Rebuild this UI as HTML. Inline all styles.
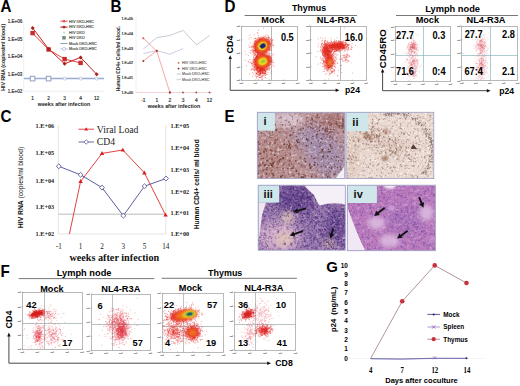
<!DOCTYPE html>
<html><head><meta charset="utf-8"><style>
html,body{margin:0;padding:0;background:#fff;}
svg{display:block;}
</style></head><body>
<svg width="520" height="386" viewBox="0 0 520 386">
<defs>
<filter id="gb" x="0" y="0" width="520" height="386" filterUnits="userSpaceOnUse"><feConvolveMatrix order="3" kernelMatrix="1 2 1 2 5 2 1 2 1" divisor="17" edgeMode="duplicate"/></filter>
<filter id="b5" x="-50%" y="-50%" width="200%" height="200%"><feGaussianBlur stdDeviation="0.5"/></filter>
<filter id="b6" x="-50%" y="-50%" width="200%" height="200%"><feGaussianBlur stdDeviation="0.6"/></filter>
<filter id="b8" x="-50%" y="-50%" width="200%" height="200%"><feGaussianBlur stdDeviation="0.8"/></filter>
<filter id="b10" x="-50%" y="-50%" width="200%" height="200%"><feGaussianBlur stdDeviation="1"/></filter>
<filter id="b15" x="-50%" y="-50%" width="200%" height="200%"><feGaussianBlur stdDeviation="1.5"/></filter>
<filter id="b20" x="-50%" y="-50%" width="200%" height="200%"><feGaussianBlur stdDeviation="2"/></filter>
<filter id="b25" x="-50%" y="-50%" width="200%" height="200%"><feGaussianBlur stdDeviation="2.5"/></filter>
<filter id="b30" x="-50%" y="-50%" width="200%" height="200%"><feGaussianBlur stdDeviation="3"/></filter>
<filter id="b40" x="-50%" y="-50%" width="200%" height="200%"><feGaussianBlur stdDeviation="4"/></filter>
<filter id="b50" x="-50%" y="-50%" width="200%" height="200%"><feGaussianBlur stdDeviation="5"/></filter>
<filter id="b60" x="-50%" y="-50%" width="200%" height="200%"><feGaussianBlur stdDeviation="6"/></filter>
<filter id="nzI" x="0" y="0" width="100%" height="100%" color-interpolation-filters="sRGB"><feTurbulence type="fractalNoise" baseFrequency="0.35" numOctaves="2" seed="3" result="n"/><feColorMatrix in="n" type="matrix" values="0 0 0 0 0.431 0 0 0 0 0.275 0 0 0 0 0.294 2.2 0 0 0 -1.220" result="d"/><feColorMatrix in="n" type="matrix" values="0 0 0 0 0.910 0 0 0 0 0.863 0 0 0 0 0.902 0 -2.4 0 0 1.150" result="l"/><feMerge result="m"><feMergeNode in="d"/><feMergeNode in="l"/></feMerge><feGaussianBlur in="m" stdDeviation="0.35"/></filter>
<filter id="nzII" x="0" y="0" width="100%" height="100%" color-interpolation-filters="sRGB"><feTurbulence type="fractalNoise" baseFrequency="0.4" numOctaves="2" seed="5" result="n"/><feColorMatrix in="n" type="matrix" values="0 0 0 0 0.588 0 0 0 0 0.471 0 0 0 0 0.431 2.0 0 0 0 -1.140" result="d"/><feColorMatrix in="n" type="matrix" values="0 0 0 0 0.988 0 0 0 0 0.973 0 0 0 0 0.961 0 -2.4 0 0 1.200" result="l"/><feMerge result="m"><feMergeNode in="d"/><feMergeNode in="l"/></feMerge><feGaussianBlur in="m" stdDeviation="0.35"/></filter>
<filter id="nzIII" x="0" y="0" width="100%" height="100%" color-interpolation-filters="sRGB"><feTurbulence type="fractalNoise" baseFrequency="0.3" numOctaves="2" seed="9" result="n"/><feColorMatrix in="n" type="matrix" values="0 0 0 0 0.314 0 0 0 0 0.176 0 0 0 0 0.451 2.0 0 0 0 -1.100" result="d"/><feColorMatrix in="n" type="matrix" values="0 0 0 0 0.910 0 0 0 0 0.804 0 0 0 0 0.894 0 -2.0 0 0 0.880" result="l"/><feMerge result="m"><feMergeNode in="d"/><feMergeNode in="l"/></feMerge><feGaussianBlur in="m" stdDeviation="0.35"/></filter>
<filter id="nzIV" x="0" y="0" width="100%" height="100%" color-interpolation-filters="sRGB"><feTurbulence type="fractalNoise" baseFrequency="0.3" numOctaves="2" seed="11" result="n"/><feColorMatrix in="n" type="matrix" values="0 0 0 0 0.431 0 0 0 0 0.314 0 0 0 0 0.667 2.0 0 0 0 -1.100" result="d"/><feColorMatrix in="n" type="matrix" values="0 0 0 0 0.894 0 0 0 0 0.725 0 0 0 0 0.894 0 -2.0 0 0 0.900" result="l"/><feMerge result="m"><feMergeNode in="d"/><feMergeNode in="l"/></feMerge><feGaussianBlur in="m" stdDeviation="0.35"/></filter>
</defs>
<rect width="520" height="386" fill="#fff"/>
<text x="0" y="0" font-family="Liberation Sans, sans-serif" font-size="16" font-weight="bold" text-anchor="start" fill="#000" transform="translate(0.5 12.2) scale(0.95 1)">A</text>
<line x1="23.7" y1="21" x2="23.7" y2="91.4" stroke="#e4e4e4" stroke-width="0.6"/>
<line x1="23.7" y1="91.4" x2="104" y2="91.4" stroke="#e4e4e4" stroke-width="0.6"/>
<text x="22.2" y="23.400000000000002" font-family="Liberation Sans, sans-serif" font-size="4.5" font-weight="normal" text-anchor="end" fill="#333" stroke="#333" stroke-width="0.18">1.E+06</text>
<text x="22.2" y="40.9" font-family="Liberation Sans, sans-serif" font-size="4.5" font-weight="normal" text-anchor="end" fill="#333" stroke="#333" stroke-width="0.18">1.E+05</text>
<text x="22.2" y="58.1" font-family="Liberation Sans, sans-serif" font-size="4.5" font-weight="normal" text-anchor="end" fill="#333" stroke="#333" stroke-width="0.18">1.E+04</text>
<text x="22.2" y="75.6" font-family="Liberation Sans, sans-serif" font-size="4.5" font-weight="normal" text-anchor="end" fill="#333" stroke="#333" stroke-width="0.18">1.E+03</text>
<text x="22.2" y="93.0" font-family="Liberation Sans, sans-serif" font-size="4.5" font-weight="normal" text-anchor="end" fill="#333" stroke="#333" stroke-width="0.18">1.E+02</text>
<text x="0" y="0" font-family="Liberation Sans, sans-serif" font-size="5.3" font-weight="bold" text-anchor="middle" fill="#222" transform="translate(5.2 57.3) rotate(-90)">HIV RNA (copies/ml blood)</text>
<text x="32.6" y="99.7" font-family="Liberation Sans, sans-serif" font-size="4.8" font-weight="normal" text-anchor="middle" fill="#333" stroke="#333" stroke-width="0.18">1</text>
<text x="48.6" y="99.7" font-family="Liberation Sans, sans-serif" font-size="4.8" font-weight="normal" text-anchor="middle" fill="#333" stroke="#333" stroke-width="0.18">2</text>
<text x="64.6" y="99.7" font-family="Liberation Sans, sans-serif" font-size="4.8" font-weight="normal" text-anchor="middle" fill="#333" stroke="#333" stroke-width="0.18">3</text>
<text x="80.6" y="99.7" font-family="Liberation Sans, sans-serif" font-size="4.8" font-weight="normal" text-anchor="middle" fill="#333" stroke="#333" stroke-width="0.18">4</text>
<text x="96.6" y="99.7" font-family="Liberation Sans, sans-serif" font-size="4.8" font-weight="normal" text-anchor="middle" fill="#333" stroke="#333" stroke-width="0.18">12</text>
<text x="64" y="105.6" font-family="Liberation Sans, sans-serif" font-size="5.3" font-weight="bold" text-anchor="middle" fill="#222">weeks after infection</text>
<polyline points="24.0,78.6 104.0,78.6" fill="none" stroke="#98acd4" stroke-width="1.5"/>
<rect x="30.3" y="76.3" width="4.6" height="4.6" fill="#fff" stroke="#8898b8" stroke-width="0.9"/>
<rect x="46.300000000000004" y="76.3" width="4.6" height="4.6" fill="#fff" stroke="#8898b8" stroke-width="0.9"/>
<circle cx="64.6" cy="78.6" r="1.5" fill="#fff" stroke="#b0bcd8" stroke-width="0.7"/>
<circle cx="80.6" cy="78.6" r="1.5" fill="#fff" stroke="#b0bcd8" stroke-width="0.7"/>
<circle cx="96.6" cy="78.6" r="1.5" fill="#fff" stroke="#b0bcd8" stroke-width="0.7"/>
<polyline points="32.6,33.1 48.6,49.5 64.6,59.1 80.6,62.9" fill="none" stroke="#e04848" stroke-width="1.0"/>
<polyline points="32.6,27.9 48.6,49.0 64.6,63.8 80.6,57.4 96.6,74.2" fill="none" stroke="#c02222" stroke-width="1.0"/>
<rect x="30.400000000000002" y="30.900000000000002" width="4.4" height="4.4" fill="#cc2a2a" stroke="none" stroke-width="1"/>
<rect x="46.4" y="47.3" width="4.4" height="4.4" fill="#cc2a2a" stroke="none" stroke-width="1"/>
<rect x="62.39999999999999" y="56.9" width="4.4" height="4.4" fill="#cc2a2a" stroke="none" stroke-width="1"/>
<rect x="78.39999999999999" y="60.699999999999996" width="4.4" height="4.4" fill="#cc2a2a" stroke="none" stroke-width="1"/>
<path d="M32.6 25.9 L34.6 27.9 L32.6 29.9 L30.6 27.9 Z" fill="#a81c1c"/>
<path d="M48.6 47.0 L50.6 49.0 L48.6 51.0 L46.6 49.0 Z" fill="#a81c1c"/>
<path d="M64.6 61.8 L66.6 63.8 L64.6 65.8 L62.599999999999994 63.8 Z" fill="#a81c1c"/>
<path d="M80.6 55.4 L82.6 57.4 L80.6 59.4 L78.6 57.4 Z" fill="#a81c1c"/>
<path d="M96.6 72.2 L98.6 74.2 L96.6 76.2 L94.6 74.2 Z" fill="#a81c1c"/>
<line x1="60.4" y1="21.2" x2="67.6" y2="21.2" stroke="#e05050" stroke-width="1.0"/>
<path d="M64 19.599999999999998 L65.6 21.2 L64 22.8 L62.4 21.2 Z" fill="#e05050"/>
<text x="69.1" y="22.55" font-family="Liberation Sans, sans-serif" font-size="3.8" font-weight="normal" text-anchor="start" fill="#3a403a" stroke="#3a403a" stroke-width="0.12">HIV DKO-HSC</text>
<line x1="60.4" y1="27.1" x2="67.6" y2="27.1" stroke="#b01818" stroke-width="1.0"/>
<path d="M64 25.5 L65.6 27.1 L64 28.700000000000003 L62.4 27.1 Z" fill="#b01818"/>
<text x="69.1" y="28.450000000000003" font-family="Liberation Sans, sans-serif" font-size="3.8" font-weight="normal" text-anchor="start" fill="#3a403a" stroke="#3a403a" stroke-width="0.12">HIV DKO-HSC</text>
<circle cx="64" cy="32.4" r="1.0" fill="#c8d8c0" stroke="none" stroke-width="1"/>
<text x="69.1" y="33.75" font-family="Liberation Sans, sans-serif" font-size="3.8" font-weight="normal" text-anchor="start" fill="#3a403a" stroke="#3a403a" stroke-width="0.12">HIV DKO</text>
<rect x="62.3" y="36.099999999999994" width="3.4" height="3.4" fill="#6a8a74" stroke="none" stroke-width="1"/>
<text x="69.1" y="39.15" font-family="Liberation Sans, sans-serif" font-size="3.8" font-weight="normal" text-anchor="start" fill="#3a403a" stroke="#3a403a" stroke-width="0.12">HIV DKO</text>
<line x1="60.4" y1="43.5" x2="67.6" y2="43.5" stroke="#8fa3c8" stroke-width="1.0"/>
<text x="69.1" y="44.85" font-family="Liberation Sans, sans-serif" font-size="3.8" font-weight="normal" text-anchor="start" fill="#3a403a" stroke="#3a403a" stroke-width="0.12">Mock DKO-HSC</text>
<line x1="60.4" y1="48.9" x2="67.6" y2="48.9" stroke="#b0b8e0" stroke-width="1.0"/>
<circle cx="64" cy="48.9" r="1.5" fill="#fff" stroke="#b0b8e0" stroke-width="0.7"/>
<text x="69.1" y="50.25" font-family="Liberation Sans, sans-serif" font-size="3.8" font-weight="normal" text-anchor="start" fill="#3a403a" stroke="#3a403a" stroke-width="0.12">Mock DKO-HSC</text>
<text x="0" y="0" font-family="Liberation Sans, sans-serif" font-size="16" font-weight="bold" text-anchor="start" fill="#000" transform="translate(110.4 12.2) scale(0.95 1)">B</text>
<line x1="136" y1="17" x2="136" y2="92.6" stroke="#e8e8e8" stroke-width="0.6"/>
<text x="133.0" y="20.0" font-family="Liberation Sans, sans-serif" font-size="3.6" font-weight="normal" text-anchor="end" fill="#333" stroke="#333" stroke-width="0.18">1.E+05</text>
<text x="133.0" y="34.699999999999996" font-family="Liberation Sans, sans-serif" font-size="3.6" font-weight="normal" text-anchor="end" fill="#333" stroke="#333" stroke-width="0.18">1.E+04</text>
<text x="133.0" y="49.5" font-family="Liberation Sans, sans-serif" font-size="3.6" font-weight="normal" text-anchor="end" fill="#333" stroke="#333" stroke-width="0.18">1.E+03</text>
<text x="133.0" y="64.3" font-family="Liberation Sans, sans-serif" font-size="3.6" font-weight="normal" text-anchor="end" fill="#333" stroke="#333" stroke-width="0.18">1.E+02</text>
<text x="133.0" y="79.1" font-family="Liberation Sans, sans-serif" font-size="3.6" font-weight="normal" text-anchor="end" fill="#333" stroke="#333" stroke-width="0.18">1.E+01</text>
<text x="133.0" y="93.89999999999999" font-family="Liberation Sans, sans-serif" font-size="3.6" font-weight="normal" text-anchor="end" fill="#333" stroke="#333" stroke-width="0.18">1.E+00</text>
<text x="0" y="0" font-family="Liberation Sans, sans-serif" font-size="4.8" font-weight="bold" text-anchor="middle" fill="#333" transform="translate(119.6 58.6) rotate(-90)" stroke="#333" stroke-width="0.05">Human CD4+ Cells/ml blood.</text>
<text x="143.3" y="101.9" font-family="Liberation Sans, sans-serif" font-size="4.8" font-weight="normal" text-anchor="middle" fill="#333" stroke="#333" stroke-width="0.18">-1</text>
<text x="156.8" y="101.9" font-family="Liberation Sans, sans-serif" font-size="4.8" font-weight="normal" text-anchor="middle" fill="#333" stroke="#333" stroke-width="0.18">1</text>
<text x="169.9" y="101.9" font-family="Liberation Sans, sans-serif" font-size="4.8" font-weight="normal" text-anchor="middle" fill="#333" stroke="#333" stroke-width="0.18">2</text>
<text x="183.0" y="101.9" font-family="Liberation Sans, sans-serif" font-size="4.8" font-weight="normal" text-anchor="middle" fill="#333" stroke="#333" stroke-width="0.18">3</text>
<text x="196.3" y="101.9" font-family="Liberation Sans, sans-serif" font-size="4.8" font-weight="normal" text-anchor="middle" fill="#333" stroke="#333" stroke-width="0.18">4</text>
<text x="209.5" y="101.9" font-family="Liberation Sans, sans-serif" font-size="4.8" font-weight="normal" text-anchor="middle" fill="#333" stroke="#333" stroke-width="0.18">12</text>
<text x="174" y="107.8" font-family="Liberation Sans, sans-serif" font-size="5.3" font-weight="bold" text-anchor="middle" fill="#222">weeks after infection</text>
<polyline points="143.3,49.0 156.8,37.6 169.8,35.5 183.1,30.4 196.6,44.9 209.6,35.5" fill="none" stroke="#cacad6" stroke-width="1.0"/>
<polyline points="143.3,53.6 156.8,50.7 169.8,54.2 183.1,48.6" fill="none" stroke="#d2cce6" stroke-width="1.0"/>
<polyline points="136.0,92.5 212.0,92.5" fill="none" stroke="#f0c8cc" stroke-width="0.8"/>
<polyline points="143.3,38.2 156.8,51.1 169.9,92.5" fill="none" stroke="#f28a8a" stroke-width="0.75"/>
<polyline points="143.3,61.0 156.8,50.7" fill="none" stroke="#e88080" stroke-width="0.75"/>
<path d="M143.3 37.0 L144.5 38.2 L143.3 39.400000000000006 L142.10000000000002 38.2 Z" fill="#e05050"/>
<path d="M156.8 49.9 L158.0 51.1 L156.8 52.300000000000004 L155.60000000000002 51.1 Z" fill="#e05050"/>
<path d="M169.9 91.3 L171.1 92.5 L169.9 93.7 L168.70000000000002 92.5 Z" fill="#e05050"/>
<path d="M143.3 59.8 L144.5 61.0 L143.3 62.2 L142.10000000000002 61.0 Z" fill="#a03030"/>
<path d="M156.8 49.5 L158.0 50.7 L156.8 51.900000000000006 L155.60000000000002 50.7 Z" fill="#a03030"/>
<path d="M169.9 91.3 L171.1 92.5 L169.9 93.7 L168.70000000000002 92.5 Z" fill="#a03030"/>
<rect x="169.1" y="91.7" width="1.6" height="1.6" fill="#a04050" stroke="none" stroke-width="1"/>
<rect x="182.2" y="91.7" width="1.6" height="1.6" fill="#a04050" stroke="none" stroke-width="1"/>
<rect x="195.5" y="91.7" width="1.6" height="1.6" fill="#a04050" stroke="none" stroke-width="1"/>
<rect x="208.7" y="91.7" width="1.6" height="1.6" fill="#a04050" stroke="none" stroke-width="1"/>
<path d="M178.6 61.8 L179.7 62.9 L178.6 64.0 L177.5 62.9 Z" fill="#e06060"/>
<text x="182.1" y="64.25" font-family="Liberation Sans, sans-serif" font-size="3.75" font-weight="normal" text-anchor="start" fill="#505050" stroke="#505050" stroke-width="0.08">HIV DKO-HSC</text>
<path d="M178.6 67.5 L179.7 68.6 L178.6 69.69999999999999 L177.5 68.6 Z" fill="#902030"/>
<text x="182.1" y="69.94999999999999" font-family="Liberation Sans, sans-serif" font-size="3.75" font-weight="normal" text-anchor="start" fill="#505050" stroke="#505050" stroke-width="0.08">HIV DKO-HSC</text>
<line x1="176.6" y1="74.0" x2="181" y2="74.0" stroke="#d0d0dc" stroke-width="1.2"/>
<text x="182.1" y="75.35" font-family="Liberation Sans, sans-serif" font-size="3.75" font-weight="normal" text-anchor="start" fill="#505050" stroke="#505050" stroke-width="0.08">Mock DKO-HSC</text>
<line x1="176.6" y1="79.5" x2="181" y2="79.5" stroke="#d8d4ec" stroke-width="1.2"/>
<text x="182.1" y="80.85" font-family="Liberation Sans, sans-serif" font-size="3.75" font-weight="normal" text-anchor="start" fill="#505050" stroke="#505050" stroke-width="0.08">Mock DKO-HSC</text>
<text x="0" y="0" font-family="Liberation Sans, sans-serif" font-size="16" font-weight="bold" text-anchor="start" fill="#000" transform="translate(0.6 121.9) scale(0.95 1)">C</text>
<line x1="58.4" y1="125" x2="58.4" y2="234" stroke="#d8d8d8" stroke-width="0.7"/>
<line x1="165.8" y1="125" x2="165.8" y2="234" stroke="#d8d8d8" stroke-width="0.7"/>
<line x1="58.4" y1="234" x2="166" y2="234" stroke="#d8d8d8" stroke-width="0.7"/>
<line x1="58.4" y1="214.2" x2="166" y2="214.2" stroke="#a8a8a8" stroke-width="0.8"/>
<text x="54.1" y="128.4" font-family="Liberation Serif, serif" font-size="6.2" font-weight="bold" text-anchor="end" fill="#222">1.E+06</text>
<text x="54.1" y="155.4" font-family="Liberation Serif, serif" font-size="6.2" font-weight="bold" text-anchor="end" fill="#222">1.E+05</text>
<text x="54.1" y="182.5" font-family="Liberation Serif, serif" font-size="6.2" font-weight="bold" text-anchor="end" fill="#222">1.E+04</text>
<text x="54.1" y="209.0" font-family="Liberation Serif, serif" font-size="6.2" font-weight="bold" text-anchor="end" fill="#222">1.E+03</text>
<text x="54.1" y="236.0" font-family="Liberation Serif, serif" font-size="6.2" font-weight="bold" text-anchor="end" fill="#222">1.E+02</text>
<text x="170.6" y="128.4" font-family="Liberation Serif, serif" font-size="6.2" font-weight="bold" text-anchor="start" fill="#222">1.E+05</text>
<text x="170.6" y="150.3" font-family="Liberation Serif, serif" font-size="6.2" font-weight="bold" text-anchor="start" fill="#222">1.E+04</text>
<text x="170.6" y="172.0" font-family="Liberation Serif, serif" font-size="6.2" font-weight="bold" text-anchor="start" fill="#222">1.E+03</text>
<text x="170.6" y="193.5" font-family="Liberation Serif, serif" font-size="6.2" font-weight="bold" text-anchor="start" fill="#222">1.E+02</text>
<text x="170.6" y="215.0" font-family="Liberation Serif, serif" font-size="6.2" font-weight="bold" text-anchor="start" fill="#222">1.E+01</text>
<text x="170.6" y="236.0" font-family="Liberation Serif, serif" font-size="6.2" font-weight="bold" text-anchor="start" fill="#222">1.E+00</text>
<text x="0" y="0" font-family="Liberation Sans, sans-serif" font-size="6.8" text-anchor="middle" fill="#111" transform="translate(23.2 187.5) rotate(-90)"><tspan font-weight="bold">HIV RNA </tspan>(copies/ml blood)</text>
<text x="0" y="0" font-family="Liberation Sans, sans-serif" font-size="6.7" font-weight="bold" text-anchor="middle" fill="#111" transform="translate(198.6 184.3) rotate(-90)">Human CD4+ cells/ ml blood</text>
<text x="58.8" y="248.6" font-family="Liberation Serif, serif" font-size="7.2" font-weight="normal" text-anchor="middle" fill="#222">-1</text>
<text x="80.6" y="248.6" font-family="Liberation Serif, serif" font-size="7.2" font-weight="normal" text-anchor="middle" fill="#222">1</text>
<text x="102.0" y="248.6" font-family="Liberation Serif, serif" font-size="7.2" font-weight="normal" text-anchor="middle" fill="#222">2</text>
<text x="123.3" y="248.6" font-family="Liberation Serif, serif" font-size="7.2" font-weight="normal" text-anchor="middle" fill="#222">3</text>
<text x="144.6" y="248.6" font-family="Liberation Serif, serif" font-size="7.2" font-weight="normal" text-anchor="middle" fill="#222">5</text>
<text x="165.8" y="248.6" font-family="Liberation Serif, serif" font-size="7.2" font-weight="normal" text-anchor="middle" fill="#222">14</text>
<text x="114.3" y="261.2" font-family="Liberation Serif, serif" font-size="10.2" font-weight="bold" text-anchor="middle" fill="#111">weeks after infection</text>
<polyline points="69.4,234.0 80.6,181.4 102.0,153.4 122.8,150.0 144.4,172.8 165.6,215.0" fill="none" stroke="#e03838" stroke-width="0.95"/>
<polyline points="58.8,166.3 80.6,174.8 102.0,187.6 123.3,215.7 144.5,186.2 166.0,178.5" fill="none" stroke="#55559a" stroke-width="0.95"/>
<path d="M80.6 179.1 L82.8 183.0 L78.39999999999999 183.0 Z" fill="#d82020"/>
<path d="M102.0 151.1 L104.2 155.0 L99.8 155.0 Z" fill="#d82020"/>
<path d="M122.8 147.7 L125.0 151.6 L120.6 151.6 Z" fill="#d82020"/>
<path d="M144.4 170.5 L146.6 174.4 L142.20000000000002 174.4 Z" fill="#d82020"/>
<path d="M165.6 212.7 L167.79999999999998 216.6 L163.4 216.6 Z" fill="#d82020"/>
<path d="M58.8 163.9 L61.3 166.3 L58.8 168.70000000000002 L56.3 166.3 Z" fill="#fff" stroke="#4a4a90" stroke-width="0.8"/>
<path d="M80.6 172.4 L83.1 174.8 L80.6 177.20000000000002 L78.1 174.8 Z" fill="#fff" stroke="#4a4a90" stroke-width="0.8"/>
<path d="M102.0 185.2 L104.5 187.6 L102.0 190.0 L99.5 187.6 Z" fill="#fff" stroke="#4a4a90" stroke-width="0.8"/>
<path d="M123.3 213.29999999999998 L125.8 215.7 L123.3 218.1 L120.8 215.7 Z" fill="#fff" stroke="#4a4a90" stroke-width="0.8"/>
<path d="M144.5 183.79999999999998 L147.0 186.2 L144.5 188.6 L142.0 186.2 Z" fill="#fff" stroke="#4a4a90" stroke-width="0.8"/>
<path d="M166.0 176.1 L168.5 178.5 L166.0 180.9 L163.5 178.5 Z" fill="#fff" stroke="#4a4a90" stroke-width="0.8"/>
<line x1="78.4" y1="129.2" x2="94" y2="129.2" stroke="#e03838" stroke-width="0.9"/>
<path d="M86.2 127.2 L88.1 130.6 L84.3 130.6 Z" fill="#d82020"/>
<text x="96.8" y="132.6" font-family="Liberation Serif, serif" font-size="9.7" font-weight="normal" text-anchor="start" fill="#222">Viral Load</text>
<line x1="78.4" y1="142.0" x2="94" y2="142.0" stroke="#5a5a9a" stroke-width="0.9"/>
<path d="M86.2 139.8 L88.5 142 L86.2 144.2 L83.9 142 Z" fill="#fff" stroke="#4a4a90" stroke-width="0.7"/>
<text x="96.8" y="145.4" font-family="Liberation Serif, serif" font-size="9.7" font-weight="normal" text-anchor="start" fill="#222">CD4</text>
<text x="0" y="0" font-family="Liberation Sans, sans-serif" font-size="16" font-weight="bold" text-anchor="start" fill="#000" transform="translate(224.6 12.4) scale(0.95 1)">D</text>
<text x="0" y="0" font-family="Liberation Sans, sans-serif" font-size="9.4" font-weight="bold" text-anchor="middle" fill="#000" transform="translate(309 11.1) scale(0.95 1)">Thymus</text>
<line x1="244.6" y1="15.5" x2="357" y2="15.5" stroke="#555" stroke-width="0.8"/>
<text x="0" y="0" font-family="Liberation Sans, sans-serif" font-size="9.5" font-weight="bold" text-anchor="middle" fill="#000" transform="translate(273.0 23.2) scale(0.96 1)">Mock</text>
<text x="0" y="0" font-family="Liberation Sans, sans-serif" font-size="9.6" font-weight="bold" text-anchor="middle" fill="#000" transform="translate(336.4 23.2) scale(0.965 1)">NL4-R3A</text>
<text x="0" y="0" font-family="Liberation Sans, sans-serif" font-size="9.6" font-weight="bold" text-anchor="middle" fill="#000" transform="translate(452.6 12.3) scale(0.965 1)">Lymph node</text>
<line x1="396" y1="15.5" x2="518" y2="15.5" stroke="#555" stroke-width="0.8"/>
<text x="0" y="0" font-family="Liberation Sans, sans-serif" font-size="9.5" font-weight="bold" text-anchor="middle" fill="#000" transform="translate(427.3 23.2) scale(0.96 1)">Mock</text>
<text x="0" y="0" font-family="Liberation Sans, sans-serif" font-size="9.6" font-weight="bold" text-anchor="middle" fill="#000" transform="translate(486 23.2) scale(0.965 1)">NL4-R3A</text>
<rect x="241.5" y="26.5" width="56.0" height="54.0" fill="#fff" stroke="#a8a8a8" stroke-width="0.8"/>
<text x="240.10000000000002" y="27.1" font-family="Liberation Sans, sans-serif" font-size="2.4" font-weight="normal" text-anchor="end" fill="#777" stroke="#777" stroke-width="0.18">10¹</text>
<line x1="241.3" y1="26.3" x2="242.5" y2="26.3" stroke="#888" stroke-width="0.4"/>
<text x="240.10000000000002" y="40.65" font-family="Liberation Sans, sans-serif" font-size="2.4" font-weight="normal" text-anchor="end" fill="#777" stroke="#777" stroke-width="0.18">10¹</text>
<line x1="241.3" y1="39.85" x2="242.5" y2="39.85" stroke="#888" stroke-width="0.4"/>
<text x="240.10000000000002" y="54.2" font-family="Liberation Sans, sans-serif" font-size="2.4" font-weight="normal" text-anchor="end" fill="#777" stroke="#777" stroke-width="0.18">10¹</text>
<line x1="241.3" y1="53.400000000000006" x2="242.5" y2="53.400000000000006" stroke="#888" stroke-width="0.4"/>
<text x="240.10000000000002" y="67.75" font-family="Liberation Sans, sans-serif" font-size="2.4" font-weight="normal" text-anchor="end" fill="#777" stroke="#777" stroke-width="0.18">10¹</text>
<line x1="241.3" y1="66.95" x2="242.5" y2="66.95" stroke="#888" stroke-width="0.4"/>
<text x="240.10000000000002" y="81.3" font-family="Liberation Sans, sans-serif" font-size="2.4" font-weight="normal" text-anchor="end" fill="#777" stroke="#777" stroke-width="0.18">10¹</text>
<line x1="241.3" y1="80.5" x2="242.5" y2="80.5" stroke="#888" stroke-width="0.4"/>
<text x="241.3" y="83.9" font-family="Liberation Sans, sans-serif" font-size="2.4" font-weight="normal" text-anchor="middle" fill="#777" stroke="#777" stroke-width="0.18">10¹</text>
<line x1="241.3" y1="80.5" x2="241.3" y2="79.3" stroke="#888" stroke-width="0.4"/>
<text x="255.35000000000002" y="83.9" font-family="Liberation Sans, sans-serif" font-size="2.4" font-weight="normal" text-anchor="middle" fill="#777" stroke="#777" stroke-width="0.18">10¹</text>
<line x1="255.35000000000002" y1="80.5" x2="255.35000000000002" y2="79.3" stroke="#888" stroke-width="0.4"/>
<text x="269.4" y="83.9" font-family="Liberation Sans, sans-serif" font-size="2.4" font-weight="normal" text-anchor="middle" fill="#777" stroke="#777" stroke-width="0.18">10¹</text>
<line x1="269.4" y1="80.5" x2="269.4" y2="79.3" stroke="#888" stroke-width="0.4"/>
<text x="283.45" y="83.9" font-family="Liberation Sans, sans-serif" font-size="2.4" font-weight="normal" text-anchor="middle" fill="#777" stroke="#777" stroke-width="0.18">10¹</text>
<line x1="283.45" y1="80.5" x2="283.45" y2="79.3" stroke="#888" stroke-width="0.4"/>
<text x="297.5" y="83.9" font-family="Liberation Sans, sans-serif" font-size="2.4" font-weight="normal" text-anchor="middle" fill="#777" stroke="#777" stroke-width="0.18">10¹</text>
<line x1="297.5" y1="80.5" x2="297.5" y2="79.3" stroke="#888" stroke-width="0.4"/>
<clipPath id="cD1"><rect x="241.3" y="26.3" width="56.19999999999999" height="54.2"/></clipPath>
<line x1="271.5" y1="26.5" x2="271.5" y2="80.5" stroke="#999" stroke-width="0.7"/>
<path d="M244.9 51h0m.1 9.3h0m1.1-6.1h0m.4 11.7h0m1.6-4.7h0m.3-5.6h0m.1 6.3h0m.5-16.5h0m.1-6.5h0m.2 8.7h0m.4 26.2h0m.1-38.6h0m.1 17.1h0m0 7.2h0m.2 3h0m.1-15.6h0m.2 3.5h0m.4-7.5h0m.1 10.4h0m0 8.7h0m.2-24.5h0m0 32.3h0m.2-22.5h0m0 16.2h0m0 6.5h0m.3-5.9h0m.1-13.8h0m0 13.1h0m.1-17.3h0m0 22.2h0m.3-2.2h0m.1-19.3h0m0 2.6h0m.1 2.7h0m.2-1.2h0m0 12h0m.1-15.9h0m.1 16.9h0m0 5.7h0m0 3.1h0m.1-6.6h0m.1 2.7h0m0 7.7h0m.1-16.4h0m.1-7.8h0m0 2.1h0m0 11.4h0m.1-19.5h0m0 13.8h0m.1-12.9h0m0 3.2h0m0 1h0m.1-5h0m.1 10.7h0m0 5.6h0m.1 6.6h0m0 4.8h0m.1-21.4h0m0 .5h0m0 8h0m.1-10.3h0m0 .2h0m0 6.7h0m.1-19.1h0m0 20.6h0m0 5h0m0 5.6h0m.1-14.3h0m0 9.5h0m0 2.6h0m.1-22.8h0m0 3.3h0m0 13.2h0m0 6.3h0m.1-17.6h0m0 12.2h0m0 5h0m.1-32.5h0m0 24.2h0m0 .8h0m0 10.6h0m.1-28.6h0m0 20h0m0 4h0m.1-22.4h0m0 1.5h0m0 19.9h0m.1-23h0m0 20.7h0m.1-18.7h0m0 7.4h0m0 2.5h0m0 10.5h0m0 2.3h0m0 .5h0m0 4.9h0m.1-17h0m0 .4h0m0 4.8h0m0 1.4h0m0 7.6h0m.1-22h0m0 12.3h0m0 2h0m0 9.1h0m.1-27.3h0m0 .9h0m0 6.3h0m0 2.5h0m0 11h0m.1-19h0m0 2.8h0m0 2.3h0m0 3.8h0m0 15h0m0 .7h0m.1-24.3h0m0 1.1h0m0 20.2h0m.1-28.2h0m0 6h0m0 .6h0m0 1.8h0m0 .2h0m0 3.3h0m0 0h0m0 .8h0m0 1.1h0m0 2.3h0m0 5.2h0m0 8.4h0m.1-22.8h0m0 .5h0m0 8.6h0m0 3.7h0m0 2.2h0m0 15.7h0m.1-37.6h0m0 2.8h0m0 5.4h0m0 .1h0m0 .2h0m0 2.1h0m0 9h0m0 3.1h0m0 .3h0m0 .1h0m0 4.5h0m.1-18.9h0m0 .6h0m0 1.4h0m0 1.1h0m0 8.6h0m0 6.4h0m.1-24.3h0m0 2.2h0m0 1.2h0m0 .5h0m0 4.6h0m0 .3h0m0 1.9h0m0 7.9h0m0 5h0m0 5.7h0m.1-19.6h0m0 4.6h0m0 7.3h0m0 2h0m0 7.9h0m.1-30.6h0m0 2.6h0m0 2.6h0m0 4.3h0m0 8.1h0m0 .8h0m0 4h0m.1-23.5h0m0 8.2h0m0 3.5h0m0 10.5h0m0 1.3h0m0 .5h0m0 3.2h0m0 1h0m0 5.3h0m.1-35.5h0m0 5.7h0m0 6.3h0m0 7.2h0m0 6.9h0m0 1.6h0m.1-20.3h0m0 1.1h0m0 .5h0m0 4.9h0m0 3.9h0m0 7h0m0 2.5h0m0 2h0m0 1.2h0m0 4.9h0m.1-16.8h0m0 .5h0m0 2.2h0m0 4.4h0m0 4.3h0m.1-25.3h0m0 13.1h0m0 3.8h0m0 4.8h0m0 .3h0m0 2.3h0m0 .1h0m0 1.3h0m0 4.6h0m0 3.4h0m0 1.1h0m.1-32h0m0 .9h0m0 11.9h0m0 4.3h0m0 .9h0m0 6.5h0m.1-22.5h0m0 8.5h0m0 1.1h0m0 2h0m0 1.9h0m0 1h0m0 10.8h0m.1-27.1h0m0 9.9h0m0 1.3h0m0 4.6h0m0 5.4h0m0 2h0m0 2.6h0m0 1.3h0m.1-31.3h0m0 2.1h0m0 .6h0m0 3.3h0m0 1.9h0m0 .5h0m0 1.3h0m0 4.4h0m0 1.3h0m0 11.6h0m0 4.7h0m.1-31.7h0m0 3.3h0m0 .5h0m0 1.7h0m0 4.9h0m0 .2h0m0 4.2h0m0 6.1h0m0 1.5h0m0 3.5h0m.1-23.2h0m0 5h0m0 1h0m0 4.6h0m0 .2h0m0 2.8h0m0 4.9h0m0 .6h0m0 .8h0m0 1.6h0m0 4.4h0m0 6h0m.1-37.1h0m0 3h0m0 .6h0m0 2.1h0m0 3.1h0m0 4.5h0m0 4.2h0m0 3.9h0m.1-14.1h0m0 1.3h0m0 8.2h0m0 1.8h0m0 .9h0m0 4.2h0m0 1.9h0m0 1.1h0m0 .1h0m0 1.1h0m0 3.1h0m0 5.6h0m.1-32.5h0m0 6.4h0m0 .7h0m0 4.6h0m0 3.9h0m0 2.3h0m0 .6h0m0 4.9h0m0 1.3h0m0 1.4h0m0 4.7h0m.1-41.9h0m0 14h0m0 .9h0m0 1.2h0m0 7h0m0 5.5h0m0 .7h0m0 1.8h0m0 .5h0m0 2.1h0m0 1.2h0m0 .7h0m0 .4h0m0 .9h0m0 .2h0m0 .3h0m.1-28.7h0m0 4.3h0m0 5.8h0m0 .1h0m0 1.8h0m0 3.7h0m0 3.4h0m0 1.3h0m0 4.3h0m.1-23.5h0m0 1.6h0m0 .5h0m0 2.4h0m0 5.6h0m0 .5h0m0 4.2h0m0 1.3h0m0 .8h0m0 1.2h0m0 3h0m0 .1h0m0 .4h0m0 .5h0m0 .4h0m0 1.3h0m0 .7h0m0 .2h0m0 1.2h0m0 2.6h0m0 .8h0m0 .4h0m.1-30.5h0m0 1.2h0m0 .2h0m0 2.5h0m0 3.6h0m0 8.3h0m0 0h0m0 7.6h0m0 .9h0m0 2.8h0m.1-26.7h0m0 4.8h0m0 1.4h0m0 .1h0m0 3.6h0m0 1.7h0m0 .7h0m0 .2h0m0 5.8h0m0 .1h0m0 2.4h0m0 8.7h0m.1-28.4h0m0 1.5h0m0 1.6h0m0 4.9h0m0 .5h0m0 3h0m0 3.5h0m0 1.3h0m0 .5h0m0 .7h0m0 .7h0m0 .5h0m0 .4h0m0 .1h0m0 .7h0m0 4.4h0m0 .8h0m0 .2h0m0 .3h0m.1-22.9h0m0 .4h0m0 1.1h0m0 7.2h0m0 2h0m0 3.8h0m0 5.5h0m0 7.5h0m.1-40.1h0m0 4.3h0m0 10.5h0m0 .1h0m0 .5h0m0 5.6h0m0 5h0m0 .1h0m0 .2h0m0 1.9h0m0 1.8h0m0 1.3h0m0 .1h0m0 .2h0m0 .8h0m0 .4h0m0 1.5h0m0 5.4h0m0 3.2h0m.1-40.7h0m0 7.4h0m0 2.9h0m0 0h0m0 1h0m0 3.4h0m0 3.2h0m0 4.8h0m0 .1h0m0 3.9h0m0 .2h0m0 .4h0m0 1h0m0 4h0m0 2.8h0m.1-27.9h0m0 1.4h0m0 .8h0m0 10.3h0m0 3.4h0m0 .8h0m0 1.4h0m0 1.4h0m0 .4h0m0 3h0m0 .6h0m0 1.6h0m0 1h0m0 10.7h0m.1-38h0m0 .2h0m0 2.2h0m0 .5h0m0 1.8h0m0 .2h0m0 1h0m0 .2h0m0 1.3h0m0 2.4h0m0 .2h0m0 10.9h0m0 1.8h0m0 3.6h0m0 .6h0m0 2.7h0m0 1.4h0m0 .2h0m0 2.4h0m.1-45.1h0m0 29.7h0m0 .2h0m0 1.8h0m0 1.5h0m0 .9h0m0 .7h0m0 .7h0m0 5.6h0m0 .1h0m0 .8h0m0 2.2h0m.1-34h0m0 1.6h0m0 4.8h0m0 1.4h0m0 .1h0m0 1.5h0m0 2h0m0 1.7h0m0 6.5h0m0 3.3h0m0 .6h0m0 .5h0m0 2.2h0m0 3.2h0m.1-24.7h0m0 7.4h0m0 5.8h0m0 1.8h0m0 2.8h0m0 .4h0m0 4.1h0m0 .1h0m0 1.1h0m.1-27.7h0m0 4.9h0m0 7.5h0m0 6h0m0 1h0m0 1.4h0m0 3.5h0m0 5.5h0m0 5h0m.1-33.5h0m0 .1h0m0 3.1h0m0 2.2h0m0 .1h0m0 1.3h0m0 .6h0m0 .3h0m0 5.5h0m0 1.7h0m0 2h0m0 .4h0m0 1h0m0 .6h0m0 2.1h0m0 .5h0m0 1.2h0m0 3.5h0m0 3.8h0m.1-27.2h0m0 1.1h0m0 .9h0m0 12.8h0m0 2.3h0m0 1.7h0m0 2.3h0m0 2.6h0m.1-30.7h0m0 6.7h0m0 4.6h0m0 10.9h0m0 .8h0m0 .6h0m0 3.8h0m0 .1h0m0 5.3h0m.1-31.2h0m0 5.7h0m0 1.5h0m0 2.1h0m0 5.9h0m0 5.5h0m0 .7h0m0 .1h0m0 .4h0m0 1.1h0m0 .3h0m0 1.5h0m0 .2h0m0 1.2h0m0 .3h0m0 .2h0m.1-23.5h0m0 1.1h0m0 .1h0m0 1.4h0m0 .4h0m0 .1h0m0 1.8h0m0 .7h0m0 .5h0m0 3.8h0m0 .7h0m0 4.6h0m0 .1h0m0 2.6h0m0 .3h0m0 .9h0m0 .2h0m0 .5h0m0 .1h0m0 .3h0m0 3.2h0m0 1.7h0m0 .8h0m0 1.9h0m0 3.7h0m0 .7h0m0 2.5h0m0 .2h0m.1-39h0m0 1.7h0m0 3.5h0m0 2.3h0m0 4.4h0m0 1.6h0m0 2.2h0m0 4.1h0m0 2.6h0m0 3.6h0m0 .2h0m0 .4h0m0 .6h0m0 5.5h0m.1-31.7h0m0 .8h0m0 2.3h0m0 3h0m0 .5h0m0 2h0m0 .8h0m0 .4h0m0 .3h0m0 1.6h0m0 4.7h0m0 3.3h0m0 .3h0m0 .3h0m0 7.6h0m0 1.4h0m.1-25.4h0m0 .9h0m0 .7h0m0 .2h0m0 2h0m0 1.2h0m0 1.3h0m0 .5h0m0 1.2h0m0 1.9h0m0 1.5h0m0 4.4h0m0 1.6h0m0 1.3h0m0 .3h0m0 1.3h0m0 1.3h0m0 1.2h0m0 .9h0m0 .7h0m0 1.2h0m0 1.4h0m0 .3h0m0 .9h0m0 4h0m0 2.1h0m.1-37.5h0m0 1.5h0m0 1.8h0m0 2.3h0m0 .7h0m0 1.3h0m0 .1h0m0 .8h0m0 3.5h0m0 .9h0m0 4h0m0 .8h0m0 .5h0m0 1h0m0 .3h0m0 .5h0m0 .3h0m0 1.2h0m0 3.1h0m0 1.3h0m0 2.3h0m0 .2h0m0 3.2h0m0 .1h0m0 1.3h0m.1-31.2h0m0 .5h0m0 .7h0m0 4.5h0m0 4.1h0m0 10.7h0m0 .6h0m0 6.8h0m0 5.5h0m.1-33.2h0m0 1.6h0m0 .4h0m0 .7h0m0 .6h0m0 .3h0m0 .8h0m0 .6h0m0 1.4h0m0 5.4h0m0 2.5h0m0 2.4h0m0 .1h0m0 3.9h0m0 .2h0m0 1.3h0m0 3.7h0m0 .8h0m0 .1h0m0 2.1h0m0 2.1h0m.1-33.6h0m0 6.4h0m0 .2h0m0 4.3h0m0 8.1h0m0 1.1h0m0 1.6h0m0 .2h0m0 1.4h0m0 .9h0m0 2.2h0m0 .1h0m0 .6h0m0 3.5h0m0 .6h0m0 1.2h0m.1-27.4h0m0 .7h0m0 .8h0m0 .3h0m0 .2h0m0 .7h0m0 1.7h0m0 10.8h0m0 1.8h0m0 4.5h0m0 1.5h0m0 1h0m0 .9h0m0 .3h0m0 4.2h0m0 .3h0m.1-36.2h0m0 1h0m0 .5h0m0 5.7h0m0 1.1h0m0 12.6h0m0 2.6h0m0 .5h0m0 2.6h0m0 1.1h0m0 3.8h0m0 .5h0m0 2.9h0m.1-32.5h0m0 3.3h0m0 .7h0m0 .5h0m0 1.7h0m0 2.8h0m0 6.1h0m0 1.4h0m0 1.9h0m0 .5h0m0 .6h0m0 1.7h0m0 .8h0m0 .6h0m0 1h0m0 .4h0m0 .7h0m0 4.3h0m0 3.7h0m0 .8h0m0 .5h0m.1-34.8h0m0 3.8h0m0 .2h0m0 2.5h0m0 .2h0m0 2.6h0m0 3.1h0m0 7h0m0 0h0m0 4.5h0m0 .9h0m0 1.6h0m0 5.4h0m.1-29h0m0 .1h0m0 .6h0m0 1.6h0m0 4.1h0m0 1.5h0m0 1h0m0 3.5h0m0 1.9h0m0 .1h0m0 .2h0m0 .9h0m0 2h0m0 .9h0m0 .8h0m0 1.1h0m0 0h0m0 1.8h0m0 .1h0m0 .7h0m0 1.6h0m0 .2h0m0 .5h0m0 .4h0m0 .1h0m0 .4h0m0 .1h0m0 2.6h0m0 .7h0m0 .6h0m0 .6h0m0 .3h0m.1-28h0m0 .7h0m0 1.2h0m0 2.6h0m0 3h0m0 1.2h0m0 2h0m0 2h0m0 4.2h0m0 .5h0m0 .6h0m0 .9h0m0 .4h0m0 .8h0m0 .3h0m0 1.4h0m0 .7h0m0 .1h0m.1-28.9h0m0 6.1h0m0 .4h0m0 .6h0m0 9.4h0m0 .6h0m0 .2h0m0 2.1h0m0 1.3h0m0 .8h0m0 .1h0m0 .3h0m0 3.3h0m0 2.9h0m0 1.2h0m0 .7h0m0 .9h0m0 0h0m0 2h0m0 1.2h0m0 2.7h0m0 1.6h0m.1-36.1h0m0 .8h0m0 .9h0m0 .6h0m0 .4h0m0 1.2h0m0 2.4h0m0 .9h0m0 .9h0m0 .1h0m0 4.9h0m0 4.5h0m0 0h0m0 .6h0m0 .9h0m0 1.3h0m0 1.1h0m0 1.4h0m0 5.1h0m0 .2h0m0 3.4h0m.1-30.3h0m0 .2h0m0 .8h0m0 .4h0m0 2.7h0m0 .2h0m0 2.3h0m0 .4h0m0 7h0m0 2.5h0m0 .6h0m0 3.2h0m0 .5h0m0 .3h0m0 .2h0m0 1.4h0m0 1.4h0m0 1h0m0 1.2h0m0 2.6h0m0 5.8h0m.1-32.4h0m0 1h0m0 1.2h0m0 8.7h0m0 .6h0m0 1.1h0m0 .3h0m0 1.9h0m0 4.7h0m0 1.4h0m0 .2h0m0 .3h0m0 1.2h0m0 2.6h0m0 .6h0m0 1.7h0m0 .3h0m.1-33.3h0m0 3h0m0 .8h0m0 2.8h0m0 .4h0m0 1.1h0m0 1.5h0m0 .8h0m0 1.2h0m0 5.6h0m0 .4h0m0 2.9h0m0 1.2h0m0 .7h0m0 .1h0m0 .1h0m0 0h0m0 .7h0m0 1.3h0m0 .3h0m0 .9h0m0 .1h0m0 .1h0m0 1.3h0m0 .3h0m0 1h0m0 2.2h0m0 .5h0m.1-30.5h0m0 1h0m0 .4h0m0 1.6h0m0 1.1h0m0 1.2h0m0 1h0m0 2h0m0 4.8h0m0 3.5h0m0 .3h0m0 .8h0m0 .2h0m0 2.6h0m0 1.8h0m0 2.2h0m0 2.1h0m0 3.7h0m0 2.9h0m.1-31.4h0m0 .6h0m0 2.8h0m0 .1h0m0 .7h0m0 .5h0m0 1.1h0m0 2.6h0m0 .6h0m0 2.9h0m0 2.7h0m0 2.2h0m0 1.9h0m0 .6h0m0 .4h0m0 1h0m0 .1h0m0 .4h0m0 .7h0m0 .1h0m0 .8h0m0 1.6h0m0 .5h0m0 1.1h0m0 .6h0m0 .9h0m.1-30.7h0m0 4.4h0m0 1h0m0 .1h0m0 .5h0m0 .2h0m0 1.4h0m0 .2h0m0 1.7h0m0 9h0m0 .7h0m0 3.8h0m0 .9h0m0 .2h0m0 .2h0m0 1.1h0m0 1.3h0m0 .3h0m0 .4h0m0 4.3h0m0 6.4h0m.1-35.9h0m0 1.4h0m0 .9h0m0 .7h0m0 .3h0m0 1.9h0m0 1.2h0m0 .8h0m0 .4h0m0 .4h0m0 3.5h0m0 5.4h0m0 .4h0m0 1.6h0m0 1.5h0m0 5.7h0m0 2.6h0m.1-27.5h0m0 .6h0m0 2.5h0m0 3.4h0m0 .7h0m0 7h0m0 1.9h0m0 .8h0m0 1.1h0m0 .8h0m0 0h0m0 1.8h0m0 .3h0m0 1.7h0m0 1.2h0m0 1.9h0m0 .7h0m0 .2h0m.1-31.1h0m0 2.7h0m0 2.4h0m0 .4h0m0 1.3h0m0 .1h0m0 1.2h0m0 .2h0m0 .6h0m0 1.3h0m0 6.1h0m0 4h0m0 2h0m0 .4h0m0 1.3h0m0 .2h0m0 .7h0m0 1.9h0m0 2.3h0m0 4.5h0m0 0h0m.1-31.9h0m0 2.8h0m0 1.8h0m0 .9h0m0 .5h0m0 2.3h0m0 6.8h0m0 .2h0m0 6.2h0m0 .2h0m0 3.4h0m0 .1h0m0 1.3h0m0 4.4h0m.1-29.6h0m0 1h0m0 1.9h0m0 1.7h0m0 .8h0m0 1.7h0m0 7.3h0m0 3.6h0m0 4.6h0m0 1.7h0m0 0h0m0 1.2h0m0 1.1h0m0 5.2h0m0 1.5h0m0 2.2h0m.1-36.4h0m0 3.2h0m0 2h0m0 .6h0m0 .5h0m0 .8h0m0 1.1h0m0 .7h0m0 .5h0m0 3h0m0 8.8h0m0 .4h0m0 .5h0m0 1.7h0m0 2.2h0m0 2.5h0m0 .4h0m0 3.1h0m0 7.1h0m0 .3h0m.1-38.9h0m0 2h0m0 .2h0m0 .5h0m0 .3h0m0 .7h0m0 .1h0m0 1.3h0m0 .2h0m0 .2h0m0 .4h0m0 0h0m0 .7h0m0 .3h0m0 .5h0m0 .5h0m0 .2h0m0 .3h0m0 .3h0m0 .3h0m0 .7h0m0 .4h0m0 6.2h0m0 1.1h0m0 4h0m0 1.2h0m0 1.7h0m0 .8h0m0 .2h0m0 3.3h0m0 .2h0m0 1h0m0 .2h0m.1-31.6h0m0 2.3h0m0 .1h0m0 3h0m0 2h0m0 1.3h0m0 .6h0m0 .1h0m0 .6h0m0 0h0m0 0h0m0 1.9h0m0 10.1h0m0 2.7h0m0 1h0m0 .3h0m0 4.4h0m0 0h0m0 6.4h0m0 .1h0m.1-34.1h0m0 1.1h0m0 .9h0m0 .9h0m0 2.4h0m0 .9h0m0 .8h0m0 2.3h0m0 6.4h0m0 2.8h0m0 .7h0m0 2.9h0m0 .5h0m0 .8h0m0 .6h0m0 .8h0m0 .6h0m0 1.8h0m0 2.8h0m0 1.6h0m.1-30.8h0m0 1.6h0m0 1.2h0m0 1h0m0 1.2h0m0 .1h0m0 9.2h0m0 1.4h0m0 1.2h0m0 .6h0m0 .5h0m0 1h0m0 5.4h0m0 .4h0m0 1.3h0m0 4.4h0m0 .3h0m.1-30.4h0m0 .7h0m0 2.2h0m0 .3h0m0 2.5h0m0 1.7h0m0 .5h0m0 4.5h0m0 1h0m0 2.3h0m0 2.5h0m0 .5h0m0 6.5h0m0 1.2h0m0 1.4h0m0 .8h0m.1-32.1h0m0 3h0m0 .6h0m0 1.2h0m0 .6h0m0 1.7h0m0 .1h0m0 1.2h0m0 2.8h0m0 7.6h0m0 1.1h0m0 .9h0m0 .6h0m0 0h0m0 .7h0m0 3.9h0m0 4.3h0m0 .7h0m0 2.5h0m0 0h0m.1-30.9h0m0 0h0m0 .9h0m0 .9h0m0 .2h0m0 2.1h0m0 .3h0m0 4.5h0m0 2.1h0m0 .9h0m0 .1h0m0 .7h0m0 2.6h0m0 .6h0m0 1.8h0m0 1.2h0m0 .6h0m0 .7h0m0 .8h0m0 3.4h0m0 2.9h0m0 3.9h0m0 5h0m.1-37.3h0m0 1.1h0m0 .1h0m0 .3h0m0 .3h0m0 1.2h0m0 2.7h0m0 3.6h0m0 3.6h0m0 4.9h0m0 .2h0m0 .2h0m0 .7h0m0 1.1h0m0 .1h0m0 1.7h0m0 .2h0m0 2.8h0m0 1.3h0m0 .2h0m0 1.2h0m0 .5h0m0 .2h0m0 1.6h0m0 5.7h0m.1-31.2h0m0 0h0m0 .8h0m0 .1h0m0 5.5h0m0 3h0m0 2.9h0m0 2.2h0m0 1.8h0m0 1.4h0m0 1.3h0m0 .3h0m0 2.7h0m0 1.2h0m0 .9h0m0 1.6h0m0 2h0m.1-35.5h0m0 3h0m0 .6h0m0 1.4h0m0 1.2h0m0 3.5h0m0 0h0m0 1.2h0m0 .2h0m0 4.6h0m0 6.3h0m0 1.1h0m0 .2h0m0 .7h0m0 .1h0m0 .6h0m0 .5h0m0 3.8h0m0 .3h0m.1-25.8h0m0 .9h0m0 1.5h0m0 1h0m0 1.2h0m0 1.9h0m0 2.8h0m0 2.5h0m0 13.6h0m0 2.4h0m.1-27.9h0m0 2.5h0m0 1.7h0m0 .7h0m0 .5h0m0 .5h0m0 2h0m0 .3h0m0 6.1h0m0 .7h0m0 2h0m0 .2h0m0 2.4h0m0 1.5h0m0 0h0m0 .2h0m0 1.6h0m0 1.4h0m0 2.2h0m0 .8h0m0 4.4h0m.1-31.3h0m0 1.5h0m0 .1h0m0 .2h0m0 2.1h0m0 .1h0m0 .3h0m0 .2h0m0 .2h0m0 1.2h0m0 .4h0m0 1.8h0m0 .6h0m0 4.7h0m0 2.5h0m0 .3h0m0 0h0m0 4.5h0m0 1h0m0 2.4h0m0 .4h0m0 6.7h0m.1-31.3h0m0 3.9h0m0 1.1h0m0 .9h0m0 1.1h0m0 .5h0m0 .8h0m0 .9h0m0 1.1h0m0 6.1h0m0 1.6h0m0 .8h0m0 .5h0m0 3.9h0m0 .8h0m0 .4h0m0 0h0m0 .2h0m.1-37.5h0m0 16.5h0m0 .3h0m0 .3h0m0 .3h0m0 2.6h0m0 2.6h0m0 3h0m0 3.1h0m0 1.2h0m0 2.4h0m0 .2h0m0 .4h0m0 .6h0m0 .1h0m0 .2h0m0 .3h0m0 .1h0m0 1.5h0m0 1.3h0m0 1.5h0m0 3.1h0m0 5.1h0m.1-32.6h0m0 2.1h0m0 1.3h0m0 .9h0m0 11.5h0m0 .6h0m0 .5h0m0 1.8h0m0 2.5h0m0 .4h0m0 4.1h0m0 .3h0m0 2.9h0m0 2.4h0m.1-35.9h0m0 3.1h0m0 1.6h0m0 2.8h0m0 .6h0m0 .2h0m0 .7h0m0 .2h0m0 .7h0m0 1.5h0m0 9h0m0 .3h0m0 .5h0m0 1.7h0m0 1.6h0m0 .8h0m0 .1h0m0 .5h0m0 1.3h0m0 .1h0m0 3.1h0m0 2.4h0m0 .4h0m.1-33.8h0m0 3.7h0m0 1.9h0m0 .6h0m0 .5h0m0 1.1h0m0 2.4h0m0 4.1h0m0 .8h0m0 2.4h0m0 4h0m0 .5h0m0 .2h0m0 1h0m0 .1h0m0 .4h0m0 3.5h0m0 .6h0m0 .7h0m0 .9h0m0 2.8h0m0 2.6h0m.1-27.3h0m0 .2h0m0 1.2h0m0 .9h0m0 1h0m0 8.3h0m0 .3h0m0 1.4h0m0 2.5h0m0 1.2h0m0 1.5h0m0 2.9h0m0 2.8h0m0 1.6h0m0 3.2h0m0 1.8h0m.1-33h0m0 4.4h0m0 2.1h0m0 6.2h0m0 .2h0m0 .5h0m0 2.3h0m0 0h0m0 2.4h0m0 3.4h0m0 1.8h0m0 1.4h0m0 1.9h0m0 1.4h0m0 2.7h0m.1-30.2h0m0 0h0m0 3.4h0m0 1.4h0m0 .2h0m0 4.2h0m0 9.2h0m0 .1h0m0 1.3h0m0 3.5h0m0 .1h0m0 2.6h0m.1-29.5h0m0 1.9h0m0 6.6h0m0 3.7h0m0 4.4h0m0 1.7h0m0 4.2h0m0 1.4h0m0 6.8h0m0 .1h0m0 1.8h0m.1-29.4h0m0 1.4h0m0 1.7h0m0 1h0m0 .7h0m0 .9h0m0 3.3h0m0 4.5h0m0 2.1h0m0 2.2h0m0 2.1h0m0 1.3h0m0 3.6h0m0 1.5h0m0 2.2h0m.1-29.1h0m0 3h0m0 .6h0m0 1.7h0m0 12.4h0m0 3.1h0m0 1.9h0m0 1.7h0m0 .1h0m0 2.3h0m0 4.5h0m.1-33.3h0m0 3.1h0m0 3h0m0 1.9h0m0 1.2h0m0 10.7h0m0 .2h0m0 1.8h0m0 .8h0m0 7.2h0m0 0h0m0 .5h0m0 2.9h0m.1-33.7h0m0 .9h0m0 2.5h0m0 1.6h0m0 3h0m0 1.3h0m0 6.1h0m0 5.8h0m0 .4h0m0 9.6h0m0 3.8h0m.1-29.6h0m0 0h0m0 .6h0m0 5.5h0m0 0h0m0 3.6h0m0 1.3h0m0 .8h0m0 .4h0m0 1.8h0m0 .8h0m0 .6h0m0 .8h0m0 .9h0m0 .9h0m0 .1h0m0 0h0m0 .2h0m.1-19.8h0m0 .8h0m0 .1h0m0 1.1h0m0 1.2h0m0 3.8h0m0 2.2h0m0 24.5h0m.1-38.3h0m0 2h0m0 .1h0m0 .8h0m0 6.5h0m0 .9h0m0 .2h0m0 3.8h0m0 5.1h0m0 .7h0m0 1.5h0m0 1.2h0m0 1.1h0m0 .9h0m0 1.5h0m0 .4h0m0 0h0m0 .5h0m.1-24.2h0m0 1h0m0 .5h0m0 .3h0m0 .5h0m0 1.5h0m0 .3h0m0 1.3h0m0 .6h0m0 1.1h0m0 1.8h0m0 5.7h0m0 2.2h0m0 2h0m0 .4h0m0 1.4h0m0 1.2h0m0 5h0m0 4.5h0m.1-31.5h0m0 3.2h0m0 1.4h0m0 .7h0m0 .2h0m0 3.9h0m0 .8h0m0 1.9h0m0 3.7h0m0 1.8h0m0 .9h0m0 .4h0m0 0h0m0 11.4h0m0 .4h0m.1-27.4h0m0 3.2h0m0 8.6h0m0 1.5h0m0 .6h0m0 .8h0m0 3h0m0 .3h0m0 7.3h0m0 .1h0m.1-34.1h0m0 5h0m0 .4h0m0 1.5h0m0 .7h0m0 .4h0m0 1.3h0m0 11.1h0m0 3h0m0 1.5h0m0 .8h0m0 7.9h0m0 .5h0m0 1.1h0m0 2h0m.1-32h0m0 2.1h0m0 2.3h0m0 .1h0m0 15.5h0m0 .1h0m0 1.9h0m0 3.7h0m0 1h0m0 7.3h0m.1-31.4h0m0 .5h0m0 1.6h0m0 .1h0m0 .7h0m0 10.7h0m0 .5h0m0 .8h0m0 4.4h0m0 1h0m0 1.8h0m0 4.1h0m0 1.7h0m0 1h0m0 .3h0m0 1.7h0m.1-33.4h0m0 .3h0m0 .1h0m0 1.9h0m0 1.1h0m0 3.1h0m0 1.8h0m0 8.4h0m0 .9h0m0 .5h0m0 2.1h0m0 3.2h0m0 8.4h0m.1-30h0m0 2.1h0m0 1.9h0m0 9.1h0m0 5.2h0m0 1.2h0m0 .5h0m0 .3h0m0 14.3h0m.1-34.1h0m0 5h0m0 3h0m0 2.5h0m0 3.5h0m0 1.6h0m0 1.7h0m0 .1h0m0 2h0m0 .9h0m0 4.2h0m.1-33.5h0m0 9h0m0 .9h0m0 1.5h0m0 1h0m0 1.5h0m0 2.6h0m0 4.9h0m0 .2h0m0 .6h0m0 3.6h0m0 1.8h0m0 2.4h0m0 6.7h0m.1-28.6h0m0 3.7h0m0 1.8h0m0 8.8h0m0 1h0m0 .1h0m0 2.2h0m.1-18.6h0m0 .1h0m0 .8h0m0 .2h0m0 1.6h0m0 4.3h0m0 9.2h0m0 3.9h0m0 .9h0m0 2.5h0m0 6.1h0m.1-28.2h0m0 1.2h0m0 .5h0m0 .4h0m0 .1h0m0 2.4h0m0 7.8h0m0 2.2h0m0 .4h0m0 2.1h0m0 .3h0m0 3.6h0m0 .7h0m0 4h0m.1-27h0m0 .2h0m0 .2h0m0 2.2h0m0 1h0m0 2.1h0m0 11h0m0 0h0m0 .2h0m0 2.5h0m0 2.2h0m0 1h0m.1-21.2h0m0 .2h0m0 .5h0m0 .3h0m0 13.7h0m0 .6h0m0 1.9h0m0 3.7h0m0 1.3h0m0 .9h0m.1-26.6h0m0 1.4h0m0 .9h0m0 1.5h0m0 1.2h0m0 1.5h0m0 3.3h0m0 3.1h0m0 9.7h0m0 1.8h0m0 3.1h0m0 7.1h0m.1-31.2h0m0 6.4h0m0 10.3h0m0 .2h0m0 2h0m0 .1h0m0 7.1h0m0 0h0m.1-29.6h0m0 2h0m0 1.2h0m0 5.2h0m0 8.6h0m0 .9h0m0 4.8h0m0 0h0m0 1.4h0m.1-26.1h0m0 6.9h0m0 .6h0m0 .5h0m0 6.4h0m0 6.7h0m0 .9h0m0 1.2h0m0 1.2h0m0 2.6h0m0 4.9h0m.1-28.6h0m0 2.1h0m0 9.1h0m0 3.7h0m0 3.5h0m0 3.6h0m0 0h0m0 7.3h0m.1-29.4h0m0 5.8h0m0 .1h0m0 1.5h0m0 8.4h0m0 .9h0m0 1.5h0m0 4.7h0m0 .6h0m0 .9h0m0 1.1h0m.1-26.3h0m0 2.4h0m0 .5h0m0 0h0m0 .2h0m0 2.5h0m0 .5h0m0 .3h0m0 .6h0m0 1.3h0m0 7.6h0m0 2.9h0m0 .8h0m0 .2h0m0 .8h0m0 5.8h0m0 1.3h0m.1-21.9h0m0 .5h0m0 9.1h0m0 1.3h0m.1-12.8h0m0 2.8h0m0 2.4h0m0 7.3h0m0 1.8h0m0 1.8h0m0 .2h0m0 1.7h0m.1-20.4h0m0 1.7h0m0 2.3h0m0 .7h0m0 11.7h0m0 1.5h0m0 9h0m.1-23.6h0m0 14h0m0 5.3h0m.1-21.4h0m0 1.8h0m0 .9h0m0 1.2h0m0 15.2h0m0 12.3h0m.1-34.8h0m0 3.8h0m0 1.3h0m0 1.9h0m0 .2h0m0 11.2h0m0 12h0m.1-11.2h0m0 .8h0m0 4.9h0m.1-29.1h0m0 4.1h0m0 .3h0m0 4.3h0m0 1.8h0m0 10.3h0m0 4.2h0m.1-12.1h0m0 2.1h0m0 6.2h0m0 4.1h0m.1-18.4h0m0 2.9h0m0 11.5h0m0 1.4h0m0 2.3h0m0 .6h0m0 .4h0m0 6h0m0 1.7h0m.1-32.4h0m0 13h0m0 4.1h0m0 7.6h0m0 .8h0m0 6.3h0m0 4.1h0m.1-34.5h0m0 3.8h0m0 4.4h0m0 11.2h0m0 2h0m.1-16.1h0m0 .6h0m0 15h0m0 3.1h0m0 1.3h0m.1-21.2h0m0 2.1h0m0 1h0m0 11.4h0m0 2.6h0m0 6.1h0m.1-28.1h0m0 17.6h0m0 1.4h0m0 2.9h0m0 .9h0m.1-21.3h0m0 2.2h0m0 .6h0m0 .7h0m0 1.7h0m0 13.1h0m0 3.1h0m.1-22.9h0m0 25h0m0 2.6h0m.1-22.8h0m0 17.2h0m.1-12.4h0m0 14.6h0m0 5.4h0m0 2.8h0m.1-26.5h0m0 14.9h0m0 2h0m0 3.2h0m.1-15.8h0m0 1.5h0m0 8h0m0 2.9h0m0 1.4h0m0 7.3h0m.1-30.8h0m0 4.4h0m0 2.6h0m0 17.7h0m.1-8.5h0m0 1.8h0m.1-2.3h0m0 4.2h0m0 3.5h0m0 .7h0m0 3.7h0m0 2.5h0m0 1.8h0m.1-28.7h0m0 17.8h0m0 6h0m.1-21.9h0m0 6.5h0m0 .9h0m0 6.3h0m.1-13.1h0m0 5.2h0m0 7h0m0 1.9h0m0 4.6h0m.1-21.7h0m0 17.4h0m0 3.2h0m.1-11.7h0m0 9.3h0m0 5.8h0m.1-21.3h0m0 1.9h0m.1-1.2h0m0 18.5h0m.1-23.5h0m0 17.1h0m.1-16.8h0m0 3.8h0m0 15.6h0m0 1.7h0m0 3.7h0m.1-3.4h0m.2-3.9h0m0 4.8h0m0 6.3h0m.1-7.5h0m0 1.6h0m.1-1.4h0m.1-2.6h0m0 15.1h0m.1-10.9h0m.2-12.1h0m.1-9.2h0m0 2.4h0m0 15.2h0m0 1.5h0m.1-21.2h0m0 32.3h0m.1-12.6h0m.1-17.7h0m0 16.4h0m0 3h0m0 1.2h0m.7-18.7h0m.2-2.7h0m0 .8h0m.1 19.9h0m.1-21.1h0m.1 5h0m0 17.9h0m0 2.6h0m.2-19.6h0m0 8.6h0m0 1h0m.5-9.8h0m0 17.2h0m.5 3.7h0" stroke="#e02018" stroke-opacity="0.55" stroke-width="0.8" stroke-linecap="square" fill="none"/>
<g clip-path="url(#cD1)">
<ellipse cx="262.3" cy="45.8" rx="9.0" ry="8.0" fill="#e42a1c" fill-opacity="0.9" filter="url(#b10)" transform="rotate(-30 262.3 45.8)"/>
<ellipse cx="262.5" cy="61.5" rx="8.8" ry="7.8" fill="#e42a1c" fill-opacity="0.9" filter="url(#b10)" transform="rotate(-20 262.5 61.5)"/>
<ellipse cx="262.3" cy="45.8" rx="6.4" ry="5.6" fill="#f07a1e" fill-opacity="1" filter="url(#b8)" transform="rotate(-30 262.3 45.8)"/>
<ellipse cx="262.5" cy="61.5" rx="6.3" ry="5.4" fill="#f07a1e" fill-opacity="1" filter="url(#b8)" transform="rotate(-20 262.5 61.5)"/>
<ellipse cx="262.5" cy="46.0" rx="4.6" ry="3.9" fill="#f2d422" fill-opacity="1" filter="url(#b6)" transform="rotate(-30 262.5 46.0)"/>
<ellipse cx="262.7" cy="61.5" rx="4.3" ry="3.4" fill="#f2d422" fill-opacity="1" filter="url(#b6)" transform="rotate(-20 262.7 61.5)"/>
<ellipse cx="262.8" cy="45.9" rx="3.0" ry="2.3" fill="#1c2070" fill-opacity="1" filter="url(#b5)" transform="rotate(-30 262.8 45.9)"/>
<ellipse cx="263.0" cy="61.3" rx="2.5" ry="1.8" fill="#98cc38" fill-opacity="1" filter="url(#b5)" transform="rotate(-20 263.0 61.3)"/>
</g>
<text x="0" y="0" font-family="Liberation Sans, sans-serif" font-size="10.8" font-weight="bold" text-anchor="middle" fill="#000" transform="translate(287.3 40.8) scale(0.855 1)">0.5</text>
<rect x="310.5" y="26.5" width="56.0" height="54.0" fill="#fff" stroke="#a8a8a8" stroke-width="0.8"/>
<text x="309.7" y="27.0" font-family="Liberation Sans, sans-serif" font-size="2.4" font-weight="normal" text-anchor="end" fill="#777" stroke="#777" stroke-width="0.18">10¹</text>
<line x1="310.9" y1="26.2" x2="312.09999999999997" y2="26.2" stroke="#888" stroke-width="0.4"/>
<text x="309.7" y="40.599999999999994" font-family="Liberation Sans, sans-serif" font-size="2.4" font-weight="normal" text-anchor="end" fill="#777" stroke="#777" stroke-width="0.18">10¹</text>
<line x1="310.9" y1="39.8" x2="312.09999999999997" y2="39.8" stroke="#888" stroke-width="0.4"/>
<text x="309.7" y="54.19999999999999" font-family="Liberation Sans, sans-serif" font-size="2.4" font-weight="normal" text-anchor="end" fill="#777" stroke="#777" stroke-width="0.18">10¹</text>
<line x1="310.9" y1="53.39999999999999" x2="312.09999999999997" y2="53.39999999999999" stroke="#888" stroke-width="0.4"/>
<text x="309.7" y="67.8" font-family="Liberation Sans, sans-serif" font-size="2.4" font-weight="normal" text-anchor="end" fill="#777" stroke="#777" stroke-width="0.18">10¹</text>
<line x1="310.9" y1="67.0" x2="312.09999999999997" y2="67.0" stroke="#888" stroke-width="0.4"/>
<text x="309.7" y="81.39999999999999" font-family="Liberation Sans, sans-serif" font-size="2.4" font-weight="normal" text-anchor="end" fill="#777" stroke="#777" stroke-width="0.18">10¹</text>
<line x1="310.9" y1="80.6" x2="312.09999999999997" y2="80.6" stroke="#888" stroke-width="0.4"/>
<text x="310.9" y="84.0" font-family="Liberation Sans, sans-serif" font-size="2.4" font-weight="normal" text-anchor="middle" fill="#777" stroke="#777" stroke-width="0.18">10¹</text>
<line x1="310.9" y1="80.6" x2="310.9" y2="79.39999999999999" stroke="#888" stroke-width="0.4"/>
<text x="324.67499999999995" y="84.0" font-family="Liberation Sans, sans-serif" font-size="2.4" font-weight="normal" text-anchor="middle" fill="#777" stroke="#777" stroke-width="0.18">10¹</text>
<line x1="324.67499999999995" y1="80.6" x2="324.67499999999995" y2="79.39999999999999" stroke="#888" stroke-width="0.4"/>
<text x="338.45" y="84.0" font-family="Liberation Sans, sans-serif" font-size="2.4" font-weight="normal" text-anchor="middle" fill="#777" stroke="#777" stroke-width="0.18">10¹</text>
<line x1="338.45" y1="80.6" x2="338.45" y2="79.39999999999999" stroke="#888" stroke-width="0.4"/>
<text x="352.225" y="84.0" font-family="Liberation Sans, sans-serif" font-size="2.4" font-weight="normal" text-anchor="middle" fill="#777" stroke="#777" stroke-width="0.18">10¹</text>
<line x1="352.225" y1="80.6" x2="352.225" y2="79.39999999999999" stroke="#888" stroke-width="0.4"/>
<text x="366.0" y="84.0" font-family="Liberation Sans, sans-serif" font-size="2.4" font-weight="normal" text-anchor="middle" fill="#777" stroke="#777" stroke-width="0.18">10¹</text>
<line x1="366.0" y1="80.6" x2="366.0" y2="79.39999999999999" stroke="#888" stroke-width="0.4"/>
<line x1="340.5" y1="26.5" x2="340.5" y2="80.5" stroke="#999" stroke-width="0.7"/>
<clipPath id="cD2"><rect x="310.9" y="26.2" width="55.10000000000002" height="54.39999999999999"/></clipPath>
<path d="M316.2 56.7h0m1.9-5.2h0m0 12.6h0m.1-17.4h0m.1-7.9h0m.1 5.2h0m1.9 7h0m.1 11.7h0m.1-15.7h0m0 3h0m.1 7.1h0m.1-19.3h0m0 20.2h0m.2-8.1h0m.1-3.1h0m.3-1.3h0m0 3.5h0m.1-5h0m.1 .3h0m0 7.3h0m.2-3.7h0m0 11.8h0m.1-18.8h0m0 3.1h0m0 8.4h0m0 7.6h0m.3 3.6h0m.1-12.6h0m.1-4h0m0 11.7h0m.1-17.8h0m0 2.4h0m0 1.9h0m0 1.5h0m0 3.5h0m.1 .3h0m0 3.9h0m.1-11.2h0m0 6h0m0 2.5h0m0 1.6h0m0 2h0m0 11.2h0m.1-14.7h0m0 12h0m.1-25.3h0m0 10.4h0m0 .8h0m0 2.8h0m0 1.7h0m0 1.1h0m0 5.3h0m.1-15h0m0 4h0m0 2.6h0m0 .9h0m0 5.1h0m.1-5.3h0m0 .8h0m.2-3.1h0m0 2h0m0 6.7h0m0 1.7h0m.1-13.1h0m0 .2h0m0 1.7h0m0 3.1h0m.1-1.8h0m.1-6.6h0m0 3h0m0 .5h0m0 2.1h0m0 1.1h0m0 3.8h0m0 .3h0m0 7h0m.1-14.7h0m0 17.2h0m.1-2.5h0m.1-17.3h0m0 2.6h0m0 1.1h0m0 8.4h0m0 4.3h0m0 5.3h0m.1-19.4h0m0 6.9h0m0 .8h0m0 4h0m0 12.6h0m.1-25.1h0m0 3.1h0m0 1.9h0m0 4.3h0m0 .5h0m0 .4h0m0 4.2h0m0 .3h0m0 2.4h0m0 7.8h0m.1-27.6h0m0 4.2h0m0 .3h0m0 2.9h0m0 .4h0m0 2h0m0 3.4h0m0 3.8h0m0 1.2h0m.1-16.2h0m0 10.2h0m0 7h0m0 3.1h0m.1-24.2h0m0 4.8h0m0 2.1h0m0 2.8h0m0 0h0m0 4h0m0 5.7h0m0 7h0m.1-25.5h0m0 3.9h0m0 4.7h0m0 6.6h0m.1-15.9h0m0 7.3h0m0 1.9h0m0 .6h0m0 1.7h0m0 2.1h0m0 6.4h0m0 2.7h0m.1-23.4h0m0 3.8h0m0 3.4h0m0 .7h0m0 3.8h0m0 .4h0m0 13.6h0m.1-23h0m0 .3h0m0 1.7h0m0 3.2h0m0 .8h0m0 .2h0m0 2.3h0m0 1.6h0m0 1.7h0m0 9.3h0m.1-24.7h0m0 2.7h0m0 2.5h0m0 1.2h0m0 .7h0m0 4.4h0m0 .9h0m0 .8h0m0 1.5h0m.1-3.3h0m0 5.3h0m0 12.4h0m.1-26.3h0m0 4h0m.1-7.2h0m0 5.3h0m0 5h0m0 .6h0m0 9.5h0m0 2.3h0m.1-24.7h0m0 10h0m0 .9h0m0 1.8h0m0 .8h0m0 0h0m0 1.8h0m0 1.7h0m0 0h0m0 2h0m0 1.4h0m0 6.9h0m0 1.6h0m.1-23.5h0m0 5.4h0m0 1.8h0m0 17.7h0m.1-23.8h0m0 .4h0m0 7.3h0m0 1.4h0m0 .7h0m0 1.6h0m0 6.7h0m0 2.5h0m0 9.2h0m.1-33.8h0m0 11.7h0m0 1.5h0m0 .8h0m0 3.7h0m0 7.5h0m.1-22.2h0m0 3.2h0m0 .3h0m0 .4h0m0 .3h0m0 .4h0m0 3h0m0 .9h0m0 4.1h0m0 3.5h0m0 1.5h0m.1-16.5h0m0 1.1h0m0 3.6h0m0 1.1h0m0 .5h0m0 6h0m0 1.2h0m0 1.8h0m0 8.6h0m.1-24.1h0m0 3h0m0 .4h0m0 5.8h0m0 7.9h0m0 .7h0m.1-20.7h0m0 4.6h0m0 2.1h0m0 .7h0m0 .3h0m0 .5h0m0 4.5h0m0 .4h0m0 1.7h0m0 .2h0m0 2.2h0m.1-11.6h0m0 1.3h0m0 1.9h0m0 1.5h0m0 .3h0m0 4.5h0m0 3.6h0m0 2.2h0m.1-19.1h0m0 2.2h0m0 1.6h0m0 2.9h0m0 10.7h0m.1-15.3h0m0 2.3h0m0 2h0m0 4.7h0m0 0h0m0 1.4h0m0 .4h0m0 2.6h0m0 .1h0m0 3.4h0m0 .9h0m.1-19.2h0m0 1h0m0 1.3h0m0 3.5h0m0 2.3h0m0 .2h0m0 10.7h0m0 3h0m0 .6h0m0 1.8h0m.1-24.2h0m0 1.9h0m0 6.4h0m0 2.1h0m0 4.3h0m.1-12.4h0m0 1.7h0m0 1.1h0m0 .9h0m0 .6h0m0 1h0m0 .3h0m0 1.3h0m0 8.2h0m.1-15.7h0m0 2.1h0m0 12.8h0m.1-13.3h0m0 2.8h0m0 3.2h0m0 1.8h0m0 1.6h0m0 4.7h0m0 1.7h0m0 10h0m.1-28.6h0m0 3h0m0 4.3h0m0 3.3h0m0 5.3h0m0 9.2h0m.1-25.9h0m0 6.7h0m0 4.2h0m0 .3h0m0 2.5h0m0 .9h0m0 3.2h0m0 .5h0m0 4.3h0m0 4.4h0m.1-23.9h0m0 1.9h0m0 1.5h0m0 3.2h0m0 3.7h0m0 .5h0m0 .6h0m0 5.1h0m0 4.3h0m0 3.1h0m.1-28.6h0m0 1.5h0m0 1.1h0m0 5.9h0m0 .3h0m0 .4h0m0 .2h0m0 1.3h0m0 .4h0m0 3.4h0m0 .6h0m0 5.9h0m0 4.1h0m0 2.1h0m.1-28.5h0m0 1.5h0m0 9.2h0m0 2.2h0m0 1.9h0m0 3.3h0m0 1.2h0m0 1h0m0 2.5h0m0 2h0m0 1.7h0m.1-22.8h0m0 3.4h0m0 .9h0m0 .2h0m0 10.3h0m0 1.3h0m0 1.4h0m0 .3h0m0 2h0m.1-21.4h0m0 1.7h0m0 3.1h0m0 .7h0m0 1.7h0m0 .6h0m0 .1h0m0 2.4h0m0 1h0m0 .5h0m0 .6h0m0 6.2h0m.1-17.5h0m0 2h0m0 .4h0m0 .6h0m0 .1h0m0 .5h0m0 1.9h0m0 .9h0m0 3.8h0m0 5.9h0m0 1.8h0m0 1.7h0m.1-18.5h0m0 1.6h0m0 .1h0m0 1h0m0 2h0m0 .3h0m0 3.8h0m0 .8h0m0 .3h0m0 1.4h0m0 3.9h0m0 .8h0m0 1.4h0m0 2.1h0m.1-23.4h0m0 8.2h0m0 3.4h0m0 2.7h0m0 1.7h0m0 .7h0m0 12.1h0m.1-23.1h0m0 1.7h0m0 1.2h0m0 1.8h0m0 .8h0m0 4.5h0m0 1h0m0 3.3h0m0 2.1h0m0 .6h0m0 5h0m.1-24.3h0m0 .9h0m0 3.8h0m0 2.2h0m0 3.1h0m0 2.3h0m0 .8h0m0 .5h0m0 2.2h0m0 .2h0m0 2.4h0m0 .9h0m0 .4h0m0 .1h0m0 .9h0m0 .1h0m.1-16.2h0m0 2.9h0m0 .9h0m0 1.9h0m0 2h0m0 .4h0m0 2.7h0m0 1.1h0m0 6.3h0m.1-21.8h0m0 3h0m0 2.6h0m0 3.8h0m0 1.9h0m0 .3h0m0 1.7h0m0 0h0m0 .8h0m0 1.1h0m0 2.9h0m0 .5h0m.1-17.6h0m0 1.9h0m0 2.2h0m0 2.1h0m0 .7h0m0 2.5h0m0 4.4h0m0 9.7h0m.1-26h0m0 8h0m0 1.4h0m0 2.4h0m0 10.9h0m0 .6h0m0 1.1h0m.1-26.1h0m0 2.8h0m0 2.7h0m0 5.8h0m0 .3h0m0 .4h0m0 1.5h0m0 1.9h0m0 .6h0m0 3.7h0m0 0h0m0 6.4h0m.1-21.9h0m0 1.8h0m0 1.8h0m0 .5h0m0 .7h0m0 3.6h0m0 1.3h0m0 .6h0m0 .5h0m0 .1h0m0 11.3h0m.1-25.7h0m0 9.5h0m0 2.3h0m0 .6h0m.1-10.1h0m0 .2h0m0 3.2h0m0 1.7h0m0 .1h0m0 1.3h0m0 .9h0m0 5.1h0m0 0h0m0 .3h0m0 2.8h0m0 1.5h0m0 2.4h0m0 2.4h0m.1-24.1h0m0 2.5h0m0 2.9h0m0 3.7h0m0 1.8h0m0 4h0m0 .1h0m0 1.9h0m0 .3h0m0 3.3h0m0 .9h0m0 .5h0m0 .5h0m0 13.1h0m.1-36.2h0m0 2.7h0m0 3.2h0m0 3.3h0m0 5.8h0m0 .8h0m0 3.2h0m0 5.4h0m0 .8h0m0 3.8h0m.1-29.1h0m0 1.6h0m0 3.1h0m0 3.3h0m0 .1h0m0 .5h0m0 4.9h0m0 1.5h0m0 1.4h0m0 2.2h0m0 .3h0m0 .4h0m0 1.6h0m0 .8h0m0 .9h0m0 2.3h0m.1-23.2h0m0 1.2h0m0 1.3h0m0 .8h0m0 13.7h0m0 .8h0m0 .3h0m0 1.9h0m0 2.9h0m0 .5h0m.1-21.3h0m0 .6h0m0 3.3h0m0 .4h0m0 4.3h0m0 1h0m0 1.6h0m0 2.1h0m0 .1h0m0 6.8h0m0 .7h0m.1-21.6h0m0 3.5h0m0 3.9h0m0 1.8h0m0 .4h0m0 3.8h0m0 3.3h0m0 2.7h0m.1-20.5h0m0 .1h0m0 2.1h0m0 4.4h0m0 1.7h0m0 10.5h0m0 .1h0m0 .8h0m0 3h0m0 7.5h0m.1-30.1h0m0 .6h0m0 .5h0m0 6.8h0m0 2.1h0m0 5.7h0m0 .8h0m0 .3h0m0 .7h0m0 2.7h0m0 2.3h0m.1-15.5h0m0 6.2h0m0 3.3h0m.1-13.9h0m0 1.6h0m0 2.1h0m0 2.6h0m0 .6h0m0 .3h0m0 2.9h0m0 1.1h0m0 1.3h0m0 .7h0m0 1.1h0m0 .7h0m0 .1h0m0 3.2h0m0 1h0m.1-21.5h0m0 1.9h0m0 2h0m0 1.8h0m0 .6h0m0 1.4h0m0 6.3h0m0 1.8h0m0 1.3h0m0 1h0m0 5.9h0m0 4.1h0m.1-30.7h0m0 3.6h0m0 2.1h0m0 .9h0m0 1.4h0m0 2.5h0m0 4.3h0m0 .4h0m0 1.9h0m0 .3h0m0 3.1h0m0 2.6h0m0 1.9h0m0 5.9h0m.1-27.5h0m0 1.8h0m0 3h0m0 3.8h0m0 10.6h0m0 .4h0m0 1.8h0m.1-22h0m0 2.5h0m0 2.6h0m0 .2h0m0 7.9h0m0 1.5h0m0 .8h0m0 2.1h0m0 11.8h0m.1-31.4h0m0 2.3h0m0 1.8h0m0 4.8h0m0 1.4h0m0 1.3h0m0 .1h0m0 1.8h0m0 1.8h0m0 1h0m0 1.2h0m0 .5h0m0 4.7h0m.1-20h0m0 1.7h0m0 .2h0m0 3h0m0 .3h0m0 1.5h0m0 4.7h0m0 .2h0m0 2h0m0 .7h0m0 2h0m0 3.1h0m0 3.9h0m.1-25.6h0m0 7.6h0m0 7.6h0m0 1.1h0m0 .3h0m0 2.6h0m0 3.5h0m0 .9h0m.1-22.8h0m0 1.6h0m0 .8h0m0 .7h0m0 3.8h0m0 .6h0m0 .4h0m0 5.7h0m0 2.2h0m0 2.2h0m0 3.7h0m.1-22.9h0m0 .8h0m0 .6h0m0 .9h0m0 3.6h0m0 8.7h0m0 .1h0m0 3.9h0m0 1.4h0m0 6.9h0m.1-22.8h0m0 1.6h0m0 6.7h0m0 1.3h0m0 3.4h0m0 .4h0m.1-15.7h0m0 12.6h0m0 8.3h0m.1-18.2h0m0 .4h0m0 1.9h0m0 3.3h0m0 .7h0m0 .7h0m0 3.7h0m0 6.3h0m0 .9h0m0 1.9h0m.1-21.5h0m0 1h0m0 8.7h0m0 .2h0m0 .8h0m0 5h0m0 .1h0m0 1.7h0m.1-22.6h0m0 6h0m0 1h0m0 5.1h0m0 1.2h0m0 1.2h0m0 3.9h0m0 1.8h0m0 11.6h0m.1-34.1h0m0 2.6h0m0 .6h0m0 .3h0m0 1.6h0m0 .7h0m0 1h0m0 2.5h0m0 3.5h0m0 9.5h0m0 .8h0m0 3.9h0m0 5.7h0m0 .1h0m.1-25.1h0m0 1.1h0m0 4.8h0m0 6h0m0 .3h0m0 6h0m0 3.1h0m.1-18.4h0m0 1.9h0m0 1.3h0m0 2.6h0m0 .6h0m0 1.8h0m0 1.3h0m0 11.3h0m0 3h0m.1-28.1h0m0 6.6h0m0 17h0m.1-26h0m0 7.2h0m0 1.5h0m0 7.1h0m0 2.8h0m.1-16.5h0m0 .4h0m0 2.2h0m0 3.7h0m0 7.2h0m0 .1h0m0 3.1h0m0 3.2h0m0 1.7h0m.1-19.8h0m0 2.6h0m0 .5h0m0 1.1h0m0 4.5h0m0 7.5h0m0 .6h0m0 2.9h0m0 5.6h0m.1-27.2h0m0 2.3h0m0 .7h0m0 1.5h0m0 9.2h0m0 .6h0m0 4h0m0 .2h0m0 2.5h0m0 0h0m.1-21h0m0 2h0m0 .7h0m0 10.1h0m0 1.5h0m0 4.3h0m0 4h0m.1-21.1h0m0 0h0m0 .1h0m0 .4h0m0 .3h0m0 1.4h0m0 13.5h0m0 6h0m0 4.6h0m.1-29h0m0 4.1h0m0 9h0m0 4.2h0m0 1.7h0m0 2.7h0m0 3.3h0m.1-26.1h0m0 1.4h0m0 .8h0m0 2.6h0m0 .7h0m0 .3h0m0 .9h0m0 1.7h0m0 .1h0m0 9.8h0m0 4.4h0m0 1.5h0m.1-21.5h0m0 .9h0m0 1.3h0m0 .4h0m0 .3h0m0 6.4h0m0 11.1h0m0 3.1h0m0 3.9h0m.1-29.6h0m0 2h0m0 3.2h0m0 1.6h0m0 .2h0m0 9.8h0m0 .4h0m0 3h0m0 .6h0m.1-18.7h0m0 .6h0m0 0h0m0 1.3h0m0 .8h0m0 8.6h0m0 3.3h0m0 11.9h0m.1-26h0m0 8.8h0m0 9.4h0m0 1.8h0m0 5.3h0m.1-24.9h0m0 .6h0m0 7.6h0m0 1.1h0m0 8.2h0m0 .4h0m0 7.8h0m.1-28.9h0m0 2h0m0 6.1h0m.1-5.2h0m0 3.4h0m0 4.4h0m0 2.5h0m0 15.2h0m.1-26.9h0m0 2.1h0m0 .7h0m0 15.7h0m.1-18.6h0m0 .7h0m0 3.1h0m0 .5h0m0 12.9h0m0 1.2h0m.1-17.4h0m0 1.8h0m0 2.6h0m0 8.5h0m0 3.5h0m.1-16.7h0m0 4.6h0m0 3.1h0m0 7.2h0m.1-17.3h0m0 1.9h0m0 1.7h0m0 1.2h0m0 8.3h0m0 3.3h0m0 4.5h0m.1-19h0m0 .9h0m0 .4h0m0 .7h0m0 1h0m0 2.7h0m0 1.7h0m0 1.4h0m.1-8.5h0m0 .1h0m0 .2h0m0 1.8h0m0 0h0m0 .4h0m0 13.9h0m0 1.7h0m0 1.5h0m.2-22.7h0m0 2.5h0m0 2.1h0m0 2.5h0m0 13.6h0m0 7.5h0m0 1.2h0m.1-24.8h0m0 3.7h0m0 5.1h0m0 9.7h0m.1-17.3h0m0 6.3h0m0 9.9h0m0 2.7h0m0 3h0m.1-27.8h0m0 1.9h0m0 .1h0m0 4.3h0m0 14.1h0m0 1.3h0m0 3.1h0m.1-21.1h0m0 .7h0m.1-.5h0m0 .1h0m0 1.5h0m0 .8h0m0 9.2h0m.1-15h0m0 1h0m0 8h0m0 9.3h0m0 11.5h0m.1-31.7h0m0 3.1h0m0 .6h0m0 .2h0m0 1.3h0m0 1.2h0m0 .9h0m0 1.1h0m0 1h0m0 11h0m0 9.5h0m0 3.6h0m.1-30.6h0m0 4.1h0m0 .2h0m0 .1h0m0 23.1h0m.1-26.8h0m0 1h0m0 .8h0m0 .2h0m0 1.2h0m0 4.4h0m0 .7h0m0 15h0m.1-23.3h0m0 .6h0m0 1.3h0m0 3.8h0m0 .1h0m0 1.6h0m0 1.7h0m.1-7h0m0 .3h0m0 1h0m0 4.3h0m0 9.3h0m0 5.6h0m.1-24.3h0m0 1.6h0m0 2.2h0m0 .1h0m0 1.2h0m0 1h0m0 .3h0m0 .8h0m0 14.2h0m.1-18.4h0m0 1.3h0m0 8.3h0m0 2.3h0m0 .5h0m0 1.7h0m.1-16.6h0m0 3h0m0 6h0m.1-6.5h0m0 1.1h0m0 4.3h0m.1-3.8h0m0 .1h0m0 14.9h0m.1-16.1h0m0 1.5h0m0 .1h0m0 17.2h0m0 3.2h0m.1-18.2h0m0 .2h0m.1-7.3h0m0 1.8h0m0 .5h0m0 .9h0m0 3.1h0m.1-3h0m0 2.7h0m0 .6h0m0 12.9h0m.1-17.1h0m0 .7h0m0 .4h0m0 .3h0m0 .3h0m0 .4h0m0 3h0m0 1.9h0m0 7.8h0m.1-16.9h0m0 3.4h0m0 .7h0m0 .5h0m0 1.4h0m0 5.3h0m.1-12.8h0m0 6.6h0m0 2.3h0m0 7.5h0m.1-16.7h0m0 4.2h0m0 1.6h0m0 4.2h0m.1-4.7h0m0 2.5h0m.1-6.3h0m0 3h0m0 1h0m0 4h0m0 1h0m.1-7.5h0m.1 .5h0m0 2h0m0 4.3h0m0 4.8h0m.1-10h0m0 3.6h0m0 10.2h0m.1-16.2h0m0 1.7h0m0 5.7h0m.1-7.1h0m0 0h0m0 3.6h0m0 .7h0m0 2.7h0m.1-12.2h0m0 7.6h0m0 2.2h0m0 .6h0m0 2.8h0m0 12.2h0m.1-19.1h0m0 .4h0m0 .5h0m0 1.1h0m0 2h0m0 2h0m0 0h0m.1-3.2h0m0 .7h0m0 1.7h0m.1-6h0m0 .9h0m0 1.4h0m0 .6h0m0 .8h0m0 28.9h0m.1-31.7h0m0 .4h0m.1-.7h0m0 1.5h0m0 .3h0m0 0h0m0 .3h0m0 2.1h0m0 1.8h0m.1-6.6h0m0 .4h0m0 .1h0m0 .1h0m0 .8h0m0 1.7h0m0 .3h0m0 16.1h0m.1-20.3h0m0 5.4h0m.1-3.6h0m0 2.8h0m0 .2h0m0 7.4h0m.1-9.3h0m0 1.4h0m0 0h0m0 .7h0m0 27.8h0m.1-34.2h0m0 5.8h0m0 2.5h0m.1-4.7h0m0 2.5h0m0 2.1h0m.1-3.2h0m0 1.5h0m.1-6.7h0m0 3.1h0m0 1.4h0m0 .4h0m0 1.3h0m0 .3h0m0 1.2h0m0 1.5h0m.1 20h0m.1-27.4h0m0 1.9h0m0 3h0m0 .4h0m0 3.1h0m.1-8.2h0m0 2.2h0m0 .6h0m0 .1h0m0 .5h0m0 2.3h0m.1-7.3h0m0 9.3h0m.1-9.3h0m0 2.1h0m0 .2h0m0 .5h0m0 3.8h0m0 3.5h0m.1-5.9h0m0 1.2h0m0 1.7h0m0 .7h0m.1-.8h0m0 .1h0m0 1.8h0m.1-4.6h0m0 0h0m0 .5h0m0 .1h0m0 .9h0m0 2h0m0 1h0m.1-7.9h0m0 1h0m0 .3h0m0 1.3h0m.1-2.8h0m0 1h0m0 .6h0m0 2.8h0m0 .1h0m0 1.2h0m0 1.6h0m.1-7.5h0m0 3.4h0m0 6.7h0m.1-10.7h0m0 5.9h0m0 1.2h0m0 10.8h0m.1-14.7h0m0 .8h0m0 1.1h0m0 .1h0m0 .9h0m.1-2.1h0m0 3.5h0m.1-3.2h0m0 1.6h0m.1-2.9h0m0 .8h0m0 2.2h0m.1-4.1h0m0 1.1h0m0 2.5h0m.1-3.2h0m0 1.2h0m0 .5h0m0 .1h0m0 .8h0m0 2.6h0m.2-7.2h0m0 2.4h0m0 3.5h0m.1-1.1h0m0 2.7h0m.1-6h0m0 .1h0m0 1.4h0m0 1.1h0m0 1.3h0m0 .6h0m0 .1h0m0 0h0m.1-5h0m0 .5h0m0 2.8h0m0 0h0m0 1.3h0m.1-3.2h0m0 .7h0m0 1h0m0 .4h0m0 2.2h0m.1 8.5h0m.1-12.3h0m0 .8h0m0 .5h0m0 2h0m0 2.6h0m0 18.2h0m.1-24.9h0m0 21.6h0m.1-16.6h0m.1-5h0m0 1.9h0m.1-2.3h0m0 1.3h0m0 1.6h0m0 .4h0m0 .5h0m0 0h0m0 12.3h0m0 6.1h0m.1-18h0m.1-5.6h0m0 1.3h0m0 2.8h0m0 1.9h0m.1-4.4h0m0 1.7h0m0 27.3h0m.1-30.3h0m0 .1h0m0 0h0m0 2.4h0m0 0h0m0 2.6h0m0 .5h0m0 2.5h0m.1-8.8h0m0 3.7h0m0 1h0m0 1.9h0m.1-4.7h0m0 .3h0m0 1.9h0m0 .7h0m0 .9h0m.1-1.4h0m.1-.6h0m0 3.3h0m0 1.2h0m0 5.6h0m0 3.7h0m.2-12.8h0m.1-4.7h0m0 2.8h0m0 .6h0m0 1.8h0m0 2.4h0m.2-4h0m0 2.6h0m0 0h0m0 .9h0m.1-5.5h0m0 1.2h0m0 2.7h0m0 0h0m0 .5h0m0 1h0m.1-6.2h0m0 .5h0m0 1.1h0m0 1.1h0m0 3.7h0m.1-3.3h0m0 1.2h0m.1-3.5h0m0 1h0m0 1.9h0m.2-1.6h0m0 .9h0m0 1.7h0m0 1.5h0m.1-2.2h0m0 .1h0m0 1.3h0m.1-2.8h0m.1-3.6h0m0 5h0m0 1.3h0m.1-2h0m0 3.2h0m.2-3.3h0m0 2.5h0m0 .5h0m0 6.7h0m.1-14.8h0m0 4.9h0m0 1.7h0m.1-4.2h0m0 1.9h0m0 .4h0m0 2.5h0m0 .1h0m0 7.8h0m.2-27.8h0m.1 19.6h0m.1-2h0m0 1.3h0m0 2.2h0m.1 1.4h0m.1-2.6h0m0 .8h0m.1-3.5h0m0 1.1h0m.1-3.6h0m0 2.9h0m0 6h0m.1 2.8h0m.1-11.4h0m0 4.5h0m0 0h0m0 .9h0m.1-1.5h0m.1 1.3h0m0 1.7h0m.1-5.9h0m0 .3h0m0 1.4h0m0 11.6h0m.1-11.6h0m.2-3.2h0m0 2.1h0m.1 .1h0m0 5.5h0m.2-7.9h0m.1 1.4h0m0 1.7h0m0 1.6h0m.3 .5h0m0 1.6h0m.1-1.8h0m.1-2.7h0m.1-1.2h0m.1-2.5h0m0 7.7h0m.1-4h0m.1 1.4h0m0 1h0m.2-.2h0m0 .2h0m0 4.1h0m.3-6.3h0m0 .2h0m.3 .1h0m0 .4h0m.2 .3h0m0 3.3h0m0 .4h0m.1-4.3h0m0 4.9h0m.2-2.8h0m.1-2h0m0 4.3h0m.1-1.8h0m.1 .1h0m.2-2.8h0m0 .3h0m.2 2.9h0m.4 8.3h0m.5-11.8h0m.4-3.3h0m.1 7.9h0m1-.1h0m.2-3h0m.1 3.4h0m.1-2.2h0m.2 .3h0m.1-4.1h0m.6 29.6h0m2.9-27.7h0" stroke="#e02018" stroke-opacity="0.5" stroke-width="0.8" stroke-linecap="square" fill="none"/>
<path d="M342 58h0m.1 .9h0m.3 2.1h0m.3-1.3h0m.1 1.7h0m.3-3.8h0m.2-2.2h0m.1-3.2h0m.2 8.7h0m.1-4.1h0m0 .6h0m.2 .1h0m0 3.8h0m.3-5.9h0m.1 5.8h0m.1-3.5h0m.3 2.2h0m.1-2.3h0m.1-1h0m0 .8h0m.3 .7h0m.1-2.5h0m.1 3.1h0m0 1.6h0m.1-1h0m.2 1.3h0m.1-3.1h0m0 2.4h0m0 .9h0m.1-.8h0m0 .2h0m.2-3.7h0m0 1.6h0m.1 4.4h0m.1-7.3h0m0 2.5h0m0 2.1h0m0 .4h0m.3-5.9h0m0 1.8h0m0 .4h0m0 .1h0m.1-2.4h0m0 3.3h0m0 1.3h0m.2-3.8h0m0 1.8h0m.2 5.8h0m.1-9.6h0m0 6.2h0m.1-3.4h0m.1-1h0m.1 .3h0m0 5.3h0m.2 .6h0m.1-6.4h0m.1 .4h0m0 2.3h0m.2-.3h0m0 4.5h0m.1-5.8h0m.1-.8h0m.1 5.2h0m.1 1.2h0m.2-1h0m.6-5h0m0 6.2h0m.1-4.7h0m.4-.9h0m1.3 7.3h0" stroke="#e04848" stroke-opacity="0.35" stroke-width="0.8" stroke-linecap="square" fill="none"/>
<g clip-path="url(#cD2)">
<ellipse cx="337.5" cy="46.0" rx="7.5" ry="2.8" fill="#e42a1c" fill-opacity="0.85" filter="url(#b10)" transform="rotate(-4 337.5 46.0)"/>
<ellipse cx="326" cy="50.5" rx="2.8" ry="4.5" fill="#e42a1c" fill-opacity="0.7" filter="url(#b10)"/>
<ellipse cx="329.3" cy="61.5" rx="3.6" ry="7.0" fill="#e42a1c" fill-opacity="0.85" filter="url(#b10)" transform="rotate(10 329.3 61.5)"/>
<ellipse cx="329.9" cy="62.4" rx="2.2" ry="3.4" fill="#f08428" fill-opacity="0.95" filter="url(#b10)" transform="rotate(10 329.9 62.4)"/>
</g>
<text x="0" y="0" font-family="Liberation Sans, sans-serif" font-size="10.8" font-weight="bold" text-anchor="middle" fill="#000" transform="translate(353.8 40.8) scale(0.855 1)">16.0</text>
<rect x="395.5" y="26.5" width="55.0" height="55.0" fill="#fff" stroke="#a8a8a8" stroke-width="0.8"/>
<text x="394.2" y="27.5" font-family="Liberation Sans, sans-serif" font-size="2.4" font-weight="normal" text-anchor="end" fill="#777" stroke="#777" stroke-width="0.18">10¹</text>
<line x1="395.4" y1="26.7" x2="396.59999999999997" y2="26.7" stroke="#888" stroke-width="0.4"/>
<text x="394.2" y="41.14999999999999" font-family="Liberation Sans, sans-serif" font-size="2.4" font-weight="normal" text-anchor="end" fill="#777" stroke="#777" stroke-width="0.18">10¹</text>
<line x1="395.4" y1="40.349999999999994" x2="396.59999999999997" y2="40.349999999999994" stroke="#888" stroke-width="0.4"/>
<text x="394.2" y="54.8" font-family="Liberation Sans, sans-serif" font-size="2.4" font-weight="normal" text-anchor="end" fill="#777" stroke="#777" stroke-width="0.18">10¹</text>
<line x1="395.4" y1="54.0" x2="396.59999999999997" y2="54.0" stroke="#888" stroke-width="0.4"/>
<text x="394.2" y="68.44999999999999" font-family="Liberation Sans, sans-serif" font-size="2.4" font-weight="normal" text-anchor="end" fill="#777" stroke="#777" stroke-width="0.18">10¹</text>
<line x1="395.4" y1="67.64999999999999" x2="396.59999999999997" y2="67.64999999999999" stroke="#888" stroke-width="0.4"/>
<text x="394.2" y="82.1" font-family="Liberation Sans, sans-serif" font-size="2.4" font-weight="normal" text-anchor="end" fill="#777" stroke="#777" stroke-width="0.18">10¹</text>
<line x1="395.4" y1="81.3" x2="396.59999999999997" y2="81.3" stroke="#888" stroke-width="0.4"/>
<text x="395.4" y="84.7" font-family="Liberation Sans, sans-serif" font-size="2.4" font-weight="normal" text-anchor="middle" fill="#777" stroke="#777" stroke-width="0.18">10¹</text>
<line x1="395.4" y1="81.3" x2="395.4" y2="80.1" stroke="#888" stroke-width="0.4"/>
<text x="409.15" y="84.7" font-family="Liberation Sans, sans-serif" font-size="2.4" font-weight="normal" text-anchor="middle" fill="#777" stroke="#777" stroke-width="0.18">10¹</text>
<line x1="409.15" y1="81.3" x2="409.15" y2="80.1" stroke="#888" stroke-width="0.4"/>
<text x="422.9" y="84.7" font-family="Liberation Sans, sans-serif" font-size="2.4" font-weight="normal" text-anchor="middle" fill="#777" stroke="#777" stroke-width="0.18">10¹</text>
<line x1="422.9" y1="81.3" x2="422.9" y2="80.1" stroke="#888" stroke-width="0.4"/>
<text x="436.65" y="84.7" font-family="Liberation Sans, sans-serif" font-size="2.4" font-weight="normal" text-anchor="middle" fill="#777" stroke="#777" stroke-width="0.18">10¹</text>
<line x1="436.65" y1="81.3" x2="436.65" y2="80.1" stroke="#888" stroke-width="0.4"/>
<text x="450.4" y="84.7" font-family="Liberation Sans, sans-serif" font-size="2.4" font-weight="normal" text-anchor="middle" fill="#777" stroke="#777" stroke-width="0.18">10¹</text>
<line x1="450.4" y1="81.3" x2="450.4" y2="80.1" stroke="#888" stroke-width="0.4"/>
<line x1="423.5" y1="26.5" x2="423.5" y2="81.5" stroke="#8bb8c0" stroke-width="0.7"/>
<line x1="395.5" y1="55.5" x2="450.5" y2="55.5" stroke="#8bb8c0" stroke-width="0.7"/>
<path d="M402.8 63.9h0m.6 14.4h0m.7-9.6h0m.8-6.4h0m.3-9.5h0m.7 .6h0m.3 20.1h0m.1-5.2h0m.1-6.8h0m0 11.5h0m.2-24.5h0m0 11h0m.1-12.4h0m0 15h0m.1-16.9h0m0 27.6h0m.2-19.5h0m0 6.3h0m0 .3h0m0 9.4h0m.1-10h0m0 13.7h0m.2-14.7h0m.1-6.9h0m0 8.7h0m0 5.4h0m.1-11h0m0 13.6h0m.1-21.1h0m0 .6h0m.2-.5h0m0 .8h0m0 11.7h0m.1 15.1h0m.2-7.9h0m.1-21.5h0m0 4.1h0m0 13.9h0m.1-10.1h0m0 .6h0m0 16.9h0m0 4.9h0m.1-26.1h0m0 16.9h0m.1-12.7h0m0 13.8h0m0 2.6h0m.1-26.5h0m0 8.5h0m0 .3h0m.1-8.9h0m0 4.8h0m0 2.3h0m0 11.4h0m.1-18.3h0m0 .9h0m0 1h0m0 25.1h0m0 5.5h0m.1-13h0m.1-24.6h0m0 7.1h0m0 1h0m0 2.4h0m0 7.3h0m0 .7h0m.1-12.8h0m0 6h0m0 18.8h0m.1-21.9h0m0 6.4h0m0 6.2h0m0 2.3h0m.1-11.4h0m0 21h0m.1-34.7h0m0 10h0m0 2.5h0m0 .5h0m0 4.3h0m0 15.7h0m.1-12.4h0m0 19.3h0m.1-14.1h0m0 9.1h0m.1-23h0m0 1.5h0m0 .5h0m0 .6h0m0 3.2h0m0 6h0m0 6h0m.1-24.2h0m0 6.4h0m0 7.9h0m0 7.1h0m.1-18.1h0m0 17.2h0m0 1.7h0m0 3.9h0m0 .6h0m.1-22.3h0m0 4.7h0m0 1.3h0m0 7h0m0 4.1h0m.1-14.8h0m0 16.5h0m0 5.6h0m0 1h0m.1-33.1h0m0 10h0m0 13.2h0m0 2.2h0m0 3.8h0m.1-21h0m0 .7h0m0 .5h0m0 2.3h0m0 22.1h0m.1-28.5h0m0 .5h0m0 .8h0m0 2h0m0 18.4h0m0 1.9h0m.1-25.4h0m0 2.1h0m0 3h0m0 1.6h0m0 5.9h0m0 5.2h0m0 2h0m0 2.6h0m.1-20.3h0m0 2.8h0m0 .6h0m0 1.3h0m0 4.9h0m0 .4h0m0 10h0m0 4.1h0m0 4.1h0m.1-26.7h0m0 .1h0m0 .6h0m0 16.3h0m0 6.7h0m0 5.2h0m0 1.2h0m0 3.2h0m.1-34h0m0 1.6h0m0 0h0m0 12.6h0m0 15.9h0m.1-27.8h0m0 .1h0m0 .8h0m0 .7h0m0 4.2h0m0 4.5h0m0 7.2h0m.1-18.1h0m0 2h0m0 2.4h0m0 1.3h0m0 5.1h0m0 3.7h0m.1-19.1h0m0 9.8h0m0 1.9h0m0 5.1h0m0 7.6h0m0 1h0m0 3h0m0 .4h0m.1-24.4h0m0 4.5h0m0 1h0m0 9.5h0m0 .7h0m.1-20.7h0m0 2.3h0m0 2.2h0m0 .6h0m0 3h0m0 1.5h0m0 10.1h0m0 1.3h0m0 1.3h0m0 3.5h0m0 2.1h0m0 .3h0m0 2.9h0m.1-27h0m0 11h0m0 13.9h0m.1-27h0m0 .2h0m0 5h0m0 9.2h0m0 5.5h0m0 1h0m0 7.5h0m.1-25.2h0m0 3.7h0m0 .2h0m0 1.3h0m0 1.8h0m0 9.7h0m0 1.2h0m0 .6h0m0 6.7h0m0 3.1h0m.1-33.3h0m0 2h0m0 4.5h0m0 .3h0m0 1.1h0m0 13.8h0m.1-18.7h0m0 2h0m0 2.2h0m0 1.9h0m0 21.4h0m.1-37.9h0m0 7.7h0m0 1.1h0m0 .7h0m0 .8h0m0 1.4h0m0 .6h0m0 .3h0m0 2.5h0m0 12.6h0m0 1.5h0m0 .9h0m0 4.4h0m.1-26.5h0m0 10.5h0m0 3.5h0m0 1.2h0m0 4.7h0m0 6.6h0m.1-30.6h0m0 5h0m0 2.1h0m0 2.6h0m0 15.8h0m0 2.2h0m.1-26.9h0m0 6h0m0 1.1h0m0 1.7h0m0 2h0m0 4.5h0m0 3.5h0m0 7.5h0m.1-34.1h0m0 13.2h0m0 2.3h0m0 .2h0m0 4.3h0m0 13h0m0 5.7h0m0 .5h0m0 2.5h0m.1-27.6h0m0 .7h0m0 1.5h0m0 7.7h0m0 16.8h0m.1-27.3h0m0 .3h0m0 .9h0m0 .2h0m0 .2h0m0 3.7h0m0 1h0m0 3.8h0m0 5.6h0m0 .4h0m0 .3h0m.1-20.2h0m0 6h0m0 .6h0m0 .4h0m0 2.9h0m0 .1h0m0 6.3h0m0 2.1h0m0 .7h0m0 1.2h0m0 1.1h0m0 2h0m0 1h0m0 9.5h0m.1-30.8h0m0 .2h0m0 .2h0m0 1.5h0m0 .4h0m0 .7h0m0 16.9h0m0 2.1h0m0 4.9h0m.1-27.3h0m0 .2h0m0 .1h0m0 .2h0m0 2.5h0m0 .6h0m0 18.4h0m0 1.1h0m0 5.4h0m.1-26.9h0m0 1.8h0m0 .3h0m0 8h0m0 .9h0m0 3.5h0m0 1.8h0m0 11.8h0m.1-27.3h0m0 1h0m0 1.2h0m0 6.8h0m0 .5h0m0 .3h0m0 .8h0m0 3.5h0m0 .2h0m0 12.6h0m.1-37.9h0m0 7.6h0m0 .2h0m0 .1h0m0 1h0m0 .9h0m0 .6h0m0 1.2h0m0 10.6h0m0 5.7h0m0 4.8h0m.1-21h0m0 4h0m0 12.3h0m0 4.3h0m0 2.7h0m0 .4h0m0 3.7h0m0 .1h0m0 .1h0m0 1.1h0m.1-32h0m0 15.2h0m0 4.2h0m0 9.7h0m.1-34.7h0m0 2.4h0m0 5.6h0m0 .7h0m0 1.9h0m0 11.2h0m0 .1h0m0 .9h0m0 3.6h0m.1-24.4h0m0 1.8h0m0 .8h0m0 5.7h0m0 .3h0m0 1h0m0 10.8h0m0 .9h0m0 5.6h0m0 4.8h0m0 1.8h0m.1-26.4h0m0 .5h0m0 3.6h0m0 1.9h0m0 11.5h0m0 4.5h0m0 1.1h0m.1-22.7h0m0 10.7h0m0 2.3h0m0 18h0m.1-41.5h0m0 5.4h0m0 .8h0m0 1.5h0m0 0h0m0 2.7h0m0 .2h0m0 12.1h0m0 .6h0m0 15h0m0 0h0m.1-35.4h0m0 1.3h0m0 3.4h0m0 2.1h0m0 5.2h0m0 9.9h0m0 1.6h0m0 9.6h0m.1-30.7h0m0 2.4h0m0 2h0m0 .7h0m0 1.4h0m0 2.2h0m0 5.1h0m0 5.6h0m0 .5h0m0 .2h0m0 .4h0m0 5.8h0m0 1.3h0m0 1.5h0m0 1.8h0m0 2.3h0m.1-31.6h0m0 .2h0m0 1.1h0m0 1h0m0 13.8h0m0 1.3h0m0 1.3h0m0 2.9h0m0 7.2h0m0 1.3h0m0 2.8h0m0 1h0m.1-37.7h0m0 2.7h0m0 2.3h0m0 7.2h0m0 .5h0m0 6.1h0m0 1.7h0m0 .9h0m0 14.5h0m.1-33.9h0m0 4.1h0m0 .2h0m0 .9h0m0 1h0m0 3h0m0 24.3h0m.1-31.5h0m0 1.4h0m0 1.2h0m0 2.1h0m0 2h0m0 1.2h0m0 3h0m0 4.2h0m0 1.5h0m0 2.5h0m0 8.8h0m0 2.4h0m.1-30h0m0 2.1h0m0 .7h0m0 1.1h0m0 10.1h0m0 2.6h0m0 11.5h0m.1-28.7h0m0 4.6h0m0 .2h0m0 3.4h0m0 12h0m0 1h0m0 .9h0m0 .3h0m0 4.5h0m.1-25h0m0 8.1h0m0 6.8h0m0 3.4h0m0 5h0m.1-25.6h0m0 1.7h0m0 3.9h0m0 4h0m.1-10.1h0m0 1.1h0m0 .7h0m0 1.5h0m0 .4h0m0 .2h0m0 .5h0m0 25.4h0m0 1.8h0m.1-26.7h0m0 1.3h0m0 11.4h0m0 7.4h0m0 3.1h0m0 1.2h0m.1-25.9h0m0 1.4h0m0 6.8h0m0 4.9h0m0 8.4h0m0 .6h0m0 .1h0m0 3.2h0m0 .8h0m.1-27.8h0m0 .2h0m0 7.1h0m0 12.8h0m0 .9h0m0 2.9h0m0 9.6h0m.1-37.6h0m0 24.8h0m0 2h0m0 2.9h0m0 1.1h0m.1-29.4h0m0 .5h0m0 1.4h0m0 .5h0m0 3.8h0m0 7.4h0m0 1.8h0m0 3.6h0m0 2.1h0m0 3.5h0m0 4.4h0m0 1.9h0m.1-31h0m0 10.1h0m0 9.8h0m0 10h0m.1-24.5h0m0 2.9h0m0 7h0m0 .8h0m0 16.8h0m0 0h0m.1-15.2h0m.1-16.1h0m0 3h0m0 .4h0m0 1.6h0m0 2.5h0m0 10h0m.1-6.9h0m0 5.6h0m0 4.2h0m0 6.6h0m.1-37.3h0m0 15h0m0 20.9h0m0 1.8h0m0 5.2h0m.1-22.5h0m0 14.2h0m0 2h0m.1-25.7h0m0 18.7h0m0 2.2h0m0 1.2h0m0 7.9h0m.1-27.1h0m0 1.4h0m0 .7h0m0 3.4h0m0 6.7h0m.1-14.5h0m0 3.7h0m0 2.1h0m0 10.4h0m0 5.3h0m0 1.4h0m0 3.7h0m0 4.9h0m.1-33.8h0m0 6.6h0m0 19.7h0m.1-14.9h0m0 6h0m0 .3h0m.1-15.3h0m0 15.3h0m0 1.8h0m.1-13.1h0m.1-13.5h0m0 12h0m0 2.7h0m0 15h0m0 1.5h0m0 .1h0m.1-21.6h0m0 .8h0m0 1.4h0m0 14.4h0m.1-13.2h0m0 6.2h0m0 19.5h0m.1-15.4h0m.1-11.5h0m.1-2.5h0m0 16.5h0m.1-9.6h0m0 1.6h0m.1 6.8h0m0 3.3h0m0 3.5h0m0 1.1h0m.1-12h0m0 6.4h0m.1 0h0m0 1.5h0m0 .7h0m.1-.2h0m.1-8.8h0m0 4.8h0m0 2.5h0m0 8.6h0m.1-21.8h0m0 10.6h0m.1-10.5h0m.1 9.9h0m0 10.8h0m.2-26.5h0m.1-9.7h0m0 16.3h0m.3 26.3h0m.3-30.3h0m.3 20.7h0m.1 5.4h0m.2-6.5h0m1.1-16.7h0m0 16.5h0m.3-1.4h0" stroke="#e05060" stroke-opacity="0.28" stroke-width="0.8" stroke-linecap="square" fill="none"/>
<text x="0" y="0" font-family="Liberation Sans, sans-serif" font-size="10.8" font-weight="bold" text-anchor="middle" fill="#000" transform="translate(405 38.6) scale(0.855 1)">27.7</text>
<text x="0" y="0" font-family="Liberation Sans, sans-serif" font-size="10.8" font-weight="bold" text-anchor="middle" fill="#000" transform="translate(438.9 38.6) scale(0.855 1)">0.3</text>
<text x="0" y="0" font-family="Liberation Sans, sans-serif" font-size="10.8" font-weight="bold" text-anchor="middle" fill="#000" transform="translate(405 74.5) scale(0.855 1)">71.6</text>
<text x="0" y="0" font-family="Liberation Sans, sans-serif" font-size="10.8" font-weight="bold" text-anchor="middle" fill="#000" transform="translate(438.9 74.5) scale(0.855 1)">0:4</text>
<rect x="461.5" y="26.5" width="56.0" height="54.0" fill="#fff" stroke="#a8a8a8" stroke-width="0.8"/>
<text x="460.6" y="27.0" font-family="Liberation Sans, sans-serif" font-size="2.4" font-weight="normal" text-anchor="end" fill="#777" stroke="#777" stroke-width="0.18">10¹</text>
<line x1="461.8" y1="26.2" x2="463.0" y2="26.2" stroke="#888" stroke-width="0.4"/>
<text x="460.6" y="40.64999999999999" font-family="Liberation Sans, sans-serif" font-size="2.4" font-weight="normal" text-anchor="end" fill="#777" stroke="#777" stroke-width="0.18">10¹</text>
<line x1="461.8" y1="39.849999999999994" x2="463.0" y2="39.849999999999994" stroke="#888" stroke-width="0.4"/>
<text x="460.6" y="54.3" font-family="Liberation Sans, sans-serif" font-size="2.4" font-weight="normal" text-anchor="end" fill="#777" stroke="#777" stroke-width="0.18">10¹</text>
<line x1="461.8" y1="53.5" x2="463.0" y2="53.5" stroke="#888" stroke-width="0.4"/>
<text x="460.6" y="67.94999999999999" font-family="Liberation Sans, sans-serif" font-size="2.4" font-weight="normal" text-anchor="end" fill="#777" stroke="#777" stroke-width="0.18">10¹</text>
<line x1="461.8" y1="67.14999999999999" x2="463.0" y2="67.14999999999999" stroke="#888" stroke-width="0.4"/>
<text x="460.6" y="81.6" font-family="Liberation Sans, sans-serif" font-size="2.4" font-weight="normal" text-anchor="end" fill="#777" stroke="#777" stroke-width="0.18">10¹</text>
<line x1="461.8" y1="80.8" x2="463.0" y2="80.8" stroke="#888" stroke-width="0.4"/>
<text x="461.8" y="84.2" font-family="Liberation Sans, sans-serif" font-size="2.4" font-weight="normal" text-anchor="middle" fill="#777" stroke="#777" stroke-width="0.18">10¹</text>
<line x1="461.8" y1="80.8" x2="461.8" y2="79.6" stroke="#888" stroke-width="0.4"/>
<text x="475.75" y="84.2" font-family="Liberation Sans, sans-serif" font-size="2.4" font-weight="normal" text-anchor="middle" fill="#777" stroke="#777" stroke-width="0.18">10¹</text>
<line x1="475.75" y1="80.8" x2="475.75" y2="79.6" stroke="#888" stroke-width="0.4"/>
<text x="489.70000000000005" y="84.2" font-family="Liberation Sans, sans-serif" font-size="2.4" font-weight="normal" text-anchor="middle" fill="#777" stroke="#777" stroke-width="0.18">10¹</text>
<line x1="489.70000000000005" y1="80.8" x2="489.70000000000005" y2="79.6" stroke="#888" stroke-width="0.4"/>
<text x="503.65000000000003" y="84.2" font-family="Liberation Sans, sans-serif" font-size="2.4" font-weight="normal" text-anchor="middle" fill="#777" stroke="#777" stroke-width="0.18">10¹</text>
<line x1="503.65000000000003" y1="80.8" x2="503.65000000000003" y2="79.6" stroke="#888" stroke-width="0.4"/>
<text x="517.6" y="84.2" font-family="Liberation Sans, sans-serif" font-size="2.4" font-weight="normal" text-anchor="middle" fill="#777" stroke="#777" stroke-width="0.18">10¹</text>
<line x1="517.6" y1="80.8" x2="517.6" y2="79.6" stroke="#888" stroke-width="0.4"/>
<line x1="490.5" y1="26.5" x2="490.5" y2="80.5" stroke="#8bb8c0" stroke-width="0.7"/>
<line x1="461.5" y1="55.5" x2="517.5" y2="55.5" stroke="#8bb8c0" stroke-width="0.7"/>
<path d="M472.5 39.7h0m.6 26.2h0m.3-10.9h0m.6-8.1h0m.1 1.6h0m.1-3.4h0m.8-11.6h0m0 3h0m.1 12.5h0m0 14.3h0m.1-6.3h0m.1-17.4h0m0 7.1h0m.2 .1h0m.3-2.6h0m.2 1h0m0 6h0m0 10.3h0m.1 2.2h0m.1-.8h0m0 12.2h0m0 2.6h0m.1-32h0m0 4.7h0m0 5.3h0m.2 11.1h0m.1-24.1h0m0 5.1h0m0 2.9h0m.1-9.6h0m0 6.3h0m0 16h0m0 0h0m0 1.9h0m0 2.8h0m.1-25.1h0m0 25.1h0m.1-22.3h0m.1-7h0m0 5.1h0m0 5.4h0m0 6.9h0m0 10.8h0m.1-18.3h0m0 11.1h0m.1 6.5h0m0 12.2h0m.1-36.6h0m.1 4.8h0m0 24.2h0m.1-31.8h0m0 6.1h0m0 23.2h0m.1-24h0m0 24.7h0m0 2.6h0m.1-31.7h0m0 5.5h0m.1 .1h0m0 17.7h0m0 1.7h0m.1-22.4h0m0 5.9h0m0 5h0m0 .5h0m0 16.3h0m.1-24.2h0m0 21.7h0m0 1.4h0m.1-25.4h0m0 .7h0m0 .2h0m0 3.9h0m0 1.5h0m0 13.3h0m0 4h0m.1-23.1h0m0 14.5h0m.1-18.5h0m0 4.1h0m0 11.3h0m0 15.5h0m.1-26.8h0m0 2.6h0m0 9.5h0m0 4.5h0m0 5.4h0m0 6.1h0m0 .2h0m0 3.7h0m0 .9h0m.1-32.4h0m.1-1h0m0 3.3h0m0 .9h0m0 19.4h0m0 .1h0m0 1.8h0m0 9.8h0m0 0h0m.1-34.4h0m0 21.9h0m0 5.7h0m.1-12.4h0m.1-13.3h0m0 3.5h0m0 5h0m0 4.8h0m0 13.3h0m0 1h0m.1-34.5h0m0 13.5h0m0 1.1h0m0 18.5h0m.1-28.9h0m0 9.3h0m0 11.9h0m0 5.2h0m0 5.2h0m.1-31.1h0m0 3.4h0m0 5.8h0m0 13.2h0m0 4.7h0m0 5.2h0m.1-35.2h0m0 7.3h0m0 5.9h0m0 3.7h0m0 5.8h0m0 .6h0m0 8.9h0m.1-27.1h0m0 14.4h0m0 10.1h0m0 .2h0m0 4.6h0m.1-31.8h0m0 1.3h0m0 1.4h0m0 1.8h0m0 15.9h0m0 .6h0m.1-24.6h0m0 2.4h0m0 6.5h0m0 11.9h0m0 3.3h0m0 4.5h0m0 2.8h0m0 5.2h0m.1-35.2h0m0 .1h0m0 18.3h0m0 2.4h0m0 4.2h0m0 1.3h0m0 .4h0m0 .1h0m0 .4h0m0 1.8h0m.1-33.3h0m0 0h0m0 7.8h0m0 4.3h0m0 12.5h0m0 1.2h0m0 7.4h0m.1-30.2h0m0 2h0m0 2.8h0m0 6.8h0m0 8.6h0m0 .5h0m0 9h0m.1-18.8h0m0 4.5h0m0 1.7h0m0 2.1h0m0 3.3h0m0 0h0m0 8.5h0m.1-29.8h0m0 1h0m0 2.1h0m0 1.4h0m0 13.4h0m0 9h0m0 10h0m.1-38h0m0 3.5h0m0 0h0m0 1h0m0 2.8h0m0 .4h0m0 14.5h0m0 2.9h0m.1-26.5h0m0 3.8h0m0 1.1h0m0 1.5h0m0 2.5h0m0 27.8h0m.1-35.7h0m0 1h0m0 .4h0m0 .1h0m0 2.6h0m0 .2h0m0 5.6h0m0 3.2h0m0 .5h0m0 8.1h0m0 4.6h0m0 3.6h0m0 3h0m.1-32.3h0m0 4.6h0m0 1h0m0 1.4h0m0 1.1h0m0 3.5h0m0 11.2h0m0 9.1h0m0 1.4h0m.1-28.1h0m0 3.5h0m0 .3h0m0 .8h0m0 16.1h0m0 .8h0m0 6.5h0m.1-33.8h0m0 .7h0m0 4.2h0m0 2.4h0m0 4.1h0m0 1.2h0m0 15.1h0m0 11h0m.1-30.4h0m0 3.8h0m0 6.3h0m0 4.7h0m0 .5h0m0 5h0m0 .7h0m0 .1h0m0 7h0m.1-31.3h0m0 .1h0m0 18.2h0m0 .6h0m0 .4h0m0 2.3h0m.1-23.1h0m0 5.2h0m0 4.2h0m0 .1h0m0 .2h0m0 4.6h0m0 0h0m0 4.9h0m0 2.2h0m0 .1h0m0 4.4h0m0 9.2h0m0 .6h0m.1-43.3h0m0 2.9h0m0 1.7h0m0 4.4h0m0 .6h0m0 .6h0m0 4.3h0m0 1.4h0m0 15.5h0m.1-35.2h0m0 12.4h0m0 1.3h0m0 1.1h0m0 2.5h0m0 2.6h0m0 6.8h0m0 1.6h0m0 2.3h0m0 1h0m0 9.5h0m.1-32.2h0m0 21h0m0 3h0m.1-18.7h0m0 5.2h0m0 6.5h0m0 4.3h0m0 .9h0m.1-23.7h0m0 .2h0m0 3.3h0m0 2.5h0m0 15.5h0m0 7.9h0m0 2h0m.1-30.8h0m0 4.1h0m0 5.4h0m0 7.8h0m0 1.3h0m0 2.7h0m0 .5h0m0 .3h0m0 1.1h0m0 .3h0m0 4.8h0m0 1.3h0m0 .6h0m0 .2h0m0 1.8h0m0 5.1h0m.1-38h0m0 1h0m0 .1h0m0 2.5h0m0 2.5h0m0 1.6h0m0 18h0m0 1.7h0m0 3.9h0m0 5.1h0m.1-31.4h0m0 3h0m0 2.9h0m0 3h0m0 2.9h0m0 .3h0m0 4.2h0m0 2.7h0m0 6.9h0m0 .9h0m0 .7h0m0 .4h0m0 5.6h0m.1-35.1h0m0 .4h0m0 3.9h0m0 2.7h0m0 6.5h0m0 2.8h0m0 2.1h0m0 5.2h0m0 4.8h0m.1-33.3h0m0 3.5h0m0 .1h0m0 3.1h0m0 2.2h0m0 .5h0m0 .6h0m0 10.6h0m0 3.1h0m0 .7h0m0 1.3h0m0 4.1h0m0 .1h0m0 4.5h0m0 1.9h0m.1-33.3h0m0 5.3h0m0 8.6h0m0 3h0m0 .1h0m0 1.9h0m0 .1h0m0 6.1h0m0 4.3h0m0 3.9h0m0 .2h0m.1-32.8h0m0 .7h0m0 2.8h0m0 .4h0m0 5.2h0m0 8.3h0m0 5.1h0m0 6.1h0m0 2.5h0m.1-35.6h0m0 1.5h0m0 6h0m0 1.1h0m0 1.9h0m0 2.4h0m0 .2h0m0 .7h0m0 1.3h0m0 17.4h0m0 3.2h0m0 3.6h0m.1-29.4h0m0 .8h0m0 6.4h0m0 6.4h0m0 4.8h0m0 1.3h0m0 7h0m0 3.4h0m.1-36.1h0m0 4.7h0m0 7.5h0m0 10.8h0m0 .1h0m0 0h0m0 10h0m.1-27.3h0m0 16.4h0m0 .3h0m0 2h0m0 1.6h0m0 2.1h0m0 2.6h0m.1-27.9h0m0 0h0m0 4.2h0m0 18.3h0m0 6.7h0m.1-32.9h0m0 3.9h0m0 13.8h0m0 1.7h0m0 2h0m0 2.1h0m0 4.2h0m0 .6h0m0 9h0m.1-39h0m0 6.7h0m0 .2h0m0 2.1h0m0 1.5h0m0 1.8h0m0 4.5h0m0 .2h0m0 19.2h0m.1-40.9h0m0 5.3h0m0 5.3h0m0 6.8h0m0 18.5h0m.1-24.4h0m0 0h0m0 .5h0m0 1.5h0m0 17.9h0m0 7.4h0m.1-32h0m0 19.1h0m0 2.7h0m0 2.7h0m0 2.9h0m0 6.2h0m.1-32.6h0m0 7.6h0m0 4.2h0m0 8.5h0m0 2.8h0m0 1.2h0m0 1.4h0m0 6.5h0m.1-31.8h0m0 5h0m0 1.8h0m0 11.1h0m0 6h0m0 .5h0m0 12.2h0m.1-33.5h0m0 11.6h0m0 1.2h0m0 6h0m0 3.1h0m.1-22.5h0m0 2.3h0m0 .9h0m0 2.1h0m0 6.8h0m0 3h0m0 4.7h0m0 4.3h0m.1-29.7h0m0 5.6h0m0 15.3h0m.1-8.4h0m0 8h0m0 1.1h0m0 6.7h0m0 5.5h0m0 .6h0m.1-38.5h0m0 12.4h0m0 2.1h0m0 8.9h0m0 2h0m0 10.2h0m0 1.3h0m.1-32.9h0m0 6.6h0m0 2.7h0m0 .4h0m0 16.5h0m.1-29.7h0m0 7.8h0m0 5.6h0m0 12h0m0 11.6h0m.1-43.7h0m0 14.4h0m0 9.2h0m0 25.5h0m.1-37.2h0m0 2.2h0m0 5.4h0m0 2.5h0m0 .2h0m0 4.9h0m.1-13.8h0m0 3.9h0m0 8.1h0m0 9.2h0m0 .3h0m0 3.1h0m0 3.7h0m0 3.6h0m.1-32.4h0m0 2h0m0 2.8h0m0 9.8h0m0 13h0m0 1.8h0m.1-33.8h0m.1 1.3h0m0 3.1h0m0 5.7h0m0 18.6h0m0 1.5h0m0 7.7h0m0 3.1h0m.1-33.2h0m0 3.5h0m.1-13.6h0m0 10h0m0 1.9h0m0 15.6h0m0 5.1h0m0 2.2h0m.1-26.1h0m0 20h0m.1-10h0m0 1.3h0m0 1.6h0m0 5.4h0m.1-16.2h0m0 14.3h0m0 .6h0m0 12.1h0m.1-30.6h0m0 2.4h0m0 6.1h0m0 1.9h0m0 13.4h0m.1-23.7h0m0 4.1h0m0 19.1h0m0 6.1h0m.1-31.7h0m0 25.3h0m.1-19.8h0m0 14.5h0m0 2.4h0m.2-15.8h0m0 11.3h0m0 8h0m0 6.8h0m.1-17.4h0m.1 13.5h0m0 .1h0m.1-23h0m.2 4h0m.1 1.3h0m0 2.9h0m0 3h0m.1 2.7h0m0 2.1h0m.1-17.9h0m0 22.2h0m.1 5.5h0m.1-30.7h0m0 5.7h0m0 15.7h0m.1 15.4h0m.1-40.2h0m0 15.3h0m.1 19.9h0m.1-23.8h0m.2 1.4h0m.1 13.1h0m0 4.5h0m.1 0h0m.3-20.3h0m.1-8.5h0m.3 18.4h0m0 17.2h0m0 2h0m.1-48.8h0m.1 5.2h0m0 15.4h0m.3-3.7h0m1.2-7.9h0m.4 21.9h0m.1-11.7h0m.8 17.3h0" stroke="#e05060" stroke-opacity="0.28" stroke-width="0.8" stroke-linecap="square" fill="none"/>
<text x="0" y="0" font-family="Liberation Sans, sans-serif" font-size="10.8" font-weight="bold" text-anchor="middle" fill="#000" transform="translate(473.7 38.3) scale(0.855 1)">27.7</text>
<text x="0" y="0" font-family="Liberation Sans, sans-serif" font-size="10.8" font-weight="bold" text-anchor="middle" fill="#000" transform="translate(508.5 38.3) scale(0.855 1)">2.8</text>
<text x="0" y="0" font-family="Liberation Sans, sans-serif" font-size="10.8" font-weight="bold" text-anchor="middle" fill="#000" transform="translate(473.7 74.6) scale(0.855 1)">67:4</text>
<text x="0" y="0" font-family="Liberation Sans, sans-serif" font-size="10.8" font-weight="bold" text-anchor="middle" fill="#000" transform="translate(508.5 74.6) scale(0.855 1)">2.1</text>
<path d="M230.2 58.3 V90.3 H335.9" fill="none" stroke="#333" stroke-width="0.9"/>
<path d="M228.5 58.9 L230.2 55.3 L231.89999999999998 58.9 Z" fill="#111"/>
<path d="M335.59999999999997 88.5 L339.4 90.3 L335.59999999999997 92.1 Z" fill="#111"/>
<text x="0" y="0" font-family="Liberation Sans, sans-serif" font-size="9" font-weight="bold" text-anchor="middle" fill="#000" transform="translate(233.3 44.5) rotate(-90)">CD4</text>
<text x="0" y="0" font-family="Liberation Sans, sans-serif" font-size="9.6" font-weight="bold" text-anchor="middle" fill="#000" transform="translate(352.5 93.4) scale(0.9 1)">p24</text>
<path d="M382.6 71.8 V90.7 H487.1" fill="none" stroke="#333" stroke-width="0.9"/>
<path d="M380.90000000000003 72.39999999999999 L382.6 68.8 L384.3 72.39999999999999 Z" fill="#111"/>
<path d="M486.8 88.9 L490.6 90.7 L486.8 92.5 Z" fill="#111"/>
<text x="0" y="0" font-family="Liberation Sans, sans-serif" font-size="9.6" font-weight="bold" text-anchor="middle" fill="#000" transform="translate(385.6 48.8) rotate(-90)">CD45RO</text>
<text x="0" y="0" font-family="Liberation Sans, sans-serif" font-size="9.6" font-weight="bold" text-anchor="middle" fill="#000" transform="translate(506.6 93.6) scale(0.9 1)">p24</text>
<text x="0" y="0" font-family="Liberation Sans, sans-serif" font-size="16" font-weight="bold" text-anchor="start" fill="#000" transform="translate(224.5 121.9) scale(0.95 1)">E</text>
<clipPath id="cEi"><rect x="257.3" y="112.3" width="87.5" height="66.1"/></clipPath>
<g clip-path="url(#cEi)">
<rect x="257.3" y="112.3" width="87.5" height="66.1" fill="#b89092" stroke="none" stroke-width="1"/>
<ellipse cx="324" cy="152" rx="18" ry="30" fill="#9c8cb4" fill-opacity="0.75" filter="url(#b60)" transform="rotate(-35 324 152)"/>
<ellipse cx="302" cy="136" rx="12" ry="8" fill="#a898ba" fill-opacity="0.45" filter="url(#b40)"/>
<ellipse cx="288" cy="119" rx="16" ry="7" fill="#dccad6" fill-opacity="0.85" filter="url(#b30)"/>
<ellipse cx="334" cy="120" rx="12" ry="8" fill="#9a5e56" fill-opacity="0.5" filter="url(#b40)"/>
<ellipse cx="272" cy="156" rx="15" ry="20" fill="#b07a6c" fill-opacity="0.3" filter="url(#b60)"/>
<rect x="257.3" y="112.3" width="87.5" height="66.1" fill="#000" filter="url(#nzI)"/>
<path d="M331.5 159.6a0.6 0.6 0 1 0 1.2 0a0.6 0.6 0 1 0 -1.2 0M284.9 146.9a0.4 0.4 0 1 0 0.8 0a0.4 0.4 0 1 0 -0.8 0M283.2 144.0a0.7 0.7 0 1 0 1.5 0a0.7 0.7 0 1 0 -1.5 0M325.4 165.7a0.5 0.5 0 1 0 1.1 0a0.5 0.5 0 1 0 -1.1 0M289.9 154.9a0.6 0.6 0 1 0 1.1 0a0.6 0.6 0 1 0 -1.1 0M343.0 158.2a0.8 0.8 0 1 0 1.6 0a0.8 0.8 0 1 0 -1.6 0M306.0 138.9a0.8 0.8 0 1 0 1.5 0a0.8 0.8 0 1 0 -1.5 0M338.7 175.7a0.8 0.8 0 1 0 1.6 0a0.8 0.8 0 1 0 -1.6 0M267.2 160.1a0.5 0.5 0 1 0 1.0 0a0.5 0.5 0 1 0 -1.0 0M260.5 158.6a0.6 0.6 0 1 0 1.1 0a0.6 0.6 0 1 0 -1.1 0M257.5 165.8a0.7 0.7 0 1 0 1.4 0a0.7 0.7 0 1 0 -1.4 0M333.4 174.2a0.7 0.7 0 1 0 1.3 0a0.7 0.7 0 1 0 -1.3 0M298.2 133.7a0.8 0.8 0 1 0 1.6 0a0.8 0.8 0 1 0 -1.6 0M320.9 138.5a0.6 0.6 0 1 0 1.2 0a0.6 0.6 0 1 0 -1.2 0M302.4 177.5a0.9 0.9 0 1 0 1.7 0a0.9 0.9 0 1 0 -1.7 0M341.6 161.1a0.5 0.5 0 1 0 1.0 0a0.5 0.5 0 1 0 -1.0 0M327.5 172.9a0.7 0.7 0 1 0 1.5 0a0.7 0.7 0 1 0 -1.5 0M298.4 142.2a0.8 0.8 0 1 0 1.6 0a0.8 0.8 0 1 0 -1.6 0M272.0 178.3a0.9 0.9 0 1 0 1.8 0a0.9 0.9 0 1 0 -1.8 0M290.2 147.7a0.6 0.6 0 1 0 1.2 0a0.6 0.6 0 1 0 -1.2 0M290.5 168.3a0.8 0.8 0 1 0 1.7 0a0.8 0.8 0 1 0 -1.7 0M288.0 174.1a0.7 0.7 0 1 0 1.4 0a0.7 0.7 0 1 0 -1.4 0M319.2 152.4a0.7 0.7 0 1 0 1.4 0a0.7 0.7 0 1 0 -1.4 0M330.1 146.9a0.5 0.5 0 1 0 1.1 0a0.5 0.5 0 1 0 -1.1 0M329.2 151.4a0.8 0.8 0 1 0 1.7 0a0.8 0.8 0 1 0 -1.7 0M273.9 131.1a0.4 0.4 0 1 0 0.9 0a0.4 0.4 0 1 0 -0.9 0M270.9 127.9a0.9 0.9 0 1 0 1.8 0a0.9 0.9 0 1 0 -1.8 0M315.3 176.0a0.7 0.7 0 1 0 1.4 0a0.7 0.7 0 1 0 -1.4 0M320.8 159.9a0.7 0.7 0 1 0 1.4 0a0.7 0.7 0 1 0 -1.4 0M325.5 128.6a0.5 0.5 0 1 0 1.0 0a0.5 0.5 0 1 0 -1.0 0M335.8 156.4a0.7 0.7 0 1 0 1.5 0a0.7 0.7 0 1 0 -1.5 0M286.1 137.7a0.5 0.5 0 1 0 1.0 0a0.5 0.5 0 1 0 -1.0 0M262.2 170.2a0.8 0.8 0 1 0 1.6 0a0.8 0.8 0 1 0 -1.6 0M288.8 143.7a0.8 0.8 0 1 0 1.5 0a0.8 0.8 0 1 0 -1.5 0M285.0 125.0a0.5 0.5 0 1 0 1.0 0a0.5 0.5 0 1 0 -1.0 0M265.9 160.6a0.8 0.8 0 1 0 1.6 0a0.8 0.8 0 1 0 -1.6 0M301.3 164.5a0.7 0.7 0 1 0 1.4 0a0.7 0.7 0 1 0 -1.4 0M311.3 176.9a0.5 0.5 0 1 0 1.1 0a0.5 0.5 0 1 0 -1.1 0M332.8 129.6a0.7 0.7 0 1 0 1.5 0a0.7 0.7 0 1 0 -1.5 0M306.9 140.0a0.7 0.7 0 1 0 1.5 0a0.7 0.7 0 1 0 -1.5 0M334.4 166.7a0.6 0.6 0 1 0 1.3 0a0.6 0.6 0 1 0 -1.3 0M327.9 149.4a0.7 0.7 0 1 0 1.5 0a0.7 0.7 0 1 0 -1.5 0M302.6 133.8a0.8 0.8 0 1 0 1.6 0a0.8 0.8 0 1 0 -1.6 0M310.7 142.9a0.8 0.8 0 1 0 1.7 0a0.8 0.8 0 1 0 -1.7 0M297.6 139.7a0.8 0.8 0 1 0 1.6 0a0.8 0.8 0 1 0 -1.6 0M290.7 162.7a0.5 0.5 0 1 0 0.9 0a0.5 0.5 0 1 0 -0.9 0M320.5 166.5a0.8 0.8 0 1 0 1.7 0a0.8 0.8 0 1 0 -1.7 0M309.0 164.5a0.9 0.9 0 1 0 1.7 0a0.9 0.9 0 1 0 -1.7 0M288.9 160.7a0.6 0.6 0 1 0 1.3 0a0.6 0.6 0 1 0 -1.3 0M313.6 165.1a0.9 0.9 0 1 0 1.7 0a0.9 0.9 0 1 0 -1.7 0M303.6 174.8a0.5 0.5 0 1 0 1.0 0a0.5 0.5 0 1 0 -1.0 0M266.4 138.5a0.4 0.4 0 1 0 0.8 0a0.4 0.4 0 1 0 -0.8 0M321.9 139.3a0.6 0.6 0 1 0 1.2 0a0.6 0.6 0 1 0 -1.2 0M300.2 178.0a0.5 0.5 0 1 0 0.9 0a0.5 0.5 0 1 0 -0.9 0M338.2 172.4a0.5 0.5 0 1 0 0.9 0a0.5 0.5 0 1 0 -0.9 0M335.5 160.6a0.6 0.6 0 1 0 1.2 0a0.6 0.6 0 1 0 -1.2 0M266.1 167.6a0.9 0.9 0 1 0 1.8 0a0.9 0.9 0 1 0 -1.8 0M279.8 159.4a0.7 0.7 0 1 0 1.3 0a0.7 0.7 0 1 0 -1.3 0M317.4 141.0a0.9 0.9 0 1 0 1.8 0a0.9 0.9 0 1 0 -1.8 0M274.0 155.1a0.7 0.7 0 1 0 1.3 0a0.7 0.7 0 1 0 -1.3 0M328.9 137.4a0.6 0.6 0 1 0 1.3 0a0.6 0.6 0 1 0 -1.3 0M315.9 129.4a0.4 0.4 0 1 0 0.8 0a0.4 0.4 0 1 0 -0.8 0M340.2 142.6a0.4 0.4 0 1 0 0.9 0a0.4 0.4 0 1 0 -0.9 0M287.1 168.5a0.8 0.8 0 1 0 1.7 0a0.8 0.8 0 1 0 -1.7 0M316.8 131.6a0.7 0.7 0 1 0 1.5 0a0.7 0.7 0 1 0 -1.5 0M309.3 126.5a0.7 0.7 0 1 0 1.4 0a0.7 0.7 0 1 0 -1.4 0M316.1 137.0a0.8 0.8 0 1 0 1.7 0a0.8 0.8 0 1 0 -1.7 0M339.7 167.1a0.7 0.7 0 1 0 1.5 0a0.7 0.7 0 1 0 -1.5 0M287.5 172.5a0.5 0.5 0 1 0 1.1 0a0.5 0.5 0 1 0 -1.1 0M276.5 139.1a0.8 0.8 0 1 0 1.7 0a0.8 0.8 0 1 0 -1.7 0M327.0 176.8a0.8 0.8 0 1 0 1.5 0a0.8 0.8 0 1 0 -1.5 0M269.9 150.3a0.4 0.4 0 1 0 0.9 0a0.4 0.4 0 1 0 -0.9 0M304.7 161.8a0.8 0.8 0 1 0 1.6 0a0.8 0.8 0 1 0 -1.6 0M337.9 160.7a0.6 0.6 0 1 0 1.2 0a0.6 0.6 0 1 0 -1.2 0M330.7 148.5a0.8 0.8 0 1 0 1.6 0a0.8 0.8 0 1 0 -1.6 0M317.0 170.3a0.8 0.8 0 1 0 1.6 0a0.8 0.8 0 1 0 -1.6 0M257.4 173.4a0.9 0.9 0 1 0 1.7 0a0.9 0.9 0 1 0 -1.7 0M342.8 149.9a0.5 0.5 0 1 0 0.9 0a0.5 0.5 0 1 0 -0.9 0M296.1 140.5a0.8 0.8 0 1 0 1.5 0a0.8 0.8 0 1 0 -1.5 0M282.1 175.5a0.6 0.6 0 1 0 1.1 0a0.6 0.6 0 1 0 -1.1 0M262.1 162.5a0.8 0.8 0 1 0 1.7 0a0.8 0.8 0 1 0 -1.7 0M269.2 144.0a0.5 0.5 0 1 0 0.9 0a0.5 0.5 0 1 0 -0.9 0M260.2 133.0a0.8 0.8 0 1 0 1.7 0a0.8 0.8 0 1 0 -1.7 0M305.4 145.7a0.9 0.9 0 1 0 1.8 0a0.9 0.9 0 1 0 -1.8 0M289.8 148.4a0.7 0.7 0 1 0 1.3 0a0.7 0.7 0 1 0 -1.3 0M282.2 168.8a0.7 0.7 0 1 0 1.3 0a0.7 0.7 0 1 0 -1.3 0M328.3 162.6a0.7 0.7 0 1 0 1.4 0a0.7 0.7 0 1 0 -1.4 0M263.2 152.1a0.8 0.8 0 1 0 1.7 0a0.8 0.8 0 1 0 -1.7 0M293.7 173.9a0.4 0.4 0 1 0 0.9 0a0.4 0.4 0 1 0 -0.9 0M326.9 156.2a0.8 0.8 0 1 0 1.7 0a0.8 0.8 0 1 0 -1.7 0M329.5 171.5a0.6 0.6 0 1 0 1.1 0a0.6 0.6 0 1 0 -1.1 0M318.8 127.5a0.6 0.6 0 1 0 1.2 0a0.6 0.6 0 1 0 -1.2 0M302.3 128.4a0.8 0.8 0 1 0 1.7 0a0.8 0.8 0 1 0 -1.7 0M270.5 171.3a0.5 0.5 0 1 0 0.9 0a0.5 0.5 0 1 0 -0.9 0M291.3 164.4a0.5 0.5 0 1 0 0.9 0a0.5 0.5 0 1 0 -0.9 0M320.4 138.3a0.7 0.7 0 1 0 1.5 0a0.7 0.7 0 1 0 -1.5 0M324.9 130.6a0.8 0.8 0 1 0 1.5 0a0.8 0.8 0 1 0 -1.5 0M310.2 127.9a0.5 0.5 0 1 0 1.0 0a0.5 0.5 0 1 0 -1.0 0M335.3 141.6a0.7 0.7 0 1 0 1.5 0a0.7 0.7 0 1 0 -1.5 0M306.1 172.7a0.6 0.6 0 1 0 1.2 0a0.6 0.6 0 1 0 -1.2 0M331.2 134.6a0.4 0.4 0 1 0 0.8 0a0.4 0.4 0 1 0 -0.8 0M336.1 137.7a0.5 0.5 0 1 0 1.1 0a0.5 0.5 0 1 0 -1.1 0M271.3 169.7a0.5 0.5 0 1 0 1.0 0a0.5 0.5 0 1 0 -1.0 0M269.2 134.2a0.6 0.6 0 1 0 1.3 0a0.6 0.6 0 1 0 -1.3 0M343.3 137.2a0.6 0.6 0 1 0 1.3 0a0.6 0.6 0 1 0 -1.3 0M282.5 165.1a0.6 0.6 0 1 0 1.2 0a0.6 0.6 0 1 0 -1.2 0M295.6 171.1a0.9 0.9 0 1 0 1.7 0a0.9 0.9 0 1 0 -1.7 0M293.7 175.8a0.6 0.6 0 1 0 1.2 0a0.6 0.6 0 1 0 -1.2 0M331.2 126.5a0.5 0.5 0 1 0 1.0 0a0.5 0.5 0 1 0 -1.0 0M257.2 142.1a0.9 0.9 0 1 0 1.7 0a0.9 0.9 0 1 0 -1.7 0M299.5 157.6a0.7 0.7 0 1 0 1.4 0a0.7 0.7 0 1 0 -1.4 0M296.8 142.3a0.9 0.9 0 1 0 1.8 0a0.9 0.9 0 1 0 -1.8 0M265.0 164.8a0.6 0.6 0 1 0 1.3 0a0.6 0.6 0 1 0 -1.3 0M295.6 136.4a0.7 0.7 0 1 0 1.4 0a0.7 0.7 0 1 0 -1.4 0M333.4 157.3a0.6 0.6 0 1 0 1.1 0a0.6 0.6 0 1 0 -1.1 0M260.6 132.9a0.9 0.9 0 1 0 1.8 0a0.9 0.9 0 1 0 -1.8 0M278.5 132.3a0.5 0.5 0 1 0 1.1 0a0.5 0.5 0 1 0 -1.1 0M309.6 167.9a0.9 0.9 0 1 0 1.7 0a0.9 0.9 0 1 0 -1.7 0M304.2 158.5a0.6 0.6 0 1 0 1.1 0a0.6 0.6 0 1 0 -1.1 0M323.1 155.2a0.8 0.8 0 1 0 1.6 0a0.8 0.8 0 1 0 -1.6 0M286.4 144.7a0.7 0.7 0 1 0 1.4 0a0.7 0.7 0 1 0 -1.4 0M267.0 161.0a0.8 0.8 0 1 0 1.6 0a0.8 0.8 0 1 0 -1.6 0M289.1 176.4a0.5 0.5 0 1 0 1.0 0a0.5 0.5 0 1 0 -1.0 0M329.2 144.6a0.9 0.9 0 1 0 1.8 0a0.9 0.9 0 1 0 -1.8 0M294.7 126.6a0.6 0.6 0 1 0 1.3 0a0.6 0.6 0 1 0 -1.3 0M291.5 138.2a0.4 0.4 0 1 0 0.9 0a0.4 0.4 0 1 0 -0.9 0M325.1 166.9a0.7 0.7 0 1 0 1.5 0a0.7 0.7 0 1 0 -1.5 0M308.1 140.4a0.4 0.4 0 1 0 0.9 0a0.4 0.4 0 1 0 -0.9 0M268.3 165.5a0.7 0.7 0 1 0 1.4 0a0.7 0.7 0 1 0 -1.4 0M289.7 135.2a0.8 0.8 0 1 0 1.5 0a0.8 0.8 0 1 0 -1.5 0M336.5 156.8a0.5 0.5 0 1 0 1.0 0a0.5 0.5 0 1 0 -1.0 0M259.1 144.1a0.5 0.5 0 1 0 0.9 0a0.5 0.5 0 1 0 -0.9 0M323.6 153.3a0.5 0.5 0 1 0 0.9 0a0.5 0.5 0 1 0 -0.9 0M283.4 144.6a0.7 0.7 0 1 0 1.5 0a0.7 0.7 0 1 0 -1.5 0M322.1 156.6a0.8 0.8 0 1 0 1.5 0a0.8 0.8 0 1 0 -1.5 0M270.6 164.7a0.9 0.9 0 1 0 1.7 0a0.9 0.9 0 1 0 -1.7 0M314.2 162.5a0.6 0.6 0 1 0 1.1 0a0.6 0.6 0 1 0 -1.1 0M332.2 147.7a0.4 0.4 0 1 0 0.9 0a0.4 0.4 0 1 0 -0.9 0M262.1 126.0a0.7 0.7 0 1 0 1.4 0a0.7 0.7 0 1 0 -1.4 0M340.4 169.5a0.8 0.8 0 1 0 1.6 0a0.8 0.8 0 1 0 -1.6 0M265.6 129.9a0.8 0.8 0 1 0 1.5 0a0.8 0.8 0 1 0 -1.5 0M257.5 144.9a0.6 0.6 0 1 0 1.3 0a0.6 0.6 0 1 0 -1.3 0M328.9 167.4a0.5 0.5 0 1 0 1.1 0a0.5 0.5 0 1 0 -1.1 0M301.4 177.9a0.8 0.8 0 1 0 1.5 0a0.8 0.8 0 1 0 -1.5 0M259.3 164.0a0.8 0.8 0 1 0 1.7 0a0.8 0.8 0 1 0 -1.7 0M314.2 130.3a0.5 0.5 0 1 0 1.0 0a0.5 0.5 0 1 0 -1.0 0M301.0 177.1a0.8 0.8 0 1 0 1.5 0a0.8 0.8 0 1 0 -1.5 0M343.8 126.6a0.8 0.8 0 1 0 1.6 0a0.8 0.8 0 1 0 -1.6 0M342.0 126.0a0.9 0.9 0 1 0 1.8 0a0.9 0.9 0 1 0 -1.8 0M333.7 164.5a0.6 0.6 0 1 0 1.2 0a0.6 0.6 0 1 0 -1.2 0M302.4 174.5a0.6 0.6 0 1 0 1.2 0a0.6 0.6 0 1 0 -1.2 0M328.6 159.2a0.4 0.4 0 1 0 0.8 0a0.4 0.4 0 1 0 -0.8 0M321.3 172.2a0.5 0.5 0 1 0 1.0 0a0.5 0.5 0 1 0 -1.0 0M280.2 159.6a0.8 0.8 0 1 0 1.5 0a0.8 0.8 0 1 0 -1.5 0M322.3 128.7a0.5 0.5 0 1 0 1.1 0a0.5 0.5 0 1 0 -1.1 0M282.2 158.1a0.9 0.9 0 1 0 1.7 0a0.9 0.9 0 1 0 -1.7 0M293.4 166.1a0.6 0.6 0 1 0 1.1 0a0.6 0.6 0 1 0 -1.1 0M263.2 151.2a0.8 0.8 0 1 0 1.6 0a0.8 0.8 0 1 0 -1.6 0M268.5 163.1a0.6 0.6 0 1 0 1.2 0a0.6 0.6 0 1 0 -1.2 0M300.3 149.7a0.8 0.8 0 1 0 1.6 0a0.8 0.8 0 1 0 -1.6 0M330.1 129.7a0.6 0.6 0 1 0 1.2 0a0.6 0.6 0 1 0 -1.2 0M326.4 171.4a0.5 0.5 0 1 0 1.0 0a0.5 0.5 0 1 0 -1.0 0M270.3 135.4a0.5 0.5 0 1 0 1.0 0a0.5 0.5 0 1 0 -1.0 0M304.2 135.3a0.5 0.5 0 1 0 1.1 0a0.5 0.5 0 1 0 -1.1 0M283.5 131.1a0.5 0.5 0 1 0 0.9 0a0.5 0.5 0 1 0 -0.9 0M274.2 143.0a0.8 0.8 0 1 0 1.7 0a0.8 0.8 0 1 0 -1.7 0M288.3 146.1a0.9 0.9 0 1 0 1.7 0a0.9 0.9 0 1 0 -1.7 0M316.0 134.9a0.8 0.8 0 1 0 1.6 0a0.8 0.8 0 1 0 -1.6 0M338.0 133.0a0.4 0.4 0 1 0 0.8 0a0.4 0.4 0 1 0 -0.8 0M264.7 148.8a0.8 0.8 0 1 0 1.7 0a0.8 0.8 0 1 0 -1.7 0M282.0 124.7a0.8 0.8 0 1 0 1.6 0a0.8 0.8 0 1 0 -1.6 0M322.0 151.1a0.8 0.8 0 1 0 1.6 0a0.8 0.8 0 1 0 -1.6 0M300.1 129.9a0.7 0.7 0 1 0 1.4 0a0.7 0.7 0 1 0 -1.4 0M290.6 131.3a0.5 0.5 0 1 0 1.0 0a0.5 0.5 0 1 0 -1.0 0M327.0 130.6a0.5 0.5 0 1 0 1.1 0a0.5 0.5 0 1 0 -1.1 0M258.0 170.6a0.6 0.6 0 1 0 1.2 0a0.6 0.6 0 1 0 -1.2 0M339.8 168.9a0.5 0.5 0 1 0 1.0 0a0.5 0.5 0 1 0 -1.0 0M280.5 178.2a0.4 0.4 0 1 0 0.8 0a0.4 0.4 0 1 0 -0.8 0M330.6 168.3a0.9 0.9 0 1 0 1.8 0a0.9 0.9 0 1 0 -1.8 0M329.9 151.8a0.6 0.6 0 1 0 1.2 0a0.6 0.6 0 1 0 -1.2 0M330.0 145.6a0.7 0.7 0 1 0 1.4 0a0.7 0.7 0 1 0 -1.4 0M311.0 156.2a0.5 0.5 0 1 0 0.9 0a0.5 0.5 0 1 0 -0.9 0M313.3 158.6a0.8 0.8 0 1 0 1.7 0a0.8 0.8 0 1 0 -1.7 0M260.5 178.4a0.8 0.8 0 1 0 1.6 0a0.8 0.8 0 1 0 -1.6 0M294.2 142.4a0.4 0.4 0 1 0 0.8 0a0.4 0.4 0 1 0 -0.8 0M311.5 173.7a0.5 0.5 0 1 0 1.0 0a0.5 0.5 0 1 0 -1.0 0M280.3 176.3a0.8 0.8 0 1 0 1.5 0a0.8 0.8 0 1 0 -1.5 0M316.5 176.5a0.4 0.4 0 1 0 0.9 0a0.4 0.4 0 1 0 -0.9 0M305.2 158.4a0.4 0.4 0 1 0 0.8 0a0.4 0.4 0 1 0 -0.8 0M315.3 157.8a0.5 0.5 0 1 0 0.9 0a0.5 0.5 0 1 0 -0.9 0M285.9 146.8a0.5 0.5 0 1 0 0.9 0a0.5 0.5 0 1 0 -0.9 0M311.2 166.7a0.8 0.8 0 1 0 1.6 0a0.8 0.8 0 1 0 -1.6 0M260.5 128.4a0.8 0.8 0 1 0 1.6 0a0.8 0.8 0 1 0 -1.6 0M326.5 137.1a0.7 0.7 0 1 0 1.4 0a0.7 0.7 0 1 0 -1.4 0M328.2 151.7a0.6 0.6 0 1 0 1.1 0a0.6 0.6 0 1 0 -1.1 0M316.8 164.5a0.8 0.8 0 1 0 1.6 0a0.8 0.8 0 1 0 -1.6 0M317.1 133.8a0.7 0.7 0 1 0 1.4 0a0.7 0.7 0 1 0 -1.4 0M305.9 169.1a0.4 0.4 0 1 0 0.9 0a0.4 0.4 0 1 0 -0.9 0M285.1 155.6a0.5 0.5 0 1 0 1.0 0a0.5 0.5 0 1 0 -1.0 0M326.4 131.5a0.7 0.7 0 1 0 1.5 0a0.7 0.7 0 1 0 -1.5 0M267.9 126.1a0.7 0.7 0 1 0 1.4 0a0.7 0.7 0 1 0 -1.4 0M307.6 145.9a0.6 0.6 0 1 0 1.2 0a0.6 0.6 0 1 0 -1.2 0M265.8 169.2a0.7 0.7 0 1 0 1.3 0a0.7 0.7 0 1 0 -1.3 0M322.1 177.7a0.5 0.5 0 1 0 1.0 0a0.5 0.5 0 1 0 -1.0 0M300.5 165.8a0.7 0.7 0 1 0 1.4 0a0.7 0.7 0 1 0 -1.4 0M312.3 136.4a0.5 0.5 0 1 0 0.9 0a0.5 0.5 0 1 0 -0.9 0M271.1 173.3a0.9 0.9 0 1 0 1.8 0a0.9 0.9 0 1 0 -1.8 0M292.8 132.6a0.8 0.8 0 1 0 1.6 0a0.8 0.8 0 1 0 -1.6 0M314.5 145.8a0.6 0.6 0 1 0 1.3 0a0.6 0.6 0 1 0 -1.3 0M294.9 160.8a0.9 0.9 0 1 0 1.8 0a0.9 0.9 0 1 0 -1.8 0M319.9 142.6a0.7 0.7 0 1 0 1.5 0a0.7 0.7 0 1 0 -1.5 0M263.8 142.1a0.7 0.7 0 1 0 1.4 0a0.7 0.7 0 1 0 -1.4 0M287.8 147.8a0.7 0.7 0 1 0 1.4 0a0.7 0.7 0 1 0 -1.4 0M265.7 173.7a0.8 0.8 0 1 0 1.5 0a0.8 0.8 0 1 0 -1.5 0M321.1 149.8a0.9 0.9 0 1 0 1.8 0a0.9 0.9 0 1 0 -1.8 0M290.9 128.8a0.8 0.8 0 1 0 1.6 0a0.8 0.8 0 1 0 -1.6 0M322.3 143.6a0.5 0.5 0 1 0 1.0 0a0.5 0.5 0 1 0 -1.0 0M323.1 156.2a0.4 0.4 0 1 0 0.9 0a0.4 0.4 0 1 0 -0.9 0M259.5 153.7a0.9 0.9 0 1 0 1.7 0a0.9 0.9 0 1 0 -1.7 0M310.9 176.6a0.8 0.8 0 1 0 1.5 0a0.8 0.8 0 1 0 -1.5 0M327.1 152.0a0.7 0.7 0 1 0 1.4 0a0.7 0.7 0 1 0 -1.4 0M336.9 167.5a0.6 0.6 0 1 0 1.3 0a0.6 0.6 0 1 0 -1.3 0M263.9 165.3a0.9 0.9 0 1 0 1.7 0a0.9 0.9 0 1 0 -1.7 0M264.7 149.6a0.4 0.4 0 1 0 0.8 0a0.4 0.4 0 1 0 -0.8 0M295.6 147.0a0.5 0.5 0 1 0 1.0 0a0.5 0.5 0 1 0 -1.0 0M322.5 149.3a0.6 0.6 0 1 0 1.1 0a0.6 0.6 0 1 0 -1.1 0M265.9 130.6a0.9 0.9 0 1 0 1.8 0a0.9 0.9 0 1 0 -1.8 0M344.0 128.8a0.7 0.7 0 1 0 1.5 0a0.7 0.7 0 1 0 -1.5 0M319.0 130.3a0.7 0.7 0 1 0 1.4 0a0.7 0.7 0 1 0 -1.4 0M257.7 131.2a0.6 0.6 0 1 0 1.1 0a0.6 0.6 0 1 0 -1.1 0M322.0 128.5a0.5 0.5 0 1 0 1.0 0a0.5 0.5 0 1 0 -1.0 0M294.4 145.8a0.4 0.4 0 1 0 0.8 0a0.4 0.4 0 1 0 -0.8 0M272.0 132.2a0.5 0.5 0 1 0 0.9 0a0.5 0.5 0 1 0 -0.9 0M314.8 177.8a0.5 0.5 0 1 0 1.0 0a0.5 0.5 0 1 0 -1.0 0M319.3 146.4a0.7 0.7 0 1 0 1.3 0a0.7 0.7 0 1 0 -1.3 0M311.1 124.3a0.6 0.6 0 1 0 1.2 0a0.6 0.6 0 1 0 -1.2 0M278.4 160.3a0.9 0.9 0 1 0 1.8 0a0.9 0.9 0 1 0 -1.8 0M272.2 163.3a0.9 0.9 0 1 0 1.7 0a0.9 0.9 0 1 0 -1.7 0M261.6 176.1a0.7 0.7 0 1 0 1.4 0a0.7 0.7 0 1 0 -1.4 0M271.3 137.5a0.5 0.5 0 1 0 1.0 0a0.5 0.5 0 1 0 -1.0 0M288.1 141.5a0.6 0.6 0 1 0 1.1 0a0.6 0.6 0 1 0 -1.1 0M286.3 165.2a0.4 0.4 0 1 0 0.8 0a0.4 0.4 0 1 0 -0.8 0M262.4 158.4a0.7 0.7 0 1 0 1.5 0a0.7 0.7 0 1 0 -1.5 0M330.7 158.4a0.6 0.6 0 1 0 1.2 0a0.6 0.6 0 1 0 -1.2 0M272.6 175.4a0.9 0.9 0 1 0 1.7 0a0.9 0.9 0 1 0 -1.7 0M274.8 124.5a0.6 0.6 0 1 0 1.1 0a0.6 0.6 0 1 0 -1.1 0M295.1 145.3a0.8 0.8 0 1 0 1.7 0a0.8 0.8 0 1 0 -1.7 0M311.3 175.9a0.6 0.6 0 1 0 1.2 0a0.6 0.6 0 1 0 -1.2 0M263.4 125.0a0.7 0.7 0 1 0 1.5 0a0.7 0.7 0 1 0 -1.5 0M269.7 142.6a0.6 0.6 0 1 0 1.2 0a0.6 0.6 0 1 0 -1.2 0M258.5 166.0a0.8 0.8 0 1 0 1.6 0a0.8 0.8 0 1 0 -1.6 0M291.5 128.1a0.5 0.5 0 1 0 1.0 0a0.5 0.5 0 1 0 -1.0 0M325.3 174.6a0.5 0.5 0 1 0 1.0 0a0.5 0.5 0 1 0 -1.0 0M331.6 153.4a0.4 0.4 0 1 0 0.9 0a0.4 0.4 0 1 0 -0.9 0M336.8 124.2a0.6 0.6 0 1 0 1.2 0a0.6 0.6 0 1 0 -1.2 0M275.7 130.2a0.8 0.8 0 1 0 1.5 0a0.8 0.8 0 1 0 -1.5 0" fill="#5a2a20" fill-opacity="0.7"/>
<path d="M338.4 126.2a0.6 0.6 0 1 0 1.1 0a0.6 0.6 0 1 0 -1.1 0M338.7 120.2a0.4 0.4 0 1 0 0.8 0a0.4 0.4 0 1 0 -0.8 0M314.6 121.4a0.5 0.5 0 1 0 1.1 0a0.5 0.5 0 1 0 -1.1 0M315.9 134.8a0.7 0.7 0 1 0 1.5 0a0.7 0.7 0 1 0 -1.5 0M322.4 134.1a0.7 0.7 0 1 0 1.3 0a0.7 0.7 0 1 0 -1.3 0M320.3 133.1a0.6 0.6 0 1 0 1.1 0a0.6 0.6 0 1 0 -1.1 0M323.3 122.9a0.6 0.6 0 1 0 1.1 0a0.6 0.6 0 1 0 -1.1 0M324.6 126.6a0.5 0.5 0 1 0 1.0 0a0.5 0.5 0 1 0 -1.0 0M316.7 114.0a0.4 0.4 0 1 0 0.9 0a0.4 0.4 0 1 0 -0.9 0M284.7 120.2a0.5 0.5 0 1 0 1.0 0a0.5 0.5 0 1 0 -1.0 0M340.7 128.3a0.7 0.7 0 1 0 1.4 0a0.7 0.7 0 1 0 -1.4 0M329.3 136.4a0.9 0.9 0 1 0 1.7 0a0.9 0.9 0 1 0 -1.7 0M316.5 114.4a0.7 0.7 0 1 0 1.5 0a0.7 0.7 0 1 0 -1.5 0M326.8 126.9a0.6 0.6 0 1 0 1.1 0a0.6 0.6 0 1 0 -1.1 0M341.9 127.8a0.7 0.7 0 1 0 1.4 0a0.7 0.7 0 1 0 -1.4 0M338.3 119.2a0.5 0.5 0 1 0 0.9 0a0.5 0.5 0 1 0 -0.9 0M318.5 127.2a0.4 0.4 0 1 0 0.9 0a0.4 0.4 0 1 0 -0.9 0M326.5 134.6a0.4 0.4 0 1 0 0.9 0a0.4 0.4 0 1 0 -0.9 0M315.2 126.7a0.7 0.7 0 1 0 1.4 0a0.7 0.7 0 1 0 -1.4 0M328.9 125.6a0.7 0.7 0 1 0 1.4 0a0.7 0.7 0 1 0 -1.4 0M334.9 123.2a0.5 0.5 0 1 0 1.0 0a0.5 0.5 0 1 0 -1.0 0M342.1 119.5a0.9 0.9 0 1 0 1.7 0a0.9 0.9 0 1 0 -1.7 0M304.4 125.0a0.5 0.5 0 1 0 0.9 0a0.5 0.5 0 1 0 -0.9 0M342.0 121.1a0.7 0.7 0 1 0 1.3 0a0.7 0.7 0 1 0 -1.3 0M315.8 122.5a0.7 0.7 0 1 0 1.4 0a0.7 0.7 0 1 0 -1.4 0M327.6 123.9a0.4 0.4 0 1 0 0.8 0a0.4 0.4 0 1 0 -0.8 0M312.7 136.6a0.5 0.5 0 1 0 1.1 0a0.5 0.5 0 1 0 -1.1 0M331.4 137.5a0.7 0.7 0 1 0 1.3 0a0.7 0.7 0 1 0 -1.3 0M307.9 139.0a0.7 0.7 0 1 0 1.5 0a0.7 0.7 0 1 0 -1.5 0M335.7 122.9a0.7 0.7 0 1 0 1.5 0a0.7 0.7 0 1 0 -1.5 0M310.3 123.6a0.7 0.7 0 1 0 1.5 0a0.7 0.7 0 1 0 -1.5 0M297.2 130.2a0.4 0.4 0 1 0 0.9 0a0.4 0.4 0 1 0 -0.9 0M322.1 123.1a0.4 0.4 0 1 0 0.9 0a0.4 0.4 0 1 0 -0.9 0M315.2 117.5a0.8 0.8 0 1 0 1.7 0a0.8 0.8 0 1 0 -1.7 0M324.2 134.1a0.5 0.5 0 1 0 0.9 0a0.5 0.5 0 1 0 -0.9 0M316.6 116.8a0.6 0.6 0 1 0 1.2 0a0.6 0.6 0 1 0 -1.2 0M338.1 125.8a0.8 0.8 0 1 0 1.6 0a0.8 0.8 0 1 0 -1.6 0M324.8 142.5a0.4 0.4 0 1 0 0.8 0a0.4 0.4 0 1 0 -0.8 0M307.3 127.0a0.8 0.8 0 1 0 1.7 0a0.8 0.8 0 1 0 -1.7 0M299.3 122.9a0.7 0.7 0 1 0 1.5 0a0.7 0.7 0 1 0 -1.5 0M333.5 134.6a0.6 0.6 0 1 0 1.2 0a0.6 0.6 0 1 0 -1.2 0M306.8 132.2a0.5 0.5 0 1 0 1.0 0a0.5 0.5 0 1 0 -1.0 0M336.2 124.3a0.7 0.7 0 1 0 1.3 0a0.7 0.7 0 1 0 -1.3 0M312.1 128.8a0.8 0.8 0 1 0 1.6 0a0.8 0.8 0 1 0 -1.6 0M298.2 138.2a0.5 0.5 0 1 0 1.0 0a0.5 0.5 0 1 0 -1.0 0M339.3 122.0a0.5 0.5 0 1 0 1.0 0a0.5 0.5 0 1 0 -1.0 0M333.8 129.8a0.6 0.6 0 1 0 1.3 0a0.6 0.6 0 1 0 -1.3 0M320.5 112.4a0.8 0.8 0 1 0 1.6 0a0.8 0.8 0 1 0 -1.6 0M322.5 128.7a0.6 0.6 0 1 0 1.2 0a0.6 0.6 0 1 0 -1.2 0M318.6 117.6a0.6 0.6 0 1 0 1.2 0a0.6 0.6 0 1 0 -1.2 0M341.9 123.7a0.9 0.9 0 1 0 1.8 0a0.9 0.9 0 1 0 -1.8 0M328.3 133.2a0.7 0.7 0 1 0 1.3 0a0.7 0.7 0 1 0 -1.3 0M306.0 117.7a0.8 0.8 0 1 0 1.6 0a0.8 0.8 0 1 0 -1.6 0M309.8 123.2a0.7 0.7 0 1 0 1.5 0a0.7 0.7 0 1 0 -1.5 0M316.6 115.2a0.7 0.7 0 1 0 1.3 0a0.7 0.7 0 1 0 -1.3 0M319.1 125.2a0.6 0.6 0 1 0 1.2 0a0.6 0.6 0 1 0 -1.2 0M324.6 129.8a0.7 0.7 0 1 0 1.5 0a0.7 0.7 0 1 0 -1.5 0M299.8 113.0a0.8 0.8 0 1 0 1.6 0a0.8 0.8 0 1 0 -1.6 0M336.5 121.7a0.5 0.5 0 1 0 0.9 0a0.5 0.5 0 1 0 -0.9 0M342.6 127.8a0.5 0.5 0 1 0 1.1 0a0.5 0.5 0 1 0 -1.1 0M304.7 129.7a0.5 0.5 0 1 0 1.0 0a0.5 0.5 0 1 0 -1.0 0M310.2 127.5a0.8 0.8 0 1 0 1.6 0a0.8 0.8 0 1 0 -1.6 0M342.7 142.7a0.6 0.6 0 1 0 1.1 0a0.6 0.6 0 1 0 -1.1 0M324.0 131.1a0.6 0.6 0 1 0 1.2 0a0.6 0.6 0 1 0 -1.2 0M329.2 131.8a0.7 0.7 0 1 0 1.3 0a0.7 0.7 0 1 0 -1.3 0M288.0 122.1a0.9 0.9 0 1 0 1.8 0a0.9 0.9 0 1 0 -1.8 0M329.4 129.2a0.4 0.4 0 1 0 0.8 0a0.4 0.4 0 1 0 -0.8 0M314.2 132.1a0.5 0.5 0 1 0 1.0 0a0.5 0.5 0 1 0 -1.0 0M340.6 125.9a0.8 0.8 0 1 0 1.7 0a0.8 0.8 0 1 0 -1.7 0M321.7 122.4a0.6 0.6 0 1 0 1.3 0a0.6 0.6 0 1 0 -1.3 0M327.0 135.0a0.6 0.6 0 1 0 1.2 0a0.6 0.6 0 1 0 -1.2 0M311.3 118.8a0.9 0.9 0 1 0 1.7 0a0.9 0.9 0 1 0 -1.7 0M339.3 127.2a0.5 0.5 0 1 0 0.9 0a0.5 0.5 0 1 0 -0.9 0M329.5 129.3a0.4 0.4 0 1 0 0.8 0a0.4 0.4 0 1 0 -0.8 0M330.1 124.3a0.9 0.9 0 1 0 1.7 0a0.9 0.9 0 1 0 -1.7 0M309.8 120.3a0.8 0.8 0 1 0 1.6 0a0.8 0.8 0 1 0 -1.6 0M326.7 128.6a0.7 0.7 0 1 0 1.3 0a0.7 0.7 0 1 0 -1.3 0M319.7 121.9a0.5 0.5 0 1 0 1.1 0a0.5 0.5 0 1 0 -1.1 0M328.0 122.7a0.8 0.8 0 1 0 1.6 0a0.8 0.8 0 1 0 -1.6 0M312.8 112.9a0.5 0.5 0 1 0 1.0 0a0.5 0.5 0 1 0 -1.0 0M317.3 118.6a0.6 0.6 0 1 0 1.2 0a0.6 0.6 0 1 0 -1.2 0M337.3 115.9a0.5 0.5 0 1 0 1.0 0a0.5 0.5 0 1 0 -1.0 0M319.1 130.7a0.6 0.6 0 1 0 1.2 0a0.6 0.6 0 1 0 -1.2 0M323.6 129.4a0.4 0.4 0 1 0 0.8 0a0.4 0.4 0 1 0 -0.8 0M319.0 117.5a0.6 0.6 0 1 0 1.3 0a0.6 0.6 0 1 0 -1.3 0M332.1 139.2a0.6 0.6 0 1 0 1.3 0a0.6 0.6 0 1 0 -1.3 0M319.6 125.9a0.9 0.9 0 1 0 1.8 0a0.9 0.9 0 1 0 -1.8 0M330.8 123.1a0.6 0.6 0 1 0 1.2 0a0.6 0.6 0 1 0 -1.2 0M342.9 132.0a0.7 0.7 0 1 0 1.3 0a0.7 0.7 0 1 0 -1.3 0M339.4 125.7a0.5 0.5 0 1 0 1.0 0a0.5 0.5 0 1 0 -1.0 0M320.1 122.4a0.5 0.5 0 1 0 1.1 0a0.5 0.5 0 1 0 -1.1 0M330.2 132.0a0.5 0.5 0 1 0 1.0 0a0.5 0.5 0 1 0 -1.0 0M324.5 121.3a0.9 0.9 0 1 0 1.8 0a0.9 0.9 0 1 0 -1.8 0M325.6 127.2a0.5 0.5 0 1 0 0.9 0a0.5 0.5 0 1 0 -0.9 0M329.5 140.0a0.7 0.7 0 1 0 1.4 0a0.7 0.7 0 1 0 -1.4 0M312.5 128.3a0.8 0.8 0 1 0 1.6 0a0.8 0.8 0 1 0 -1.6 0" fill="#6a3024" fill-opacity="0.6"/>
<path d="M267.5 175.8a0.7 0.7 0 1 0 1.5 0a0.7 0.7 0 1 0 -1.5 0M266.0 154.6a0.8 0.8 0 1 0 1.6 0a0.8 0.8 0 1 0 -1.6 0M271.4 157.8a0.6 0.6 0 1 0 1.2 0a0.6 0.6 0 1 0 -1.2 0M276.5 157.8a0.8 0.8 0 1 0 1.6 0a0.8 0.8 0 1 0 -1.6 0M278.9 162.0a0.9 0.9 0 1 0 1.9 0a0.9 0.9 0 1 0 -1.9 0M280.2 176.8a0.9 0.9 0 1 0 1.8 0a0.9 0.9 0 1 0 -1.8 0M269.4 168.3a0.6 0.6 0 1 0 1.1 0a0.6 0.6 0 1 0 -1.1 0M276.6 156.8a0.7 0.7 0 1 0 1.3 0a0.7 0.7 0 1 0 -1.3 0M265.4 150.9a0.9 0.9 0 1 0 1.7 0a0.9 0.9 0 1 0 -1.7 0M287.2 161.2a0.8 0.8 0 1 0 1.6 0a0.8 0.8 0 1 0 -1.6 0M283.1 163.3a0.7 0.7 0 1 0 1.4 0a0.7 0.7 0 1 0 -1.4 0M283.5 144.5a0.9 0.9 0 1 0 1.8 0a0.9 0.9 0 1 0 -1.8 0M276.4 162.0a0.9 0.9 0 1 0 1.9 0a0.9 0.9 0 1 0 -1.9 0M268.9 163.3a0.8 0.8 0 1 0 1.6 0a0.8 0.8 0 1 0 -1.6 0M257.2 171.1a0.6 0.6 0 1 0 1.2 0a0.6 0.6 0 1 0 -1.2 0M289.7 144.8a1.0 1.0 0 1 0 2.0 0a1.0 1.0 0 1 0 -2.0 0M279.5 147.9a0.7 0.7 0 1 0 1.5 0a0.7 0.7 0 1 0 -1.5 0M262.8 170.5a0.7 0.7 0 1 0 1.3 0a0.7 0.7 0 1 0 -1.3 0M296.6 147.3a0.6 0.6 0 1 0 1.1 0a0.6 0.6 0 1 0 -1.1 0M274.7 151.0a1.0 1.0 0 1 0 1.9 0a1.0 1.0 0 1 0 -1.9 0M271.0 163.9a0.8 0.8 0 1 0 1.7 0a0.8 0.8 0 1 0 -1.7 0M274.2 152.1a0.5 0.5 0 1 0 1.1 0a0.5 0.5 0 1 0 -1.1 0M299.8 158.4a0.6 0.6 0 1 0 1.2 0a0.6 0.6 0 1 0 -1.2 0M272.1 173.5a1.0 1.0 0 1 0 1.9 0a1.0 1.0 0 1 0 -1.9 0M274.9 157.8a0.5 0.5 0 1 0 1.1 0a0.5 0.5 0 1 0 -1.1 0M285.7 147.9a0.8 0.8 0 1 0 1.7 0a0.8 0.8 0 1 0 -1.7 0M283.4 172.5a0.8 0.8 0 1 0 1.6 0a0.8 0.8 0 1 0 -1.6 0M282.4 158.1a0.8 0.8 0 1 0 1.5 0a0.8 0.8 0 1 0 -1.5 0M274.3 139.8a0.8 0.8 0 1 0 1.7 0a0.8 0.8 0 1 0 -1.7 0M273.0 163.7a0.7 0.7 0 1 0 1.3 0a0.7 0.7 0 1 0 -1.3 0M284.7 161.9a0.8 0.8 0 1 0 1.6 0a0.8 0.8 0 1 0 -1.6 0M269.7 150.3a0.9 0.9 0 1 0 1.9 0a0.9 0.9 0 1 0 -1.9 0M273.9 161.8a0.8 0.8 0 1 0 1.6 0a0.8 0.8 0 1 0 -1.6 0M288.9 160.3a0.8 0.8 0 1 0 1.5 0a0.8 0.8 0 1 0 -1.5 0M268.5 159.0a0.8 0.8 0 1 0 1.6 0a0.8 0.8 0 1 0 -1.6 0M268.9 157.4a0.6 0.6 0 1 0 1.2 0a0.6 0.6 0 1 0 -1.2 0M260.4 165.8a0.7 0.7 0 1 0 1.3 0a0.7 0.7 0 1 0 -1.3 0M273.4 162.0a0.9 0.9 0 1 0 1.7 0a0.9 0.9 0 1 0 -1.7 0M288.2 147.8a0.8 0.8 0 1 0 1.6 0a0.8 0.8 0 1 0 -1.6 0M288.2 164.8a0.6 0.6 0 1 0 1.1 0a0.6 0.6 0 1 0 -1.1 0M265.8 177.9a0.9 0.9 0 1 0 1.9 0a0.9 0.9 0 1 0 -1.9 0M257.6 146.8a0.7 0.7 0 1 0 1.4 0a0.7 0.7 0 1 0 -1.4 0M272.1 165.0a0.6 0.6 0 1 0 1.2 0a0.6 0.6 0 1 0 -1.2 0M272.4 134.9a0.6 0.6 0 1 0 1.1 0a0.6 0.6 0 1 0 -1.1 0M270.7 159.2a1.0 1.0 0 1 0 1.9 0a1.0 1.0 0 1 0 -1.9 0M304.5 176.5a0.9 0.9 0 1 0 1.7 0a0.9 0.9 0 1 0 -1.7 0M276.0 147.3a0.7 0.7 0 1 0 1.3 0a0.7 0.7 0 1 0 -1.3 0M278.7 146.4a0.6 0.6 0 1 0 1.2 0a0.6 0.6 0 1 0 -1.2 0M276.7 164.5a0.9 0.9 0 1 0 1.9 0a0.9 0.9 0 1 0 -1.9 0M269.9 163.2a0.6 0.6 0 1 0 1.1 0a0.6 0.6 0 1 0 -1.1 0M270.5 153.4a0.8 0.8 0 1 0 1.5 0a0.8 0.8 0 1 0 -1.5 0M292.6 167.1a0.8 0.8 0 1 0 1.7 0a0.8 0.8 0 1 0 -1.7 0M270.6 151.1a1.0 1.0 0 1 0 1.9 0a1.0 1.0 0 1 0 -1.9 0M276.5 166.9a0.8 0.8 0 1 0 1.7 0a0.8 0.8 0 1 0 -1.7 0M284.7 177.7a0.6 0.6 0 1 0 1.1 0a0.6 0.6 0 1 0 -1.1 0M279.9 146.9a0.8 0.8 0 1 0 1.5 0a0.8 0.8 0 1 0 -1.5 0M298.3 173.9a1.0 1.0 0 1 0 1.9 0a1.0 1.0 0 1 0 -1.9 0M284.4 176.0a0.6 0.6 0 1 0 1.3 0a0.6 0.6 0 1 0 -1.3 0M257.0 155.8a0.5 0.5 0 1 0 1.1 0a0.5 0.5 0 1 0 -1.1 0M268.6 174.3a0.5 0.5 0 1 0 1.1 0a0.5 0.5 0 1 0 -1.1 0M260.3 156.4a0.9 0.9 0 1 0 1.8 0a0.9 0.9 0 1 0 -1.8 0M292.2 167.8a1.0 1.0 0 1 0 1.9 0a1.0 1.0 0 1 0 -1.9 0M258.7 165.5a0.7 0.7 0 1 0 1.5 0a0.7 0.7 0 1 0 -1.5 0M271.8 166.2a0.7 0.7 0 1 0 1.3 0a0.7 0.7 0 1 0 -1.3 0M271.2 150.3a0.7 0.7 0 1 0 1.4 0a0.7 0.7 0 1 0 -1.4 0M277.1 144.6a0.6 0.6 0 1 0 1.2 0a0.6 0.6 0 1 0 -1.2 0M280.7 156.4a0.7 0.7 0 1 0 1.4 0a0.7 0.7 0 1 0 -1.4 0M285.3 154.9a0.7 0.7 0 1 0 1.5 0a0.7 0.7 0 1 0 -1.5 0M266.4 164.9a0.8 0.8 0 1 0 1.5 0a0.8 0.8 0 1 0 -1.5 0M289.2 135.6a0.6 0.6 0 1 0 1.1 0a0.6 0.6 0 1 0 -1.1 0M275.6 167.6a1.0 1.0 0 1 0 2.0 0a1.0 1.0 0 1 0 -2.0 0M257.5 149.7a0.8 0.8 0 1 0 1.6 0a0.8 0.8 0 1 0 -1.6 0M282.0 150.4a0.8 0.8 0 1 0 1.6 0a0.8 0.8 0 1 0 -1.6 0" fill="#7a3a2a" fill-opacity="0.5"/>
<path d="M345 166 L345 179 L335 179 Z" fill="#f2f0f4"/>
</g>
<rect x="257.3" y="112.3" width="17.6" height="18.4" fill="#cfe7ea" stroke="none" stroke-width="1"/>
<text x="265.0" y="125.4" font-family="Liberation Sans, sans-serif" font-size="11" font-weight="bold" text-anchor="middle" fill="#111">i</text>
<rect x="257.3" y="112.3" width="87.5" height="66.1" fill="none" stroke="#9a9ac4" stroke-width="0.8"/>
<clipPath id="cEii"><rect x="345.9" y="112.3" width="87.9" height="66.3"/></clipPath>
<g clip-path="url(#cEii)">
<rect x="345.9" y="112.3" width="87.9" height="66.3" fill="#ead9d1" stroke="none" stroke-width="1"/>
<ellipse cx="352" cy="155" rx="8" ry="25" fill="#d8bcae" fill-opacity="0.5" filter="url(#b40)"/>
<ellipse cx="382" cy="142" rx="30" ry="10" fill="#c8a49a" fill-opacity="0.3" filter="url(#b50)" transform="rotate(12 382 142)"/>
<rect x="345.9" y="112.3" width="87.9" height="66.3" fill="#000" filter="url(#nzII)"/>
<path d="M430.6 159.2a0.6 0.6 0 1 0 1.2 0a0.6 0.6 0 1 0 -1.2 0M387.0 113.1a0.5 0.5 0 1 0 0.9 0a0.5 0.5 0 1 0 -0.9 0M428.3 136.7a0.5 0.5 0 1 0 1.1 0a0.5 0.5 0 1 0 -1.1 0M416.8 119.6a0.4 0.4 0 1 0 0.8 0a0.4 0.4 0 1 0 -0.8 0M429.7 141.6a0.6 0.6 0 1 0 1.2 0a0.6 0.6 0 1 0 -1.2 0M424.8 168.1a0.5 0.5 0 1 0 1.0 0a0.5 0.5 0 1 0 -1.0 0M389.2 114.3a0.5 0.5 0 1 0 1.0 0a0.5 0.5 0 1 0 -1.0 0M399.2 113.0a0.3 0.3 0 1 0 0.7 0a0.3 0.3 0 1 0 -0.7 0M415.0 119.0a0.4 0.4 0 1 0 0.8 0a0.4 0.4 0 1 0 -0.8 0M428.1 131.2a0.3 0.3 0 1 0 0.7 0a0.3 0.3 0 1 0 -0.7 0M428.3 158.7a0.4 0.4 0 1 0 0.8 0a0.4 0.4 0 1 0 -0.8 0M431.3 150.3a0.5 0.5 0 1 0 0.9 0a0.5 0.5 0 1 0 -0.9 0M428.0 132.9a0.4 0.4 0 1 0 0.8 0a0.4 0.4 0 1 0 -0.8 0M400.8 114.8a0.3 0.3 0 1 0 0.6 0a0.3 0.3 0 1 0 -0.6 0M425.6 129.2a0.4 0.4 0 1 0 0.9 0a0.4 0.4 0 1 0 -0.9 0M421.0 125.0a0.5 0.5 0 1 0 1.1 0a0.5 0.5 0 1 0 -1.1 0M393.3 114.5a0.4 0.4 0 1 0 0.8 0a0.4 0.4 0 1 0 -0.8 0M428.6 167.7a0.5 0.5 0 1 0 1.1 0a0.5 0.5 0 1 0 -1.1 0M428.3 160.0a0.4 0.4 0 1 0 0.8 0a0.4 0.4 0 1 0 -0.8 0M431.1 138.5a0.5 0.5 0 1 0 0.9 0a0.5 0.5 0 1 0 -0.9 0M405.8 115.3a0.4 0.4 0 1 0 0.8 0a0.4 0.4 0 1 0 -0.8 0M427.6 136.1a0.3 0.3 0 1 0 0.7 0a0.3 0.3 0 1 0 -0.7 0M412.0 118.7a0.5 0.5 0 1 0 1.1 0a0.5 0.5 0 1 0 -1.1 0M429.8 142.3a0.5 0.5 0 1 0 0.9 0a0.5 0.5 0 1 0 -0.9 0M386.2 115.1a0.5 0.5 0 1 0 1.1 0a0.5 0.5 0 1 0 -1.1 0M429.8 137.8a0.5 0.5 0 1 0 1.1 0a0.5 0.5 0 1 0 -1.1 0M425.7 135.1a0.5 0.5 0 1 0 1.1 0a0.5 0.5 0 1 0 -1.1 0M428.4 168.7a0.4 0.4 0 1 0 0.8 0a0.4 0.4 0 1 0 -0.8 0M429.5 134.6a0.4 0.4 0 1 0 0.8 0a0.4 0.4 0 1 0 -0.8 0M433.1 155.2a0.4 0.4 0 1 0 0.7 0a0.4 0.4 0 1 0 -0.7 0M403.3 115.4a0.4 0.4 0 1 0 0.9 0a0.4 0.4 0 1 0 -0.9 0M424.9 134.8a0.5 0.5 0 1 0 1.0 0a0.5 0.5 0 1 0 -1.0 0M412.2 118.5a0.6 0.6 0 1 0 1.1 0a0.6 0.6 0 1 0 -1.1 0M423.4 172.6a0.6 0.6 0 1 0 1.2 0a0.6 0.6 0 1 0 -1.2 0M425.6 170.8a0.5 0.5 0 1 0 1.0 0a0.5 0.5 0 1 0 -1.0 0M405.6 115.4a0.5 0.5 0 1 0 0.9 0a0.5 0.5 0 1 0 -0.9 0M430.1 139.8a0.4 0.4 0 1 0 0.8 0a0.4 0.4 0 1 0 -0.8 0M389.2 113.2a0.5 0.5 0 1 0 0.9 0a0.5 0.5 0 1 0 -0.9 0M425.7 134.0a0.4 0.4 0 1 0 0.8 0a0.4 0.4 0 1 0 -0.8 0M425.5 174.2a0.6 0.6 0 1 0 1.1 0a0.6 0.6 0 1 0 -1.1 0M395.8 114.5a0.4 0.4 0 1 0 0.7 0a0.4 0.4 0 1 0 -0.7 0M431.9 149.9a0.4 0.4 0 1 0 0.8 0a0.4 0.4 0 1 0 -0.8 0M427.2 129.6a0.4 0.4 0 1 0 0.7 0a0.4 0.4 0 1 0 -0.7 0M422.6 172.7a0.4 0.4 0 1 0 0.7 0a0.4 0.4 0 1 0 -0.7 0M419.2 122.5a0.5 0.5 0 1 0 1.1 0a0.5 0.5 0 1 0 -1.1 0M432.5 159.7a0.4 0.4 0 1 0 0.7 0a0.4 0.4 0 1 0 -0.7 0M429.0 137.5a0.4 0.4 0 1 0 0.8 0a0.4 0.4 0 1 0 -0.8 0M432.4 156.9a0.3 0.3 0 1 0 0.6 0a0.3 0.3 0 1 0 -0.6 0M430.0 161.6a0.6 0.6 0 1 0 1.1 0a0.6 0.6 0 1 0 -1.1 0M430.9 142.0a0.6 0.6 0 1 0 1.1 0a0.6 0.6 0 1 0 -1.1 0M415.4 118.3a0.4 0.4 0 1 0 0.8 0a0.4 0.4 0 1 0 -0.8 0M428.9 137.4a0.6 0.6 0 1 0 1.2 0a0.6 0.6 0 1 0 -1.2 0M430.9 155.6a0.4 0.4 0 1 0 0.7 0a0.4 0.4 0 1 0 -0.7 0M431.9 158.8a0.4 0.4 0 1 0 0.8 0a0.4 0.4 0 1 0 -0.8 0M430.7 140.5a0.5 0.5 0 1 0 0.9 0a0.5 0.5 0 1 0 -0.9 0M423.1 125.3a0.4 0.4 0 1 0 0.7 0a0.4 0.4 0 1 0 -0.7 0M390.5 114.8a0.6 0.6 0 1 0 1.1 0a0.6 0.6 0 1 0 -1.1 0M393.4 113.0a0.6 0.6 0 1 0 1.2 0a0.6 0.6 0 1 0 -1.2 0M432.3 141.5a0.3 0.3 0 1 0 0.7 0a0.3 0.3 0 1 0 -0.7 0M419.1 120.8a0.4 0.4 0 1 0 0.9 0a0.4 0.4 0 1 0 -0.9 0M431.7 144.8a0.4 0.4 0 1 0 0.9 0a0.4 0.4 0 1 0 -0.9 0M425.5 131.1a0.6 0.6 0 1 0 1.2 0a0.6 0.6 0 1 0 -1.2 0M418.0 122.5a0.6 0.6 0 1 0 1.2 0a0.6 0.6 0 1 0 -1.2 0M402.2 113.2a0.3 0.3 0 1 0 0.6 0a0.3 0.3 0 1 0 -0.6 0M431.5 161.6a0.6 0.6 0 1 0 1.2 0a0.6 0.6 0 1 0 -1.2 0M408.2 115.5a0.5 0.5 0 1 0 1.0 0a0.5 0.5 0 1 0 -1.0 0M432.0 140.1a0.4 0.4 0 1 0 0.9 0a0.4 0.4 0 1 0 -0.9 0M392.2 113.4a0.4 0.4 0 1 0 0.9 0a0.4 0.4 0 1 0 -0.9 0M426.2 171.9a0.6 0.6 0 1 0 1.1 0a0.6 0.6 0 1 0 -1.1 0M397.1 114.4a0.3 0.3 0 1 0 0.7 0a0.3 0.3 0 1 0 -0.7 0M425.5 129.3a0.4 0.4 0 1 0 0.8 0a0.4 0.4 0 1 0 -0.8 0M429.5 157.5a0.3 0.3 0 1 0 0.7 0a0.3 0.3 0 1 0 -0.7 0M404.9 113.6a0.4 0.4 0 1 0 0.8 0a0.4 0.4 0 1 0 -0.8 0M431.3 141.7a0.5 0.5 0 1 0 1.1 0a0.5 0.5 0 1 0 -1.1 0M418.4 123.4a0.5 0.5 0 1 0 1.1 0a0.5 0.5 0 1 0 -1.1 0M424.4 170.4a0.3 0.3 0 1 0 0.7 0a0.3 0.3 0 1 0 -0.7 0M395.3 113.6a0.4 0.4 0 1 0 0.7 0a0.4 0.4 0 1 0 -0.7 0M400.4 115.4a0.5 0.5 0 1 0 1.0 0a0.5 0.5 0 1 0 -1.0 0M426.4 133.4a0.4 0.4 0 1 0 0.7 0a0.4 0.4 0 1 0 -0.7 0M430.3 145.4a0.3 0.3 0 1 0 0.6 0a0.3 0.3 0 1 0 -0.6 0M429.4 135.1a0.6 0.6 0 1 0 1.1 0a0.6 0.6 0 1 0 -1.1 0M424.2 128.7a0.3 0.3 0 1 0 0.6 0a0.3 0.3 0 1 0 -0.6 0M388.6 113.8a0.6 0.6 0 1 0 1.1 0a0.6 0.6 0 1 0 -1.1 0M431.4 144.4a0.5 0.5 0 1 0 1.0 0a0.5 0.5 0 1 0 -1.0 0M412.8 118.6a0.4 0.4 0 1 0 0.8 0a0.4 0.4 0 1 0 -0.8 0M424.9 170.7a0.4 0.4 0 1 0 0.8 0a0.4 0.4 0 1 0 -0.8 0M419.4 121.1a0.4 0.4 0 1 0 0.8 0a0.4 0.4 0 1 0 -0.8 0M387.2 113.4a0.6 0.6 0 1 0 1.1 0a0.6 0.6 0 1 0 -1.1 0M383.7 114.7a0.5 0.5 0 1 0 0.9 0a0.5 0.5 0 1 0 -0.9 0M412.9 118.7a0.3 0.3 0 1 0 0.7 0a0.3 0.3 0 1 0 -0.7 0M407.9 113.4a0.5 0.5 0 1 0 0.9 0a0.5 0.5 0 1 0 -0.9 0M425.1 169.6a0.4 0.4 0 1 0 0.8 0a0.4 0.4 0 1 0 -0.8 0M431.3 154.8a0.6 0.6 0 1 0 1.1 0a0.6 0.6 0 1 0 -1.1 0M415.6 121.1a0.3 0.3 0 1 0 0.7 0a0.3 0.3 0 1 0 -0.7 0M406.9 115.9a0.4 0.4 0 1 0 0.9 0a0.4 0.4 0 1 0 -0.9 0M389.0 113.3a0.3 0.3 0 1 0 0.6 0a0.3 0.3 0 1 0 -0.6 0M394.3 113.5a0.4 0.4 0 1 0 0.8 0a0.4 0.4 0 1 0 -0.8 0M432.2 151.1a0.5 0.5 0 1 0 1.0 0a0.5 0.5 0 1 0 -1.0 0M387.8 113.5a0.5 0.5 0 1 0 1.0 0a0.5 0.5 0 1 0 -1.0 0M429.3 155.0a0.6 0.6 0 1 0 1.2 0a0.6 0.6 0 1 0 -1.2 0M416.5 123.9a0.3 0.3 0 1 0 0.7 0a0.3 0.3 0 1 0 -0.7 0M432.6 145.3a0.4 0.4 0 1 0 0.9 0a0.4 0.4 0 1 0 -0.9 0M429.3 139.4a0.3 0.3 0 1 0 0.7 0a0.3 0.3 0 1 0 -0.7 0M431.5 152.4a0.5 0.5 0 1 0 1.0 0a0.5 0.5 0 1 0 -1.0 0M428.1 163.4a0.3 0.3 0 1 0 0.7 0a0.3 0.3 0 1 0 -0.7 0M424.2 171.4a0.6 0.6 0 1 0 1.2 0a0.6 0.6 0 1 0 -1.2 0M430.9 157.2a0.4 0.4 0 1 0 0.9 0a0.4 0.4 0 1 0 -0.9 0M428.5 138.5a0.5 0.5 0 1 0 0.9 0a0.5 0.5 0 1 0 -0.9 0M432.3 146.6a0.4 0.4 0 1 0 0.8 0a0.4 0.4 0 1 0 -0.8 0M386.6 112.4a0.4 0.4 0 1 0 0.8 0a0.4 0.4 0 1 0 -0.8 0M403.8 114.9a0.6 0.6 0 1 0 1.1 0a0.6 0.6 0 1 0 -1.1 0M429.8 167.3a0.5 0.5 0 1 0 1.1 0a0.5 0.5 0 1 0 -1.1 0M428.7 162.2a0.4 0.4 0 1 0 0.8 0a0.4 0.4 0 1 0 -0.8 0M403.2 113.7a0.5 0.5 0 1 0 1.1 0a0.5 0.5 0 1 0 -1.1 0M425.6 134.0a0.4 0.4 0 1 0 0.8 0a0.4 0.4 0 1 0 -0.8 0M413.2 120.9a0.3 0.3 0 1 0 0.6 0a0.3 0.3 0 1 0 -0.6 0M433.2 155.1a0.4 0.4 0 1 0 0.7 0a0.4 0.4 0 1 0 -0.7 0M432.7 144.5a0.4 0.4 0 1 0 0.9 0a0.4 0.4 0 1 0 -0.9 0M389.3 115.6a0.4 0.4 0 1 0 0.9 0a0.4 0.4 0 1 0 -0.9 0M431.5 144.0a0.4 0.4 0 1 0 0.7 0a0.4 0.4 0 1 0 -0.7 0M383.5 114.1a0.5 0.5 0 1 0 1.0 0a0.5 0.5 0 1 0 -1.0 0M391.7 113.0a0.4 0.4 0 1 0 0.7 0a0.4 0.4 0 1 0 -0.7 0M419.9 122.6a0.5 0.5 0 1 0 1.0 0a0.5 0.5 0 1 0 -1.0 0M386.1 115.2a0.5 0.5 0 1 0 0.9 0a0.5 0.5 0 1 0 -0.9 0M425.9 130.8a0.5 0.5 0 1 0 1.0 0a0.5 0.5 0 1 0 -1.0 0M429.7 145.6a0.6 0.6 0 1 0 1.1 0a0.6 0.6 0 1 0 -1.1 0M406.8 115.6a0.5 0.5 0 1 0 1.0 0a0.5 0.5 0 1 0 -1.0 0M431.9 146.7a0.5 0.5 0 1 0 1.0 0a0.5 0.5 0 1 0 -1.0 0M389.3 114.4a0.5 0.5 0 1 0 1.0 0a0.5 0.5 0 1 0 -1.0 0M390.9 113.5a0.5 0.5 0 1 0 0.9 0a0.5 0.5 0 1 0 -0.9 0M424.4 129.3a0.6 0.6 0 1 0 1.2 0a0.6 0.6 0 1 0 -1.2 0M385.1 114.2a0.5 0.5 0 1 0 1.1 0a0.5 0.5 0 1 0 -1.1 0M432.8 152.7a0.3 0.3 0 1 0 0.7 0a0.3 0.3 0 1 0 -0.7 0M428.8 165.1a0.3 0.3 0 1 0 0.7 0a0.3 0.3 0 1 0 -0.7 0M383.1 114.3a0.4 0.4 0 1 0 0.9 0a0.4 0.4 0 1 0 -0.9 0M429.0 156.2a0.6 0.6 0 1 0 1.2 0a0.6 0.6 0 1 0 -1.2 0M428.0 135.1a0.3 0.3 0 1 0 0.7 0a0.3 0.3 0 1 0 -0.7 0M425.3 172.6a0.4 0.4 0 1 0 0.7 0a0.4 0.4 0 1 0 -0.7 0M429.7 156.5a0.6 0.6 0 1 0 1.2 0a0.6 0.6 0 1 0 -1.2 0M427.3 165.8a0.5 0.5 0 1 0 1.0 0a0.5 0.5 0 1 0 -1.0 0M428.5 161.3a0.5 0.5 0 1 0 0.9 0a0.5 0.5 0 1 0 -0.9 0M431.5 162.1a0.3 0.3 0 1 0 0.7 0a0.3 0.3 0 1 0 -0.7 0M431.0 152.5a0.3 0.3 0 1 0 0.6 0a0.3 0.3 0 1 0 -0.6 0M427.0 165.9a0.4 0.4 0 1 0 0.8 0a0.4 0.4 0 1 0 -0.8 0M390.7 112.4a0.4 0.4 0 1 0 0.7 0a0.4 0.4 0 1 0 -0.7 0M432.2 157.3a0.6 0.6 0 1 0 1.1 0a0.6 0.6 0 1 0 -1.1 0M431.8 144.8a0.5 0.5 0 1 0 0.9 0a0.5 0.5 0 1 0 -0.9 0M416.6 118.7a0.5 0.5 0 1 0 0.9 0a0.5 0.5 0 1 0 -0.9 0M421.5 124.2a0.5 0.5 0 1 0 1.0 0a0.5 0.5 0 1 0 -1.0 0M393.2 113.2a0.4 0.4 0 1 0 0.9 0a0.4 0.4 0 1 0 -0.9 0M411.4 117.7a0.4 0.4 0 1 0 0.7 0a0.4 0.4 0 1 0 -0.7 0M430.8 148.5a0.5 0.5 0 1 0 1.0 0a0.5 0.5 0 1 0 -1.0 0M426.8 133.7a0.5 0.5 0 1 0 1.0 0a0.5 0.5 0 1 0 -1.0 0M427.1 168.3a0.6 0.6 0 1 0 1.1 0a0.6 0.6 0 1 0 -1.1 0M406.6 115.2a0.4 0.4 0 1 0 0.9 0a0.4 0.4 0 1 0 -0.9 0M404.4 114.2a0.3 0.3 0 1 0 0.7 0a0.3 0.3 0 1 0 -0.7 0M432.2 150.6a0.6 0.6 0 1 0 1.2 0a0.6 0.6 0 1 0 -1.2 0M425.4 170.5a0.3 0.3 0 1 0 0.6 0a0.3 0.3 0 1 0 -0.6 0M415.3 121.4a0.3 0.3 0 1 0 0.7 0a0.3 0.3 0 1 0 -0.7 0M417.5 122.3a0.5 0.5 0 1 0 1.0 0a0.5 0.5 0 1 0 -1.0 0M387.8 115.1a0.6 0.6 0 1 0 1.1 0a0.6 0.6 0 1 0 -1.1 0M404.0 116.8a0.6 0.6 0 1 0 1.2 0a0.6 0.6 0 1 0 -1.2 0M427.7 166.6a0.5 0.5 0 1 0 1.0 0a0.5 0.5 0 1 0 -1.0 0M423.1 171.2a0.4 0.4 0 1 0 0.8 0a0.4 0.4 0 1 0 -0.8 0M423.4 129.4a0.3 0.3 0 1 0 0.6 0a0.3 0.3 0 1 0 -0.6 0M428.3 161.2a0.5 0.5 0 1 0 1.0 0a0.5 0.5 0 1 0 -1.0 0M403.3 112.9a0.5 0.5 0 1 0 1.0 0a0.5 0.5 0 1 0 -1.0 0M430.4 142.2a0.3 0.3 0 1 0 0.7 0a0.3 0.3 0 1 0 -0.7 0M428.5 167.5a0.5 0.5 0 1 0 1.0 0a0.5 0.5 0 1 0 -1.0 0M414.6 119.1a0.6 0.6 0 1 0 1.2 0a0.6 0.6 0 1 0 -1.2 0M430.0 141.3a0.4 0.4 0 1 0 0.7 0a0.4 0.4 0 1 0 -0.7 0M432.2 151.3a0.5 0.5 0 1 0 1.0 0a0.5 0.5 0 1 0 -1.0 0M407.1 115.0a0.4 0.4 0 1 0 0.9 0a0.4 0.4 0 1 0 -0.9 0M427.9 137.5a0.5 0.5 0 1 0 1.0 0a0.5 0.5 0 1 0 -1.0 0M407.0 115.7a0.3 0.3 0 1 0 0.7 0a0.3 0.3 0 1 0 -0.7 0M397.6 114.7a0.6 0.6 0 1 0 1.1 0a0.6 0.6 0 1 0 -1.1 0M397.9 113.5a0.4 0.4 0 1 0 0.8 0a0.4 0.4 0 1 0 -0.8 0M431.3 155.0a0.5 0.5 0 1 0 1.0 0a0.5 0.5 0 1 0 -1.0 0M424.3 124.8a0.4 0.4 0 1 0 0.7 0a0.4 0.4 0 1 0 -0.7 0M429.5 132.9a0.4 0.4 0 1 0 0.7 0a0.4 0.4 0 1 0 -0.7 0M431.1 140.7a0.6 0.6 0 1 0 1.2 0a0.6 0.6 0 1 0 -1.2 0M413.5 116.7a0.4 0.4 0 1 0 0.8 0a0.4 0.4 0 1 0 -0.8 0M431.0 142.9a0.6 0.6 0 1 0 1.2 0a0.6 0.6 0 1 0 -1.2 0M424.8 123.1a0.6 0.6 0 1 0 1.1 0a0.6 0.6 0 1 0 -1.1 0M429.2 129.3a0.5 0.5 0 1 0 0.9 0a0.5 0.5 0 1 0 -0.9 0M425.4 128.7a0.5 0.5 0 1 0 0.9 0a0.5 0.5 0 1 0 -0.9 0M432.0 145.9a0.3 0.3 0 1 0 0.6 0a0.3 0.3 0 1 0 -0.6 0M426.2 171.5a0.5 0.5 0 1 0 1.1 0a0.5 0.5 0 1 0 -1.1 0M386.9 113.5a0.5 0.5 0 1 0 1.0 0a0.5 0.5 0 1 0 -1.0 0M430.3 139.0a0.5 0.5 0 1 0 1.0 0a0.5 0.5 0 1 0 -1.0 0M430.1 147.5a0.5 0.5 0 1 0 1.1 0a0.5 0.5 0 1 0 -1.1 0M424.9 126.8a0.4 0.4 0 1 0 0.9 0a0.4 0.4 0 1 0 -0.9 0M421.1 123.9a0.4 0.4 0 1 0 0.8 0a0.4 0.4 0 1 0 -0.8 0M432.5 148.1a0.5 0.5 0 1 0 1.0 0a0.5 0.5 0 1 0 -1.0 0M426.9 132.6a0.4 0.4 0 1 0 0.9 0a0.4 0.4 0 1 0 -0.9 0M418.3 124.7a0.5 0.5 0 1 0 1.0 0a0.5 0.5 0 1 0 -1.0 0M431.6 142.7a0.3 0.3 0 1 0 0.7 0a0.3 0.3 0 1 0 -0.7 0M431.2 137.8a0.4 0.4 0 1 0 0.7 0a0.4 0.4 0 1 0 -0.7 0M391.1 114.8a0.4 0.4 0 1 0 0.7 0a0.4 0.4 0 1 0 -0.7 0M414.7 120.6a0.5 0.5 0 1 0 1.1 0a0.5 0.5 0 1 0 -1.1 0M427.8 165.1a0.6 0.6 0 1 0 1.2 0a0.6 0.6 0 1 0 -1.2 0M397.5 113.4a0.6 0.6 0 1 0 1.2 0a0.6 0.6 0 1 0 -1.2 0M424.3 132.0a0.5 0.5 0 1 0 0.9 0a0.5 0.5 0 1 0 -0.9 0M432.6 140.5a0.5 0.5 0 1 0 1.1 0a0.5 0.5 0 1 0 -1.1 0M401.5 114.5a0.3 0.3 0 1 0 0.7 0a0.3 0.3 0 1 0 -0.7 0M411.5 119.8a0.4 0.4 0 1 0 0.8 0a0.4 0.4 0 1 0 -0.8 0M429.7 137.5a0.6 0.6 0 1 0 1.2 0a0.6 0.6 0 1 0 -1.2 0M432.5 153.6a0.4 0.4 0 1 0 0.8 0a0.4 0.4 0 1 0 -0.8 0M432.8 145.1a0.3 0.3 0 1 0 0.7 0a0.3 0.3 0 1 0 -0.7 0M429.7 156.7a0.4 0.4 0 1 0 0.9 0a0.4 0.4 0 1 0 -0.9 0M405.4 114.3a0.5 0.5 0 1 0 1.1 0a0.5 0.5 0 1 0 -1.1 0M425.3 133.4a0.6 0.6 0 1 0 1.2 0a0.6 0.6 0 1 0 -1.2 0M432.1 162.9a0.3 0.3 0 1 0 0.6 0a0.3 0.3 0 1 0 -0.6 0M421.7 123.9a0.5 0.5 0 1 0 1.0 0a0.5 0.5 0 1 0 -1.0 0M425.8 136.1a0.6 0.6 0 1 0 1.1 0a0.6 0.6 0 1 0 -1.1 0M417.7 124.4a0.5 0.5 0 1 0 1.1 0a0.5 0.5 0 1 0 -1.1 0M432.0 150.9a0.6 0.6 0 1 0 1.2 0a0.6 0.6 0 1 0 -1.2 0M430.4 140.2a0.5 0.5 0 1 0 1.0 0a0.5 0.5 0 1 0 -1.0 0M431.0 152.0a0.6 0.6 0 1 0 1.1 0a0.6 0.6 0 1 0 -1.1 0M425.3 172.0a0.4 0.4 0 1 0 0.8 0a0.4 0.4 0 1 0 -0.8 0M428.9 135.0a0.5 0.5 0 1 0 1.0 0a0.5 0.5 0 1 0 -1.0 0M405.8 117.2a0.5 0.5 0 1 0 0.9 0a0.5 0.5 0 1 0 -0.9 0M425.6 130.3a0.4 0.4 0 1 0 0.9 0a0.4 0.4 0 1 0 -0.9 0M424.5 168.8a0.4 0.4 0 1 0 0.9 0a0.4 0.4 0 1 0 -0.9 0M422.9 172.1a0.5 0.5 0 1 0 1.0 0a0.5 0.5 0 1 0 -1.0 0M394.3 112.6a0.3 0.3 0 1 0 0.7 0a0.3 0.3 0 1 0 -0.7 0M430.8 144.5a0.6 0.6 0 1 0 1.1 0a0.6 0.6 0 1 0 -1.1 0M385.0 115.7a0.5 0.5 0 1 0 1.0 0a0.5 0.5 0 1 0 -1.0 0M392.8 113.1a0.4 0.4 0 1 0 0.7 0a0.4 0.4 0 1 0 -0.7 0M416.0 121.1a0.4 0.4 0 1 0 0.8 0a0.4 0.4 0 1 0 -0.8 0M391.5 112.4a0.6 0.6 0 1 0 1.1 0a0.6 0.6 0 1 0 -1.1 0M430.5 142.4a0.4 0.4 0 1 0 0.9 0a0.4 0.4 0 1 0 -0.9 0M425.3 128.7a0.6 0.6 0 1 0 1.1 0a0.6 0.6 0 1 0 -1.1 0M417.4 121.3a0.4 0.4 0 1 0 0.8 0a0.4 0.4 0 1 0 -0.8 0M430.5 161.7a0.6 0.6 0 1 0 1.2 0a0.6 0.6 0 1 0 -1.2 0M415.3 119.5a0.4 0.4 0 1 0 0.8 0a0.4 0.4 0 1 0 -0.8 0M405.8 114.8a0.6 0.6 0 1 0 1.2 0a0.6 0.6 0 1 0 -1.2 0M409.0 116.7a0.4 0.4 0 1 0 0.8 0a0.4 0.4 0 1 0 -0.8 0M384.6 114.2a0.4 0.4 0 1 0 0.9 0a0.4 0.4 0 1 0 -0.9 0M429.3 149.2a0.4 0.4 0 1 0 0.7 0a0.4 0.4 0 1 0 -0.7 0M419.1 123.6a0.5 0.5 0 1 0 1.1 0a0.5 0.5 0 1 0 -1.1 0M430.9 158.3a0.3 0.3 0 1 0 0.6 0a0.3 0.3 0 1 0 -0.6 0M412.9 118.7a0.5 0.5 0 1 0 1.1 0a0.5 0.5 0 1 0 -1.1 0M402.8 114.6a0.4 0.4 0 1 0 0.9 0a0.4 0.4 0 1 0 -0.9 0M385.4 113.6a0.6 0.6 0 1 0 1.1 0a0.6 0.6 0 1 0 -1.1 0M399.3 114.0a0.5 0.5 0 1 0 1.0 0a0.5 0.5 0 1 0 -1.0 0M421.5 125.7a0.6 0.6 0 1 0 1.2 0a0.6 0.6 0 1 0 -1.2 0M412.3 119.6a0.5 0.5 0 1 0 0.9 0a0.5 0.5 0 1 0 -0.9 0M420.9 125.7a0.4 0.4 0 1 0 0.7 0a0.4 0.4 0 1 0 -0.7 0M387.8 115.2a0.6 0.6 0 1 0 1.2 0a0.6 0.6 0 1 0 -1.2 0" fill="#5a4044" fill-opacity="0.6"/>
<path d="M424.1 156.9a0.6 0.6 0 1 0 1.1 0a0.6 0.6 0 1 0 -1.1 0M419.5 148.6a0.5 0.5 0 1 0 0.9 0a0.5 0.5 0 1 0 -0.9 0M398.4 134.4a0.3 0.3 0 1 0 0.7 0a0.3 0.3 0 1 0 -0.7 0M368.8 164.5a0.4 0.4 0 1 0 0.8 0a0.4 0.4 0 1 0 -0.8 0M347.1 173.0a0.5 0.5 0 1 0 0.9 0a0.5 0.5 0 1 0 -0.9 0M416.8 118.1a0.6 0.6 0 1 0 1.3 0a0.6 0.6 0 1 0 -1.3 0M403.7 113.8a0.4 0.4 0 1 0 0.7 0a0.4 0.4 0 1 0 -0.7 0M384.2 118.7a0.6 0.6 0 1 0 1.2 0a0.6 0.6 0 1 0 -1.2 0M390.8 170.5a0.4 0.4 0 1 0 0.8 0a0.4 0.4 0 1 0 -0.8 0M414.9 153.4a0.5 0.5 0 1 0 1.0 0a0.5 0.5 0 1 0 -1.0 0M365.7 138.6a0.6 0.6 0 1 0 1.2 0a0.6 0.6 0 1 0 -1.2 0M347.4 177.3a0.5 0.5 0 1 0 0.9 0a0.5 0.5 0 1 0 -0.9 0M353.9 175.3a0.4 0.4 0 1 0 0.8 0a0.4 0.4 0 1 0 -0.8 0M432.6 140.4a0.4 0.4 0 1 0 0.8 0a0.4 0.4 0 1 0 -0.8 0M363.8 136.8a0.6 0.6 0 1 0 1.1 0a0.6 0.6 0 1 0 -1.1 0M431.5 147.7a0.5 0.5 0 1 0 1.1 0a0.5 0.5 0 1 0 -1.1 0M348.0 151.7a0.5 0.5 0 1 0 1.0 0a0.5 0.5 0 1 0 -1.0 0M404.8 168.4a0.4 0.4 0 1 0 0.7 0a0.4 0.4 0 1 0 -0.7 0M391.8 170.9a0.6 0.6 0 1 0 1.1 0a0.6 0.6 0 1 0 -1.1 0M388.9 131.1a0.6 0.6 0 1 0 1.2 0a0.6 0.6 0 1 0 -1.2 0M345.6 169.2a0.5 0.5 0 1 0 0.9 0a0.5 0.5 0 1 0 -0.9 0M395.6 117.2a0.4 0.4 0 1 0 0.8 0a0.4 0.4 0 1 0 -0.8 0M399.7 126.0a0.5 0.5 0 1 0 1.0 0a0.5 0.5 0 1 0 -1.0 0M418.8 140.1a0.6 0.6 0 1 0 1.2 0a0.6 0.6 0 1 0 -1.2 0M418.6 117.1a0.5 0.5 0 1 0 0.9 0a0.5 0.5 0 1 0 -0.9 0M416.9 135.2a0.5 0.5 0 1 0 1.0 0a0.5 0.5 0 1 0 -1.0 0M350.6 113.8a0.6 0.6 0 1 0 1.1 0a0.6 0.6 0 1 0 -1.1 0M422.6 166.0a0.6 0.6 0 1 0 1.2 0a0.6 0.6 0 1 0 -1.2 0M391.7 157.3a0.3 0.3 0 1 0 0.7 0a0.3 0.3 0 1 0 -0.7 0M421.9 129.4a0.5 0.5 0 1 0 1.1 0a0.5 0.5 0 1 0 -1.1 0M425.6 147.1a0.3 0.3 0 1 0 0.6 0a0.3 0.3 0 1 0 -0.6 0M352.7 138.1a0.4 0.4 0 1 0 0.8 0a0.4 0.4 0 1 0 -0.8 0M381.5 166.9a0.5 0.5 0 1 0 1.1 0a0.5 0.5 0 1 0 -1.1 0M390.1 131.7a0.4 0.4 0 1 0 0.7 0a0.4 0.4 0 1 0 -0.7 0M398.5 127.8a0.5 0.5 0 1 0 1.1 0a0.5 0.5 0 1 0 -1.1 0M428.0 164.0a0.6 0.6 0 1 0 1.1 0a0.6 0.6 0 1 0 -1.1 0M348.5 162.7a0.5 0.5 0 1 0 1.1 0a0.5 0.5 0 1 0 -1.1 0M398.4 159.1a0.6 0.6 0 1 0 1.2 0a0.6 0.6 0 1 0 -1.2 0M388.8 116.3a0.5 0.5 0 1 0 1.0 0a0.5 0.5 0 1 0 -1.0 0M357.3 114.8a0.5 0.5 0 1 0 1.0 0a0.5 0.5 0 1 0 -1.0 0M405.6 174.3a0.6 0.6 0 1 0 1.3 0a0.6 0.6 0 1 0 -1.3 0M409.7 177.2a0.4 0.4 0 1 0 0.8 0a0.4 0.4 0 1 0 -0.8 0M355.7 125.7a0.4 0.4 0 1 0 0.7 0a0.4 0.4 0 1 0 -0.7 0M354.7 144.9a0.5 0.5 0 1 0 0.9 0a0.5 0.5 0 1 0 -0.9 0M388.4 143.0a0.5 0.5 0 1 0 1.0 0a0.5 0.5 0 1 0 -1.0 0M429.8 131.0a0.4 0.4 0 1 0 0.9 0a0.4 0.4 0 1 0 -0.9 0M418.5 117.3a0.6 0.6 0 1 0 1.3 0a0.6 0.6 0 1 0 -1.3 0M404.1 129.0a0.4 0.4 0 1 0 0.8 0a0.4 0.4 0 1 0 -0.8 0M380.5 176.4a0.4 0.4 0 1 0 0.7 0a0.4 0.4 0 1 0 -0.7 0M429.2 141.7a0.5 0.5 0 1 0 1.0 0a0.5 0.5 0 1 0 -1.0 0M387.4 125.8a0.4 0.4 0 1 0 0.8 0a0.4 0.4 0 1 0 -0.8 0M357.7 117.1a0.5 0.5 0 1 0 1.0 0a0.5 0.5 0 1 0 -1.0 0M398.2 155.3a0.4 0.4 0 1 0 0.8 0a0.4 0.4 0 1 0 -0.8 0M353.8 168.3a0.4 0.4 0 1 0 0.9 0a0.4 0.4 0 1 0 -0.9 0M421.6 128.9a0.5 0.5 0 1 0 1.1 0a0.5 0.5 0 1 0 -1.1 0M389.7 162.5a0.5 0.5 0 1 0 1.1 0a0.5 0.5 0 1 0 -1.1 0M410.6 113.4a0.3 0.3 0 1 0 0.6 0a0.3 0.3 0 1 0 -0.6 0M420.4 120.7a0.5 0.5 0 1 0 1.0 0a0.5 0.5 0 1 0 -1.0 0M414.9 154.8a0.5 0.5 0 1 0 1.0 0a0.5 0.5 0 1 0 -1.0 0M415.2 118.3a0.4 0.4 0 1 0 0.9 0a0.4 0.4 0 1 0 -0.9 0M414.7 143.2a0.4 0.4 0 1 0 0.9 0a0.4 0.4 0 1 0 -0.9 0M379.4 144.5a0.5 0.5 0 1 0 1.0 0a0.5 0.5 0 1 0 -1.0 0M348.0 113.9a0.6 0.6 0 1 0 1.1 0a0.6 0.6 0 1 0 -1.1 0M367.8 167.1a0.6 0.6 0 1 0 1.1 0a0.6 0.6 0 1 0 -1.1 0M402.6 161.5a0.6 0.6 0 1 0 1.2 0a0.6 0.6 0 1 0 -1.2 0M373.4 165.0a0.5 0.5 0 1 0 1.0 0a0.5 0.5 0 1 0 -1.0 0M432.4 155.7a0.4 0.4 0 1 0 0.8 0a0.4 0.4 0 1 0 -0.8 0M373.2 130.9a0.6 0.6 0 1 0 1.1 0a0.6 0.6 0 1 0 -1.1 0M408.0 158.6a0.4 0.4 0 1 0 0.7 0a0.4 0.4 0 1 0 -0.7 0M356.5 150.3a0.3 0.3 0 1 0 0.6 0a0.3 0.3 0 1 0 -0.6 0M385.7 153.8a0.3 0.3 0 1 0 0.7 0a0.3 0.3 0 1 0 -0.7 0M416.3 162.4a0.3 0.3 0 1 0 0.6 0a0.3 0.3 0 1 0 -0.6 0M425.7 131.4a0.4 0.4 0 1 0 0.9 0a0.4 0.4 0 1 0 -0.9 0M351.9 173.2a0.4 0.4 0 1 0 0.9 0a0.4 0.4 0 1 0 -0.9 0M416.2 143.0a0.6 0.6 0 1 0 1.3 0a0.6 0.6 0 1 0 -1.3 0M430.3 133.2a0.6 0.6 0 1 0 1.2 0a0.6 0.6 0 1 0 -1.2 0M347.5 147.4a0.6 0.6 0 1 0 1.2 0a0.6 0.6 0 1 0 -1.2 0M417.1 177.2a0.6 0.6 0 1 0 1.1 0a0.6 0.6 0 1 0 -1.1 0M349.4 159.2a0.4 0.4 0 1 0 0.7 0a0.4 0.4 0 1 0 -0.7 0M405.3 118.4a0.4 0.4 0 1 0 0.7 0a0.4 0.4 0 1 0 -0.7 0M432.4 130.5a0.6 0.6 0 1 0 1.2 0a0.6 0.6 0 1 0 -1.2 0M353.0 157.1a0.6 0.6 0 1 0 1.1 0a0.6 0.6 0 1 0 -1.1 0M411.4 176.2a0.3 0.3 0 1 0 0.6 0a0.3 0.3 0 1 0 -0.6 0M355.3 148.1a0.4 0.4 0 1 0 0.9 0a0.4 0.4 0 1 0 -0.9 0M397.0 148.2a0.4 0.4 0 1 0 0.8 0a0.4 0.4 0 1 0 -0.8 0M394.6 122.3a0.5 0.5 0 1 0 1.0 0a0.5 0.5 0 1 0 -1.0 0M412.3 166.0a0.5 0.5 0 1 0 0.9 0a0.5 0.5 0 1 0 -0.9 0M362.6 128.2a0.5 0.5 0 1 0 0.9 0a0.5 0.5 0 1 0 -0.9 0M371.8 147.9a0.5 0.5 0 1 0 1.0 0a0.5 0.5 0 1 0 -1.0 0M355.6 157.7a0.6 0.6 0 1 0 1.1 0a0.6 0.6 0 1 0 -1.1 0M381.3 151.9a0.6 0.6 0 1 0 1.2 0a0.6 0.6 0 1 0 -1.2 0M352.7 163.3a0.5 0.5 0 1 0 0.9 0a0.5 0.5 0 1 0 -0.9 0M348.1 155.2a0.4 0.4 0 1 0 0.9 0a0.4 0.4 0 1 0 -0.9 0M409.9 132.8a0.6 0.6 0 1 0 1.2 0a0.6 0.6 0 1 0 -1.2 0M407.7 151.2a0.3 0.3 0 1 0 0.6 0a0.3 0.3 0 1 0 -0.6 0M348.0 158.6a0.6 0.6 0 1 0 1.1 0a0.6 0.6 0 1 0 -1.1 0M403.2 116.6a0.3 0.3 0 1 0 0.6 0a0.3 0.3 0 1 0 -0.6 0M405.0 176.7a0.4 0.4 0 1 0 0.8 0a0.4 0.4 0 1 0 -0.8 0M375.6 153.5a0.6 0.6 0 1 0 1.2 0a0.6 0.6 0 1 0 -1.2 0M371.5 177.4a0.4 0.4 0 1 0 0.8 0a0.4 0.4 0 1 0 -0.8 0M365.9 169.8a0.3 0.3 0 1 0 0.6 0a0.3 0.3 0 1 0 -0.6 0M398.7 114.1a0.3 0.3 0 1 0 0.7 0a0.3 0.3 0 1 0 -0.7 0M357.1 117.5a0.6 0.6 0 1 0 1.3 0a0.6 0.6 0 1 0 -1.3 0M393.8 169.3a0.4 0.4 0 1 0 0.9 0a0.4 0.4 0 1 0 -0.9 0M381.3 128.5a0.4 0.4 0 1 0 0.9 0a0.4 0.4 0 1 0 -0.9 0M390.5 173.1a0.6 0.6 0 1 0 1.2 0a0.6 0.6 0 1 0 -1.2 0M412.2 177.6a0.6 0.6 0 1 0 1.2 0a0.6 0.6 0 1 0 -1.2 0M365.4 163.5a0.4 0.4 0 1 0 0.8 0a0.4 0.4 0 1 0 -0.8 0M373.2 153.8a0.3 0.3 0 1 0 0.7 0a0.3 0.3 0 1 0 -0.7 0M387.8 141.4a0.6 0.6 0 1 0 1.2 0a0.6 0.6 0 1 0 -1.2 0M374.2 172.9a0.4 0.4 0 1 0 0.9 0a0.4 0.4 0 1 0 -0.9 0M405.6 154.1a0.5 0.5 0 1 0 0.9 0a0.5 0.5 0 1 0 -0.9 0M358.2 118.3a0.4 0.4 0 1 0 0.7 0a0.4 0.4 0 1 0 -0.7 0M426.2 160.7a0.4 0.4 0 1 0 0.9 0a0.4 0.4 0 1 0 -0.9 0M428.4 134.2a0.6 0.6 0 1 0 1.2 0a0.6 0.6 0 1 0 -1.2 0M356.5 121.1a0.6 0.6 0 1 0 1.2 0a0.6 0.6 0 1 0 -1.2 0M388.5 136.6a0.4 0.4 0 1 0 0.7 0a0.4 0.4 0 1 0 -0.7 0M375.9 169.5a0.5 0.5 0 1 0 1.0 0a0.5 0.5 0 1 0 -1.0 0M376.0 161.7a0.3 0.3 0 1 0 0.7 0a0.3 0.3 0 1 0 -0.7 0M363.1 137.5a0.5 0.5 0 1 0 1.0 0a0.5 0.5 0 1 0 -1.0 0M392.8 167.2a0.6 0.6 0 1 0 1.1 0a0.6 0.6 0 1 0 -1.1 0M416.2 149.5a0.4 0.4 0 1 0 0.8 0a0.4 0.4 0 1 0 -0.8 0M366.3 134.7a0.5 0.5 0 1 0 1.0 0a0.5 0.5 0 1 0 -1.0 0M414.6 118.8a0.4 0.4 0 1 0 0.7 0a0.4 0.4 0 1 0 -0.7 0M411.5 157.7a0.4 0.4 0 1 0 0.8 0a0.4 0.4 0 1 0 -0.8 0M401.0 128.6a0.5 0.5 0 1 0 1.0 0a0.5 0.5 0 1 0 -1.0 0M423.7 145.9a0.4 0.4 0 1 0 0.8 0a0.4 0.4 0 1 0 -0.8 0M398.6 128.0a0.4 0.4 0 1 0 0.8 0a0.4 0.4 0 1 0 -0.8 0M416.0 154.3a0.4 0.4 0 1 0 0.8 0a0.4 0.4 0 1 0 -0.8 0M429.5 115.9a0.6 0.6 0 1 0 1.1 0a0.6 0.6 0 1 0 -1.1 0M420.7 130.7a0.4 0.4 0 1 0 0.9 0a0.4 0.4 0 1 0 -0.9 0M396.2 153.9a0.5 0.5 0 1 0 1.0 0a0.5 0.5 0 1 0 -1.0 0M371.3 168.5a0.4 0.4 0 1 0 0.8 0a0.4 0.4 0 1 0 -0.8 0M398.6 160.9a0.5 0.5 0 1 0 1.0 0a0.5 0.5 0 1 0 -1.0 0M409.2 131.3a0.3 0.3 0 1 0 0.6 0a0.3 0.3 0 1 0 -0.6 0M409.0 138.6a0.3 0.3 0 1 0 0.6 0a0.3 0.3 0 1 0 -0.6 0M380.6 145.6a0.4 0.4 0 1 0 0.8 0a0.4 0.4 0 1 0 -0.8 0M411.4 175.4a0.6 0.6 0 1 0 1.2 0a0.6 0.6 0 1 0 -1.2 0M374.9 123.9a0.4 0.4 0 1 0 0.7 0a0.4 0.4 0 1 0 -0.7 0M356.8 164.9a0.4 0.4 0 1 0 0.9 0a0.4 0.4 0 1 0 -0.9 0M429.7 119.6a0.6 0.6 0 1 0 1.3 0a0.6 0.6 0 1 0 -1.3 0M426.4 168.2a0.4 0.4 0 1 0 0.8 0a0.4 0.4 0 1 0 -0.8 0M383.0 119.4a0.4 0.4 0 1 0 0.7 0a0.4 0.4 0 1 0 -0.7 0M394.0 137.6a0.4 0.4 0 1 0 0.8 0a0.4 0.4 0 1 0 -0.8 0M346.9 136.8a0.5 0.5 0 1 0 1.0 0a0.5 0.5 0 1 0 -1.0 0M429.2 156.7a0.6 0.6 0 1 0 1.2 0a0.6 0.6 0 1 0 -1.2 0M376.8 133.2a0.3 0.3 0 1 0 0.6 0a0.3 0.3 0 1 0 -0.6 0M399.3 166.0a0.5 0.5 0 1 0 1.0 0a0.5 0.5 0 1 0 -1.0 0M357.6 178.0a0.3 0.3 0 1 0 0.6 0a0.3 0.3 0 1 0 -0.6 0M357.5 160.1a0.6 0.6 0 1 0 1.3 0a0.6 0.6 0 1 0 -1.3 0M397.2 113.4a0.5 0.5 0 1 0 0.9 0a0.5 0.5 0 1 0 -0.9 0M404.7 118.4a0.5 0.5 0 1 0 1.1 0a0.5 0.5 0 1 0 -1.1 0M431.8 165.9a0.4 0.4 0 1 0 0.8 0a0.4 0.4 0 1 0 -0.8 0M407.1 139.4a0.5 0.5 0 1 0 0.9 0a0.5 0.5 0 1 0 -0.9 0M399.2 146.3a0.6 0.6 0 1 0 1.2 0a0.6 0.6 0 1 0 -1.2 0M398.9 168.6a0.3 0.3 0 1 0 0.7 0a0.3 0.3 0 1 0 -0.7 0M369.8 159.8a0.4 0.4 0 1 0 0.8 0a0.4 0.4 0 1 0 -0.8 0M378.1 147.3a0.4 0.4 0 1 0 0.8 0a0.4 0.4 0 1 0 -0.8 0M400.5 132.1a0.6 0.6 0 1 0 1.2 0a0.6 0.6 0 1 0 -1.2 0M357.4 117.4a0.6 0.6 0 1 0 1.2 0a0.6 0.6 0 1 0 -1.2 0M372.0 119.6a0.6 0.6 0 1 0 1.1 0a0.6 0.6 0 1 0 -1.1 0M360.4 115.6a0.4 0.4 0 1 0 0.8 0a0.4 0.4 0 1 0 -0.8 0M348.8 138.8a0.4 0.4 0 1 0 0.8 0a0.4 0.4 0 1 0 -0.8 0M385.2 175.5a0.6 0.6 0 1 0 1.1 0a0.6 0.6 0 1 0 -1.1 0M378.4 119.4a0.5 0.5 0 1 0 0.9 0a0.5 0.5 0 1 0 -0.9 0M394.8 146.5a0.4 0.4 0 1 0 0.8 0a0.4 0.4 0 1 0 -0.8 0M380.4 153.3a0.6 0.6 0 1 0 1.3 0a0.6 0.6 0 1 0 -1.3 0M352.0 175.1a0.4 0.4 0 1 0 0.8 0a0.4 0.4 0 1 0 -0.8 0M348.9 155.9a0.6 0.6 0 1 0 1.1 0a0.6 0.6 0 1 0 -1.1 0M347.5 150.9a0.4 0.4 0 1 0 0.7 0a0.4 0.4 0 1 0 -0.7 0M347.4 159.4a0.6 0.6 0 1 0 1.2 0a0.6 0.6 0 1 0 -1.2 0M415.1 141.2a0.4 0.4 0 1 0 0.8 0a0.4 0.4 0 1 0 -0.8 0M377.8 164.3a0.6 0.6 0 1 0 1.2 0a0.6 0.6 0 1 0 -1.2 0M428.7 168.1a0.5 0.5 0 1 0 1.1 0a0.5 0.5 0 1 0 -1.1 0M373.3 126.4a0.6 0.6 0 1 0 1.2 0a0.6 0.6 0 1 0 -1.2 0M381.4 147.4a0.5 0.5 0 1 0 1.0 0a0.5 0.5 0 1 0 -1.0 0M407.2 133.0a0.3 0.3 0 1 0 0.7 0a0.3 0.3 0 1 0 -0.7 0M429.0 120.4a0.4 0.4 0 1 0 0.9 0a0.4 0.4 0 1 0 -0.9 0M425.7 140.2a0.6 0.6 0 1 0 1.3 0a0.6 0.6 0 1 0 -1.3 0M378.7 152.5a0.3 0.3 0 1 0 0.7 0a0.3 0.3 0 1 0 -0.7 0M405.4 146.7a0.5 0.5 0 1 0 1.0 0a0.5 0.5 0 1 0 -1.0 0M350.9 137.7a0.5 0.5 0 1 0 1.0 0a0.5 0.5 0 1 0 -1.0 0M395.9 149.2a0.5 0.5 0 1 0 0.9 0a0.5 0.5 0 1 0 -0.9 0M402.4 145.8a0.4 0.4 0 1 0 0.8 0a0.4 0.4 0 1 0 -0.8 0M370.0 113.8a0.4 0.4 0 1 0 0.8 0a0.4 0.4 0 1 0 -0.8 0M403.4 158.2a0.4 0.4 0 1 0 0.7 0a0.4 0.4 0 1 0 -0.7 0M372.5 164.9a0.4 0.4 0 1 0 0.8 0a0.4 0.4 0 1 0 -0.8 0M413.1 142.9a0.3 0.3 0 1 0 0.6 0a0.3 0.3 0 1 0 -0.6 0M351.8 155.6a0.6 0.6 0 1 0 1.1 0a0.6 0.6 0 1 0 -1.1 0M391.3 128.2a0.6 0.6 0 1 0 1.2 0a0.6 0.6 0 1 0 -1.2 0M429.2 160.9a0.4 0.4 0 1 0 0.8 0a0.4 0.4 0 1 0 -0.8 0M401.0 142.5a0.3 0.3 0 1 0 0.6 0a0.3 0.3 0 1 0 -0.6 0M428.3 154.9a0.4 0.4 0 1 0 0.9 0a0.4 0.4 0 1 0 -0.9 0M429.0 157.1a0.3 0.3 0 1 0 0.7 0a0.3 0.3 0 1 0 -0.7 0M412.7 140.9a0.4 0.4 0 1 0 0.9 0a0.4 0.4 0 1 0 -0.9 0M416.4 124.5a0.4 0.4 0 1 0 0.8 0a0.4 0.4 0 1 0 -0.8 0M410.1 174.8a0.5 0.5 0 1 0 1.0 0a0.5 0.5 0 1 0 -1.0 0M390.4 167.5a0.6 0.6 0 1 0 1.1 0a0.6 0.6 0 1 0 -1.1 0M414.9 137.7a0.6 0.6 0 1 0 1.2 0a0.6 0.6 0 1 0 -1.2 0M414.8 137.4a0.6 0.6 0 1 0 1.1 0a0.6 0.6 0 1 0 -1.1 0M421.3 168.8a0.6 0.6 0 1 0 1.2 0a0.6 0.6 0 1 0 -1.2 0M346.0 162.4a0.6 0.6 0 1 0 1.3 0a0.6 0.6 0 1 0 -1.3 0M348.8 130.6a0.4 0.4 0 1 0 0.9 0a0.4 0.4 0 1 0 -0.9 0M386.5 167.0a0.4 0.4 0 1 0 0.7 0a0.4 0.4 0 1 0 -0.7 0M408.8 134.7a0.4 0.4 0 1 0 0.7 0a0.4 0.4 0 1 0 -0.7 0M382.4 168.4a0.5 0.5 0 1 0 0.9 0a0.5 0.5 0 1 0 -0.9 0M379.1 119.4a0.5 0.5 0 1 0 1.1 0a0.5 0.5 0 1 0 -1.1 0M347.2 175.5a0.6 0.6 0 1 0 1.2 0a0.6 0.6 0 1 0 -1.2 0M399.0 136.5a0.4 0.4 0 1 0 0.7 0a0.4 0.4 0 1 0 -0.7 0M429.6 173.7a0.5 0.5 0 1 0 1.0 0a0.5 0.5 0 1 0 -1.0 0M399.9 128.5a0.3 0.3 0 1 0 0.7 0a0.3 0.3 0 1 0 -0.7 0M367.1 137.0a0.5 0.5 0 1 0 1.0 0a0.5 0.5 0 1 0 -1.0 0M401.3 129.0a0.6 0.6 0 1 0 1.2 0a0.6 0.6 0 1 0 -1.2 0M378.1 151.3a0.4 0.4 0 1 0 0.8 0a0.4 0.4 0 1 0 -0.8 0M377.7 129.0a0.5 0.5 0 1 0 1.1 0a0.5 0.5 0 1 0 -1.1 0M350.4 157.2a0.5 0.5 0 1 0 1.0 0a0.5 0.5 0 1 0 -1.0 0M408.3 157.5a0.5 0.5 0 1 0 1.1 0a0.5 0.5 0 1 0 -1.1 0M345.7 163.4a0.4 0.4 0 1 0 0.7 0a0.4 0.4 0 1 0 -0.7 0M419.5 142.4a0.5 0.5 0 1 0 1.0 0a0.5 0.5 0 1 0 -1.0 0M346.2 140.7a0.3 0.3 0 1 0 0.6 0a0.3 0.3 0 1 0 -0.6 0M414.1 128.8a0.4 0.4 0 1 0 0.9 0a0.4 0.4 0 1 0 -0.9 0M376.4 144.6a0.3 0.3 0 1 0 0.6 0a0.3 0.3 0 1 0 -0.6 0M376.1 147.4a0.6 0.6 0 1 0 1.3 0a0.6 0.6 0 1 0 -1.3 0M388.7 130.6a0.4 0.4 0 1 0 0.8 0a0.4 0.4 0 1 0 -0.8 0M361.8 149.4a0.4 0.4 0 1 0 0.8 0a0.4 0.4 0 1 0 -0.8 0M363.6 123.5a0.6 0.6 0 1 0 1.2 0a0.6 0.6 0 1 0 -1.2 0M408.4 140.0a0.5 0.5 0 1 0 0.9 0a0.5 0.5 0 1 0 -0.9 0M425.5 133.8a0.5 0.5 0 1 0 1.0 0a0.5 0.5 0 1 0 -1.0 0M357.8 147.8a0.6 0.6 0 1 0 1.2 0a0.6 0.6 0 1 0 -1.2 0M369.7 163.9a0.5 0.5 0 1 0 1.0 0a0.5 0.5 0 1 0 -1.0 0M431.9 114.1a0.4 0.4 0 1 0 0.9 0a0.4 0.4 0 1 0 -0.9 0M405.9 141.5a0.6 0.6 0 1 0 1.1 0a0.6 0.6 0 1 0 -1.1 0M426.3 118.7a0.4 0.4 0 1 0 0.8 0a0.4 0.4 0 1 0 -0.8 0M379.6 135.7a0.4 0.4 0 1 0 0.7 0a0.4 0.4 0 1 0 -0.7 0M413.1 161.3a0.6 0.6 0 1 0 1.1 0a0.6 0.6 0 1 0 -1.1 0M408.0 154.6a0.5 0.5 0 1 0 0.9 0a0.5 0.5 0 1 0 -0.9 0M410.9 160.0a0.6 0.6 0 1 0 1.3 0a0.6 0.6 0 1 0 -1.3 0M387.4 166.5a0.5 0.5 0 1 0 1.0 0a0.5 0.5 0 1 0 -1.0 0M371.2 134.8a0.6 0.6 0 1 0 1.2 0a0.6 0.6 0 1 0 -1.2 0M377.8 137.0a0.3 0.3 0 1 0 0.6 0a0.3 0.3 0 1 0 -0.6 0M358.3 124.6a0.3 0.3 0 1 0 0.6 0a0.3 0.3 0 1 0 -0.6 0M352.5 134.0a0.4 0.4 0 1 0 0.8 0a0.4 0.4 0 1 0 -0.8 0M378.9 153.4a0.6 0.6 0 1 0 1.2 0a0.6 0.6 0 1 0 -1.2 0M420.9 156.9a0.5 0.5 0 1 0 0.9 0a0.5 0.5 0 1 0 -0.9 0M374.6 159.6a0.5 0.5 0 1 0 1.0 0a0.5 0.5 0 1 0 -1.0 0M394.9 148.0a0.4 0.4 0 1 0 0.9 0a0.4 0.4 0 1 0 -0.9 0M418.1 115.4a0.4 0.4 0 1 0 0.8 0a0.4 0.4 0 1 0 -0.8 0M354.8 155.2a0.4 0.4 0 1 0 0.8 0a0.4 0.4 0 1 0 -0.8 0M378.2 168.8a0.4 0.4 0 1 0 0.8 0a0.4 0.4 0 1 0 -0.8 0M378.2 170.5a0.3 0.3 0 1 0 0.6 0a0.3 0.3 0 1 0 -0.6 0M408.1 113.5a0.5 0.5 0 1 0 1.1 0a0.5 0.5 0 1 0 -1.1 0M425.2 137.3a0.4 0.4 0 1 0 0.8 0a0.4 0.4 0 1 0 -0.8 0M346.0 144.9a0.6 0.6 0 1 0 1.2 0a0.6 0.6 0 1 0 -1.2 0M393.4 153.8a0.5 0.5 0 1 0 1.0 0a0.5 0.5 0 1 0 -1.0 0M345.9 165.3a0.4 0.4 0 1 0 0.7 0a0.4 0.4 0 1 0 -0.7 0M372.1 113.8a0.4 0.4 0 1 0 0.8 0a0.4 0.4 0 1 0 -0.8 0M380.8 172.3a0.4 0.4 0 1 0 0.7 0a0.4 0.4 0 1 0 -0.7 0M370.2 141.2a0.6 0.6 0 1 0 1.1 0a0.6 0.6 0 1 0 -1.1 0M381.9 176.7a0.4 0.4 0 1 0 0.8 0a0.4 0.4 0 1 0 -0.8 0M377.3 164.9a0.5 0.5 0 1 0 1.0 0a0.5 0.5 0 1 0 -1.0 0M389.5 138.6a0.5 0.5 0 1 0 0.9 0a0.5 0.5 0 1 0 -0.9 0M367.6 175.7a0.4 0.4 0 1 0 0.9 0a0.4 0.4 0 1 0 -0.9 0M379.7 143.1a0.6 0.6 0 1 0 1.2 0a0.6 0.6 0 1 0 -1.2 0M364.8 119.3a0.5 0.5 0 1 0 1.0 0a0.5 0.5 0 1 0 -1.0 0M382.6 125.4a0.4 0.4 0 1 0 0.8 0a0.4 0.4 0 1 0 -0.8 0M408.0 147.9a0.4 0.4 0 1 0 0.7 0a0.4 0.4 0 1 0 -0.7 0M348.3 162.8a0.4 0.4 0 1 0 0.8 0a0.4 0.4 0 1 0 -0.8 0M358.7 174.8a0.4 0.4 0 1 0 0.7 0a0.4 0.4 0 1 0 -0.7 0M415.2 129.2a0.5 0.5 0 1 0 1.1 0a0.5 0.5 0 1 0 -1.1 0M370.7 177.5a0.6 0.6 0 1 0 1.1 0a0.6 0.6 0 1 0 -1.1 0M351.8 155.5a0.5 0.5 0 1 0 1.0 0a0.5 0.5 0 1 0 -1.0 0M414.9 161.2a0.5 0.5 0 1 0 1.1 0a0.5 0.5 0 1 0 -1.1 0M395.2 137.9a0.6 0.6 0 1 0 1.1 0a0.6 0.6 0 1 0 -1.1 0M368.6 147.6a0.5 0.5 0 1 0 1.0 0a0.5 0.5 0 1 0 -1.0 0M379.1 135.6a0.4 0.4 0 1 0 0.7 0a0.4 0.4 0 1 0 -0.7 0M421.5 145.8a0.5 0.5 0 1 0 1.0 0a0.5 0.5 0 1 0 -1.0 0M407.9 168.4a0.3 0.3 0 1 0 0.6 0a0.3 0.3 0 1 0 -0.6 0M370.0 163.4a0.5 0.5 0 1 0 0.9 0a0.5 0.5 0 1 0 -0.9 0M366.5 167.3a0.4 0.4 0 1 0 0.7 0a0.4 0.4 0 1 0 -0.7 0M395.2 139.7a0.5 0.5 0 1 0 1.1 0a0.5 0.5 0 1 0 -1.1 0M356.1 131.9a0.5 0.5 0 1 0 1.1 0a0.5 0.5 0 1 0 -1.1 0M365.7 151.7a0.4 0.4 0 1 0 0.8 0a0.4 0.4 0 1 0 -0.8 0M416.4 175.8a0.5 0.5 0 1 0 1.0 0a0.5 0.5 0 1 0 -1.0 0M409.3 159.3a0.5 0.5 0 1 0 1.1 0a0.5 0.5 0 1 0 -1.1 0M347.8 127.6a0.5 0.5 0 1 0 1.0 0a0.5 0.5 0 1 0 -1.0 0M385.0 165.1a0.4 0.4 0 1 0 0.8 0a0.4 0.4 0 1 0 -0.8 0M380.7 171.4a0.3 0.3 0 1 0 0.7 0a0.3 0.3 0 1 0 -0.7 0M410.4 161.4a0.6 0.6 0 1 0 1.2 0a0.6 0.6 0 1 0 -1.2 0M383.1 160.6a0.3 0.3 0 1 0 0.7 0a0.3 0.3 0 1 0 -0.7 0M365.6 157.4a0.4 0.4 0 1 0 0.7 0a0.4 0.4 0 1 0 -0.7 0M419.5 149.9a0.6 0.6 0 1 0 1.1 0a0.6 0.6 0 1 0 -1.1 0M362.7 138.4a0.3 0.3 0 1 0 0.6 0a0.3 0.3 0 1 0 -0.6 0M402.6 160.1a0.4 0.4 0 1 0 0.7 0a0.4 0.4 0 1 0 -0.7 0M370.4 140.2a0.4 0.4 0 1 0 0.9 0a0.4 0.4 0 1 0 -0.9 0M400.1 123.9a0.4 0.4 0 1 0 0.7 0a0.4 0.4 0 1 0 -0.7 0M360.9 172.0a0.3 0.3 0 1 0 0.6 0a0.3 0.3 0 1 0 -0.6 0M422.5 173.4a0.6 0.6 0 1 0 1.1 0a0.6 0.6 0 1 0 -1.1 0M378.2 120.4a0.4 0.4 0 1 0 0.7 0a0.4 0.4 0 1 0 -0.7 0M405.3 165.9a0.6 0.6 0 1 0 1.2 0a0.6 0.6 0 1 0 -1.2 0M411.7 153.6a0.3 0.3 0 1 0 0.6 0a0.3 0.3 0 1 0 -0.6 0M386.8 134.2a0.4 0.4 0 1 0 0.8 0a0.4 0.4 0 1 0 -0.8 0M392.9 134.1a0.5 0.5 0 1 0 1.0 0a0.5 0.5 0 1 0 -1.0 0M356.1 121.8a0.3 0.3 0 1 0 0.7 0a0.3 0.3 0 1 0 -0.7 0M393.1 141.9a0.5 0.5 0 1 0 0.9 0a0.5 0.5 0 1 0 -0.9 0M392.3 126.2a0.5 0.5 0 1 0 0.9 0a0.5 0.5 0 1 0 -0.9 0M424.3 157.1a0.5 0.5 0 1 0 1.0 0a0.5 0.5 0 1 0 -1.0 0M376.3 175.3a0.6 0.6 0 1 0 1.2 0a0.6 0.6 0 1 0 -1.2 0M359.0 131.9a0.4 0.4 0 1 0 0.9 0a0.4 0.4 0 1 0 -0.9 0M381.1 129.3a0.6 0.6 0 1 0 1.2 0a0.6 0.6 0 1 0 -1.2 0M414.7 146.9a0.4 0.4 0 1 0 0.8 0a0.4 0.4 0 1 0 -0.8 0M346.5 119.7a0.5 0.5 0 1 0 1.1 0a0.5 0.5 0 1 0 -1.1 0M348.7 121.5a0.4 0.4 0 1 0 0.9 0a0.4 0.4 0 1 0 -0.9 0M394.3 167.5a0.6 0.6 0 1 0 1.1 0a0.6 0.6 0 1 0 -1.1 0M408.7 145.7a0.5 0.5 0 1 0 1.0 0a0.5 0.5 0 1 0 -1.0 0M386.4 164.7a0.6 0.6 0 1 0 1.2 0a0.6 0.6 0 1 0 -1.2 0M362.8 167.8a0.4 0.4 0 1 0 0.7 0a0.4 0.4 0 1 0 -0.7 0M404.3 132.2a0.4 0.4 0 1 0 0.8 0a0.4 0.4 0 1 0 -0.8 0M366.7 123.7a0.5 0.5 0 1 0 1.0 0a0.5 0.5 0 1 0 -1.0 0M385.2 116.1a0.5 0.5 0 1 0 1.0 0a0.5 0.5 0 1 0 -1.0 0M364.0 161.2a0.4 0.4 0 1 0 0.9 0a0.4 0.4 0 1 0 -0.9 0M425.3 148.1a0.6 0.6 0 1 0 1.2 0a0.6 0.6 0 1 0 -1.2 0M380.2 169.1a0.4 0.4 0 1 0 0.9 0a0.4 0.4 0 1 0 -0.9 0M406.5 155.9a0.6 0.6 0 1 0 1.3 0a0.6 0.6 0 1 0 -1.3 0M361.4 123.4a0.6 0.6 0 1 0 1.3 0a0.6 0.6 0 1 0 -1.3 0M399.3 144.5a0.3 0.3 0 1 0 0.6 0a0.3 0.3 0 1 0 -0.6 0M371.5 139.2a0.5 0.5 0 1 0 1.0 0a0.5 0.5 0 1 0 -1.0 0M355.9 120.0a0.6 0.6 0 1 0 1.2 0a0.6 0.6 0 1 0 -1.2 0M373.5 121.5a0.3 0.3 0 1 0 0.6 0a0.3 0.3 0 1 0 -0.6 0M351.1 159.3a0.6 0.6 0 1 0 1.1 0a0.6 0.6 0 1 0 -1.1 0M398.5 156.3a0.5 0.5 0 1 0 1.0 0a0.5 0.5 0 1 0 -1.0 0M394.4 140.2a0.5 0.5 0 1 0 1.0 0a0.5 0.5 0 1 0 -1.0 0M420.7 120.4a0.4 0.4 0 1 0 0.8 0a0.4 0.4 0 1 0 -0.8 0M347.8 129.2a0.6 0.6 0 1 0 1.1 0a0.6 0.6 0 1 0 -1.1 0M381.6 141.4a0.4 0.4 0 1 0 0.8 0a0.4 0.4 0 1 0 -0.8 0M432.3 161.5a0.4 0.4 0 1 0 0.7 0a0.4 0.4 0 1 0 -0.7 0M376.1 139.8a0.4 0.4 0 1 0 0.8 0a0.4 0.4 0 1 0 -0.8 0M350.5 162.6a0.6 0.6 0 1 0 1.3 0a0.6 0.6 0 1 0 -1.3 0M415.9 136.4a0.4 0.4 0 1 0 0.9 0a0.4 0.4 0 1 0 -0.9 0M353.8 152.4a0.4 0.4 0 1 0 0.7 0a0.4 0.4 0 1 0 -0.7 0M408.4 162.1a0.4 0.4 0 1 0 0.9 0a0.4 0.4 0 1 0 -0.9 0M391.7 140.1a0.6 0.6 0 1 0 1.1 0a0.6 0.6 0 1 0 -1.1 0M422.6 143.4a0.5 0.5 0 1 0 1.0 0a0.5 0.5 0 1 0 -1.0 0M390.6 115.6a0.6 0.6 0 1 0 1.1 0a0.6 0.6 0 1 0 -1.1 0M405.2 119.5a0.6 0.6 0 1 0 1.2 0a0.6 0.6 0 1 0 -1.2 0M368.2 157.6a0.4 0.4 0 1 0 0.8 0a0.4 0.4 0 1 0 -0.8 0M432.1 118.5a0.4 0.4 0 1 0 0.8 0a0.4 0.4 0 1 0 -0.8 0M363.8 124.6a0.6 0.6 0 1 0 1.2 0a0.6 0.6 0 1 0 -1.2 0M419.2 144.5a0.4 0.4 0 1 0 0.9 0a0.4 0.4 0 1 0 -0.9 0M405.5 174.2a0.5 0.5 0 1 0 1.0 0a0.5 0.5 0 1 0 -1.0 0M378.3 163.9a0.6 0.6 0 1 0 1.2 0a0.6 0.6 0 1 0 -1.2 0M353.0 136.2a0.5 0.5 0 1 0 1.0 0a0.5 0.5 0 1 0 -1.0 0M415.2 123.9a0.6 0.6 0 1 0 1.2 0a0.6 0.6 0 1 0 -1.2 0M365.7 139.3a0.3 0.3 0 1 0 0.6 0a0.3 0.3 0 1 0 -0.6 0M422.3 116.2a0.5 0.5 0 1 0 1.0 0a0.5 0.5 0 1 0 -1.0 0M423.7 131.1a0.5 0.5 0 1 0 1.0 0a0.5 0.5 0 1 0 -1.0 0M364.1 159.4a0.4 0.4 0 1 0 0.9 0a0.4 0.4 0 1 0 -0.9 0M371.2 153.5a0.4 0.4 0 1 0 0.8 0a0.4 0.4 0 1 0 -0.8 0M408.1 174.3a0.4 0.4 0 1 0 0.9 0a0.4 0.4 0 1 0 -0.9 0M412.7 133.0a0.6 0.6 0 1 0 1.2 0a0.6 0.6 0 1 0 -1.2 0M349.8 140.0a0.5 0.5 0 1 0 0.9 0a0.5 0.5 0 1 0 -0.9 0M418.3 161.2a0.4 0.4 0 1 0 0.8 0a0.4 0.4 0 1 0 -0.8 0M417.3 128.9a0.5 0.5 0 1 0 1.1 0a0.5 0.5 0 1 0 -1.1 0M400.2 128.1a0.6 0.6 0 1 0 1.2 0a0.6 0.6 0 1 0 -1.2 0M424.0 177.6a0.4 0.4 0 1 0 0.9 0a0.4 0.4 0 1 0 -0.9 0M431.5 135.3a0.3 0.3 0 1 0 0.7 0a0.3 0.3 0 1 0 -0.7 0M363.5 170.7a0.6 0.6 0 1 0 1.1 0a0.6 0.6 0 1 0 -1.1 0M428.5 139.0a0.5 0.5 0 1 0 1.1 0a0.5 0.5 0 1 0 -1.1 0M421.3 172.3a0.5 0.5 0 1 0 1.1 0a0.5 0.5 0 1 0 -1.1 0M397.4 167.5a0.3 0.3 0 1 0 0.6 0a0.3 0.3 0 1 0 -0.6 0M355.4 131.6a0.3 0.3 0 1 0 0.7 0a0.3 0.3 0 1 0 -0.7 0M430.0 115.4a0.6 0.6 0 1 0 1.3 0a0.6 0.6 0 1 0 -1.3 0M410.9 156.5a0.5 0.5 0 1 0 1.0 0a0.5 0.5 0 1 0 -1.0 0M378.2 134.8a0.4 0.4 0 1 0 0.8 0a0.4 0.4 0 1 0 -0.8 0M374.1 134.1a0.3 0.3 0 1 0 0.6 0a0.3 0.3 0 1 0 -0.6 0M429.2 159.9a0.5 0.5 0 1 0 0.9 0a0.5 0.5 0 1 0 -0.9 0M365.9 139.6a0.4 0.4 0 1 0 0.8 0a0.4 0.4 0 1 0 -0.8 0M417.8 130.5a0.4 0.4 0 1 0 0.7 0a0.4 0.4 0 1 0 -0.7 0M384.5 169.7a0.5 0.5 0 1 0 1.0 0a0.5 0.5 0 1 0 -1.0 0M406.9 165.3a0.4 0.4 0 1 0 0.7 0a0.4 0.4 0 1 0 -0.7 0M417.7 166.1a0.6 0.6 0 1 0 1.3 0a0.6 0.6 0 1 0 -1.3 0M354.4 133.9a0.4 0.4 0 1 0 0.8 0a0.4 0.4 0 1 0 -0.8 0M368.3 177.5a0.6 0.6 0 1 0 1.2 0a0.6 0.6 0 1 0 -1.2 0M355.6 146.2a0.4 0.4 0 1 0 0.8 0a0.4 0.4 0 1 0 -0.8 0M381.0 133.1a0.4 0.4 0 1 0 0.8 0a0.4 0.4 0 1 0 -0.8 0M357.9 121.3a0.6 0.6 0 1 0 1.1 0a0.6 0.6 0 1 0 -1.1 0M426.1 166.3a0.5 0.5 0 1 0 1.0 0a0.5 0.5 0 1 0 -1.0 0M415.0 159.2a0.3 0.3 0 1 0 0.7 0a0.3 0.3 0 1 0 -0.7 0M396.6 174.8a0.6 0.6 0 1 0 1.2 0a0.6 0.6 0 1 0 -1.2 0M362.3 118.3a0.5 0.5 0 1 0 1.0 0a0.5 0.5 0 1 0 -1.0 0M364.0 115.7a0.5 0.5 0 1 0 1.0 0a0.5 0.5 0 1 0 -1.0 0M397.7 171.6a0.4 0.4 0 1 0 0.9 0a0.4 0.4 0 1 0 -0.9 0M425.3 128.9a0.6 0.6 0 1 0 1.2 0a0.6 0.6 0 1 0 -1.2 0M427.6 134.2a0.5 0.5 0 1 0 1.0 0a0.5 0.5 0 1 0 -1.0 0M427.4 120.5a0.3 0.3 0 1 0 0.7 0a0.3 0.3 0 1 0 -0.7 0M373.8 145.6a0.6 0.6 0 1 0 1.2 0a0.6 0.6 0 1 0 -1.2 0M406.9 125.9a0.5 0.5 0 1 0 1.0 0a0.5 0.5 0 1 0 -1.0 0M391.3 116.0a0.4 0.4 0 1 0 0.8 0a0.4 0.4 0 1 0 -0.8 0M394.6 175.9a0.3 0.3 0 1 0 0.6 0a0.3 0.3 0 1 0 -0.6 0M405.3 121.3a0.3 0.3 0 1 0 0.6 0a0.3 0.3 0 1 0 -0.6 0M371.6 136.6a0.3 0.3 0 1 0 0.7 0a0.3 0.3 0 1 0 -0.7 0M369.2 125.4a0.4 0.4 0 1 0 0.8 0a0.4 0.4 0 1 0 -0.8 0M381.8 167.2a0.5 0.5 0 1 0 1.0 0a0.5 0.5 0 1 0 -1.0 0M366.1 164.3a0.4 0.4 0 1 0 0.8 0a0.4 0.4 0 1 0 -0.8 0M421.1 173.6a0.6 0.6 0 1 0 1.2 0a0.6 0.6 0 1 0 -1.2 0M377.7 143.8a0.5 0.5 0 1 0 1.0 0a0.5 0.5 0 1 0 -1.0 0M348.9 164.7a0.4 0.4 0 1 0 0.9 0a0.4 0.4 0 1 0 -0.9 0M401.3 166.4a0.5 0.5 0 1 0 0.9 0a0.5 0.5 0 1 0 -0.9 0M432.4 168.2a0.4 0.4 0 1 0 0.8 0a0.4 0.4 0 1 0 -0.8 0M393.8 122.5a0.5 0.5 0 1 0 1.0 0a0.5 0.5 0 1 0 -1.0 0M370.5 144.9a0.4 0.4 0 1 0 0.8 0a0.4 0.4 0 1 0 -0.8 0M425.0 155.9a0.4 0.4 0 1 0 0.8 0a0.4 0.4 0 1 0 -0.8 0M400.9 132.5a0.5 0.5 0 1 0 1.0 0a0.5 0.5 0 1 0 -1.0 0M400.0 164.6a0.5 0.5 0 1 0 1.0 0a0.5 0.5 0 1 0 -1.0 0M386.1 154.6a0.4 0.4 0 1 0 0.8 0a0.4 0.4 0 1 0 -0.8 0M413.3 165.8a0.6 0.6 0 1 0 1.1 0a0.6 0.6 0 1 0 -1.1 0" fill="#6a4a46" fill-opacity="0.55"/>
<path d="M359.4 131.6a0.8 0.8 0 1 0 1.6 0a0.8 0.8 0 1 0 -1.6 0M374.4 141.4a0.7 0.7 0 1 0 1.5 0a0.7 0.7 0 1 0 -1.5 0M357.9 126.8a0.6 0.6 0 1 0 1.3 0a0.6 0.6 0 1 0 -1.3 0M384.5 140.7a0.4 0.4 0 1 0 0.7 0a0.4 0.4 0 1 0 -0.7 0M383.8 130.1a0.5 0.5 0 1 0 0.9 0a0.5 0.5 0 1 0 -0.9 0M368.7 137.1a0.6 0.6 0 1 0 1.2 0a0.6 0.6 0 1 0 -1.2 0M375.9 135.1a0.8 0.8 0 1 0 1.5 0a0.8 0.8 0 1 0 -1.5 0M370.2 141.7a0.8 0.8 0 1 0 1.7 0a0.8 0.8 0 1 0 -1.7 0M365.7 132.6a0.9 0.9 0 1 0 1.8 0a0.9 0.9 0 1 0 -1.8 0M366.0 132.8a0.6 0.6 0 1 0 1.1 0a0.6 0.6 0 1 0 -1.1 0M372.2 134.6a0.9 0.9 0 1 0 1.8 0a0.9 0.9 0 1 0 -1.8 0M365.9 144.0a0.6 0.6 0 1 0 1.1 0a0.6 0.6 0 1 0 -1.1 0M374.6 133.8a0.4 0.4 0 1 0 0.9 0a0.4 0.4 0 1 0 -0.9 0M385.3 132.6a0.9 0.9 0 1 0 1.7 0a0.9 0.9 0 1 0 -1.7 0M371.2 135.3a0.4 0.4 0 1 0 0.8 0a0.4 0.4 0 1 0 -0.8 0M364.3 133.6a0.6 0.6 0 1 0 1.2 0a0.6 0.6 0 1 0 -1.2 0M371.8 127.5a0.8 0.8 0 1 0 1.6 0a0.8 0.8 0 1 0 -1.6 0M366.4 137.2a0.7 0.7 0 1 0 1.4 0a0.7 0.7 0 1 0 -1.4 0M373.9 137.5a0.8 0.8 0 1 0 1.6 0a0.8 0.8 0 1 0 -1.6 0M397.9 139.6a0.6 0.6 0 1 0 1.3 0a0.6 0.6 0 1 0 -1.3 0M369.3 135.1a0.6 0.6 0 1 0 1.2 0a0.6 0.6 0 1 0 -1.2 0M371.0 138.3a0.5 0.5 0 1 0 1.1 0a0.5 0.5 0 1 0 -1.1 0M367.5 144.4a0.7 0.7 0 1 0 1.4 0a0.7 0.7 0 1 0 -1.4 0M358.2 139.4a0.7 0.7 0 1 0 1.3 0a0.7 0.7 0 1 0 -1.3 0M376.7 129.2a0.6 0.6 0 1 0 1.3 0a0.6 0.6 0 1 0 -1.3 0M378.1 139.0a0.7 0.7 0 1 0 1.4 0a0.7 0.7 0 1 0 -1.4 0M363.6 149.0a0.6 0.6 0 1 0 1.3 0a0.6 0.6 0 1 0 -1.3 0M379.0 133.9a0.7 0.7 0 1 0 1.5 0a0.7 0.7 0 1 0 -1.5 0M365.5 131.5a0.6 0.6 0 1 0 1.2 0a0.6 0.6 0 1 0 -1.2 0M373.8 136.1a0.8 0.8 0 1 0 1.6 0a0.8 0.8 0 1 0 -1.6 0M355.0 129.8a0.5 0.5 0 1 0 0.9 0a0.5 0.5 0 1 0 -0.9 0M362.9 133.5a0.5 0.5 0 1 0 1.1 0a0.5 0.5 0 1 0 -1.1 0M366.9 132.0a0.5 0.5 0 1 0 1.0 0a0.5 0.5 0 1 0 -1.0 0M378.0 141.2a0.8 0.8 0 1 0 1.7 0a0.8 0.8 0 1 0 -1.7 0M371.7 123.2a0.7 0.7 0 1 0 1.3 0a0.7 0.7 0 1 0 -1.3 0M368.9 139.0a0.9 0.9 0 1 0 1.7 0a0.9 0.9 0 1 0 -1.7 0M370.0 137.3a0.7 0.7 0 1 0 1.3 0a0.7 0.7 0 1 0 -1.3 0M371.9 127.3a0.9 0.9 0 1 0 1.7 0a0.9 0.9 0 1 0 -1.7 0M364.8 138.1a0.8 0.8 0 1 0 1.5 0a0.8 0.8 0 1 0 -1.5 0M367.2 134.8a0.8 0.8 0 1 0 1.7 0a0.8 0.8 0 1 0 -1.7 0M386.6 128.9a0.5 0.5 0 1 0 1.0 0a0.5 0.5 0 1 0 -1.0 0M370.5 129.5a0.9 0.9 0 1 0 1.8 0a0.9 0.9 0 1 0 -1.8 0M371.8 138.5a0.5 0.5 0 1 0 1.0 0a0.5 0.5 0 1 0 -1.0 0M378.2 136.6a0.8 0.8 0 1 0 1.5 0a0.8 0.8 0 1 0 -1.5 0M355.1 137.2a0.7 0.7 0 1 0 1.4 0a0.7 0.7 0 1 0 -1.4 0M381.2 141.4a0.5 0.5 0 1 0 1.1 0a0.5 0.5 0 1 0 -1.1 0M395.5 139.0a0.4 0.4 0 1 0 0.8 0a0.4 0.4 0 1 0 -0.8 0M359.6 132.8a0.4 0.4 0 1 0 0.7 0a0.4 0.4 0 1 0 -0.7 0M372.2 141.7a0.4 0.4 0 1 0 0.7 0a0.4 0.4 0 1 0 -0.7 0M357.9 141.0a0.7 0.7 0 1 0 1.3 0a0.7 0.7 0 1 0 -1.3 0M378.3 130.8a0.7 0.7 0 1 0 1.3 0a0.7 0.7 0 1 0 -1.3 0M378.1 131.4a0.4 0.4 0 1 0 0.8 0a0.4 0.4 0 1 0 -0.8 0M371.1 134.0a0.4 0.4 0 1 0 0.7 0a0.4 0.4 0 1 0 -0.7 0M373.9 129.0a0.4 0.4 0 1 0 0.7 0a0.4 0.4 0 1 0 -0.7 0M376.9 123.4a0.7 0.7 0 1 0 1.3 0a0.7 0.7 0 1 0 -1.3 0M366.1 132.5a0.8 0.8 0 1 0 1.5 0a0.8 0.8 0 1 0 -1.5 0M388.6 138.8a0.8 0.8 0 1 0 1.7 0a0.8 0.8 0 1 0 -1.7 0M365.4 130.7a0.6 0.6 0 1 0 1.2 0a0.6 0.6 0 1 0 -1.2 0M371.2 132.2a0.8 0.8 0 1 0 1.5 0a0.8 0.8 0 1 0 -1.5 0M396.5 120.0a0.5 0.5 0 1 0 1.0 0a0.5 0.5 0 1 0 -1.0 0M371.9 121.8a0.4 0.4 0 1 0 0.8 0a0.4 0.4 0 1 0 -0.8 0M382.7 131.2a0.7 0.7 0 1 0 1.3 0a0.7 0.7 0 1 0 -1.3 0M389.3 132.7a0.5 0.5 0 1 0 1.1 0a0.5 0.5 0 1 0 -1.1 0M383.3 136.9a0.6 0.6 0 1 0 1.1 0a0.6 0.6 0 1 0 -1.1 0M384.6 135.9a0.4 0.4 0 1 0 0.8 0a0.4 0.4 0 1 0 -0.8 0M353.1 141.2a0.7 0.7 0 1 0 1.5 0a0.7 0.7 0 1 0 -1.5 0M376.8 135.8a0.8 0.8 0 1 0 1.7 0a0.8 0.8 0 1 0 -1.7 0M376.0 136.9a0.8 0.8 0 1 0 1.5 0a0.8 0.8 0 1 0 -1.5 0" fill="#7a4a34" fill-opacity="0.6"/>
<path d="M395.6 148.5a0.7 0.7 0 1 0 1.4 0a0.7 0.7 0 1 0 -1.4 0M402.5 143.8a0.4 0.4 0 1 0 0.8 0a0.4 0.4 0 1 0 -0.8 0M392.2 151.2a0.8 0.8 0 1 0 1.6 0a0.8 0.8 0 1 0 -1.6 0M389.7 154.9a0.7 0.7 0 1 0 1.3 0a0.7 0.7 0 1 0 -1.3 0M383.5 144.0a0.5 0.5 0 1 0 1.0 0a0.5 0.5 0 1 0 -1.0 0M390.9 153.9a0.5 0.5 0 1 0 1.1 0a0.5 0.5 0 1 0 -1.1 0M391.5 147.1a0.4 0.4 0 1 0 0.9 0a0.4 0.4 0 1 0 -0.9 0M401.9 151.0a0.6 0.6 0 1 0 1.2 0a0.6 0.6 0 1 0 -1.2 0M389.0 150.5a0.8 0.8 0 1 0 1.5 0a0.8 0.8 0 1 0 -1.5 0M392.0 152.8a0.6 0.6 0 1 0 1.1 0a0.6 0.6 0 1 0 -1.1 0M395.7 146.1a0.5 0.5 0 1 0 1.0 0a0.5 0.5 0 1 0 -1.0 0M389.7 147.9a0.6 0.6 0 1 0 1.1 0a0.6 0.6 0 1 0 -1.1 0M397.8 151.7a0.5 0.5 0 1 0 1.1 0a0.5 0.5 0 1 0 -1.1 0M386.3 149.0a0.5 0.5 0 1 0 1.1 0a0.5 0.5 0 1 0 -1.1 0M397.2 155.2a0.6 0.6 0 1 0 1.2 0a0.6 0.6 0 1 0 -1.2 0M396.5 159.2a0.7 0.7 0 1 0 1.3 0a0.7 0.7 0 1 0 -1.3 0M394.4 153.4a0.7 0.7 0 1 0 1.3 0a0.7 0.7 0 1 0 -1.3 0M391.3 145.2a0.4 0.4 0 1 0 0.7 0a0.4 0.4 0 1 0 -0.7 0M395.1 152.2a0.8 0.8 0 1 0 1.5 0a0.8 0.8 0 1 0 -1.5 0M397.4 150.6a0.5 0.5 0 1 0 1.0 0a0.5 0.5 0 1 0 -1.0 0M391.1 146.0a0.5 0.5 0 1 0 1.1 0a0.5 0.5 0 1 0 -1.1 0M391.4 152.2a0.6 0.6 0 1 0 1.2 0a0.6 0.6 0 1 0 -1.2 0M403.2 134.2a0.8 0.8 0 1 0 1.5 0a0.8 0.8 0 1 0 -1.5 0M400.3 155.1a0.4 0.4 0 1 0 0.7 0a0.4 0.4 0 1 0 -0.7 0M406.2 151.7a0.7 0.7 0 1 0 1.5 0a0.7 0.7 0 1 0 -1.5 0M400.6 147.8a0.7 0.7 0 1 0 1.3 0a0.7 0.7 0 1 0 -1.3 0M393.4 152.4a0.6 0.6 0 1 0 1.2 0a0.6 0.6 0 1 0 -1.2 0M383.8 146.1a0.5 0.5 0 1 0 1.1 0a0.5 0.5 0 1 0 -1.1 0M396.1 143.5a0.6 0.6 0 1 0 1.2 0a0.6 0.6 0 1 0 -1.2 0M394.7 142.8a0.7 0.7 0 1 0 1.3 0a0.7 0.7 0 1 0 -1.3 0M396.1 150.0a0.6 0.6 0 1 0 1.1 0a0.6 0.6 0 1 0 -1.1 0M388.7 145.4a0.8 0.8 0 1 0 1.5 0a0.8 0.8 0 1 0 -1.5 0M389.3 139.2a0.6 0.6 0 1 0 1.2 0a0.6 0.6 0 1 0 -1.2 0M390.5 150.5a0.6 0.6 0 1 0 1.1 0a0.6 0.6 0 1 0 -1.1 0M405.6 147.5a0.8 0.8 0 1 0 1.5 0a0.8 0.8 0 1 0 -1.5 0M392.8 156.6a0.4 0.4 0 1 0 0.7 0a0.4 0.4 0 1 0 -0.7 0M410.7 147.6a0.8 0.8 0 1 0 1.5 0a0.8 0.8 0 1 0 -1.5 0M404.3 155.5a0.6 0.6 0 1 0 1.1 0a0.6 0.6 0 1 0 -1.1 0M399.3 145.2a0.4 0.4 0 1 0 0.8 0a0.4 0.4 0 1 0 -0.8 0M385.1 152.7a0.7 0.7 0 1 0 1.3 0a0.7 0.7 0 1 0 -1.3 0M416.7 149.0a0.5 0.5 0 1 0 0.9 0a0.5 0.5 0 1 0 -0.9 0M409.3 159.0a0.6 0.6 0 1 0 1.1 0a0.6 0.6 0 1 0 -1.1 0M382.2 147.0a0.6 0.6 0 1 0 1.2 0a0.6 0.6 0 1 0 -1.2 0M408.5 154.6a0.8 0.8 0 1 0 1.6 0a0.8 0.8 0 1 0 -1.6 0M399.4 149.9a0.7 0.7 0 1 0 1.3 0a0.7 0.7 0 1 0 -1.3 0M400.3 146.9a0.6 0.6 0 1 0 1.1 0a0.6 0.6 0 1 0 -1.1 0M418.2 144.4a0.6 0.6 0 1 0 1.3 0a0.6 0.6 0 1 0 -1.3 0M376.9 150.6a0.6 0.6 0 1 0 1.3 0a0.6 0.6 0 1 0 -1.3 0M408.3 147.5a0.4 0.4 0 1 0 0.8 0a0.4 0.4 0 1 0 -0.8 0M393.8 145.0a0.5 0.5 0 1 0 1.0 0a0.5 0.5 0 1 0 -1.0 0" fill="#7a4a34" fill-opacity="0.55"/>
<ellipse cx="367" cy="136" rx="4" ry="2.5" fill="#9a6a50" fill-opacity="0.6" filter="url(#b10)" transform="rotate(30 367 136)"/>
<ellipse cx="385" cy="158.6" rx="3.5" ry="2.5" fill="#8a5a3e" fill-opacity="0.65" filter="url(#b10)"/>
<ellipse cx="386" cy="131" rx="2" ry="3" fill="#9a6a50" fill-opacity="0.5" filter="url(#b10)"/>
<path d="M413 144 L417 149 L411 149 Z" fill="#3a2020" fill-opacity="0.85"/>
</g>
<rect x="345.9" y="112.3" width="22.3" height="19.0" fill="#cfe7ea" stroke="none" stroke-width="1"/>
<text x="355.4" y="125.7" font-family="Liberation Sans, sans-serif" font-size="11" font-weight="bold" text-anchor="middle" fill="#111">ii</text>
<rect x="345.9" y="112.3" width="87.9" height="66.3" fill="none" stroke="#9a9ac4" stroke-width="0.8"/>
<clipPath id="cEiii"><rect x="258.2" y="185.2" width="87.1" height="65.0"/></clipPath>
<g clip-path="url(#cEiii)">
<rect x="258.2" y="185.2" width="87.1" height="65.0" fill="#9a7aae" stroke="none" stroke-width="1"/>
<ellipse cx="296" cy="199" rx="19" ry="14" fill="#6a4a92" fill-opacity="0.75" filter="url(#b40)"/>
<ellipse cx="337" cy="226" rx="12" ry="18" fill="#72529a" fill-opacity="0.65" filter="url(#b40)"/>
<ellipse cx="279" cy="237" rx="22" ry="16" fill="#d8b4cc" fill-opacity="0.85" filter="url(#b40)"/>
<ellipse cx="287.8" cy="217.0" rx="7" ry="7" fill="#dcc4b6" fill-opacity="0.75" filter="url(#b25)"/>
<ellipse cx="284.0" cy="238.9" rx="8" ry="8" fill="#e0c8b4" fill-opacity="0.75" filter="url(#b25)"/>
<ellipse cx="329.5" cy="243.8" rx="6" ry="5" fill="#d8bca8" fill-opacity="0.7" filter="url(#b25)"/>
<rect x="258.2" y="185.2" width="87.1" height="65.0" fill="#000" filter="url(#nzIII)"/>
<path d="M258.3 245.4h0m.1-38.3h0m0 34h0m.1 3.2h0m.1-32.8h0m.1-10.6h0m0 27.2h0m0 12.4h0m.3-37.6h0m.2 15.4h0m0 25.4h0m.1-51.1h0m0 20.1h0m.1 14.4h0m.1-23.4h0m.1 26.1h0m0 1h0m.2-24.9h0m0 31.3h0m.1-21.8h0m.1 8.2h0m0 25.8h0m.2-48.5h0m.1-14.7h0m0 54.5h0m.1-15.6h0m0 24.8h0m.1-50.8h0m0 9.6h0m0 8.6h0m.1-8.2h0m0 28.1h0m.1-44.1h0m0 10.2h0m0 29.8h0m.1-36.2h0m.1 46.1h0m.1-42.5h0m0 3.3h0m0 .7h0m.2 21.4h0m.1-12.1h0m.1-10.6h0m0 9h0m.1-7.5h0m.1-12.1h0m0 42.5h0m.2-13.4h0m0 22.6h0m0 1.3h0m.4-53.9h0m.1-2.6h0m0 5.5h0m.1 54.2h0m.2-37.2h0m0 11.2h0m.1 20.1h0m.1-48h0m0 50.9h0m.1-38.6h0m0 2.4h0m.1 30h0m.1-53.4h0m0 2.5h0m0 22.4h0m0 2.5h0m0 1h0m.1 .6h0m.1-25.3h0m0 12.8h0m0 46.2h0m.1-55.8h0m0 12h0m.1 18.7h0m.1-18.9h0m0 .2h0m0 14.8h0m0 17.4h0m.3-48.2h0m.1 7.3h0m0 .3h0m.4 2.3h0m0 17.4h0m.2-25.5h0m.1 6.3h0m0 14.2h0m0 .4h0m0 26.3h0m.1-9.2h0m0 18.3h0m.3-31.3h0m.1 .8h0m0 11h0m0 1.8h0m.1-38h0m.1 50.4h0m.1-40.9h0m.2-14.2h0m.1 39.1h0m.2-29.2h0m0 15.6h0m0 31.3h0m0 2.8h0m.1-46.9h0m.1 3.6h0m0 34h0m.1 7.1h0m.2-52.8h0m0 3.5h0m0 12.1h0m0 40.8h0m.2-49.1h0m0 9.2h0m0 21.4h0m.2 11.4h0m.2-20.1h0m.3-8.3h0m0 33.2h0m.2-24.1h0m.3-22.7h0m.1-12.8h0m.2 23.6h0m0 .8h0m.1-10.4h0m0 10.6h0m.1 5.6h0m0 33.1h0m.1-7.6h0m.3-41.1h0m.1-10.3h0m0 7.2h0m0 23.8h0m.1-26.5h0m.1 3h0m.1-11.7h0m.1 20.2h0m0 9.7h0m0 11.1h0m.1-40.1h0m0 17.8h0m0 13.4h0m0 18.5h0m.1-48.2h0m.1 2.7h0m.1 3.5h0m0 32h0m0 3.5h0m.1-43.5h0m0 46.4h0m.1 17.2h0m.4-13.9h0m.1-51h0m0 63.3h0m.1-53.2h0m.1-4.4h0m.1 22.3h0m0 4.9h0m.1-27.6h0m0 8.9h0m.1-11.5h0m.1-1.8h0m.1 19.9h0m.1-2.4h0m0 34.7h0m.1-51.6h0m0 10.9h0m0 17.7h0m.2-19.6h0m.3 10.7h0m0 3.6h0m0 27.6h0m.1-41.7h0m0 13.6h0m.1-2.8h0m.1-8.5h0m0 2.6h0m0 6.2h0m0 4h0m.1-16.2h0m0 48.9h0m.1-45.7h0m.3 3.5h0m0 4h0m0 44h0m.2-51.6h0m0 .9h0m0 19.9h0m0 6.3h0m.1-31h0m0 30.1h0m.2-28.6h0m0 9.1h0m0 9.1h0m.1-24.1h0m0 9.2h0m0 12.3h0m.1-25.2h0m0 33h0m.2-31.6h0m.1 5.1h0m0 27.8h0m0 2.2h0m0 3.7h0m.1-32.9h0m0 15.9h0m.2-9.3h0m.1 3h0m0 41.2h0m.2-19.7h0m.1 1.9h0m.1-12.8h0m.2-20.7h0m.1-7.5h0m.2 33.9h0m0 26.6h0m.1-47h0m0 30.3h0m.1-25.1h0m0 18.1h0m.2-27.6h0m0 3.8h0m.3 22.6h0m.1-32.8h0m0 33.7h0m.1-9.9h0m0 15h0m.1-22.3h0m0 3.2h0m0 4.2h0m.1-11.8h0m.1-11.1h0m0 1.3h0m0 12.1h0m.2-16h0m0 13h0m.1 15.2h0m.1-21.2h0m0 30.5h0m.1-16.4h0m.1-4.9h0m.2-10.9h0m0 9.9h0m0 1.9h0m0 4h0m.1-3.2h0m.2 2h0m0 18.1h0m.1-22.7h0m.1-2.6h0m.4-1.4h0m0 28.1h0m.1-14.9h0m0 4.8h0m.1-27h0m.1 3.7h0m0 10.2h0m.1-.2h0m0 5.8h0m.1-21.9h0m0 17.6h0m.1-9h0m0 14.6h0m0 13.9h0m.1-32.9h0m0 23.9h0m.2 33.5h0m.1-58.5h0m.1 16.5h0m0 18.9h0m0 1.1h0m.2-16.3h0m0 40.1h0m.1-47.6h0m.1-15.7h0m0 26.7h0m.1-10.1h0m.1-17.2h0m0 35.7h0m.1-35.1h0m0 1.8h0m0 6.3h0m0 5.4h0m0 8h0m.1-11.1h0m0 21h0m.1-12.7h0m0 .6h0m.1-2.1h0m.1-9.1h0m.1 .1h0m0 2.2h0m.1-10.2h0m0 8.6h0m0 53.2h0m.2-52.4h0m0 6.6h0m.1-10.3h0m0 11.8h0m0 12.9h0m.1-24.7h0m0 57.7h0m.1-45.3h0m.1 .3h0m.2-5.9h0m.1-4.9h0m0 12.9h0m0 12.9h0m.1-23h0m0 31.9h0m.2-35.1h0m0 15.8h0m.2 9.6h0m.1-23.9h0m.2 1.2h0m0 15.7h0m0 1.9h0m.1-17.7h0m.3-8.1h0m.1 13h0m0 6h0m.1-1.5h0m.1-19.2h0m.1 .5h0m0 17.6h0m.1-8.5h0m0 19.2h0m.1-23.1h0m.1 .1h0m0 4.8h0m.1 25.4h0m0 1.5h0m.1-21.1h0m.1-10.2h0m.1 5.1h0m.1-9.5h0m0 14.1h0m.1 3.3h0m.1-15.3h0m0 19.2h0m.1-16.3h0m.1-8h0m0 13.3h0m0 2.7h0m.1-15.3h0m0 3.1h0m0 3.3h0m0 7.9h0m.1 5.7h0m.1-8h0m.2 16.9h0m.2-7.3h0m.1-15.9h0m0 11.6h0m0 .5h0m.1-3.3h0m.3 15.4h0m.1-28.9h0m0 10h0m0 13.4h0m.1-3.4h0m0 2h0m.1 .4h0m.1-16.8h0m.2 10.1h0m0 1.1h0m.1-3.3h0m.1-3.5h0m.2 6.1h0m0 .4h0m0 6.9h0m.1-21.4h0m0 4.1h0m0 5.5h0m0 12.2h0m.2-12.6h0m0 2.6h0m.2 4h0m0 11.1h0m.2-16.9h0m0 .2h0m0 4h0m.2-.4h0m0 7.6h0m.2-6.2h0m0 19.5h0m.1-25.6h0m.1 15.7h0m.1-12.7h0m0 5.1h0m.1 2h0m.1-8.7h0m0 7.9h0m.1 13.3h0m.1-35.5h0m0 1.1h0m0 1.7h0m0 38.8h0m.1-37.8h0m0 57.6h0m.1-57.9h0m0 5.3h0m0 3h0m0 1.8h0m.1 10h0m0 4.7h0m.2-19.1h0m0 6.3h0m0 1.8h0m.1 13.4h0m.2-28.3h0m.2 21.6h0m.1-10.2h0m0 5h0m0 8.8h0m.1 36h0m.1-62.7h0m0 2.5h0m0 16.9h0m.1-2.9h0m0 6.6h0m.1-14.8h0m0 12.3h0m.2-16.7h0m0 5.1h0m0 7.6h0m.1 2.1h0m0 3.1h0m.1-7.9h0m.1-10.8h0m0 60.1h0m.1-50.2h0m.1-10.3h0m0 2.5h0m0 .8h0m0 7.4h0m.1-14.4h0m0 17.1h0m.1-15.4h0m0 7.2h0m0 5.7h0m.2 0h0m.1-11.5h0m0 17.3h0m0 .6h0m.1-17.2h0m.1-2.5h0m0 40.9h0m.2-27.7h0m.1-7.4h0m0 5.9h0m0 12.5h0m0 14.2h0m0 18.8h0m.3-57.6h0m0 5.1h0m0 19.3h0m0 1.1h0m.1-12.9h0m.2-11.2h0m.1 2h0m0 8.2h0m0 5.6h0m0 5.7h0m.1-13.6h0m.1-9.8h0m0 23h0m0 41.4h0m.1-64.7h0m0 25.2h0m.2 21.8h0m.1-24.5h0m0 2.3h0m0 39.5h0m.1-53.6h0m.1 10.8h0m.1-12.1h0m.1-.1h0m0 9h0m0 14.6h0m.1-30.4h0m.1 6.7h0m.2 14.6h0m0 17.7h0m.1-40.4h0m0 24.6h0m.1-.2h0m.1-22h0m0 12h0m0 36.2h0m.1-47.9h0m0 5.2h0m0 1h0m0 14.9h0m.1-4.9h0m0 10.2h0m0 19.1h0m.1-45.6h0m0 11.9h0m0 48.8h0m.1-41.8h0m.1-17.4h0m.1 4.5h0m0 1.3h0m0 .2h0m0 44.8h0m.1-34.1h0m0 .5h0m0 5.5h0m0 20.3h0m.1-36.8h0m.2-.4h0m0 1.2h0m0 .3h0m0 14.5h0m.1-9.4h0m0 3.5h0m0 3.8h0m0 1.7h0m.2 30.3h0m.1-40.1h0m0 5h0m0 16.6h0m.1-37.8h0m0 5.9h0m.1 7.2h0m.1 .2h0m0 11.2h0m.1 18.8h0m0 20.1h0m.1-48.7h0m0 42.6h0m.1-47.8h0m0 35.8h0m.1-41h0m0 13.1h0m.1-4.1h0m0 22.4h0m.1-8.3h0m0 3.2h0m0 4.5h0m0 9.1h0m.1-27.7h0m.1-4.8h0m.2-2.4h0m0 8.2h0m0 15.3h0m.1-12.8h0m0 28.4h0m.1-8.9h0m0 21.5h0m.1-36.9h0m.1-22.3h0m0 2.7h0m.1 11.2h0m0 1.8h0m.1-8.9h0m0 8.7h0m.1-3.8h0m0 5.6h0m0 1.8h0m0 40.9h0m.1-47.6h0m.1-11.3h0m0 7.6h0m0 41.2h0m.3-44.5h0m0 1.1h0m0 7.6h0m0 26.1h0m.1-40.3h0m0 5.5h0m0 28.3h0m.1-30.5h0m0 8h0m0 23.6h0m0 20.5h0m0 2.1h0m.1-49.3h0m.1 32.3h0m.1-32.5h0m0 23.4h0m.1-19.4h0m0 7.6h0m.1-10.6h0m0 47.1h0m.1-53h0m.2-.4h0m0 2.9h0m.1-1h0m0 12.1h0m0 36.9h0m.1-36.7h0m0 .5h0m0 24.5h0m.1-27.7h0m0 4.1h0m.1-7.1h0m0 7.2h0m.1-4.7h0m0 1.9h0m0 20.8h0m0 11.2h0m.1-29.8h0m.1 6.6h0m0 37.4h0m.2-45.2h0m.1 .8h0m.1 1.1h0m.1 5.2h0m.1-14.1h0m0 26.3h0m0 19.6h0m.2-28.9h0m.1-18.2h0m0 9.2h0m.1-13.5h0m0 3.1h0m0 13.6h0m0 2.5h0m.1-22.6h0m0 12.5h0m0 47.1h0m.1-62.2h0m.1 19.8h0m0 1.4h0m0 15h0m.1-28.9h0m0 5.9h0m.1 6.4h0m0 8.1h0m0 21.8h0m0 12h0m.1-43.4h0m0 5.3h0m.1-11.8h0m0 3.5h0m.1-2.7h0m0 13.9h0m.1-4.7h0m0 13.5h0m0 18.6h0m.1-47h0m0 20.3h0m.1-26h0m0 1.6h0m0 33.1h0m.1-25.3h0m0 39.4h0m0 11.8h0m.1-48.4h0m0 1.7h0m.1-7.5h0m0 9.5h0m.1-10.3h0m0 10.9h0m0 8.5h0m0 10.8h0m.1 7.7h0m.1-6.8h0m0 18.2h0m0 3.2h0m.1-48.1h0m0 24.7h0m0 12h0m.1-17.9h0m0 4.5h0m.1-32.7h0m0 39.8h0m.1-30.3h0m0 .4h0m.1 23.3h0m0 .4h0m.1-31.2h0m0 5.5h0m0 20.3h0m0 1.9h0m0 28.1h0m.2-37.9h0m0 23.1h0m.1-22.8h0m0 6.6h0m0 3h0m.1-28.7h0m0 7h0m0 .2h0m0 2.5h0m0 4.6h0m0 40.3h0m.1-28.9h0m.1-21.3h0m0 7.7h0m0 29h0m.1-40.1h0m0 5.1h0m0 51.9h0m.1-52.2h0m0 11.3h0m0 19.1h0m.1-31.4h0m0 3.8h0m0 26.6h0m.2-30.8h0m.1-3.7h0m0 55.4h0m.1-55.5h0m0 24h0m.1-17.6h0m0 25h0m.1-32.3h0m0 9.4h0m0 19.9h0m.1-9.8h0m0 5.4h0m0 8.8h0m0 4.4h0m.1-27.6h0m0 6.3h0m0 4.8h0m0 24.4h0m.1-30.7h0m0 10.1h0m0 .2h0m.1-28.4h0m0 47.5h0m.1-44.7h0m0 15.3h0m0 17.9h0m0 24.3h0m.1-53.7h0m0 7.3h0m0 34.8h0m0 5.7h0m.1-30.9h0m0 4.5h0m.1-11.3h0m0 43.9h0m.1-58.2h0m0 31.1h0m.1 28h0m.2-33.5h0m0 .4h0m0 6.5h0m.2-34.9h0m0 6.1h0m0 27.7h0m.1 3.1h0m0 11.1h0m0 1.9h0m0 9.2h0m.1-3.6h0m.1-51.6h0m0 26.3h0m.2-18.1h0m0 18.2h0m.1-25.9h0m0 7.9h0m.2-6.9h0m0 54.6h0m0 .5h0m.2-53.5h0m0 14.2h0m0 38.7h0m.1-7.6h0m.2-44.8h0m0 2h0m.1 6.8h0m0 10.9h0m.1 1.3h0m0 21.4h0m.1-44.9h0m0 16.2h0m.1 5.2h0m.1-6.3h0m0 20.2h0m.1-28.8h0m0 5h0m0 17.1h0m.1-17.5h0m0 43.9h0m.1-31.4h0m0 30.6h0m.1-49.7h0m0 1.3h0m0 41.6h0m.1-52.1h0m0 6.6h0m0 1h0m0 7h0m0 5h0m0 7.3h0m0 10.4h0m0 2.1h0m.1-20.8h0m0 24h0m.1-31.2h0m0 1.7h0m0 10.5h0m0 23.4h0m.1-35.7h0m0 .5h0m0 .8h0m0 3.3h0m0 10.8h0m0 4.7h0m0 30.9h0m.1-59.5h0m.1 22h0m0 4.3h0m.1-5h0m0 2.2h0m0 1.1h0m.1-16.8h0m0 17h0m.1-26.4h0m.1 13.3h0m0 13.1h0m.1 4.1h0m0 14.7h0m.1-7.2h0m0 1.9h0m.1 2.5h0m.1-29.2h0m0 34.8h0m.1-36h0m0 25.2h0m0 .4h0m.1-27.2h0m0 .4h0m.1-8.4h0m0 29.8h0m0 11.4h0m.1-35h0m0 .7h0m0 1.1h0m0 16.8h0m.1-9.7h0m0 4.3h0m.1-15.1h0m0 3.6h0m0 15h0m0 3.5h0m0 34h0m.1-4h0m.2-46.8h0m0 12.6h0m0 3.2h0m0 3.6h0m.1 14.5h0m0 11.3h0m.1-22.5h0m.1-36.3h0m0 25.3h0m.1-14.5h0m0 13.6h0m0 12.1h0m0 15.8h0m0 2.6h0m.1-17.6h0m0 11h0m.1-42h0m0 7.4h0m0 .2h0m0 21.9h0m.1 13.2h0m.1-41.1h0m0 9.2h0m.1 .9h0m.1-6.4h0m0 7.1h0m0 1.5h0m.1-13.9h0m0 6.6h0m.1 5.7h0m0 34.9h0m.1-47.1h0m0 12.9h0m0 12.4h0m.2 12h0m0 6.2h0m.1-35.5h0m.2 12.2h0m0 28.2h0m0 2.2h0m.1-46.3h0m0 23.7h0m0 1.4h0m0 25.8h0m.1-41.8h0m0 .8h0m0 8.1h0m0 12.3h0m.1-8h0m0 29.4h0m.1-53.3h0m.1-7.7h0m0 17h0m0 16.8h0m.1-13.2h0m0 17.7h0m.1-9.4h0m0 11.5h0m0 2.9h0m0 .5h0m0 16.9h0m.2-56.9h0m0 11.1h0m0 2.9h0m0 2.5h0m0 3.2h0m0 12.5h0m.2-3.5h0m.1-25.1h0m.1-2.3h0m0 10.2h0m0 5.6h0m0 26.8h0m.1-19.1h0m0 2.1h0m0 18.7h0m.2-30.6h0m0 1.9h0m.1-2.6h0m.1-9.8h0m0 42.5h0m.1-28.7h0m0 33.5h0m.1-46.8h0m0 8h0m0 37.2h0m.1-48.9h0m0 .9h0m0 16.1h0m0 11.7h0m0 11.9h0m.2-45.9h0m0 16.6h0m0 2.3h0m0 .6h0m0 14.3h0m.1 18h0m0 8.1h0m0 1.8h0m.1-30.8h0m.1-2.6h0m.1-28.3h0m0 4.2h0m0 35.8h0m0 10.4h0m.2-11.6h0m0 3.1h0m.1-11.8h0m.1-12.3h0m0 34.7h0m.1-44.8h0m.1 13.6h0m.1-14.1h0m0 26h0m0 7.1h0m0 10.6h0m.1-47.6h0m0 24.2h0m0 8.2h0m0 13h0m.1-34.2h0m.2-8.2h0m0 5.6h0m0 5.1h0m0 5.5h0m0 4.1h0m0 23.7h0m.1 11.3h0m.1-59.9h0m0 11.3h0m0 10.2h0m0 8h0m0 4.6h0m0 24.1h0m.1-49.4h0m0 20.2h0m0 15.7h0m.1-8.4h0m0 14.2h0m.1-20.9h0m.1-21.7h0m.1 4h0m0 16h0m0 7.8h0m.1-24.9h0m0 23.4h0m0 7.6h0m.1-12.7h0m0 20.5h0m.1-7.1h0m.2-7.5h0m.2-33.2h0m0 15.9h0m0 24.7h0m0 18.6h0m.1-27.8h0m0 1.6h0m.1-15.9h0m.1 9.9h0m.2-15.2h0m0 30.6h0m0 6.5h0m.1-50.6h0m0 4.3h0m0 14.1h0m.1-1.6h0m0 8.4h0m0 26.5h0m.1-41.2h0m0 18.8h0m0 21.7h0m.1-50.5h0m0 3.6h0m0 6.3h0m0 17.7h0m0 24.9h0m.1-44.2h0m0 3.2h0m0 20h0m.3-26h0m0 26.6h0m0 20.7h0m.1-23.6h0m.1-26h0m.1-1.3h0m0 42.6h0m.1-46.4h0m0 41.9h0m.1-.4h0m.2-4.2h0m0 7.3h0m0 8.9h0m.1-10.9h0m.1-18.2h0m.2-14.8h0m0 4.7h0m0 28.3h0m0 15.5h0m0 .6h0m.1-36.2h0m0 11.8h0m0 17h0m.1-51.1h0m0 5.1h0m0 19.2h0m0 0h0m0 14.4h0m.1-23.8h0m0 11.5h0m0 8h0m0 20.8h0m.1-12.4h0m.1 13.6h0m.1-54.9h0m0 25.5h0m.1 15.2h0m.1-37.1h0m.1 3h0m0 48.8h0m.2-3.9h0m.1-17.9h0m0 12.6h0m.2-42.2h0m0 36.4h0m.1-16.1h0m0 12.1h0m0 9.1h0m.1 8h0m0 .9h0m.1-25.6h0m0 17h0m0 3.1h0m.1-19.6h0m0 9.5h0m0 3.4h0m0 2.2h0m.1-21.6h0m.1-13.7h0m.1 10.2h0m0 37.9h0m.1-32.6h0m0 10.7h0m.1-29.6h0m0 11.1h0m0 10.2h0m0 17.5h0m.1-17h0m0 .7h0m.1-27h0m0 6.2h0m0 29.3h0m0 .2h0m.1-12.3h0m.1-8.5h0m0 31.7h0m0 3.1h0m.1-39.8h0m0 3.9h0m0 30.5h0m.1-34.6h0m.1 2.7h0m0 .3h0m.1-4.1h0m0 22.8h0m.1-27.7h0m0 22.8h0m0 5.6h0m.1-14.2h0m0 6.1h0m0 15.2h0m0 .8h0m.2 6.5h0m.1-36.4h0m0 23.7h0m0 10.4h0m0 1.4h0m.1-47h0m0 9.4h0m0 6.4h0m0 2.4h0m0 28.7h0m0 1.7h0m.1-47.4h0m.2 8.4h0m.1 8.2h0m0 27.5h0m.1-7.5h0m0 8.7h0m.1-37.1h0m.1-3.2h0m0 22.5h0m0 14.9h0m.1-23.1h0m0 12.8h0m0 19.3h0m.1-15h0m0 11.8h0m0 7.4h0m.1-1.3h0m.1-7.1h0m.1-32.3h0m0 29.6h0m.1-47.5h0m0 53.7h0m.1-22.7h0m.1 22.4h0m0 2.2h0m.1-45.8h0m0 31.9h0m0 20.8h0m.1-20h0m.1-36.2h0m0 30.5h0m0 7.8h0m0 13.8h0m.1-23.9h0m0 14.1h0m.1-43.7h0m.1 28.4h0m0 8.8h0m0 21h0m.1-61.8h0m0 5.8h0m0 17h0m0 18.3h0m.1 10.1h0m.1-47.8h0m0 30.1h0m0 4.5h0m0 3.3h0m0 3.9h0m.1-33.2h0m.1 40h0m.1-38.9h0m0 34.4h0m.1-24.2h0m.1-18h0m0 26.7h0m.1-8.1h0m.1-19.7h0m0 52.9h0m.1-46.1h0m0 .6h0m.1 30.9h0m0 6h0m0 2.9h0m.1-18.9h0m0 12.3h0m0 1.4h0m0 4.5h0m.1-53.4h0m0 42.2h0m0 9.2h0m0 9.4h0m.2-38.9h0m0 18.7h0m0 15.4h0m0 .9h0m.1-55h0m0 55h0m.1-35.3h0m.1-1.3h0m0 16.9h0m0 16.3h0m.1-15.4h0m.1-19.3h0m0 13.1h0m.1 18.4h0m.1-10.6h0m.1-31.5h0m0 12.1h0m.1-16.4h0m0 15.5h0m0 7.1h0m.1 5.9h0m0 2.5h0m0 7.4h0m0 21.2h0m.1-7h0m.1-24.4h0m0 2.4h0m0 5h0m0 23.5h0m.2-50.6h0m0 2.5h0m0 13.6h0m0 23.6h0m0 4.6h0m.1-33.4h0m0 19.8h0m0 19.1h0m.1-19.2h0m0 4h0m0 3.8h0m.1-29h0m0 18.8h0m0 12.6h0m.1 10.1h0m.1-44.7h0m0 38.9h0m0 .2h0m.1-57.1h0m0 27.6h0m0 15.4h0m.1-16.3h0m.1-10.6h0m0 14.2h0m.1-8.1h0m0 12.6h0m0 15.3h0m0 8.1h0m0 4.3h0m.1-6.4h0m.1-8.8h0m0 11.6h0m.1-12.5h0m.1-38.8h0m0 20.5h0m0 4.2h0m0 22.4h0m.1-50.6h0m0 56.5h0m.1-41.7h0m0 5h0m.1-1.6h0m0 11.8h0m.1-8.1h0m0 16.5h0m0 1.5h0m0 .3h0m.1-22.7h0m0 24.6h0m0 17.1h0m.1-64.3h0m0 19.5h0m0 22.5h0m0 3h0m.1-39.6h0m0 4.8h0m0 35.9h0m0 6.7h0m.1-27.5h0m0 8.9h0m0 18.6h0m.1-46.1h0m0 40.6h0m.1-34.5h0m0 45.1h0m.1-20.1h0m.1-8.2h0m0 7.5h0m.1-4.4h0m0 19.3h0m0 8.5h0m.1-56.3h0m0 5.1h0m0 42.2h0m.1-24.4h0m0 4.6h0m0 7.7h0m0 2.6h0m0 10.9h0m.1-38.1h0m0 29.7h0m0 1.8h0m0 3.4h0m.1 10.3h0m.1-20.6h0m.1-18.5h0m0 10.6h0m0 8.1h0m0 13.9h0m.1-21.6h0m0 19.4h0m0 10.4h0m0 .8h0m.1-59.8h0m0 30.3h0m0 5h0m0 19.3h0m.1-23h0m0 8.4h0m.1 11.4h0m0 .8h0m.1-52.5h0m0 33h0m0 7.9h0m0 5.9h0m0 12.5h0m.1-13.1h0m.2-25.1h0m.1-21.2h0m0 36.4h0m.1-7.6h0m0 7.6h0m0 3.1h0m.1-6.7h0m0 14.5h0m.1-17.3h0m0 13.3h0m0 13.3h0m.1-55.7h0m0 3.3h0m0 20.7h0m0 8.8h0m0 23h0m0 4.5h0m.1-36.2h0m.1 1h0m0 8.9h0m.1-14h0m0 3.2h0m0 5.8h0m0 18.4h0m.1-26.8h0m0 12.2h0m0 8.1h0m.1-24h0m0 7.8h0m.1 9.3h0m.1 .9h0m.1-8.5h0m0 29.9h0m.1-56.2h0m0 .6h0m0 49.4h0m.1-14.5h0m0 23.8h0m0 .5h0m.2-21.7h0m0 2.3h0m0 1.7h0m0 .2h0m.1-42.3h0m0 13.1h0m0 32.1h0m0 3.1h0m0 6h0m0 2.1h0m0 1.5h0m.1-52.1h0m0 21.3h0m0 6.8h0m.1-14.6h0m0 14.8h0m0 8.1h0m.1-33.5h0m0 12.2h0m0 1.4h0m.1-8.8h0m.1 25.5h0m0 6.7h0m.1-8.6h0m0 .8h0m.1-29.5h0m0 19.4h0m0 6.3h0m0 2.7h0m.1-19.9h0m0 1.7h0m0 23.2h0m0 1.4h0m0 11.3h0m.1-24.8h0m0 10.8h0m0 12.3h0m.1-36.7h0m0 10.2h0m0 11.7h0m.2-9.1h0m0 24.9h0m.1-46.9h0m0 2.9h0m0 20.9h0m0 18.8h0m.1-46.4h0m0 24.8h0m0 7.5h0m0 3.6h0m0 3.5h0m.1-24.1h0m0 13.7h0m0 3.9h0m0 14.3h0m.1-16.8h0m0 5.7h0m0 20.4h0m0 1.5h0m.1-19.9h0m0 3h0m.1 5.1h0m.1-43.2h0m0 14.3h0m0 3.9h0m0 18.2h0m0 1.5h0m0 5.2h0m.1-29.2h0m0 9.3h0m.3-7.4h0m0 .4h0m0 12.8h0m.1-23.9h0m.2 11.4h0m0 8.7h0m0 5.7h0m0 22.9h0m0 .1h0m.1-51.8h0m0 13.2h0m0 12.8h0m0 7.8h0m.1-24.1h0m0 26.7h0m0 4h0m0 2.8h0m.1-28.3h0m.1 10.1h0m.2-10.2h0m.1-20.6h0m0 29.7h0m0 3.7h0m0 15.1h0m.1-53.7h0m0 7.3h0m0 18h0m0 5.4h0m0 11.4h0m0 9.1h0m0 5.3h0m0 4.8h0m.2-19.4h0m.1-37.5h0m0 11h0m0 17.5h0m0 6h0m0 20.4h0m.1-43.6h0m0 31.9h0m.1-4.6h0m0 6.3h0m0 1.5h0m0 7.3h0m0 1.5h0m.1-25.4h0m0 22.5h0m.1-31.2h0m0 10.6h0m0 .6h0m0 5.6h0m.1-2h0m0 13.8h0m0 2h0m.1-17.3h0m0 4.2h0m.1-12.1h0m0 22.4h0m.1-23.7h0m0 6.4h0m.1-30.3h0m0 12.5h0m0 14.7h0m0 11.1h0m.2-2.5h0m0 10.2h0m.1-26.4h0m0 12.6h0m0 6.5h0m0 9.5h0m.1-18.9h0m0 16.7h0m.1-4.5h0m0 .7h0m0 3.6h0m0 5.4h0m.1-21.8h0m.1-6.7h0m0 2.1h0m.1-23.9h0m0 47.1h0m0 5.3h0m.1-39.1h0m.1-6.2h0m0 20.9h0m0 14.4h0m.1-1.5h0m.1-42.6h0m0 22.2h0m0 11.3h0m.1-7.9h0m.1 2h0m0 10.4h0m.2-11.8h0m.1-5.5h0m0 .2h0m0 10.2h0m0 2.8h0m0 6.7h0m0 10.4h0m.1-26.3h0m0 34.5h0m.1-49.3h0m0 4.6h0m0 8h0m0 23.6h0m0 5.5h0m.1-48.8h0m0 38.9h0m0 13.4h0m.1-58.3h0m0 4.5h0m.1-5.3h0m0 10h0m0 38h0m.1-6.8h0m0 20.4h0m.1-20.3h0m0 7.9h0m.1-17.2h0m0 23.2h0m0 1h0m0 7.2h0m.1-28.8h0m.1-28h0m0 6.8h0m0 41.6h0m.1-13.5h0m0 0h0m0 13.5h0m.1-53.7h0m0 15.1h0m0 .2h0m0 5.4h0m0 23.1h0m.1-20.4h0m0 3.6h0m0 26.2h0m.1-27.7h0m0 9.8h0m0 .4h0m0 15.2h0m0 4.5h0m.1-33.8h0m0 1.6h0m0 35.4h0m.2-12.9h0m.1 0h0m0 3.3h0m.1-12.5h0m0 21.1h0m0 .7h0m.1-37.3h0m.1 20.1h0m0 15.9h0m0 5.1h0m.1-29.4h0m0 23.5h0m.1-48.9h0m0 35.5h0m.1-21.4h0m.1 7.3h0m0 11.8h0m0 1.8h0m.1-5.3h0m0 19.8h0m.1-54.3h0m0 30.2h0m.1 6.9h0m.1-1.4h0m0 5.2h0m0 18.6h0m.1-41.2h0m0 .1h0m0 5.9h0m0 12.4h0m.1-21.5h0m0 22.9h0m.1-16.9h0m0 37.1h0m.1-61.9h0m0 27.6h0m0 11.5h0m0 6.5h0m.1-14.2h0m.1-20.5h0m0 18.4h0m0 6.5h0m.1-32.3h0m0 19.3h0m0 29.7h0m0 1.2h0m0 4.4h0m.1-4.4h0m.1-15.1h0m.1-29.7h0m0 34.2h0m0 6.8h0m.1-28.3h0m0 7.8h0m0 1.5h0m0 16.2h0m.1-43h0m0 28.1h0m0 12.5h0m.1-35.9h0m0 7.5h0m0 23.2h0m0 21h0m.1-48.4h0m0 16.5h0m0 17.1h0m.2-27.4h0m0 15.1h0m.1 3.2h0m.1-32.6h0m0 3.5h0m0 29.9h0m0 15.1h0m.1-10.4h0m.1-5.4h0m0 7.4h0m0 8.8h0m.1-43.9h0" stroke="#3e2270" stroke-opacity="0.6" stroke-width="0.9" stroke-linecap="square" fill="none"/>
<path d="M304.2 185.2 L346 185.2 L346 204.7 L341.5 203.8 L335 203.3 L327 203.8 L320 205.4 Q318 203.5 317 201.5 L314 195 L309 190.4 Z" fill="#f5f0f7"/>
<path d="M258.2 202.6 L266 202.6 L262 215 L259.5 235 L258.2 240 Z" fill="#f0e6ee"/>
</g>
<line x1="305.9" y1="208.4" x2="297.5" y2="210.8" stroke="#111" stroke-width="1.9"/>
<path d="M293.2 212.0 L297.3 208.0 L298.7 213.2 Z" fill="#111"/>
<line x1="302.8" y1="231.1" x2="293.9" y2="234.1" stroke="#111" stroke-width="1.9"/>
<path d="M289.6 235.6 L293.5 231.4 L295.2 236.5 Z" fill="#111"/>
<line x1="333.1" y1="228.4" x2="331.6" y2="234.2" stroke="#111" stroke-width="1.9"/>
<path d="M330.4 238.6 L329.1 233.1 L334.3 234.5 Z" fill="#111"/>
<rect x="258.2" y="185.2" width="21.0" height="17.4" fill="#cfe7ea" stroke="none" stroke-width="1"/>
<text x="268.2" y="197.79999999999998" font-family="Liberation Sans, sans-serif" font-size="11" font-weight="bold" text-anchor="middle" fill="#111">iii</text>
<rect x="258.2" y="185.2" width="87.1" height="65.0" fill="none" stroke="#9a9ac4" stroke-width="0.8"/>
<clipPath id="cEiv"><rect x="347.3" y="185.2" width="88.1" height="65.5"/></clipPath>
<g clip-path="url(#cEiv)">
<rect x="347.3" y="185.2" width="88.1" height="65.5" fill="#bc7cbc" stroke="none" stroke-width="1"/>
<ellipse cx="405" cy="222" rx="22" ry="16" fill="#a070b8" fill-opacity="0.4" filter="url(#b60)"/>
<rect x="347.3" y="185.2" width="88.1" height="65.5" fill="#000" filter="url(#nzIV)"/>
<path d="M347.4 204.3h0m.1 19.1h0m.2-33.5h0m.1-4.7h0m0 57.7h0m.1-33.7h0m.3 14.4h0m0 3.5h0m.1-40.6h0m0 63.6h0m.2-46.2h0m.3 10.4h0m.1-21.9h0m0 11.8h0m.4 7.1h0m0 19.9h0m.3-33.9h0m0 51.4h0m.1-34.4h0m.1 30.6h0m.1-51.5h0m.1 30.6h0m0 .1h0m.1-12.8h0m.6 1.8h0m.7-11.9h0m0 9.2h0m0 38.8h0m.1-50.6h0m0 7h0m.2-15.4h0m.5 3.5h0m.1 51.7h0m.3-48.7h0m.1 31.2h0m.1-28h0m.2 16.2h0m0 21.1h0m0 3.1h0m.1-22.6h0m.1-9.3h0m0 4.2h0m0 30.1h0m.2-55h0m0 46.9h0m.1-40.2h0m0 39h0m.1-47.5h0m0 13.6h0m.2 25.7h0m.1 13.3h0m.2-44.1h0m.1 15.9h0m0 33.1h0m.1-7.2h0m0 5.4h0m.1-30.4h0m0 1.5h0m0 23.9h0m.2-50.6h0m.5 43h0m.1-20.6h0m.3-17.3h0m.1-1.5h0m0 9.3h0m.2 14.4h0m0 11.5h0m.2-10.3h0m0 18.3h0m.2-30.1h0m.1-2.4h0m0 .9h0m.1 44.3h0m.2-11.8h0m.2-36.3h0m.1 29.7h0m0 7.9h0m.5-1.7h0m.1-13.2h0m.1 5h0m0 24.9h0m.1-17.7h0m.5-27.9h0m.1 43.1h0m.1-6.8h0m.1-35.8h0m0 19.4h0m.1 8.6h0m.1 12.2h0m.1-46.3h0m0 49.2h0m.1-52.3h0m.1 27.4h0m0 .7h0m.1 1.4h0m.1-.3h0m0 12.9h0m.3-39.1h0m.1 20.7h0m.2-8.3h0m0 1.3h0m.6-15.5h0m0 42h0m.2 .1h0m0 5.2h0m.1-2.3h0m0 .2h0m0 3h0m.1 4h0m.1-30.6h0m.1-4.5h0m.1-20.2h0m0 10.5h0m.3-18.5h0m.2 62.2h0m.2-32h0m.1 20.7h0m.2-29.8h0m.1 5.3h0m.1 24.7h0m.1-2.1h0m.1-31.7h0m.1-12.1h0m0 21.5h0m0 9h0m.1 26.7h0m.1-49.8h0m0 39.3h0m.1-45.5h0m0 10.4h0m0 34.5h0m.1-27.1h0m.3 34.5h0m.1-54.2h0m0 13.1h0m0 5.6h0m.4-16.3h0m0 6.8h0m.1-3.6h0m0 29.8h0m.2-14.1h0m.1-3.8h0m0 33.8h0m.1-31.7h0m.4-21h0m.2 2.3h0m0 21.3h0m0 2.5h0m.1 4.6h0m.4-22.1h0m0 2.2h0m.1 26.1h0m.2-28.9h0m0 5.7h0m0 47.6h0m.1-63h0m0 6.5h0m0 40.2h0m.2-38.2h0m.2-8.4h0m0 3.4h0m.1-1.1h0m.1 37.3h0m.6-36.9h0m0 8.5h0m0 19.8h0m.5-26.8h0m0 53.1h0m0 3.1h0m.1 .5h0m.3-16.1h0m.1 11.5h0m.2-56.9h0m.2 62.8h0m.1-55.1h0m.2 35.6h0m.1-37.1h0m0 11.5h0m.1 29.8h0m.2-2.6h0m.1 3.7h0m.1-.1h0m.2-5.7h0m0 16.2h0m.1-43.2h0m.1-13h0m0 15.6h0m0 2.6h0m.1-2.2h0m.1 43.4h0m.1-62.3h0m0 27.7h0m.4-14.3h0m.1 14h0m0 31.4h0m.1-52.8h0m.1 2.5h0m0 8.8h0m.2-2.3h0m.1 48.4h0m.1-36.9h0m.1-.7h0m.2-.7h0m0 27.9h0m.1-28.5h0m.3-13.5h0m.1 1.6h0m0 42.7h0m.1-34.5h0m.2 5.5h0m.1 29.4h0m.1-50.4h0m.2 43.5h0m.1-35h0m0 14.9h0m0 32.7h0m.1-33.6h0m.1 14.6h0m.3-34.5h0m0 1.4h0m.2 12h0m.2 28.1h0m.3-4h0m.1-1.9h0m.1 6.6h0m.4 8.4h0m.1-30.8h0m.1 23.2h0m.1-23h0m.5-28.5h0m0 26.1h0m.1 .1h0m.1 34.9h0m.2-47.3h0m0 30.8h0m.2 9h0m.2-31h0m.1-21.8h0m.2 7h0m0 9h0m.2 5.3h0m0 33.8h0m.1-.8h0m.2-53.3h0m0 7.5h0m.1 49.4h0m.1-56.2h0m.5 57.3h0m.1-48.4h0m.2 9.1h0m0 1.2h0m.5-8.5h0m.8-3.6h0m.1 2.3h0m.5 11.8h0m.2 24.8h0m.1 13.5h0m.2-40.9h0m.1 9.1h0m.1-19.7h0m.1 4.5h0m.2-4h0m0 18.6h0m.1 20.9h0m.3-23.1h0m.1 31.1h0m.1-51.3h0m.3-2.3h0m.3-3.8h0m.2 62.7h0m.1-56h0m.2 .2h0m.1 7.1h0m.2 46.5h0m.4-38h0m.3 5.6h0m.3-20h0m.3 2h0m0 6.4h0m.2 13.2h0m.2 12.7h0m.1 2.6h0m.1-15.4h0m.1-26.9h0m.2 28.4h0m0 2.5h0m.2-26h0m.1-5.7h0m.5 35.7h0m.1-15h0m.2-6.2h0m.1-6.2h0m0 3.7h0m0 .3h0m0 5.6h0m.3-3h0m0 9.7h0m.5 19.9h0m.1-45.8h0m0 38.1h0m.1-16h0m.1-10.9h0m0 .8h0m0 9.7h0m.1 17.4h0m.2-19.2h0m.4 23.9h0m.2-43h0m.4 8.7h0m.2 50.6h0m.2-31.1h0m.3-4.3h0m.6-18.2h0m.1 8.4h0m0 24.5h0m0 19.4h0m.1-38.8h0m.1-19.3h0m0 24.1h0m.1-12.9h0m.2-6.7h0m0 22.7h0m.4-5.1h0m.1-6.1h0m0 15.9h0m.6-29.7h0m0 8.2h0m0 31.4h0m0 19.5h0m.3-57.3h0m.1 21.9h0m0 13.2h0m0 6.2h0m.1-7.5h0m.1-3.9h0m.1-16.8h0m.1-20h0m0 26.8h0m.4 7.3h0m.1-15.4h0m0 3.7h0m0 17.5h0m.2 3.4h0m.1-6.7h0m0 5h0m.5-40.2h0m0 21.3h0m.1 5.8h0m0 13.1h0m.1 4.9h0m.4-41.8h0m0 16h0m0 30.7h0m.1-49.5h0m0 5.7h0m0 2.6h0m0 8.9h0m.3 1.3h0m0 4.5h0m.1-17.9h0m0 7.7h0m.1-2h0m.1 15.3h0m.2 5.7h0m.1-28.8h0m0 58.4h0m.1-10h0m.1-27h0m.1 7h0m.1-33h0m0 15.4h0m0 16.4h0m.2-30.2h0m.2 32.1h0m.1-5.1h0m.3 .6h0m0 5.3h0m0 2.5h0m.2-14.7h0m.1 6.3h0m.2-26.7h0m0 28.3h0m.1-10.4h0m0 11.5h0m.2-6.2h0m0 .4h0m0 3.4h0m.1-9.2h0m.1-5.7h0m0 48.4h0m.1-33.3h0m.3 33.1h0m.2-36.3h0m0 32.9h0m.3-22.7h0m.1-27.2h0m0 13.7h0m.3-13.8h0m0 38.4h0m.1-37.2h0m0 38.2h0m.3-17.9h0m0 4.7h0m.2-30h0m0 43.7h0m.2-48.1h0m0 50h0m.1-1.3h0m.1 5.8h0m.2-9.5h0m0 6.4h0m.1-33.9h0m0 22.5h0m.1-4.5h0m.1-16.6h0m.1 9.6h0m.2-17.7h0m.1-1.4h0m0 8.3h0m0 14.9h0m.2-31.4h0m0 8.2h0m0 6.5h0m0 6.4h0m0 9.8h0m.1-30.7h0m.1 40.9h0m.2 18.4h0m.1-53.5h0m.1 32.4h0m0 20.3h0m.3-35.8h0m.1-14.8h0m0 25.1h0m.1-2.4h0m0 11.5h0m0 5h0m.1-39h0m.2 2.7h0m.2 43.3h0m.3-23.2h0m0 15h0m.1 6.6h0m.1-43h0m.1 14.3h0m.2-18.7h0m0 43.6h0m.1 6.3h0m0 5.4h0m.3-17h0m0 4.7h0m.1-11.8h0m.2 6.9h0m.1-5.1h0m.1-40h0m0 28.6h0m0 1.5h0m.1-13.2h0m.1 9.6h0m.2-21.7h0m0 59.1h0m.1-52.4h0m.1 15.8h0m.1 6h0m0 31h0m.2-49.2h0m0 22.1h0m0 2.4h0m0 4.7h0m0 12.2h0m.1-13.2h0m.5-19.1h0m.1-13h0m.2 9.6h0m0 18.8h0m.1-27.7h0m0 17.8h0m.2-.1h0m0 5.7h0m0 27.6h0m.1-55.4h0m0 28.7h0m0 22h0m.2-36.1h0m0 20.8h0m.1-6.1h0m.5-15h0m.2-8.1h0m0 11.1h0m0 1.5h0m.4-22.2h0m0 20.7h0m.1 9.6h0m0 30h0m.1-44.3h0m0 5.8h0m0 24.9h0m.1-26.4h0m.1-10h0m.1-6h0m.1 34.9h0m.2-13.2h0m.1 6.8h0m.1-29.8h0m.2 9.4h0m0 1.7h0m.1 25.4h0m.1-37.3h0m.1 13.2h0m.2 15h0m.4 10.7h0m.3 2.5h0m.1 4.3h0m.1-23.6h0m0 20.1h0m.2-18.7h0m0 19.5h0m.2-22.9h0m0 32.1h0m.1-21.1h0m.4 16.6h0m.2-2.8h0m.1-29h0m.1-2.3h0m0 16.9h0m.3-30.3h0m0 26.3h0m.1 11.6h0m.1-24.6h0m.1-19.9h0m.1 62.8h0m.2-36.4h0m.1 13h0m0 12.6h0m.1-28.9h0m.1 4.2h0m0 21.5h0m0 9.2h0m.1-23.6h0m.3-10.1h0m.1 36.1h0m.1-29.3h0m.1-15.4h0m0 6.1h0m0 9h0m0 9.3h0m0 19.7h0m.1-54.4h0m0 2h0m0 19.9h0m.1-.6h0m0 11.9h0m0 .2h0m.1 2.2h0m0 10.7h0m.2-25.1h0m.2-25.9h0m.2 25.7h0m.2 10.5h0m.1-12.6h0m.1 16.8h0m.1-39h0m.1 44.5h0m0 .4h0m.1-8.3h0m.1 17.8h0m0 7.2h0m.1-27.9h0m.4-32.3h0m0 34.4h0m.1 3.2h0m.4-8.5h0m.1-14.8h0m0 20.8h0m0 5.1h0m.1-18.8h0m0 29.4h0m0 6.4h0m.2-17.3h0m.1-42.9h0m.2 20.8h0m0 25.3h0m.1-24.5h0m.1-1.3h0m.1 7h0m.1 14.2h0m.2-.9h0m.2-4.5h0m.1 4.3h0m.1-26h0m0 30.8h0m.2 8.8h0m.1-47h0m.2 30.3h0m0 2.4h0m.1 14h0m.1-32.5h0m.2 42.8h0m.1-58.4h0m.3 42.5h0m0 6.3h0m.1-52.7h0m.3 22.6h0m.1 18.6h0m.3-12.2h0m.1-13.9h0m.3 21h0m.1-29.1h0m.1 44.3h0m.3-44.1h0m.2-.4h0m.1 40h0m.1-3.4h0m0 12.2h0m.1-12.3h0m.4 7h0m0 3h0m.2-3.7h0m.3-18.7h0m.1 8.8h0m.4-35.9h0m0 39.9h0m.1-43.1h0m0 38.9h0m.4 15.3h0m.1-7.6h0m.1-36.3h0m.1-.6h0m.1 .2h0m.1-9.1h0m.1 33.1h0m0 1.6h0m.2-33.4h0m.1 46h0m.4-9.1h0m0 3.2h0m0 2.7h0m.3-40.2h0m0 49.2h0m.1-6h0m.1-45.1h0m0 33.9h0m0 9.1h0m.3-43.4h0m0 40.3h0m.3 11.1h0m.2-48.3h0m.3 38.8h0m.1 12.9h0m.2-60.2h0m0 5.3h0m0 7h0m.1 46.6h0m.2 1.4h0m.2-57.3h0m0 10.2h0m.6 21.1h0m0 21.6h0m.1 6.6h0m.1-20.6h0m.1 12.8h0m.1 4.7h0m.1-24.6h0m.3-21.9h0m.2 1.7h0m.2 46.9h0m.2-1.3h0m.4-49.4h0m.1 8.3h0m.5-7.8h0m0 47.5h0m.1-9.6h0m.4-7.8h0m0 16.6h0m0 2.5h0m.3-21.2h0m0 1.1h0m.2-35.1h0m0 3.6h0m0 34.1h0m0 9.1h0m0 2.9h0m.2-35.8h0m.4 41.2h0m.1-53.7h0m0 .3h0m.2-3h0m.1 53.3h0m0 2.7h0m.1-58.9h0m.5 32.9h0m0 24h0m.2-56.2h0m0 61.7h0m.5-53.5h0m.3 35.4h0m.2-29h0m0 1.3h0m0 45.2h0m.3-16.1h0m0 5.3h0m.1-43.8h0m0 39.6h0m0 10.2h0m.1-55.6h0m0 18.7h0m0 2.4h0m.1 16.3h0m0 8.8h0m.2 15.7h0m.3-49.3h0m.1 34.9h0" stroke="#64389a" stroke-opacity="0.5" stroke-width="0.9" stroke-linecap="square" fill="none"/>
<ellipse cx="376.5" cy="223.0" rx="9" ry="6.5" fill="#dcbce0" fill-opacity="0.85" filter="url(#b20)"/>
<ellipse cx="389.5" cy="240.8" rx="10" ry="6.5" fill="#dcbce0" fill-opacity="0.85" filter="url(#b20)"/>
<ellipse cx="426.5" cy="213.0" rx="7" ry="8" fill="#dcbce0" fill-opacity="0.85" filter="url(#b20)"/>
<ellipse cx="392.0" cy="208.6" rx="3.5" ry="3.5" fill="#d4acd8" fill-opacity="0.7" filter="url(#b15)"/>
<ellipse cx="390" cy="186" rx="6" ry="3" fill="#f6f0f6" fill-opacity="0.95" filter="url(#b10)"/>
<ellipse cx="432" cy="240" rx="4" ry="4" fill="#d0a0d4" fill-opacity="0.5" filter="url(#b20)"/>
<path d="M347.3 207 L347.3 251 L365.4 251 Q356 232 347.3 207 Z" fill="#f0e8f2"/>
</g>
<line x1="384.7" y1="207.8" x2="377.7" y2="213.2" stroke="#111" stroke-width="1.9"/>
<path d="M374.2 216.0 L376.5 210.8 L379.8 215.1 Z" fill="#111"/>
<line x1="407.6" y1="230.7" x2="400.7" y2="235.9" stroke="#111" stroke-width="1.9"/>
<path d="M397.1 238.6 L399.5 233.4 L402.7 237.8 Z" fill="#111"/>
<line x1="419.1" y1="197.2" x2="421.8" y2="203.6" stroke="#111" stroke-width="1.9"/>
<path d="M423.5 207.8 L419.1 204.2 L424.1 202.1 Z" fill="#111"/>
<rect x="347.3" y="185.2" width="29.6" height="17.8" fill="#cfe7ea" stroke="none" stroke-width="1"/>
<text x="358.2" y="198.0" font-family="Liberation Sans, sans-serif" font-size="11" font-weight="bold" text-anchor="middle" fill="#111">iv</text>
<rect x="347.3" y="185.2" width="88.1" height="65.5" fill="none" stroke="#9a9ac4" stroke-width="0.8"/>
<text x="0" y="0" font-family="Liberation Sans, sans-serif" font-size="16" font-weight="bold" text-anchor="start" fill="#000" transform="translate(0.4 277.4) scale(0.95 1)">F</text>
<text x="0" y="0" font-family="Liberation Sans, sans-serif" font-size="9.6" font-weight="bold" text-anchor="middle" fill="#000" transform="translate(84.1 276.0) scale(0.965 1)">Lymph node</text>
<line x1="18.7" y1="278.6" x2="154.3" y2="278.6" stroke="#555" stroke-width="0.8"/>
<text x="0" y="0" font-family="Liberation Sans, sans-serif" font-size="9.4" font-weight="bold" text-anchor="middle" fill="#000" transform="translate(225.2 275.6) scale(0.95 1)">Thymus</text>
<line x1="161.7" y1="278.3" x2="296.9" y2="278.3" stroke="#555" stroke-width="0.8"/>
<text x="0" y="0" font-family="Liberation Sans, sans-serif" font-size="9.5" font-weight="bold" text-anchor="middle" fill="#000" transform="translate(51.9 291.6) scale(0.96 1)">Mock</text>
<text x="0" y="0" font-family="Liberation Sans, sans-serif" font-size="9.6" font-weight="bold" text-anchor="middle" fill="#000" transform="translate(120.8 291.6) scale(0.965 1)">NL4-R3A</text>
<text x="0" y="0" font-family="Liberation Sans, sans-serif" font-size="9.5" font-weight="bold" text-anchor="middle" fill="#000" transform="translate(190.5 291.4) scale(0.96 1)">Mock</text>
<text x="0" y="0" font-family="Liberation Sans, sans-serif" font-size="9.6" font-weight="bold" text-anchor="middle" fill="#000" transform="translate(263.8 291.4) scale(0.965 1)">NL4-R3A</text>
<rect x="22.5" y="292.5" width="60.0" height="57.0" fill="#fff" stroke="#a8a8a8" stroke-width="0.8"/>
<text x="21.1" y="293.40000000000003" font-family="Liberation Sans, sans-serif" font-size="2.4" font-weight="normal" text-anchor="end" fill="#777" stroke="#777" stroke-width="0.18">10¹</text>
<line x1="22.3" y1="292.6" x2="23.5" y2="292.6" stroke="#888" stroke-width="0.4"/>
<text x="21.1" y="307.65000000000003" font-family="Liberation Sans, sans-serif" font-size="2.4" font-weight="normal" text-anchor="end" fill="#777" stroke="#777" stroke-width="0.18">10¹</text>
<line x1="22.3" y1="306.85" x2="23.5" y2="306.85" stroke="#888" stroke-width="0.4"/>
<text x="21.1" y="321.90000000000003" font-family="Liberation Sans, sans-serif" font-size="2.4" font-weight="normal" text-anchor="end" fill="#777" stroke="#777" stroke-width="0.18">10¹</text>
<line x1="22.3" y1="321.1" x2="23.5" y2="321.1" stroke="#888" stroke-width="0.4"/>
<text x="21.1" y="336.15000000000003" font-family="Liberation Sans, sans-serif" font-size="2.4" font-weight="normal" text-anchor="end" fill="#777" stroke="#777" stroke-width="0.18">10¹</text>
<line x1="22.3" y1="335.35" x2="23.5" y2="335.35" stroke="#888" stroke-width="0.4"/>
<text x="21.1" y="350.40000000000003" font-family="Liberation Sans, sans-serif" font-size="2.4" font-weight="normal" text-anchor="end" fill="#777" stroke="#777" stroke-width="0.18">10¹</text>
<line x1="22.3" y1="349.6" x2="23.5" y2="349.6" stroke="#888" stroke-width="0.4"/>
<text x="22.3" y="353.0" font-family="Liberation Sans, sans-serif" font-size="2.4" font-weight="normal" text-anchor="middle" fill="#777" stroke="#777" stroke-width="0.18">10¹</text>
<line x1="22.3" y1="349.6" x2="22.3" y2="348.40000000000003" stroke="#888" stroke-width="0.4"/>
<text x="37.25" y="353.0" font-family="Liberation Sans, sans-serif" font-size="2.4" font-weight="normal" text-anchor="middle" fill="#777" stroke="#777" stroke-width="0.18">10¹</text>
<line x1="37.25" y1="349.6" x2="37.25" y2="348.40000000000003" stroke="#888" stroke-width="0.4"/>
<text x="52.2" y="353.0" font-family="Liberation Sans, sans-serif" font-size="2.4" font-weight="normal" text-anchor="middle" fill="#777" stroke="#777" stroke-width="0.18">10¹</text>
<line x1="52.2" y1="349.6" x2="52.2" y2="348.40000000000003" stroke="#888" stroke-width="0.4"/>
<text x="67.14999999999999" y="353.0" font-family="Liberation Sans, sans-serif" font-size="2.4" font-weight="normal" text-anchor="middle" fill="#777" stroke="#777" stroke-width="0.18">10¹</text>
<line x1="67.14999999999999" y1="349.6" x2="67.14999999999999" y2="348.40000000000003" stroke="#888" stroke-width="0.4"/>
<text x="82.1" y="353.0" font-family="Liberation Sans, sans-serif" font-size="2.4" font-weight="normal" text-anchor="middle" fill="#777" stroke="#777" stroke-width="0.18">10¹</text>
<line x1="82.1" y1="349.6" x2="82.1" y2="348.40000000000003" stroke="#888" stroke-width="0.4"/>
<line x1="44.5" y1="292.5" x2="44.5" y2="349.5" stroke="#9aa" stroke-width="0.7"/>
<line x1="22.5" y1="323.5" x2="82.5" y2="323.5" stroke="#9aa" stroke-width="0.7"/>
<rect x="91.5" y="294.5" width="59.0" height="56.0" fill="#fff" stroke="#a8a8a8" stroke-width="0.8"/>
<text x="90.0" y="294.8" font-family="Liberation Sans, sans-serif" font-size="2.4" font-weight="normal" text-anchor="end" fill="#777" stroke="#777" stroke-width="0.18">10¹</text>
<line x1="91.2" y1="294.0" x2="92.4" y2="294.0" stroke="#888" stroke-width="0.4"/>
<text x="90.0" y="309.02500000000003" font-family="Liberation Sans, sans-serif" font-size="2.4" font-weight="normal" text-anchor="end" fill="#777" stroke="#777" stroke-width="0.18">10¹</text>
<line x1="91.2" y1="308.225" x2="92.4" y2="308.225" stroke="#888" stroke-width="0.4"/>
<text x="90.0" y="323.25" font-family="Liberation Sans, sans-serif" font-size="2.4" font-weight="normal" text-anchor="end" fill="#777" stroke="#777" stroke-width="0.18">10¹</text>
<line x1="91.2" y1="322.45" x2="92.4" y2="322.45" stroke="#888" stroke-width="0.4"/>
<text x="90.0" y="337.47499999999997" font-family="Liberation Sans, sans-serif" font-size="2.4" font-weight="normal" text-anchor="end" fill="#777" stroke="#777" stroke-width="0.18">10¹</text>
<line x1="91.2" y1="336.67499999999995" x2="92.4" y2="336.67499999999995" stroke="#888" stroke-width="0.4"/>
<text x="90.0" y="351.7" font-family="Liberation Sans, sans-serif" font-size="2.4" font-weight="normal" text-anchor="end" fill="#777" stroke="#777" stroke-width="0.18">10¹</text>
<line x1="91.2" y1="350.9" x2="92.4" y2="350.9" stroke="#888" stroke-width="0.4"/>
<text x="91.2" y="354.29999999999995" font-family="Liberation Sans, sans-serif" font-size="2.4" font-weight="normal" text-anchor="middle" fill="#777" stroke="#777" stroke-width="0.18">10¹</text>
<line x1="91.2" y1="350.9" x2="91.2" y2="349.7" stroke="#888" stroke-width="0.4"/>
<text x="106.0" y="354.29999999999995" font-family="Liberation Sans, sans-serif" font-size="2.4" font-weight="normal" text-anchor="middle" fill="#777" stroke="#777" stroke-width="0.18">10¹</text>
<line x1="106.0" y1="350.9" x2="106.0" y2="349.7" stroke="#888" stroke-width="0.4"/>
<text x="120.80000000000001" y="354.29999999999995" font-family="Liberation Sans, sans-serif" font-size="2.4" font-weight="normal" text-anchor="middle" fill="#777" stroke="#777" stroke-width="0.18">10¹</text>
<line x1="120.80000000000001" y1="350.9" x2="120.80000000000001" y2="349.7" stroke="#888" stroke-width="0.4"/>
<text x="135.60000000000002" y="354.29999999999995" font-family="Liberation Sans, sans-serif" font-size="2.4" font-weight="normal" text-anchor="middle" fill="#777" stroke="#777" stroke-width="0.18">10¹</text>
<line x1="135.60000000000002" y1="350.9" x2="135.60000000000002" y2="349.7" stroke="#888" stroke-width="0.4"/>
<text x="150.4" y="354.29999999999995" font-family="Liberation Sans, sans-serif" font-size="2.4" font-weight="normal" text-anchor="middle" fill="#777" stroke="#777" stroke-width="0.18">10¹</text>
<line x1="150.4" y1="350.9" x2="150.4" y2="349.7" stroke="#888" stroke-width="0.4"/>
<line x1="112.5" y1="294.5" x2="112.5" y2="350.5" stroke="#9aa" stroke-width="0.7"/>
<line x1="91.5" y1="324.5" x2="150.5" y2="324.5" stroke="#9aa" stroke-width="0.7"/>
<rect x="162.5" y="293.5" width="61.0" height="59.0" fill="#fff" stroke="#a8a8a8" stroke-width="0.8"/>
<text x="161.0" y="294.2" font-family="Liberation Sans, sans-serif" font-size="2.4" font-weight="normal" text-anchor="end" fill="#777" stroke="#777" stroke-width="0.18">10¹</text>
<line x1="162.2" y1="293.4" x2="163.39999999999998" y2="293.4" stroke="#888" stroke-width="0.4"/>
<text x="161.0" y="308.9" font-family="Liberation Sans, sans-serif" font-size="2.4" font-weight="normal" text-anchor="end" fill="#777" stroke="#777" stroke-width="0.18">10¹</text>
<line x1="162.2" y1="308.09999999999997" x2="163.39999999999998" y2="308.09999999999997" stroke="#888" stroke-width="0.4"/>
<text x="161.0" y="323.59999999999997" font-family="Liberation Sans, sans-serif" font-size="2.4" font-weight="normal" text-anchor="end" fill="#777" stroke="#777" stroke-width="0.18">10¹</text>
<line x1="162.2" y1="322.79999999999995" x2="163.39999999999998" y2="322.79999999999995" stroke="#888" stroke-width="0.4"/>
<text x="161.0" y="338.3" font-family="Liberation Sans, sans-serif" font-size="2.4" font-weight="normal" text-anchor="end" fill="#777" stroke="#777" stroke-width="0.18">10¹</text>
<line x1="162.2" y1="337.5" x2="163.39999999999998" y2="337.5" stroke="#888" stroke-width="0.4"/>
<text x="161.0" y="353.0" font-family="Liberation Sans, sans-serif" font-size="2.4" font-weight="normal" text-anchor="end" fill="#777" stroke="#777" stroke-width="0.18">10¹</text>
<line x1="162.2" y1="352.2" x2="163.39999999999998" y2="352.2" stroke="#888" stroke-width="0.4"/>
<text x="162.2" y="355.59999999999997" font-family="Liberation Sans, sans-serif" font-size="2.4" font-weight="normal" text-anchor="middle" fill="#777" stroke="#777" stroke-width="0.18">10¹</text>
<line x1="162.2" y1="352.2" x2="162.2" y2="351.0" stroke="#888" stroke-width="0.4"/>
<text x="177.575" y="355.59999999999997" font-family="Liberation Sans, sans-serif" font-size="2.4" font-weight="normal" text-anchor="middle" fill="#777" stroke="#777" stroke-width="0.18">10¹</text>
<line x1="177.575" y1="352.2" x2="177.575" y2="351.0" stroke="#888" stroke-width="0.4"/>
<text x="192.95" y="355.59999999999997" font-family="Liberation Sans, sans-serif" font-size="2.4" font-weight="normal" text-anchor="middle" fill="#777" stroke="#777" stroke-width="0.18">10¹</text>
<line x1="192.95" y1="352.2" x2="192.95" y2="351.0" stroke="#888" stroke-width="0.4"/>
<text x="208.325" y="355.59999999999997" font-family="Liberation Sans, sans-serif" font-size="2.4" font-weight="normal" text-anchor="middle" fill="#777" stroke="#777" stroke-width="0.18">10¹</text>
<line x1="208.325" y1="352.2" x2="208.325" y2="351.0" stroke="#888" stroke-width="0.4"/>
<text x="223.7" y="355.59999999999997" font-family="Liberation Sans, sans-serif" font-size="2.4" font-weight="normal" text-anchor="middle" fill="#777" stroke="#777" stroke-width="0.18">10¹</text>
<line x1="223.7" y1="352.2" x2="223.7" y2="351.0" stroke="#888" stroke-width="0.4"/>
<line x1="183.5" y1="293.5" x2="183.5" y2="352.5" stroke="#9aa" stroke-width="0.7"/>
<line x1="162.5" y1="326.5" x2="223.5" y2="326.5" stroke="#9aa" stroke-width="0.7"/>
<rect x="234.5" y="292.5" width="61.0" height="58.0" fill="#fff" stroke="#a8a8a8" stroke-width="0.8"/>
<text x="233.10000000000002" y="292.8" font-family="Liberation Sans, sans-serif" font-size="2.4" font-weight="normal" text-anchor="end" fill="#777" stroke="#777" stroke-width="0.18">10¹</text>
<line x1="234.3" y1="292.0" x2="235.5" y2="292.0" stroke="#888" stroke-width="0.4"/>
<text x="233.10000000000002" y="307.40000000000003" font-family="Liberation Sans, sans-serif" font-size="2.4" font-weight="normal" text-anchor="end" fill="#777" stroke="#777" stroke-width="0.18">10¹</text>
<line x1="234.3" y1="306.6" x2="235.5" y2="306.6" stroke="#888" stroke-width="0.4"/>
<text x="233.10000000000002" y="322.0" font-family="Liberation Sans, sans-serif" font-size="2.4" font-weight="normal" text-anchor="end" fill="#777" stroke="#777" stroke-width="0.18">10¹</text>
<line x1="234.3" y1="321.2" x2="235.5" y2="321.2" stroke="#888" stroke-width="0.4"/>
<text x="233.10000000000002" y="336.59999999999997" font-family="Liberation Sans, sans-serif" font-size="2.4" font-weight="normal" text-anchor="end" fill="#777" stroke="#777" stroke-width="0.18">10¹</text>
<line x1="234.3" y1="335.79999999999995" x2="235.5" y2="335.79999999999995" stroke="#888" stroke-width="0.4"/>
<text x="233.10000000000002" y="351.2" font-family="Liberation Sans, sans-serif" font-size="2.4" font-weight="normal" text-anchor="end" fill="#777" stroke="#777" stroke-width="0.18">10¹</text>
<line x1="234.3" y1="350.4" x2="235.5" y2="350.4" stroke="#888" stroke-width="0.4"/>
<text x="234.3" y="353.79999999999995" font-family="Liberation Sans, sans-serif" font-size="2.4" font-weight="normal" text-anchor="middle" fill="#777" stroke="#777" stroke-width="0.18">10¹</text>
<line x1="234.3" y1="350.4" x2="234.3" y2="349.2" stroke="#888" stroke-width="0.4"/>
<text x="249.625" y="353.79999999999995" font-family="Liberation Sans, sans-serif" font-size="2.4" font-weight="normal" text-anchor="middle" fill="#777" stroke="#777" stroke-width="0.18">10¹</text>
<line x1="249.625" y1="350.4" x2="249.625" y2="349.2" stroke="#888" stroke-width="0.4"/>
<text x="264.95000000000005" y="353.79999999999995" font-family="Liberation Sans, sans-serif" font-size="2.4" font-weight="normal" text-anchor="middle" fill="#777" stroke="#777" stroke-width="0.18">10¹</text>
<line x1="264.95000000000005" y1="350.4" x2="264.95000000000005" y2="349.2" stroke="#888" stroke-width="0.4"/>
<text x="280.27500000000003" y="353.79999999999995" font-family="Liberation Sans, sans-serif" font-size="2.4" font-weight="normal" text-anchor="middle" fill="#777" stroke="#777" stroke-width="0.18">10¹</text>
<line x1="280.27500000000003" y1="350.4" x2="280.27500000000003" y2="349.2" stroke="#888" stroke-width="0.4"/>
<text x="295.6" y="353.79999999999995" font-family="Liberation Sans, sans-serif" font-size="2.4" font-weight="normal" text-anchor="middle" fill="#777" stroke="#777" stroke-width="0.18">10¹</text>
<line x1="295.6" y1="350.4" x2="295.6" y2="349.2" stroke="#888" stroke-width="0.4"/>
<line x1="255.5" y1="292.5" x2="255.5" y2="350.5" stroke="#9aa" stroke-width="0.7"/>
<line x1="234.5" y1="324.5" x2="295.5" y2="324.5" stroke="#9aa" stroke-width="0.7"/>
<path d="M27.3 315h0m1.1 .4h0m.1-1.2h0m.7 1.4h0m.1-1.3h0m0 .9h0m0 1.9h0m.3-1h0m.1-2.9h0m.1-1.7h0m0 4.6h0m.1 2.5h0m.1-6h0m.5 2.7h0m.2 .1h0m.1-.7h0m.2 2.4h0m.1-1.5h0m0 1h0m.1-1.9h0m0 .7h0m0 1.5h0m.1-1.1h0m.1 .1h0m0 1.9h0m.1-3.7h0m0 1.2h0m0 1.6h0m0 1.8h0m.2-3.3h0m.1-.9h0m0 .2h0m0 .3h0m0 .2h0m.2-.9h0m0 .3h0m.1-.6h0m.1-.8h0m.1 .2h0m0 .1h0m0 2.6h0m.1-2h0m0 2.5h0m.1-2.9h0m0 4.1h0m0 .6h0m.1-2.9h0m0 1.1h0m0 .5h0m.1-3h0m0 .9h0m0 .8h0m.1-2.3h0m.1-.6h0m0 .9h0m0 1.2h0m0 .3h0m0 .3h0m0 1.2h0m.1-6h0m0 4.4h0m0 0h0m0 2.4h0m.1-2.9h0m0 .1h0m0 .9h0m.1-2.4h0m.1 .1h0m0 1.2h0m0 .2h0m.1-3.1h0m0 2.3h0m0 1h0m.1-2.6h0m0 1.9h0m0 .3h0m0 .2h0m.1-2.9h0m0 1.6h0m0 .3h0m0 1.8h0m.1-1.9h0m0 1.1h0m0 1.1h0m0 .9h0m0 1.3h0m.1-8.1h0m0 1.3h0m0 2.1h0m0 1.4h0m0 .8h0m0 0h0m.1-2.1h0m0 0h0m.1-1.4h0m0 .7h0m0 1.1h0m0 .6h0m0 1h0m.1-3.7h0m0 .2h0m0 2.4h0m.1-1.1h0m0 1.4h0m0 2.6h0m.2-4.8h0m0 1.1h0m.1-4.8h0m0 3.9h0m0 .2h0m0 1.2h0m0 .5h0m0 .6h0m0 .8h0m.1-4.5h0m0 .3h0m0 1.8h0m0 .8h0m0 0h0m0 1.3h0m.1-2h0m0 0h0m0 1.1h0m.1-3.7h0m0 2.1h0m0 .4h0m0 .7h0m0 .1h0m0 .2h0m0 .1h0m0 .3h0m0 .1h0m.1-1.4h0m0 1.1h0m0 .8h0m0 1h0m.1-4.3h0m0 0h0m0 1.2h0m0 2.2h0m0 2.2h0m.1-7.8h0m0 3.6h0m0 2.5h0m.1-6h0m0 2.3h0m0 .2h0m0 1.3h0m0 .6h0m0 2.5h0m.1-4.8h0m.1 .4h0m0 .6h0m0 .1h0m0 .8h0m0 3.6h0m.1-7h0m0 1.8h0m0 .8h0m0 .4h0m.1-1.2h0m0 1.1h0m0 1h0m0 2.5h0m.1-4.5h0m.1-1.5h0m0 .5h0m0 4.7h0m.1-4.5h0m0 .4h0m0 4.6h0m.1-4.8h0m0 1.5h0m0 .1h0m0 .7h0m0 2.2h0m.1-4.2h0m0 2h0m0 1.6h0m.1-3.8h0m0 .2h0m0 1.8h0m.1-3.7h0m0 1.3h0m0 2.2h0m0 1.7h0m0 .1h0m0 .2h0m.1-5.2h0m0 1.7h0m0 1h0m0 0h0m0 1.1h0m0 .2h0m0 .9h0m.1-2.8h0m0 1.4h0m0 1.2h0m.1-1.6h0m0 .8h0m0 .2h0m0 .3h0m0 1.4h0m.1-5.9h0m0 .8h0m0 1.5h0m0 1.7h0m0 1.2h0m0 .9h0m.1-5h0m0 .4h0m0 0h0m0 .4h0m0 .1h0m0 1.5h0m0 2.3h0m.1-4.1h0m0 2h0m.1-2.9h0m0 1.1h0m0 .8h0m0 0h0m0 .2h0m0 .6h0m0 .2h0m.1-.8h0m0 .8h0m0 .2h0m0 .3h0m0 1.5h0m0 .5h0m0 .2h0m0 .4h0m.1-3.7h0m0 .4h0m0 1.2h0m.1-2.5h0m0 .1h0m0 .4h0m0 1.7h0m0 .3h0m.1-4.3h0m0 .9h0m0 1.1h0m0 1.1h0m0 1h0m.1-2.8h0m0 1.4h0m0 .1h0m0 2.4h0m.1 2.8h0m.1-5.1h0m0 1.2h0m0 1.2h0m0 .8h0m0 .2h0m.1-4.1h0m0 .8h0m0 .7h0m.1-2.5h0m0 .1h0m0 .6h0m0 1.6h0m0 .6h0m.1-2.2h0m0 .4h0m.1-.9h0m0 1.1h0m0 .5h0m0 .5h0m.1-1.6h0m0 .2h0m0 1.2h0m.1-2h0m0 1.4h0m0 2.4h0m0 .4h0m.1-3.8h0m.1-.8h0m0 1h0m0 .2h0m0 .2h0m0 .6h0m.1-1.4h0m0 .2h0m0 1.5h0m.1-3h0m0 .1h0m0 .7h0m0 2.7h0m.1-5.2h0m0 2h0m0 .2h0m0 .7h0m0 .3h0m0 .2h0m0 2.1h0m.1-3.3h0m0 1.5h0m.1-5.2h0m.1 3.2h0m0 .3h0m0 .4h0m0 1.4h0m0 .5h0m0 .7h0m.1-4h0m0 1.1h0m0 .2h0m0 .6h0m0 1.6h0m0 1.2h0m.1-.7h0m.1-1.6h0m0 1.2h0m0 .1h0m.1-2.8h0m0 1.5h0m0 2.7h0m.1-2.4h0m0 .1h0m0 .2h0m0 .9h0m.1-.8h0m0 .7h0m.1-.9h0m0 .2h0m0 .3h0m0 .7h0m0 1.3h0m.1-5.5h0m0 .6h0m0 1h0m0 .5h0m0 .4h0m0 3.8h0m.1-6.4h0m0 .4h0m0 2.2h0m0 .7h0m0 1.1h0m.1-3.8h0m0 1.6h0m0 .9h0m.1-2.5h0m0 2h0m.1-.4h0m.1-.8h0m0 1.4h0m.1 0h0m0 .7h0m0 1.2h0m.3-6.9h0m0 4.1h0m0 .9h0m0 1.2h0m.1-2h0m.1 1h0m0 3.9h0m.1-6.3h0m0 .9h0m0 1.5h0m0 .9h0m0 .2h0m.1-2.1h0m.1-1.4h0m0 1.4h0m0 .3h0m0 .6h0m0 .1h0m.1-2.5h0m0 2.2h0m.1-2.6h0m0 1.8h0m0 2.1h0m.1-3.2h0m0 1.8h0m.1-2.3h0m0 2.4h0m.1-.2h0m0 .1h0m.1 2.5h0m.1-2.6h0m0 1.7h0m.1-1.9h0m0 .4h0m0 .1h0m.1-2.2h0m0 1.7h0m0 .4h0m0 .3h0m0 .9h0m0 .4h0m0 0h0m.1-.7h0m.2-3.3h0m.1 2.3h0m.1-2.5h0m0 .5h0m.1 .9h0m0 3.4h0m.1-6.1h0m0 3.7h0m0 1.9h0m0 .6h0m.1-4.5h0m.2 .7h0m.1 2.3h0m.1-2.8h0m0 1.6h0m.2 .9h0m.1-3.2h0m.4 1.5h0m0 3.2h0m.2-4.9h0m.1 2.1h0m.3-.2h0m.2-.6h0m.1 1.2h0m1.5-1.2h0" stroke="#d82020" stroke-opacity="0.55" stroke-width="0.8" stroke-linecap="square" fill="none"/>
<path d="M22.8 324.1h0m1.2 5.6h0m.2 16.1h0m.4-17.4h0m1.1-14.2h0m1-8.1h0m.4 29.1h0m.3 3.1h0m.4 8.9h0m1.1-23.9h0m.5-15.9h0m.8 39.4h0m.9 1.5h0m.5-30.5h0m.2 27.7h0m.1-22.1h0m1.2 5.4h0m.1 9.1h0m.9-19.3h0m.6 23.2h0m.3-33.4h0m2.9 5.3h0m.1 3.2h0m.5-5.9h0m.3 9h0m0 7.1h0m0 13h0m.7-31.1h0m0 .6h0m.2 6.9h0m.6 2.6h0m.1-7.4h0m.2 5.7h0m.1 12h0m.1-12.3h0m.1 15.1h0m.1-13.2h0m0 .8h0m.1-4.5h0m0 7.9h0m.1-17.6h0m0 5.2h0m.1-.3h0m.2 1h0m.1 4.3h0m.1 31.2h0m.2-33.5h0m.3-2.4h0m0 16.1h0m.4-17h0m0 2.3h0m0 34.7h0m.1-33.3h0m.1-4.8h0m0 25.7h0m.1-21.6h0m.2-3.7h0m0 3.9h0m.1 34.5h0m.1-37.3h0m.1 6h0m0 11h0m.1-15.9h0m.2 3.8h0m.1 .7h0m0 3.8h0m0 8.3h0m.1-17.5h0m.1 2.1h0m0 1.6h0m.1-7.8h0m0 7.3h0m.1 .6h0m.2-1h0m.2 1.4h0m0 22.1h0m.1-27.5h0m.1 3.6h0m0 5.6h0m.1 4.3h0m.2-4.8h0m.2 7.2h0m.3-16h0m0 5.3h0m0 3.3h0m.1-1.2h0m.2 .2h0m.1-1.6h0m.1 1.6h0m.3-5.7h0m0 7.7h0m.1 22.4h0m.4-25.1h0m.2-4.1h0m0 1.7h0m.1-1h0m0 .3h0m.1 1h0m.1-1.2h0m.1 4.5h0m.1-6.1h0m0 .8h0m0 1h0m0 2.5h0m.2-1.5h0m.2-3.3h0m.1 6.5h0m0 19.5h0m.1-9.6h0m.1-11.8h0m0 4.4h0m0 25.6h0m.1-29.6h0m0 2.1h0m.1-6.6h0m0 20.5h0m.1-8.8h0m0 20.5h0m0 .1h0m.1-30.2h0m0 4h0m.1-9.9h0m0 5.2h0m0 1h0m.2-1.9h0m0 4.8h0m.1-7.1h0m.1 7.3h0m.1-3.4h0m0 1.8h0m.1-3.4h0m0 4.9h0m0 1.7h0m.2-5.5h0m.1-1.8h0m.3 .5h0m0 2.9h0m.2 2.2h0m0 1.5h0m.1-12.4h0m.1 8.9h0m0 .3h0m.1-3.7h0m0 8.2h0m.1-5.3h0m.2-.1h0m0 .2h0m0 1.6h0m0 .9h0m.1-12.2h0m0 17.8h0m.1-.4h0m0 13.3h0m.1-13.6h0m.2-6h0m.1-2.8h0m.3 3.2h0m.1 2.5h0m0 1.6h0m.2-9h0m0 2.5h0m.1 1h0m.1 .4h0m.4 1h0m.1 11.3h0m.3-14.3h0m.1 3.3h0m0 8.4h0m.1-11.7h0m0 .1h0m.2-3.6h0m0 8.4h0m.6-.2h0m.2-3.5h0m0 3h0m0 24.7h0m.1-31.2h0m0 7.1h0m.1-2.5h0m0 1.7h0m0 17.3h0m.1-25.6h0m.4 15.4h0m.3 15.4h0m.2-21.9h0m.1-6.5h0m.1 2.5h0m0 14.8h0m.1-15.6h0m0 .2h0m0 13.1h0m.5 5.2h0m.1-21.5h0m.3 8h0m0 12.6h0m.4-9.9h0m.5 9.1h0m.3-15.9h0m.5 23.2h0m.2-13h0m.3 21.5h0m.1-30.9h0m1.2 11.3h0m.2 3.9h0m.3 2.9h0m.8-15.2h0m.8 17.9h0m.4-22h0m1 14.4h0m.4-14.8h0m.6 9h0m.9 14.3h0m6-2.2h0" stroke="#e03040" stroke-opacity="0.35" stroke-width="0.8" stroke-linecap="square" fill="none"/>
<path d="M32.8 332.4h0m.3-.6h0m0 10.7h0m.2-12h0m.1 8.2h0m.1-2.5h0m0 .5h0m.3-18.1h0m0 8.5h0m0 8.3h0m.3 .4h0m.2-3.9h0m0 .6h0m.2 5.4h0m0 1.9h0m.2 2.7h0m.1-7.8h0m.1 3.8h0m.1-5.1h0m0 .4h0m0 1.1h0m.1-10.2h0m0 10.8h0m.1 3.5h0m.1-5h0m.1-1.8h0m0 3.6h0m.1 1.3h0m0 4.9h0m.2-12.7h0m0 4.9h0m0 7.5h0m0 .5h0m.1-16.3h0m0 6.3h0m0 3.9h0m0 2.1h0m0 2.4h0m.1-7.9h0m0 3.1h0m0 4.9h0m.1-9.7h0m0 2.3h0m0 11.1h0m0 .6h0m.1-8.4h0m0 .8h0m0 2h0m.1-14.9h0m0 3h0m0 3.5h0m0 6.7h0m.1-6.5h0m0 .4h0m0 2.7h0m0 7.1h0m.1-4.9h0m0 .8h0m.1-.3h0m0 2.2h0m0 .4h0m.1 .4h0m.1-17.6h0m0 11.5h0m0 2.7h0m0 .7h0m0 .5h0m0 2.2h0m.1-4.4h0m.1-3.2h0m0 3.8h0m0 4.8h0m.1-5.6h0m0 1.6h0m.1-11.1h0m0 4.6h0m0 .2h0m0 7.1h0m0 1.7h0m0 1.7h0m0 .7h0m.1-18.2h0m0 2.8h0m0 4.1h0m0 1.5h0m0 .9h0m0 .9h0m0 6.9h0m.1-7.8h0m0 0h0m0 4.1h0m0 2.3h0m.1-29.2h0m0 18.7h0m0 4.1h0m0 2.8h0m.2-4h0m0 9.4h0m.1-6.5h0m0 1h0m0 4.8h0m.1-9h0m0 .2h0m0 9.1h0m0 .2h0m.1-14h0m0 1.3h0m0 1.9h0m0 7h0m0 4h0m.1-12.8h0m0 .4h0m0 3.4h0m0 1.3h0m0 7.6h0m.1-7.7h0m0 6.6h0m.1-19.5h0m0 14.7h0m0 1.3h0m0 3.9h0m.1-2.7h0m.1-.9h0m0 2h0m.1-4.3h0m0 3.7h0m0 5.9h0m.1-18.3h0m0 7.2h0m0 .1h0m0 1.2h0m0 1.6h0m.1-10.4h0m0 10.9h0m0 .5h0m0 .4h0m0 .1h0m0 1h0m0 .5h0m.1-11.8h0m0 3.3h0m0 2.2h0m0 2.8h0m0 3.3h0m.1-10.4h0m0 6.2h0m0 4.4h0m.1-4.3h0m0 6.3h0m0 .7h0m0 5.1h0m.1-16.8h0m0 1.1h0m0 5.2h0m.1-7.8h0m0 5.8h0m.1-4.4h0m0 2.3h0m0 0h0m0 4.6h0m0 .1h0m0 .8h0m0 5.9h0m.1-13.1h0m0 5.9h0m0 2.7h0m0 .7h0m.1-18.7h0m0 12.2h0m0 .7h0m0 .4h0m0 3h0m0 7.5h0m.1-10.5h0m0 2.6h0m0 2.1h0m0 3h0m.1-16.1h0m0 .5h0m0 3.9h0m0 4.1h0m0 2.9h0m.1-8.5h0m0 3.8h0m0 5.1h0m0 .1h0m.1-7.9h0m0 6.1h0m0 8.1h0m.1-6.9h0m0 1.6h0m0 5.1h0m.1-24.3h0m0 7.9h0m0 2.8h0m0 2.7h0m0 .2h0m0 6.7h0m.1-5.9h0m0 4.2h0m0 10.2h0m.1-17.8h0m0 4.8h0m0 1.2h0m.1-8.5h0m0 4.8h0m0 7.8h0m.1-8.1h0m0 4.2h0m.1-1.8h0m0 6.7h0m.1-9.9h0m0 2.9h0m0 2h0m0 10.9h0m.1-19.9h0m0 4.8h0m.1 1.8h0m0 4.8h0m0 4.1h0m.1-10.4h0m.1-2.9h0m0 5h0m0 10.3h0m.1-12.1h0m0 1.1h0m0 4.4h0m.1-10.2h0m0 3.3h0m.1 .4h0m0 8.5h0m.1 2.1h0m.2-6.3h0m0 2.2h0m.1-11.7h0m0 6.3h0m.1-12.5h0m0 11.1h0m0 10.9h0m.1-11.9h0m.1-4.8h0m0 5.2h0m0 5.1h0m0 6.2h0m.4 .1h0m0 3.2h0m.2-11.3h0m.1 5h0m.2-5h0m.2-6.2h0m.1-1.1h0m0 10.9h0m0 2.7h0m.1-15.1h0m.2 10.5h0m.6 .1h0m.1 2.9h0m.5-8.4h0m0 7.9h0m.1 .1h0m.1-4.3h0m0 5.6h0m.1-2.3h0m0 1.3h0m.2-9.3h0m.2 5.6h0m.1-5.2h0m.1 4.4h0m.5-.5h0m0 1.9h0m.6-4.8h0m.3 6.3h0m.1 3.8h0m.1-10.9h0m0 13h0m.1-5.3h0m.3-8.9h0m0 4.4h0m.2-.4h0m0 8.7h0m.4-15.7h0m.2 9.6h0m.1-6.6h0m.1 .1h0m0 .8h0m.1 2.4h0m.2 9.4h0m.1-12.4h0m0 1.9h0m.3 13h0m.1-12.7h0m0 .7h0m0 3h0m.1-7.8h0m0 .8h0m0 1.3h0m0 4h0m0 .5h0m.2 2.4h0m.1 3.9h0m0 3.3h0m.1-12.3h0m.2-5.6h0m0 11.8h0m.1-8.6h0m.1 2.8h0m0 4.7h0m.1-5.5h0m.2 10.8h0m.1-2.3h0m.2-5h0m0 .3h0m0 0h0m0 3.8h0m.2-7.8h0m0 3.5h0m0 4.6h0m.1 3.7h0m0 .4h0m.1-13.2h0m0 6.3h0m0 3.7h0m.1-4.3h0m0 4.5h0m.1-13.6h0m.1 6.1h0m0 10.3h0m.1-2.6h0m.1-5.5h0m0 1.5h0m.1-3h0m0 11.6h0m.1-8.4h0m.3-3.6h0m0 1.5h0m0 3.7h0m.1-9.1h0m0 9.5h0m0 1.6h0m.1-2.4h0m.1-4.1h0m0 1.2h0m.1-4.5h0m0 5.8h0m0 1.4h0m.2-4h0m0 7.7h0m.2-10.4h0m.1-.7h0m0 2.2h0m0 4.6h0m0 5.3h0m.1-8.6h0m.1-3.8h0m0 .7h0m.2 7.3h0m.1-3.3h0m.1-1h0m0 4.8h0m.1 .1h0m.1 .5h0m0 .2h0m.1-10.2h0m.1 4.4h0m0 4.2h0m.3-6.2h0m0 2.1h0m0 3.1h0m.3-3.3h0m0 5.7h0m.1-8.9h0m0 4.1h0m0 5.2h0m0 2.1h0m0 1.6h0m0 4.6h0m.2-24h0m.1 12.2h0m.1-1.2h0m.2-1.8h0m.1 8.6h0m0 6.3h0m.1-14.8h0m.1-5.3h0m0 1.4h0m0 2.2h0m.2 0h0m0 2.1h0m.1 2.8h0m0 4.2h0m.1-4.1h0m.1-2.8h0m.4-5.6h0m0 8.5h0m0 3.5h0m.1-8.3h0m.4 8.2h0m.1-4.5h0m.1 3.8h0m.1-1.2h0m0 4.3h0m.1-2.6h0m0 1.5h0m.1-3.3h0m0 1.4h0m0 4.7h0m.2-14.2h0m.4 16.1h0m.1-11.2h0m0 3h0m.2 3h0m.1-1h0m.4-1.1h0m.2-9.9h0m.2 16.1h0m.2 2.1h0m.2-13.3h0m.1-3.6h0m0 2.6h0m.1-2.9h0m.3 .2h0m0 1.5h0m.8 3.2h0m.2 1.2h0m.4 4.1h0m.8 .4h0m.2-6.6h0m.3 6.4h0" stroke="#e03040" stroke-opacity="0.38" stroke-width="0.8" stroke-linecap="square" fill="none"/>
<ellipse cx="37" cy="313.8" rx="5.2" ry="2.5" fill="#d81e1e" fill-opacity="0.9" filter="url(#b10)" transform="rotate(-18 37 313.8)"/>
<ellipse cx="38.5" cy="335" rx="2.2" ry="3.8" fill="#e03040" fill-opacity="0.3" filter="url(#b10)"/>
<path d="M98.6 319.7h0m.5 4.4h0m.1 11.6h0m.2-16.5h0m1.1-4.7h0m1.6 30.5h0m.2-14.8h0m.9-13.1h0m.4 9.4h0m.6 9.9h0m.1-11.5h0m.9 9.3h0m.3-12.6h0m.5 .1h0m0 4.4h0m.4 10.2h0m.1-13.3h0m.3 3.6h0m.3-2.9h0m0 2.3h0m.1-7.4h0m0 4.4h0m.2 10.8h0m.2-3.4h0m.3-15.1h0m.1 13.5h0m.1-12.9h0m0 .4h0m0 8.9h0m0 4h0m.1-9.9h0m.2 14.1h0m.3-11.9h0m0 3.7h0m.1 .7h0m.1-2.3h0m.1-8.1h0m0 1.5h0m0 5.5h0m.1-10.6h0m0 5.8h0m.2 4.3h0m0 8.3h0m.1 1.3h0m.1-10.6h0m.1-3.6h0m0 3.7h0m0 7.6h0m.1-8.6h0m0 3.5h0m0 .4h0m.1 3.2h0m0 .7h0m0 10h0m.1-18.5h0m0 3.6h0m0 4.2h0m0 3.1h0m.2-3.8h0m0 .8h0m.2-2.7h0m0 1.8h0m0 3.2h0m.1-1.8h0m.1-16.5h0m0 8.1h0m0 .6h0m.1 5h0m0 11.2h0m.1-20.8h0m.1 16.7h0m.2-6.6h0m.1-8.1h0m0 .8h0m0 10.7h0m0 9.5h0m.1-18h0m.1-12.1h0m.1 13.8h0m0 16.7h0m.1-17.7h0m.1 2.6h0m0 3.8h0m.1-4.8h0m0 .6h0m0 1.2h0m0 9.5h0m0 9.9h0m.1-33.3h0m.1 5.8h0m0 10.5h0m0 2.4h0m.1-11.5h0m0 7.5h0m0 .7h0m.1-2.9h0m0 3.8h0m0 3.9h0m0 2.2h0m.1-10.2h0m.1-6h0m0 5.2h0m0 5.1h0m.1-6.9h0m0 3.7h0m0 .6h0m0 3.8h0m.1-11.7h0m0 16.6h0m0 .9h0m0 2.7h0m.1-21.7h0m.1-4.2h0m0 19.9h0m0 6.3h0m0 1.4h0m.1-22.2h0m0 5.7h0m0 .1h0m0 .4h0m0 13.9h0m0 8.6h0m.1-26.3h0m0 6h0m.1-16.4h0m0 13.3h0m0 1.2h0m0 7.4h0m.1-1.7h0m0 0h0m0 2.4h0m0 6.2h0m.1-18.4h0m0 .5h0m0 .7h0m0 2.6h0m0 2.3h0m.1-16.1h0m0 1.5h0m0 7.2h0m0 12.2h0m0 4h0m0 10h0m.1-32.5h0m0 10.6h0m0 15.3h0m0 7.9h0m.1-29.3h0m0 13h0m.1-15.3h0m0 14.2h0m0 2.1h0m0 1.5h0m0 2.2h0m.1-13.5h0m0 4.2h0m0 15.8h0m.1-24.9h0m0 6.1h0m0 3.5h0m0 1.6h0m.1-17h0m0 13.2h0m0 4.9h0m.1-1.5h0m0 .1h0m.1-6h0m0 1.6h0m.1-1.1h0m0 1.1h0m0 .3h0m0 14.3h0m.1-21.2h0m.1 1.2h0m0 9.1h0m.1-5.6h0m0 1.1h0m0 5.2h0m0 1.7h0m0 .4h0m0 7.3h0m0 8.5h0m.1-26h0m0 5.1h0m0 9.1h0m0 .1h0m0 7.7h0m0 5.9h0m.1-26h0m0 .4h0m0 2.8h0m0 3.5h0m0 6.5h0m.1-14.8h0m0 .3h0m0 11.3h0m0 3.3h0m0 .9h0m.1-21.8h0m0 25.3h0m.1-23.4h0m0 .3h0m0 4.8h0m0 2.6h0m0 .7h0m0 5.6h0m0 11.9h0m.1-18.3h0m0 10.5h0m0 2.6h0m0 1.6h0m0 5.1h0m.1-11.1h0m0 .9h0m0 5.7h0m.1-13.3h0m0 .8h0m0 2.8h0m0 .3h0m0 1.3h0m0 11.5h0m.1-22h0m0 1.4h0m0 4.4h0m0 14.2h0m0 4.3h0m.1-28.3h0m0 .4h0m0 2.1h0m0 4.7h0m0 1h0m0 1.5h0m.1-7.9h0m0 9.9h0m0 1.7h0m0 1.3h0m0 8.5h0m.2-18.5h0m0 20.5h0m.1-29.5h0m0 16.7h0m0 4.3h0m0 2.3h0m0 2.9h0m0 3.9h0m.1-14.9h0m0 1.5h0m0 3.5h0m0 2.6h0m.1-15h0m0 5.7h0m0 2.5h0m0 8.8h0m.1-17.1h0m0 10.6h0m.1-18.9h0m0 8.8h0m0 2.1h0m0 2.2h0m0 6.7h0m0 .6h0m0 2h0m0 .5h0m0 3.2h0m.1-19.9h0m0 14.6h0m0 0h0m0 14.2h0m.1-29.7h0m0 1.3h0m0 2.5h0m0 1.9h0m0 1.8h0m0 1.3h0m0 6.9h0m0 4.4h0m0 3.4h0m.1-23.8h0m0 4.4h0m0 3h0m0 .4h0m0 7.8h0m0 2.9h0m0 4.9h0m0 1.7h0m.1-10.4h0m0 10.4h0m0 5.2h0m.1-35h0m0 6.3h0m0 7.1h0m0 6.4h0m0 1.1h0m.1-9.5h0m0 3.8h0m0 1.5h0m0 5.5h0m.1-19.1h0m0 5.1h0m0 1.3h0m0 1.9h0m0 .6h0m0 3.5h0m0 3.4h0m0 2.1h0m0 3.4h0m0 2.4h0m.1-19.1h0m0 2h0m0 10.3h0m0 4h0m0 1h0m.1-18.6h0m0 3.7h0m0 .1h0m0 5.7h0m0 5.6h0m0 2.9h0m0 1.9h0m0 3.8h0m.1-26.6h0m0 5.3h0m0 1.1h0m0 .8h0m0 3h0m0 5.6h0m0 1.3h0m0 1.2h0m0 1.7h0m0 .6h0m0 1.2h0m0 1.6h0m.1-13.8h0m0 1.6h0m0 2.5h0m0 1.3h0m0 5.3h0m0 5.7h0m.1-15.3h0m0 4.9h0m0 .5h0m0 2.5h0m.1-8.5h0m0 2.8h0m0 2.5h0m0 3.7h0m0 1.4h0m0 0h0m0 .2h0m.1-19.1h0m0 5.4h0m0 4.7h0m.1 10.2h0m0 3.9h0m.1-18.2h0m0 1.8h0m0 5.8h0m0 .4h0m0 2.8h0m0 2.6h0m0 1.1h0m.1-26h0m0 4.3h0m0 2.7h0m0 2.5h0m0 .6h0m0 2.3h0m0 7.2h0m0 2h0m0 5.1h0m0 .5h0m0 1h0m0 .2h0m0 .9h0m.1-29.7h0m0 13.2h0m0 1.8h0m0 0h0m0 2.3h0m0 2.4h0m0 .6h0m0 .3h0m0 1.3h0m0 2.9h0m0 2.1h0m.1-15.8h0m0 10h0m0 2.9h0m0 .3h0m0 13.9h0m.1-36.5h0m0 7.5h0m0 2.2h0m0 .6h0m0 8.6h0m0 1.1h0m0 1.5h0m0 6h0m.1-29.3h0m0 16.4h0m0 2.9h0m0 2.7h0m0 .3h0m0 1.7h0m0 4.1h0m0 .5h0m.1-18h0m0 4.3h0m0 1.7h0m0 .8h0m0 .5h0m0 1.5h0m0 2h0m0 4.4h0m0 3.2h0m.1-28.4h0m0 11.4h0m0 3.6h0m0 3.8h0m0 2.1h0m0 1.6h0m0 2.9h0m0 1.5h0m0 4.9h0m.1-28.6h0m0 11.1h0m0 4h0m0 4.6h0m0 .1h0m0 .2h0m.1-10.6h0m0 2.1h0m0 2.6h0m0 .7h0m0 1.3h0m0 2.4h0m0 .5h0m0 0h0m0 6h0m0 2.4h0m.1-24.5h0m0 7.6h0m0 2h0m0 1.1h0m0 1.1h0m0 2.2h0m0 .1h0m0 5.5h0m0 1.2h0m0 2h0m.1-11.6h0m0 4.2h0m0 1h0m0 1.5h0m0 .6h0m.1-12.3h0m0 1.1h0m0 5.4h0m0 .5h0m0 1.6h0m0 3h0m0 .4h0m.1-17.5h0m0 3.3h0m0 6.8h0m0 1.1h0m0 .7h0m0 1.6h0m0 2.1h0m0 .4h0m0 2.7h0m.1-17.3h0m0 5.3h0m0 0h0m0 3.3h0m0 1.7h0m0 6.2h0m0 0h0m0 1.6h0m0 .4h0m0 2.8h0m0 3.9h0m0 1.6h0m.1-30.1h0m0 1.7h0m0 7.9h0m0 .5h0m0 2.1h0m0 .8h0m0 11.3h0m.1-15.2h0m0 1.6h0m0 3.5h0m0 .5h0m0 5.8h0m0 .9h0m0 4.2h0m.1-23.1h0m0 .3h0m0 7.2h0m0 .9h0m0 8h0m0 4.4h0m0 1.2h0m0 .5h0m0 8.4h0m.1-29.5h0m0 9.3h0m0 .3h0m0 1.2h0m.1-5.8h0m0 3.4h0m0 2.6h0m0 2.3h0m0 .3h0m.1-14.1h0m0 .9h0m0 16.3h0m0 1.1h0m0 6h0m.1-26.2h0m0 4.8h0m0 4.2h0m0 .1h0m0 1.2h0m0 .2h0m0 4.5h0m0 3.5h0m0 1.5h0m0 2.4h0m0 5.4h0m.1-33.4h0m0 2.6h0m0 10h0m0 .6h0m0 5.5h0m0 7.7h0m0 .9h0m.1-26.3h0m0 8.4h0m0 .8h0m0 .9h0m0 8h0m0 .2h0m0 1.3h0m0 .9h0m0 1.2h0m0 1.3h0m0 1.4h0m0 3.4h0m.1-24h0m0 2.5h0m0 1.2h0m0 1.5h0m0 2.8h0m0 2.8h0m0 3.2h0m0 .4h0m0 2.2h0m0 .7h0m0 5.3h0m.1-18.9h0m0 3.8h0m0 4.7h0m0 .9h0m0 1.4h0m0 2.6h0m0 .5h0m.1-19h0m0 10.8h0m0 2.1h0m0 .8h0m0 .5h0m0 1.4h0m0 1.7h0m0 2.9h0m0 .5h0m0 1.5h0m.1-17.5h0m0 1h0m0 .9h0m0 .6h0m0 8.3h0m0 .9h0m0 9h0m.1-22.7h0m0 4.1h0m0 2.3h0m0 1.4h0m0 2.6h0m0 .1h0m0 0h0m0 6h0m0 1.6h0m.1-18.5h0m0 1.6h0m0 5.9h0m0 3h0m0 1h0m0 3.7h0m0 2.1h0m0 1.1h0m0 .4h0m0 .2h0m0 .9h0m.1-23.3h0m0 9.8h0m0 6.8h0m0 1.4h0m0 .1h0m0 .1h0m0 4.4h0m0 .6h0m0 .1h0m0 .8h0m0 0h0m.1-20.8h0m0 11.7h0m0 2h0m0 1h0m0 .8h0m.1-17.1h0m0 .3h0m0 .7h0m0 6.8h0m0 7.1h0m0 .9h0m0 1h0m0 .1h0m0 2.5h0m0 3.8h0m0 3h0m.1-9.7h0m0 1.4h0m0 3.1h0m0 1.8h0m.1-25.8h0m0 5.6h0m0 2.4h0m0 1.3h0m0 2.2h0m0 .8h0m0 4.5h0m0 2.3h0m0 2.1h0m0 .1h0m0 5.4h0m0 .1h0m.1-19.1h0m0 .2h0m0 7.9h0m0 4.1h0m0 .9h0m0 4h0m0 .1h0m0 1.5h0m0 5.6h0m.1-17.2h0m0 2.9h0m0 1h0m0 .7h0m0 1.6h0m0 1.4h0m0 .7h0m.1-9.9h0m0 2h0m0 2.6h0m0 .8h0m0 2h0m0 .4h0m0 .8h0m0 .8h0m0 2.2h0m0 1.9h0m0 1.1h0m.1-27.4h0m0 2.4h0m0 7h0m0 .4h0m0 .4h0m0 5.1h0m0 4h0m0 6.9h0m.1-19.1h0m0 .8h0m0 5h0m0 1.4h0m0 2.1h0m0 .2h0m0 .5h0m0 .5h0m0 .9h0m0 .9h0m0 4.2h0m.1-26.5h0m0 6.2h0m0 14h0m0 3.6h0m0 4.6h0m.1-18.1h0m0 .7h0m0 1.8h0m0 2.5h0m0 .6h0m0 6.2h0m0 .3h0m0 3.9h0m.1-15.4h0m0 12.5h0m0 4h0m0 .8h0m0 .4h0m.1-16.3h0m0 2.4h0m0 .1h0m0 .7h0m0 3.5h0m0 1.8h0m0 2.3h0m0 1.2h0m0 .5h0m0 .6h0m.1-20.8h0m0 8h0m0 .1h0m0 2.2h0m0 .2h0m0 2.9h0m0 .3h0m0 1.4h0m0 2.1h0m0 .6h0m0 1.6h0m0 1.9h0m.1-21.7h0m0 15.4h0m0 3.7h0m0 1.2h0m0 .6h0m0 1.1h0m0 .9h0m0 0h0m0 1h0m0 .3h0m0 .7h0m.1-20.8h0m0 .9h0m0 9.2h0m0 .9h0m0 2.8h0m0 2.1h0m0 .1h0m0 2.7h0m0 4.2h0m.1-11.8h0m0 1.6h0m0 .2h0m0 .5h0m0 2.9h0m0 4.9h0m.1-24h0m0 14.5h0m0 .7h0m0 .4h0m0 1h0m0 3.5h0m0 8.5h0m.1-32.7h0m0 14.4h0m0 .8h0m0 1.7h0m0 1h0m0 1.8h0m0 .4h0m0 3h0m0 1h0m0 6.5h0m.1-26.6h0m0 7.3h0m0 2.8h0m0 2.1h0m0 2h0m0 1.5h0m0 3.1h0m0 .6h0m.1-27.7h0m0 7.5h0m0 3.3h0m0 6.8h0m0 2.3h0m0 .7h0m0 2.4h0m0 5.5h0m.1-13.8h0m0 2.4h0m0 1.7h0m0 1.6h0m0 0h0m0 .9h0m0 3.2h0m0 1.6h0m0 10.4h0m0 2.1h0m.1-28h0m0 4.2h0m0 .6h0m0 3.8h0m0 .2h0m0 1.5h0m0 2.7h0m0 2.2h0m0 .1h0m0 .1h0m0 .5h0m0 2.7h0m0 .6h0m0 1.3h0m0 3.5h0m.1-17.3h0m0 6.1h0m0 2.1h0m0 1.9h0m.1-22.4h0m0 7.3h0m0 6.6h0m0 3.2h0m0 3.7h0m0 .1h0m0 .2h0m0 4.3h0m0 .1h0m0 1.3h0m.1-20.3h0m0 4.5h0m0 0h0m0 .6h0m0 4.2h0m0 0h0m0 3.4h0m0 5.6h0m0 1.7h0m.1-19h0m0 11.3h0m.1-14.4h0m0 6.9h0m0 2.4h0m0 .1h0m0 1h0m0 .6h0m0 2h0m.1-5.8h0m0 .5h0m0 3.7h0m0 .3h0m0 4.1h0m0 4.1h0m.1-18.8h0m0 5.7h0m0 1.6h0m0 6.7h0m0 .6h0m0 3.3h0m0 .4h0m0 .5h0m0 1.3h0m0 3.4h0m.1-26h0m0 6.7h0m0 .1h0m0 3.2h0m0 2.8h0m0 4.6h0m.1-9h0m0 5.6h0m0 1.7h0m0 2.9h0m.1-10.3h0m0 .4h0m0 4.5h0m0 .6h0m0 .5h0m0 10.8h0m0 .5h0m.1-16.5h0m0 1.3h0m0 1h0m0 5.8h0m0 2.1h0m.1-13.3h0m0 3.7h0m0 .7h0m0 7.4h0m0 12.9h0m.1-15.4h0m0 .3h0m0 .7h0m0 2h0m0 .8h0m0 .7h0m0 4h0m0 7.6h0m.1-19.5h0m0 .3h0m.1-13.4h0m0 14.3h0m0 .8h0m.1-5h0m0 5.9h0m0 .3h0m0 5.6h0m0 2.7h0m.1-13.2h0m0 4.3h0m0 2.7h0m0 7.4h0m.1-18.5h0m0 15.4h0m.1-15.1h0m0 3.5h0m0 1.1h0m0 6.2h0m0 1.1h0m0 1.5h0m0 4.7h0m.1-14.5h0m0 2h0m0 1.3h0m0 7.8h0m0 .3h0m.1-18h0m0 17h0m.1-5.1h0m0 3h0m0 2h0m0 1h0m.1-18.5h0m0 4h0m0 6.6h0m0 4h0m0 1h0m0 1.4h0m0 .5h0m.1-21.2h0m0 15.7h0m0 4.3h0m0 2h0m.1-11.7h0m0 1.1h0m0 .5h0m0 7.5h0m.1-2.3h0m0 .2h0m0 1h0m0 0h0m.1-3.5h0m0 2.5h0m0 2h0m0 5.1h0m.1-15.8h0m0 3.5h0m0 9.9h0m.1-11h0m0 .6h0m0 8.5h0m0 .2h0m0 .5h0m0 2h0m.1-21.6h0m0 13h0m.1-3.3h0m0 1.7h0m0 3.1h0m0 5.1h0m0 9.3h0m.1-20.5h0m0 4.2h0m0 7.6h0m.1-20.6h0m0 2.2h0m0 10.8h0m0 15.5h0m.1-35.3h0m0 6.5h0m.1 22h0m.1-18.8h0m0 2.1h0m0 10h0m0 5.6h0m.1-4.5h0m0 2h0m0 4.1h0m.1-15.7h0m0 6.4h0m0 3h0m0 4.1h0m.1-18h0m0 19.2h0m0 2h0m.1-8.8h0m0 4h0m0 2.8h0m0 1h0m.1-11.7h0m0 1.5h0m0 0h0m.1-7.1h0m0 5.8h0m.2-6.5h0m0 .9h0m.1 8.5h0m.1-7.6h0m0 9.2h0m0 9.5h0m.1-10.5h0m0 .7h0m.3-7.7h0m.1 9.4h0m0 6.4h0m0 2.4h0m.1-26.2h0m0 10.5h0m.1-8.7h0m0 7.4h0m0 2.9h0m.1-8.5h0m0 10.3h0m.3-9.8h0m0 11h0m.1-2.3h0m0 7.7h0m0 2.1h0m.1-7.1h0m0 3.8h0m0 1.8h0m.1 .1h0m.2-6.2h0m.1-9.3h0m.1 5.2h0m.3 7.5h0m.1 .3h0m.1-5.2h0m.4-16.1h0m0 8.6h0m.2 8.2h0m0 11.2h0m.4-6.1h0m0 6.9h0m.1-12.2h0m.2-8h0m.3-.2h0m0 10.9h0m2.7-6.8h0m.4 5.8h0m.2-15.7h0m1.3 12.7h0m.7-27.6h0m1 21.5h0m.2 6.1h0" stroke="#e03040" stroke-opacity="0.4" stroke-width="0.8" stroke-linecap="square" fill="none"/>
<ellipse cx="122.5" cy="331" rx="3.5" ry="5" fill="#e03040" fill-opacity="0.45" filter="url(#b15)"/>
<clipPath id="cF3"><rect x="162.2" y="293.4" width="61.5" height="58.80000000000001"/></clipPath>
<path d="M162.8 327.9h0m0 10.2h0m.1-12h0m.4-3.4h0m0 3h0m.2-13.9h0m0 8.8h0m.2 9h0m.2 2.5h0m0 1.7h0m.2-7.9h0m.2-6.2h0m0 .3h0m0 11.9h0m.3 3.2h0m.1-21.8h0m0 17.2h0m0 12.3h0m.1-32.6h0m0 15.9h0m.1 4.3h0m.1-.6h0m.1-15.8h0m0 2.6h0m.2 3.8h0m.3 13.3h0m.2-17.5h0m.2-.6h0m0 14.5h0m0 4.6h0m.1-3.1h0m0 7.3h0m0 .6h0m.3-22.7h0m0 3.2h0m.1-.5h0m0 4.9h0m0 11.6h0m.2-16.4h0m.1-6h0m0 5.3h0m0 8.2h0m.1-9.5h0m.1-1h0m0 16.6h0m.1-14.1h0m0 4.5h0m.1 13.7h0m0 5.4h0m.1-25.1h0m.1 12.3h0m.1-12.2h0m0 13.3h0m0 3.9h0m.1-17.7h0m.1-2.7h0m0 5.2h0m0 9.7h0m.1-.2h0m0 .4h0m0 7.6h0m.1-16.3h0m0 14.3h0m.1-11h0m0 6.6h0m0 4.1h0m0 5.1h0m.1-20.3h0m0 8.9h0m0 2.4h0m0 2.1h0m.1-14.1h0m0 13h0m0 1.8h0m.1-10.3h0m0 2.3h0m.1-9.5h0m0 16h0m0 .6h0m0 2.1h0m0 4.4h0m.1-16.8h0m.1-11.2h0m0 19.8h0m0 .1h0m.1-6.2h0m.1 11.3h0m.1-3.8h0m.1-21.3h0m.1 21.5h0m.1-15.6h0m0 1.7h0m0 8.7h0m0 12h0m.1-21.7h0m0 4h0m0 9.3h0m0 7h0m.2-8.2h0m.1-5.7h0m0 6h0m.1-5.3h0m0 .1h0m0 4.9h0m.1-6.4h0m0 5.1h0m.2-16h0m0 9.3h0m0 6.4h0m0 5.2h0m0 1.4h0m.1-28.1h0m0 24.4h0m.1-15.8h0m.1 1.3h0m0 9.4h0m0 8.5h0m0 2h0m0 12.7h0m.1-34.8h0m0 .1h0m0 13.7h0m.1-15.3h0m0 1h0m0 6.1h0m0 12.8h0m.2-15.9h0m0 21.8h0m.1-20.2h0m.1-4.5h0m0 13h0m0 11.1h0m.1-20h0m.1 7.6h0m.1 10.7h0m.1-25.9h0m0 2.9h0m0 1.3h0m0 1.1h0m0 1.6h0m0 .7h0m0 5h0m0 6.9h0m0 10.9h0m.1-27.4h0m0 3.1h0m0 2.5h0m0 .8h0m0 3.1h0m0 2.9h0m0 0h0m0 8.9h0m.1-5.8h0m.1-11.1h0m0 16.2h0m.1-15.1h0m0 .6h0m0 3.9h0m0 19.8h0m.1-28h0m0 15.1h0m0 3.2h0m0 2.5h0m0 1h0m0 .5h0m.1-25h0m0 5.2h0m0 1.1h0m0 8.1h0m0 2.1h0m0 9.3h0m0 3h0m.1-27.7h0m0 2.9h0m0 10.7h0m.2-13.9h0m0 5.4h0m0 15.8h0m.1-23.2h0m0 17.7h0m.1-13.3h0m0 9.8h0m0 5.8h0m0 6.1h0m.1-23.4h0m0 1.1h0m0 .5h0m0 .9h0m0 .6h0m0 .7h0m0 1.9h0m0 11.4h0m0 4.1h0m.1-21.8h0m0 12.1h0m0 6.8h0m0 .6h0m.1-17.2h0m0 3.2h0m0 8.1h0m.1-12.2h0m0 2.3h0m0 10.1h0m0 4h0m.1-13.2h0m0 7.8h0m0 2h0m0 3.9h0m0 2.2h0m.1-20.6h0m0 .9h0m0 2.9h0m0 3.5h0m0 10.7h0m.1-20.1h0m0 3.5h0m0 .4h0m0 6h0m0 5.7h0m0 1.9h0m0 .4h0m0 2.5h0m.1-19.4h0m0 5.8h0m0 14.8h0m0 1.2h0m.1-19.6h0m0 2.1h0m.1 15.8h0m0 10h0m.1-29h0m0 3.6h0m0 1h0m0 8.9h0m0 3.6h0m0 .5h0m0 1.6h0m0 8.8h0m.1-30.2h0m0 .6h0m0 4.2h0m0 8.7h0m0 7.5h0m0 5.9h0m0 .4h0m.1-25.3h0m0 4.3h0m0 3.7h0m0 1.3h0m0 2.2h0m0 1.9h0m0 .9h0m0 5.4h0m0 .3h0m0 2.1h0m.1-30.4h0m0 5.3h0m0 1h0m0 2h0m0 .9h0m0 .8h0m0 1.8h0m0 2.1h0m0 12.9h0m.1-12h0m0 2.1h0m0 8.1h0m0 .4h0m0 1.1h0m0 1.9h0m.1-22.5h0m0 2.5h0m0 6.7h0m0 .7h0m0 .9h0m0 9h0m0 .1h0m0 1.2h0m0 11.1h0m.1-32.6h0m0 4.7h0m0 1.5h0m0 .3h0m0 2.9h0m0 4.3h0m0 6.9h0m0 .1h0m0 2.5h0m0 1.8h0m.1-23.1h0m0 24.4h0m0 6.5h0m.1-30.3h0m0 20.7h0m.1-23.3h0m0 4.7h0m0 1.9h0m0 .8h0m0 18.8h0m0 1.4h0m.1-22.9h0m0 2.2h0m0 16.7h0m.1-16.5h0m0 2h0m0 6.9h0m0 .7h0m0 .8h0m.1-13.2h0m0 3.1h0m0 .8h0m0 7.5h0m0 .3h0m0 7.7h0m.2-20h0m0 3.4h0m.1 12.5h0m0 8.3h0m.1-26.3h0m0 3.7h0m0 .9h0m0 12.1h0m0 1.3h0m0 13.9h0m.1-28.9h0m0 18.9h0m0 8.8h0m.1-31.3h0m0 1h0m0 .9h0m0 3h0m0 .1h0m0 .2h0m0 5.5h0m.1-12.4h0m0 3.2h0m0 2.2h0m0 .6h0m0 6.6h0m0 5.5h0m0 7.5h0m0 2.8h0m.1-26.7h0m0 4.4h0m0 3.6h0m0 5.6h0m0 7.8h0m0 .6h0m.1-24.2h0m0 4.6h0m0 1.2h0m0 .8h0m0 3.8h0m0 5.4h0m0 13.2h0m.1-22.6h0m0 8.8h0m0 4.5h0m0 .6h0m0 2.7h0m.1-18.3h0m0 2.4h0m0 .9h0m.1-6.8h0m0 1.6h0m0 2.4h0m0 4.3h0m0 13.7h0m0 7.5h0m.1-25h0m0 .7h0m0 .5h0m0 .6h0m0 1h0m0 2.7h0m0 13h0m0 3.6h0m.1-31.4h0m0 9.9h0m0 11.3h0m.1-11.7h0m0 2.8h0m0 2.5h0m0 5.7h0m0 6.6h0m0 3h0m.1-22.7h0m0 5h0m.1-3.5h0m0 .3h0m0 7.1h0m.1-4h0m0 3.5h0m0 2.2h0m0 2.2h0m.1-9.9h0m0 5.8h0m0 1.6h0m0 1.3h0m0 9.3h0m0 2.5h0m.1-24h0m0 .4h0m0 1.6h0m0 9.4h0m0 6.1h0m.1-20.4h0m0 4.2h0m0 2.9h0m0 3.1h0m0 8.6h0m0 1h0m0 8.1h0m.1-26h0m0 2.6h0m0 1.4h0m0 5.7h0m0 18.4h0m0 .8h0m.1-23.7h0m0 1h0m0 12.5h0m0 .2h0m0 .1h0m0 4h0m.1-22h0m0 12.9h0m0 2.6h0m0 1.3h0m0 2.9h0m0 1.2h0m0 .9h0m.1-20.3h0m0 8.2h0m0 11.4h0m0 2.7h0m0 .2h0m.1-26.5h0m0 2.5h0m0 3h0m0 1.7h0m0 .8h0m0 12.1h0m.1-13.2h0m0 .8h0m0 5.9h0m.1-8.3h0m0 1.7h0m0 1.1h0m0 .5h0m0 .7h0m0 .6h0m0 .7h0m0 1.1h0m0 2.8h0m0 3.6h0m0 12.1h0m0 3.9h0m.1-29.7h0m0 1.8h0m0 .2h0m0 1.8h0m0 0h0m0 1h0m0 2.5h0m0 6.4h0m0 4.3h0m0 4.3h0m0 5.5h0m.1-30.6h0m0 1.9h0m0 1.5h0m0 .7h0m0 .6h0m0 4h0m.1-2.6h0m0 2h0m0 5.1h0m0 10.1h0m0 6.6h0m.1-29.3h0m0 1h0m0 1h0m0 1.5h0m0 .7h0m0 1.1h0m0 1h0m0 10.4h0m0 2.3h0m0 .9h0m0 .6h0m0 1.1h0m0 5.4h0m.1-30.2h0m0 .9h0m0 4.1h0m0 23.3h0m.1-25.8h0m0 4.8h0m0 .4h0m0 .5h0m0 .8h0m0 2.9h0m0 2h0m0 14.1h0m.1-24.5h0m0 3.5h0m0 .6h0m0 .4h0m0 .8h0m0 .5h0m0 6.4h0m0 5.8h0m0 2.4h0m0 6.2h0m.1-24.4h0m0 .8h0m0 3.2h0m0 4.8h0m0 6.8h0m0 4h0m0 3.6h0m.1-24.1h0m0 3.2h0m0 .7h0m0 .7h0m0 .1h0m0 1h0m0 4.6h0m0 12.5h0m0 4.2h0m.1-30.5h0m0 .8h0m0 3.9h0m0 .1h0m0 3.3h0m0 7.9h0m.1-10.6h0m0 1.4h0m0 .2h0m0 1.8h0m0 3h0m0 2.6h0m.1-16.1h0m0 7.8h0m0 3.8h0m0 22h0m.1-30.4h0m0 5.4h0m0 1.5h0m0 .1h0m.1-8.6h0m0 4h0m0 .9h0m0 .4h0m0 .5h0m0 .4h0m0 4.1h0m0 .2h0m0 12.1h0m.1-23.7h0m0 1.9h0m0 4.4h0m0 .4h0m0 3.3h0m0 10.5h0m0 4.5h0m0 2.7h0m.1-22.8h0m0 3.6h0m0 1.3h0m0 .5h0m0 17.9h0m.1-22.6h0m0 7.4h0m0 4.2h0m0 8.8h0m0 1.6h0m.1-21.6h0m0 1.6h0m0 4.2h0m0 11.2h0m0 .6h0m.1-21.6h0m0 1.7h0m0 6.5h0m0 4.3h0m0 11.1h0m0 .1h0m.1-20.2h0m0 .6h0m0 .3h0m0 1.4h0m0 1h0m.1-4.2h0m0 .3h0m0 4.6h0m0 4.8h0m0 9h0m0 .1h0m0 11.3h0m.1-30.8h0m0 3.8h0m0 2.5h0m0 15.3h0m0 4.7h0m0 1.6h0m.1-30h0m0 1.4h0m0 2.6h0m0 6.1h0m.1-26.9h0m0 21.2h0m0 1.4h0m0 .5h0m0 1.1h0m0 3.3h0m0 9.5h0m0 7.3h0m.1-27.6h0m0 1.4h0m0 1.7h0m0 1.2h0m0 .4h0m0 5.7h0m0 2.6h0m0 2h0m0 .8h0m.1-13h0m0 3.3h0m0 10.8h0m0 5.9h0m.1-14.9h0m0 2.5h0m.1-9.3h0m0 1.4h0m0 2.3h0m0 2.8h0m0 7h0m.1-17.4h0m0 .9h0m0 1.2h0m0 5.3h0m0 2.7h0m0 .1h0m0 12.7h0m0 5.3h0m.1-25h0m0 2.4h0m0 .5h0m0 2.7h0m0 .8h0m0 13.7h0m0 7h0m.1-30.5h0m0 9.3h0m0 5.9h0m0 3.9h0m0 2.8h0m.1-16.7h0m0 1.3h0m0 20.8h0m0 3.1h0m.1-25.5h0m0 1.3h0m0 .4h0m0 1.1h0m0 2.8h0m0 3h0m0 20.3h0m.1-28.6h0m0 .8h0m0 .8h0m0 2.9h0m0 1.4h0m0 6.1h0m.1-14.1h0m0 1.5h0m0 2.1h0m0 .6h0m0 .1h0m0 1h0m0 1.8h0m0 1h0m0 .3h0m0 .6h0m0 1.8h0m.1 19.4h0m.1-29.1h0m0 1.3h0m0 3.6h0m0 2.4h0m.1-10.1h0m0 .8h0m0 1.7h0m0 15.5h0m.1-13.8h0m0 1.8h0m0 8.4h0m0 18h0m.1-27.7h0m0 .2h0m0 .1h0m0 10.3h0m0 7.3h0m.1-25.2h0m0 28.9h0m.1-19h0m0 2.5h0m0 3.7h0m.1-9.4h0m0 .9h0m0 2.6h0m0 1.5h0m0 12.6h0m0 2h0m0 7.3h0m.1-28.8h0m0 2h0m0 .9h0m0 1.5h0m0 9.6h0m.1-15.1h0m0 8.6h0m0 1.3h0m0 10.4h0m0 .3h0m0 2.9h0m0 .4h0m.1-23h0m0 2.6h0m0 2.4h0m0 1.1h0m0 3.2h0m0 6.1h0m0 4.4h0m0 10h0m.1-27h0m0 .5h0m0 .5h0m0 .1h0m0 .3h0m0 3.2h0m0 16.8h0m.1-23h0m0 .5h0m0 .6h0m0 1.2h0m0 0h0m0 2.5h0m0 1.9h0m0 2.2h0m0 5.4h0m0 9.6h0m.1-22.9h0m0 0h0m0 5h0m0 10.5h0m0 3.4h0m.1-16.4h0m0 4.8h0m0 18.4h0m.1-25.7h0m0 .5h0m0 .1h0m0 1.3h0m0 1h0m0 .6h0m0 .8h0m.1-7.8h0m0 2.2h0m0 .5h0m0 1.1h0m0 .8h0m0 1h0m0 1.6h0m0 3h0m.1-5.5h0m0 15.5h0m0 .2h0m.1-17.8h0m0 .3h0m0 4h0m0 .2h0m0 .7h0m0 2.6h0m0 1.5h0m0 15.4h0m.1-24.2h0m0 .1h0m0 1.7h0m0 3.6h0m0 10.1h0m.1-16.5h0m0 2.1h0m0 .4h0m0 .4h0m0 .3h0m0 0h0m0 1.8h0m0 .5h0m0 23.8h0m.1-28.1h0m0 8.5h0m0 11h0m.1-21.6h0m0 3h0m0 1.5h0m0 1h0m0 1.9h0m0 16.5h0m0 3.6h0m.1-27.5h0m0 1.3h0m0 5.2h0m0 10.9h0m.1-12h0m0 .5h0m0 1.2h0m0 4h0m.1-10.1h0m0 1.4h0m0 1.7h0m0 3.7h0m0 9.3h0m0 6.6h0m.1-22.7h0m0 1.9h0m0 0h0m.1 2.4h0m0 15.6h0m.1-19.7h0m0 1.5h0m0 4.2h0m0 17.6h0m.1-22.8h0m0 2.7h0m0 .1h0m0 .4h0m0 .5h0m0 .3h0m0 2.5h0m.1 2.5h0m0 1.6h0m0 12h0m.1-25.1h0m0 6.1h0m0 .1h0m0 3.7h0m0 6.3h0m0 6.8h0m.1-23.5h0m0 3h0m0 1.2h0m0 .5h0m0 3.5h0m0 0h0m.1-4.8h0m0 0h0m0 .6h0m0 2.8h0m0 3.5h0m0 9.1h0m0 1.3h0m0 .1h0m.1-19.1h0m0 0h0m0 1.2h0m0 .3h0m0 .5h0m0 .3h0m0 5.4h0m0 1.7h0m0 10.5h0m.1-20.7h0m0 7.1h0m0 7.9h0m0 6.3h0m.1-23.6h0m0 4.2h0m0 3.1h0m0 .7h0m0 .1h0m0 .7h0m0 .9h0m.1-8.7h0m0 2.3h0m0 2.3h0m0 .1h0m0 1.1h0m0 1.5h0m0 .3h0m0 11.1h0m0 4h0m.1-21.6h0m0 2.7h0m0 1.3h0m0 2.4h0m0 2.1h0m0 14.9h0m0 1.3h0m.1-5.9h0m.1-10.3h0m0 17.5h0m0 2.2h0m.1-30.7h0m0 1.3h0m0 1.3h0m0 5.6h0m0 .2h0m0 13.3h0m.1-16.7h0m0 .6h0m0 1h0m0 3.6h0m0 .6h0m0 1.1h0m.1-9.1h0m0 4.5h0m0 3.1h0m0 1h0m0 12.4h0m0 .1h0m0 2.1h0m0 8.6h0m.1-30.2h0m0 1.5h0m0 1.1h0m0 1.1h0m0 .1h0m0 .4h0m0 19.7h0m.1-26.2h0m0 3.2h0m0 1.2h0m0 .3h0m0 5.4h0m0 10.8h0m.1-23.5h0m0 5.5h0m0 4.1h0m0 1.4h0m0 3.5h0m0 .3h0m0 4.4h0m0 1.6h0m0 4.1h0m0 3.1h0m.1-25.7h0m0 1.1h0m0 2.8h0m0 .8h0m0 1h0m0 3.8h0m0 14.9h0m.1-21.4h0m0 1h0m0 .2h0m0 .1h0m0 2.5h0m0 11.1h0m0 4.5h0m.1-19.7h0m0 2.3h0m0 .7h0m0 2h0m0 2.1h0m0 .9h0m0 4.3h0m0 4.4h0m0 10.8h0m.1-26.8h0m0 .9h0m0 1.3h0m0 .8h0m0 .1h0m0 2.6h0m0 15.3h0m0 2.5h0m0 2.1h0m0 5.1h0m.1-30.5h0m0 3.2h0m0 .3h0m0 .4h0m0 15.8h0m.1-20.4h0m0 4.7h0m0 4.4h0m0 10.4h0m.1-23.1h0m0 2.5h0m0 2.8h0m0 1.2h0m0 .9h0m0 .7h0m0 .6h0m0 1.1h0m0 2.3h0m0 12.1h0m0 .7h0m0 .9h0m.1-28.8h0m0 1.7h0m0 2.1h0m0 4.1h0m0 4.9h0m0 14.4h0m0 2.6h0m0 2.2h0m.1-22.4h0m0 1.2h0m0 2.2h0m0 0h0m0 12.4h0m0 1h0m0 1.8h0m.1-31.7h0m0 9.5h0m0 2.1h0m0 .3h0m0 4.8h0m0 2.8h0m0 7.3h0m0 1.9h0m.1-21.1h0m0 1.9h0m0 1.8h0m0 1.2h0m0 .4h0m0 3.7h0m0 9.5h0m.1-16.3h0m0 1h0m0 .2h0m0 .6h0m0 .1h0m0 11.7h0m0 1.2h0m0 5.9h0m.1-22h0m0 5h0m0 13.6h0m0 1.8h0m0 10h0m.1-28h0m0 8.9h0m0 1.5h0m0 11.8h0m0 1.5h0m0 0h0m.1-24.5h0m0 3.8h0m0 .5h0m0 .1h0m0 2.5h0m0 1.2h0m0 2.9h0m.1-11.3h0m0 1.4h0m0 4h0m0 10.3h0m0 2.9h0m.1-21.7h0m0 4.3h0m0 10.5h0m0 12.2h0m.1-24.3h0m0 3.9h0m.1-3.9h0m0 1.8h0m0 1.1h0m0 .7h0m0 .4h0m0 13.1h0m0 .6h0m0 4.4h0m0 2.6h0m.1-23.5h0m0 2.9h0m0 .2h0m0 1.7h0m0 11.5h0m.1-18.8h0m0 1.2h0m0 .7h0m0 2.1h0m0 1.4h0m0 .1h0m0 1.5h0m0 .6h0m0 5h0m0 6.2h0m0 .5h0m0 6.6h0m0 2.6h0m.1-25.2h0m0 10.3h0m0 1.1h0m0 1.7h0m0 .3h0m0 3.5h0m.1-15.4h0m0 1.9h0m0 0h0m0 .8h0m0 8h0m0 3.5h0m0 2.1h0m0 2.1h0m0 1h0m.1-18.8h0m0 .1h0m0 11.2h0m0 3.2h0m0 3.5h0m.2-26.1h0m0 5h0m0 .4h0m0 .8h0m0 .6h0m0 14.4h0m0 1.7h0m0 1.4h0m0 2h0m0 5h0m.1-22.7h0m0 11.2h0m0 2.4h0m.1-19h0m0 2h0m0 1.5h0m0 6.5h0m0 5.6h0m0 2.2h0m0 1.1h0m0 2.6h0m0 2.6h0m.1-24.9h0m0 4.7h0m0 .3h0m0 .7h0m0 18.1h0m0 5.5h0m.1-26.2h0m0 1.6h0m0 17.3h0m0 .7h0m0 4.9h0m.1-25h0m0 1.2h0m0 .6h0m0 16.4h0m0 2.4h0m0 .2h0m0 .4h0m.1-24.6h0m0 .3h0m0 .5h0m0 3.7h0m0 17.8h0m0 .1h0m0 1.6h0m0 3.8h0m.1-27.4h0m0 .8h0m0 .6h0m0 2.2h0m0 1.4h0m0 13.3h0m0 2.3h0m0 .6h0m0 4.8h0m0 3.8h0m0 2.8h0m.1-32.8h0m0 6.7h0m0 .4h0m0 6.9h0m0 8h0m0 2.9h0m0 .3h0m0 1.1h0m.1-21.7h0m0 2.8h0m0 1.5h0m0 10h0m0 2.5h0m0 .9h0m0 2.5h0m0 2.9h0m.1-25h0m0 .2h0m0 2.1h0m0 .9h0m0 1.4h0m0 10.8h0m0 1.6h0m0 2.4h0m.1-15.6h0m0 1.8h0m.1-10.1h0m0 6.4h0m0 1.3h0m0 .1h0m0 3.3h0m0 6.5h0m0 7.1h0m.1-19.1h0m0 1.6h0m0 2.7h0m0 7.2h0m0 5.5h0m0 .7h0m0 .6h0m0 2.2h0m0 4.8h0m.1-23.1h0m0 1.4h0m0 13.1h0m0 1.1h0m.1-25.4h0m0 14.5h0m0 8.7h0m0 2.2h0m0 1.1h0m0 0h0m0 2.7h0m0 .2h0m0 1.1h0m0 6.8h0m.1-33.2h0m0 2.9h0m0 3.9h0m0 14.6h0m0 2.4h0m0 5.5h0m.1-23.8h0m0 3.5h0m0 1.1h0m0 3.8h0m0 3.7h0m0 5.4h0m0 1.1h0m0 1.6h0m.1-24.3h0m0 4.6h0m0 .6h0m0 4.9h0m0 8.6h0m0 5.2h0m.1-5.2h0m0 1.1h0m.1-22.9h0m0 6.6h0m0 1h0m0 .3h0m0 17.9h0m0 .1h0m0 .8h0m.1-23.5h0m0 5.4h0m0 7.5h0m0 1.7h0m0 3.8h0m0 .1h0m0 .7h0m0 .2h0m0 9.1h0m.1-32.5h0m0 9.9h0m0 18h0m0 3.8h0m.1-30.6h0m0 6.5h0m0 11.3h0m0 .1h0m0 3.1h0m0 3.4h0m0 1.6h0m0 2.1h0m0 1.1h0m.1-23.5h0m0 5h0m0 4.3h0m0 1.6h0m0 4.4h0m0 1.2h0m0 3h0m0 4.2h0m.1-23.6h0m0 4.8h0m0 8.8h0m0 5.6h0m.1-24.7h0m0 5.5h0m0 .9h0m0 4.4h0m0 7h0m0 1.8h0m0 3.7h0m0 2.4h0m0 6h0m.1-27h0m0 14.4h0m0 9.5h0m.1-25.4h0m0 8.4h0m0 11h0m0 3h0m0 0h0m0 .4h0m0 4.1h0m.1-32.9h0m0 2.2h0m0 7.3h0m0 .6h0m0 .4h0m0 10.6h0m0 .8h0m0 5.2h0m0 2.1h0m0 4.1h0m.1-26h0m0 14.3h0m0 .5h0m0 1.9h0m0 .4h0m0 .4h0m0 2.5h0m0 1.1h0m0 1.8h0m.1-26.3h0m0 18.4h0m0 5.4h0m0 1.1h0m0 1.2h0m.1-26.7h0m0 1.2h0m0 1.7h0m0 2.8h0m0 15.2h0m0 2h0m0 1.3h0m0 2.1h0m.1-30.8h0m0 6.3h0m0 3.7h0m0 .7h0m0 .7h0m0 2.5h0m0 9.4h0m0 1.4h0m0 1.5h0m0 2.2h0m0 1.2h0m0 3.6h0m.1-30.8h0m0 3.7h0m0 8.1h0m0 6.5h0m0 1.2h0m0 3.3h0m0 3h0m0 .6h0m0 7.3h0m.1-30.4h0m0 .8h0m0 .6h0m0 2.2h0m0 13.2h0m0 .8h0m0 2.9h0m0 2.4h0m0 6.7h0m.1-36h0m0 8.1h0m0 5.1h0m0 2.4h0m0 6h0m0 2.1h0m0 1.2h0m0 5.9h0m0 .3h0m0 5.8h0m.1-28.8h0m0 .1h0m0 3.3h0m0 5.4h0m0 5.8h0m0 .4h0m0 3.6h0m0 1.8h0m0 .6h0m.1-5.3h0m0 2.5h0m0 2.1h0m0 1.9h0m0 3.3h0m0 1.7h0m.1-26.3h0m0 10.9h0m0 4.5h0m0 1.5h0m.1-18.6h0m0 5.1h0m0 13.6h0m0 .4h0m0 1.5h0m0 .3h0m0 1.2h0m0 3.4h0m0 .9h0m.1-25.5h0m0 19.2h0m0 3.8h0m0 .4h0m0 3.7h0m.1-12.7h0m0 5.7h0m0 .1h0m0 .9h0m0 1.6h0m0 .6h0m.1-32.9h0m0 25.1h0m0 .7h0m0 1.5h0m0 1.5h0m0 2.7h0m0 .8h0m0 .4h0m0 .3h0m0 3.3h0m.1-27.2h0m0 1.9h0m0 2.6h0m0 5.9h0m0 7.6h0m0 1.3h0m0 .9h0m0 .7h0m0 2.8h0m0 1.3h0m.1-28h0m0 16.9h0m0 1.9h0m0 1h0m0 2.4h0m0 2.4h0m0 0h0m0 .4h0m0 .6h0m0 .2h0m0 .8h0m0 .6h0m0 3.1h0m.1-10.4h0m0 3.2h0m0 .4h0m0 3.6h0m0 3.5h0m.1-26h0m0 12.7h0m0 1.9h0m0 2.1h0m0 7.6h0m.1-22.9h0m0 3.8h0m0 7.2h0m0 6.5h0m0 4.6h0m.1-26.3h0m0 4h0m0 .6h0m0 17.8h0m0 1h0m0 .8h0m0 2.5h0m0 1.1h0m.1-26.2h0m0 .3h0m0 2.3h0m0 15.5h0m0 1.8h0m0 .2h0m0 3.6h0m0 6h0m.1-37.3h0m0 8.6h0m0 1.4h0m0 .5h0m0 16h0m0 .6h0m0 1.5h0m0 1.5h0m0 3.7h0m.1-20.6h0m0 12.6h0m0 .3h0m0 1.1h0m0 2.3h0m.1-6.3h0m0 .4h0m0 2.6h0m0 1.2h0m0 .9h0m0 .6h0m0 4.2h0m0 3.6h0m.1-29.1h0m0 .6h0m0 .9h0m0 2.3h0m0 6.8h0m0 2.9h0m0 1.2h0m0 1h0m0 2.3h0m0 .6h0m0 .2h0m0 .4h0m0 .3h0m0 2.1h0m0 .1h0m0 6.2h0m0 .6h0m.1-23.6h0m0 8.1h0m0 3.5h0m0 3.8h0m0 .3h0m0 1.4h0m.1-24.1h0m0 2.1h0m0 1.4h0m0 9.4h0m0 10.4h0m0 .3h0m0 .6h0m0 .8h0m0 1h0m0 .7h0m0 .3h0m0 .5h0m.1-26.9h0m0 1.3h0m0 4.2h0m0 16.1h0m0 1.8h0m0 1.2h0m0 .2h0m0 2h0m0 .1h0m.1-7.9h0m0 4.8h0m0 3.5h0m.1-24.5h0m0 8.2h0m0 4.9h0m0 .9h0m0 2.7h0m0 1h0m0 4.9h0m0 .6h0m.1-13.5h0m0 1.8h0m0 .6h0m0 3.7h0m0 .8h0m0 .6h0m0 2.7h0m0 1.6h0m0 2h0m0 1.4h0m.1-13.3h0m0 .5h0m0 5h0m0 .2h0m0 6.6h0m.1-25h0m0 12h0m0 4h0m0 2.6h0m0 4.1h0m0 3.9h0m.2-19.6h0m0 3.7h0m0 9.2h0m0 .7h0m0 3.5h0m0 6.2h0m.1-29.6h0m0 .3h0m0 15.7h0m0 7.5h0m0 .5h0m0 1.2h0m0 .3h0m.1-23.8h0m0 3.8h0m0 10.7h0m0 1.2h0m0 2.5h0m0 .9h0m0 .8h0m.1-17.7h0m0 11.2h0m0 .7h0m0 .8h0m0 4.2h0m0 1.9h0m0 3.1h0m.1-23.8h0m0 14.8h0m0 5h0m.1-23h0m0 15.4h0m0 2.6h0m0 4.7h0m0 1.3h0m0 1.3h0m.1-12.9h0m.1-12.4h0m0 1.7h0m0 1.4h0m0 11.9h0m.1-19h0m0 6.1h0m0 12.7h0m0 .8h0m0 3.1h0m0 2.4h0m0 4.4h0m0 3.1h0m.1-29.6h0m0 9.1h0m0 10.9h0m0 11.5h0m.1-14.7h0m0 2.9h0m0 6.8h0m.1-27.2h0m0 5.5h0m0 14h0m0 2.5h0m.1-18.9h0m0 2.1h0m0 2.3h0m0 7.3h0m0 3.4h0m0 6.4h0m0 4.5h0m.1-27.4h0m0 16.8h0m0 .4h0m0 3.7h0m0 1.9h0m.1-22.9h0m0 4.7h0m0 5.1h0m.1 3.5h0m0 6.8h0m0 3.2h0m.1 .2h0m.1-7.1h0m0 2.1h0m0 .6h0m0 1.3h0m0 1.2h0m.1-8h0m.1-15.8h0m0 2.8h0m0 1.8h0m0 9.3h0m0 9.8h0m0 .1h0m0 6.8h0m.1-24.2h0m0 12.2h0m0 .4h0m0 3.4h0m0 1.9h0m0 .1h0m0 5.2h0m.1-14h0m0 5.1h0m0 .5h0m0 .4h0m0 7.5h0m.1-24.7h0m0 11.3h0m0 3.3h0m0 4.2h0m.1-17.4h0m0 16.9h0m.1-19.2h0m0 13.9h0m0 2h0m0 5.9h0m.1 .7h0m.1-2.2h0m0 1.2h0m0 .2h0m.1-9.6h0m0 5h0m0 1.7h0m0 3.7h0m0 1.7h0m0 .1h0m0 2.5h0m.1-7.2h0m.1-22.1h0m0 17.8h0m.1-.6h0m0 .6h0m0 .9h0m0 4.4h0m0 8.1h0m.1-28.9h0m0 10.8h0m0 1.4h0m0 3.7h0m0 1.4h0m0 .5h0m0 3.9h0m.1-23.3h0m0 13.6h0m0 12.8h0m.1-23.4h0m0 22h0m0 5.4h0m0 5.9h0m.1-40.7h0m0 17h0m0 11.6h0m.1-25.5h0m0 22.9h0m.1-21.9h0m0 18.1h0m.1 3.2h0m.1-16h0m0 14.2h0m.1 1.9h0m0 1.4h0m0 .4h0m.2-7.8h0m0 1.6h0m0 6.3h0m.1-16.5h0m0 11.9h0m0 3.1h0m0 3.2h0m.1-21.9h0m0 12.9h0m0 .7h0m0 7.7h0m0 .3h0m.1-19.6h0m.1-5.4h0m0 17.6h0m0 3.8h0m0 2.4h0m.2-1.2h0m0 .3h0m.1-24h0m.1 2.6h0m0 15.8h0m.3 5.3h0m0 .1h0m0 2.4h0m.2-5.3h0m0 .6h0m0 8.2h0m.1-7.5h0m0 2.6h0m.2-2.8h0m.1-2.5h0m0 4.5h0m0 6.5h0m.1-9.7h0m.3-6.5h0m0 5.7h0m0 6.3h0m.1 3.5h0m.2-11.3h0m.1-6.9h0m.1-8.5h0m0 1.6h0m.3 15.6h0m.1-3.4h0m.5 3.8h0m0 5.6h0m.1-21.2h0m0 24.6h0m.4-25.7h0m0 17.9h0m.1-4.9h0m2.5 8h0m1.1-3.5h0" stroke="#e02020" stroke-opacity="0.5" stroke-width="0.8" stroke-linecap="square" fill="none"/>
<g clip-path="url(#cF3)">
<ellipse cx="183.5" cy="315.5" rx="13" ry="5.2" fill="#e83020" fill-opacity="0.85" filter="url(#b10)" transform="rotate(-10 183.5 315.5)"/>
<ellipse cx="185.5" cy="315" rx="10.5" ry="4.2" fill="#f07a20" fill-opacity="0.9" filter="url(#b10)" transform="rotate(-10 185.5 315)"/>
<ellipse cx="189.3" cy="314.2" rx="7" ry="3.6" fill="#f0d020" fill-opacity="1" filter="url(#b8)" transform="rotate(-10 189.3 314.2)"/>
<ellipse cx="189.5" cy="314.1" rx="4.6" ry="2.4" fill="#80b840" fill-opacity="1" filter="url(#b6)" transform="rotate(-10 189.5 314.1)"/>
<ellipse cx="189.7" cy="314.0" rx="2.8" ry="1.5" fill="#205a70" fill-opacity="1" filter="url(#b5)" transform="rotate(-10 189.7 314.0)"/>
<ellipse cx="192.6" cy="332.7" rx="6.5" ry="5.5" fill="#e83020" fill-opacity="0.8" filter="url(#b10)"/>
<ellipse cx="192.6" cy="332.7" rx="3.8" ry="3.2" fill="#f07820" fill-opacity="0.9" filter="url(#b10)"/>
<ellipse cx="174" cy="332" rx="4" ry="4" fill="#e83020" fill-opacity="0.4" filter="url(#b15)"/>
</g>
<path d="M238.2 318.9h0m.9-2.5h0m.3 6.2h0m.3-5.5h0m0 3.2h0m.3-6.2h0m.5 5h0m.9-4.6h0m0 1.4h0m.1 4.1h0m.3-4.9h0m0 5.8h0m.2-4.9h0m.1-1.9h0m.1-2.5h0m0 1.1h0m.1 5.5h0m0 .4h0m.1-5.6h0m0 3.2h0m.1-1.1h0m0 2.5h0m.1-.4h0m.1 .4h0m.1-3h0m0 2.3h0m.1-4.1h0m.1 6.2h0m.1-7.1h0m0 4.4h0m.1-4.8h0m0 1.4h0m.1 1.1h0m0 2.6h0m0 1.6h0m.1-1.3h0m.1-2.7h0m.1 .5h0m0 3.7h0m.2-2.7h0m0 1.3h0m.1-3.7h0m0 3.8h0m.1-3h0m.1 1.9h0m0 1h0m0 1.4h0m.1-4.2h0m.1-1.5h0m0 4.3h0m.1-3.2h0m.1 3.4h0m0 .8h0m0 .9h0m.1-4.9h0m0 1.4h0m0 1.7h0m0 .3h0m0 0h0m.1-5.6h0m0 2.3h0m0 .3h0m0 1.7h0m0 0h0m0 .6h0m.1-2.6h0m0 .7h0m0 1.8h0m.1-3.7h0m0 .8h0m0 1.1h0m0 .7h0m.1-5.9h0m0 3.9h0m0 1.2h0m0 1.6h0m.1-1.1h0m.1-2.7h0m0 5.3h0m.1-6.2h0m0 5.5h0m.1-4h0m0 .6h0m0 2.7h0m.1-2.6h0m0 .8h0m0 2.4h0m0 .2h0m.1-3.9h0m0 .8h0m0 2.6h0m0 3.3h0m0 1h0m.1-8.8h0m0 1.1h0m0 1.1h0m0 1.9h0m0 2.8h0m.1-5.9h0m0 .2h0m0 .9h0m0 .1h0m0 1.7h0m.1 .1h0m0 .7h0m0 2.5h0m.1-4.9h0m0 .6h0m0 2.3h0m.1-2.2h0m0 .5h0m.1-5.2h0m0 2.3h0m0 1.6h0m0 .2h0m0 .4h0m0 .2h0m0 .9h0m.1-6.3h0m0 5h0m0 .1h0m0 .6h0m.1-.8h0m.1-3.5h0m0 .3h0m0 .7h0m0 .7h0m0 2.3h0m0 .2h0m0 2.1h0m.1-8.4h0m0 2.1h0m0 2.9h0m0 .4h0m0 2.3h0m0 .6h0m0 .8h0m0 .6h0m.1-9.4h0m0 3.5h0m0 .7h0m0 1.3h0m0 0h0m0 .4h0m0 0h0m0 .7h0m.1-6.7h0m0 4.3h0m0 2.4h0m.1-1.9h0m0 .3h0m0 .9h0m0 .4h0m0 .7h0m0 .8h0m.1-6.9h0m0 .9h0m0 1.3h0m0 4.9h0m.1-10h0m0 5.5h0m0 .4h0m0 3h0m0 .8h0m.1-5h0m0 .9h0m0 .9h0m.1-2.6h0m0 .7h0m0 2.5h0m.1-1.3h0m0 .8h0m0 1.2h0m0 0h0m0 0h0m0 2.6h0m.1-3.6h0m0 3.7h0m.1-5.3h0m0 .9h0m0 .7h0m0 2.8h0m.1-6.7h0m0 2.6h0m0 .1h0m0 1.3h0m.1-3h0m0 1.8h0m0 .5h0m0 .2h0m0 1.5h0m.1-3.8h0m0 3.2h0m0 .2h0m0 .9h0m.1-5.3h0m0 2.3h0m0 .5h0m0 .9h0m0 0h0m0 .5h0m0 1h0m.1-5h0m0 .4h0m0 .1h0m0 .7h0m.1 .9h0m0 2.4h0m0 0h0m0 .6h0m0 .4h0m.1-6.1h0m0 3.7h0m0 1.7h0m0 .3h0m0 .1h0m.1-7.9h0m0 4.5h0m0 .6h0m0 .4h0m0 .7h0m0 .5h0m0 .5h0m0 1.7h0m.1-5.1h0m0 .8h0m0 1.8h0m.1-1.2h0m0 1.4h0m0 2h0m0 .1h0m0 1.3h0m.1-7.2h0m0 2.5h0m0 3.3h0m0 2.4h0m.1-7.2h0m0 .2h0m0 .8h0m0 1.3h0m0 .5h0m0 2.9h0m.1-5.7h0m0 2.7h0m0 .4h0m.1-2.9h0m0 1.5h0m0 2.9h0m.1-2h0m0 .5h0m0 .2h0m0 0h0m0 1.2h0m0 1.2h0m0 1.5h0m.1-7.8h0m0 2.3h0m0 .2h0m.1-4.9h0m0 3.7h0m0 2.5h0m0 .7h0m.1-7.4h0m0 4h0m0 1.3h0m0 .7h0m0 3.1h0m.1-5.1h0m0 1.5h0m0 2.1h0m0 1.3h0m.1-5.1h0m.1-.4h0m0 2.1h0m0 .1h0m0 0h0m.1-3.7h0m0 4.8h0m0 1.1h0m.1-4.9h0m0 2h0m0 0h0m0 2.7h0m0 1h0m.1-6h0m.2 2.7h0m0 1.3h0m.1-4.5h0m0 1.5h0m0 2.7h0m.1-3.2h0m.1-1.9h0m0 1h0m0 1.2h0m0 2.1h0m0 1.5h0m0 1.4h0m.1-7.3h0m0 3.5h0m0 1.6h0m0 1.6h0m.1-4.3h0m0 1.2h0m0 1.8h0m0 1.4h0m0 .4h0m.1-4.3h0m0 4.3h0m.1-3.8h0m0 .3h0m0 .5h0m0 1.8h0m0 1.1h0m.1-3.5h0m0 .4h0m0 .5h0m0 .3h0m0 .2h0m.1-2.4h0m0 .5h0m0 .8h0m0 3.3h0m0 .2h0m.1-1.4h0m.1-1.5h0m0 4.1h0m.1-1.6h0m.1-6.9h0m0 .7h0m0 .9h0m0 3.6h0m.1 1.9h0m.1-5.3h0m.1 2.1h0m.1-3.2h0m.1-.8h0m0 1.5h0m.1-1.2h0m0 .3h0m0 6.1h0m.1-4.7h0m.1-2.2h0m0 3.4h0m0 0h0m.1-.5h0m.2 .8h0m0 .3h0m0 4h0m.1-.5h0m.1-4.1h0m.1-.5h0m0 .9h0m0 1.3h0m.2 1.5h0m.1-5.8h0m.1 4.7h0m.1-2.9h0m0 1.4h0m.1-.8h0m0 .2h0m0 3.5h0m.1-5.1h0m.1 1.8h0m0 .9h0m0 2.5h0m.1-3.3h0m.1 .5h0m0 2.4h0m.2-5.2h0m0 1.8h0m0 1.7h0m.3-5.2h0m.4 1.2h0m0 .3h0m0 6.4h0m.3-1.2h0m.1-3h0m0 2.8h0m1.7-7.6h0m.5 .1h0" stroke="#d82020" stroke-opacity="0.5" stroke-width="0.8" stroke-linecap="square" fill="none"/>
<path d="M251.8 333.8h0m1.5-.3h0m0 1.1h0m1.5-1h0m.1-2.8h0m.1-.8h0m.4 3.1h0m.4 3h0m.3-5.3h0m.2 0h0m.1-.9h0m0 2.2h0m.2-4.9h0m0 4h0m0 1.8h0m0 .2h0m.1-4.1h0m0 2.2h0m0 1.7h0m.1-2.5h0m0 1.6h0m0 .9h0m.1-5.3h0m0 5.7h0m.1-.1h0m.3-3.7h0m.1-3.7h0m.1-1.8h0m.1 2.6h0m.1-.3h0m0 2.1h0m.1 2.4h0m.1-1.7h0m.1-.5h0m.1 6.6h0m.1-6.3h0m0 2h0m.3-.2h0m.1-2.3h0m0 .8h0m.1 5.5h0m.2-3.5h0m0 5.1h0m.1-3.7h0m0 .2h0m.1-7.8h0m.1 3h0m0 3.2h0m0 .7h0m0 .1h0m.1-4h0m0 3.4h0m.1-4.5h0m0 2.4h0m0 .4h0m.1-6.6h0m0 4.7h0m0 2.9h0m.1-2.8h0m0 1h0m0 1.8h0m.2-4.2h0m0 .6h0m.1 7h0m.1-3.7h0m0 .1h0m.1 1.5h0m.1-4.6h0m0 .8h0m0 2.7h0m0 4.1h0m0 1.9h0m.1-7.9h0m.2 3.6h0m.1-3.8h0m0 .4h0m0 1.8h0m0 .4h0m0 1.9h0m0 1h0m.1-3.8h0m0 2.7h0m.1-6.7h0m0 .8h0m0 7.1h0m.1-2.1h0m.1-2h0m0 2.1h0m.1-3.6h0m.1 .1h0m0 2.8h0m.1-5.5h0m0 6h0m0 1h0m0 2.2h0m0 .4h0m.1-4.8h0m0 1.6h0m0 .3h0m0 2.1h0m0 .5h0m.1-13.4h0m0 6.1h0m0 .7h0m0 2.5h0m.1-3.7h0m0 1.5h0m0 5.6h0m.1-5.4h0m0 2.5h0m0 .6h0m.1-3.7h0m0 3.3h0m.1-3.2h0m0 .6h0m0 .2h0m0 3.8h0m.1-5.8h0m0 .9h0m0 1.2h0m0 .2h0m0 1.2h0m0 .2h0m.1-3.5h0m0 2.9h0m.1-4.2h0m0 1.4h0m0 2.9h0m0 .6h0m.1-4.4h0m0 3.7h0m.1-1h0m0 .9h0m.1-5.2h0m0 4.2h0m0 2.7h0m0 .5h0m0 2h0m0 .1h0m0 .3h0m.1-9.9h0m0 2.7h0m0 2.5h0m.1-5.2h0m0 1h0m0 .9h0m0 1.2h0m0 .8h0m0 5h0m.1-10.7h0m0 3.1h0m0 2.3h0m0 .5h0m0 .5h0m0 1.6h0m.1-1.9h0m.1-4h0m0 .8h0m0 4.2h0m0 2.7h0m0 .7h0m.1-10.4h0m0 7.1h0m0 .5h0m.1-2.9h0m0 .7h0m.1-1.1h0m0 4.7h0m0 .5h0m.1-7.2h0m.1 2.6h0m.1 2.4h0m.1-6.5h0m0 .5h0m0 4.6h0m0 1.6h0m0 7.7h0m.1-9.4h0m0 2.7h0m.1-3.4h0m0 .3h0m.1 .3h0m0 .7h0m0 4.4h0m.1-3.2h0m0 2.2h0m0 .8h0m.1-4.2h0m0 1.2h0m0 .3h0m0 0h0m.1-5.3h0m0 4.4h0m0 .7h0m0 1.9h0m0 .6h0m.1-7.3h0m0 1.9h0m0 1.5h0m0 .2h0m.1-.4h0m0 4.5h0m.1-7.3h0m.1 4.1h0m0 1.2h0m0 .2h0m0 .7h0m0 .8h0m.1-4.9h0m0 1.1h0m0 2.3h0m0 .4h0m0 1.4h0m.1-7.1h0m0 2.6h0m0 .2h0m0 .2h0m0 .1h0m0 1.2h0m0 .6h0m0 1.3h0m0 .2h0m.1-6.4h0m0 .1h0m.1-1.6h0m0 2.3h0m0 .4h0m0 .4h0m0 1.3h0m0 .7h0m0 1.2h0m0 1.4h0m0 .1h0m.1-7.5h0m0 2.8h0m0 1.7h0m0 3h0m0 4.3h0m.1-10.5h0m0 1.1h0m0 2.5h0m.1-.4h0m0 .7h0m0 .6h0m0 2.9h0m.1-6.9h0m0 .5h0m0 1h0m0 .5h0m0 .9h0m.1-1.4h0m0 1.2h0m.1-1.6h0m0 2.6h0m0 .9h0m0 .1h0m0 .8h0m0 1.6h0m.1-7.3h0m0 2.7h0m0 1.2h0m.1-4.2h0m0 .4h0m0 .2h0m0 .2h0m.1-4h0m0 5.9h0m0 .2h0m0 1.5h0m.1-2.9h0m0 4.3h0m.1-3h0m0 .2h0m0 .9h0m0 4h0m.1-8.1h0m0 1.2h0m0 1.2h0m0 .3h0m0 6.1h0m.1-10h0m0 2.6h0m0 2.2h0m0 5.3h0m.1-9.3h0m0 3h0m0 .3h0m0 1.3h0m0 1.1h0m.1-4.4h0m0 1.1h0m0 0h0m0 4h0m0 .1h0m.1-2.7h0m0 .2h0m0 .2h0m0 1.5h0m.2-7.1h0m0 6.5h0m.1-1.1h0m.1-.2h0m0 1.3h0m0 .7h0m0 1.4h0m.1-5.2h0m0 1h0m0 .1h0m.1-1.6h0m0 .5h0m0 1.1h0m0 1.3h0m0 .1h0m0 2.6h0m.1-8.3h0m0 1.6h0m.1-1.2h0m0 .2h0m0 5.5h0m0 2.5h0m.1-6h0m0 5.1h0m0 2.9h0m.1-10.6h0m0 3.4h0m0 2.2h0m.1-2.6h0m0 .5h0m.1-2.3h0m0 10h0m.1-9.3h0m0 .6h0m0 3.4h0m0 3.2h0m.1-2.6h0m.5-2.8h0m0 3.6h0m.1-4.2h0m.1 4h0m.1-4.6h0m0 3.8h0m0 3h0m.2-6.3h0m.1-.6h0m0 4.3h0m.1-4.8h0m0 1h0m.2 2.8h0m.1-.7h0m0 1.2h0m.3-4h0m.2 0h0m0 1.6h0m0 3.5h0m0 .6h0m.2-8.2h0m0 1.1h0m0 5.1h0m.1-2h0m0 3.3h0m0 .6h0m.1-1.8h0m.1-.8h0m.1-2.9h0m0 4h0m.1-3.9h0m.1-2h0m.3 3.9h0m.1-3.3h0m.1 1.7h0m.2 1.3h0m.2-4.4h0m0 4.4h0m.1-.7h0m.2 3.9h0m.1-4.3h0m0 1.9h0m.4 .6h0m.2-1.6h0m1-3.4h0" stroke="#e02828" stroke-opacity="0.45" stroke-width="0.8" stroke-linecap="square" fill="none"/>
<path d="M236.9 326.5h0m.9 2.5h0m1.1-33.7h0m2.3 41h0m.1-3.9h0m1.1-19.3h0m.1 22.9h0m0 1.6h0m.1-22.8h0m.2-8.1h0m.1 25.4h0m.1-7.8h0m.7 12.9h0m.2-22.5h0m.4 24.2h0m.5-11.2h0m0 4.2h0m0 1.6h0m.5-4.4h0m0 6.6h0m0 4.4h0m.2-3.7h0m.4-.1h0m.2-7.4h0m.1 9.2h0m0 11.2h0m.1-32.2h0m0 17.1h0m.1 4.6h0m.2-13.8h0m0 7.4h0m.2 3.2h0m.1 3.8h0m.3-9.4h0m0 10.4h0m.1-7.3h0m.1-7.6h0m0 4h0m.1 1.3h0m0 2.3h0m.1 5.6h0m0 3h0m.1-17h0m0 9.6h0m0 4.3h0m.1-9.5h0m0 .1h0m0 2.8h0m0 1.7h0m.1-6.8h0m.1 11.5h0m0 2.5h0m.2-6.7h0m0 4.7h0m0 2.9h0m.1-3.3h0m.2-9.9h0m0 9.7h0m.1-14.5h0m0 .5h0m0 15.8h0m.1-6.4h0m.1-7h0m.1 4.1h0m0 5h0m.1-28.7h0m0 26.1h0m.1 4.6h0m.1-3.7h0m.1-8.4h0m0 6.2h0m0 12.4h0m.1-24.2h0m0 11h0m0 2.7h0m0 3.2h0m.2-10.4h0m0 7.6h0m0 10.5h0m.1-25.4h0m0 17.3h0m.1-11.3h0m0 6.9h0m0 1h0m0 3.4h0m.1-19.6h0m0 4.9h0m0 5.4h0m0 3.1h0m0 5.6h0m.1-10.7h0m0 9.9h0m0 2.6h0m0 .1h0m.1-7.7h0m0 1.9h0m0 5.2h0m.1-12.4h0m0 4.3h0m0 9h0m.1-9.2h0m0 7.4h0m0 .9h0m0 5.2h0m.1-38.2h0m0 34.9h0m.1-8.3h0m0 1h0m0 6.8h0m.1-15.5h0m.1 4.4h0m0 5.8h0m0 .9h0m0 5.4h0m0 .4h0m.3-10.7h0m0 8.8h0m.1 0h0m.1-25.2h0m0 12.7h0m0 4h0m.1 .2h0m.1 6.6h0m0 6.1h0m.2-4.3h0m.1-12.5h0m0 6.5h0m.1-14.2h0m0 7.5h0m0 8.7h0m0 11h0m.1-14.6h0m0 .7h0m0 .8h0m0 .6h0m0 10.5h0m.1-10.8h0m0 9h0m0 1.4h0m.1-16h0m.1-4.5h0m0 10.8h0m.1 1.1h0m.1-33.3h0m0 20h0m0 7.8h0m.1-5.8h0m0 3.1h0m0 11h0m.2 10.2h0m.2-32.7h0m0 14.3h0m.3-5.6h0m.1 24.4h0m.1-3.2h0m.1-24.2h0m0 15.4h0m.1-15.1h0m0 2.8h0m.1 12.6h0m.1-18.6h0m.1 1.5h0m0 11.5h0m.1-7.2h0m.2 2.4h0m0 8.1h0m.2-15.3h0m0 .3h0m0 21.4h0m.3-28.3h0m.1 17.1h0m.1 4.9h0m0 1.9h0m.1-14.8h0m0 10.4h0m0 4.4h0m.2-7.7h0m.1-8.5h0m0 15h0m.1-28.5h0m0 11.1h0m.2-12.9h0m.1 5.1h0m0 18.7h0m.1-17.4h0m0 23.6h0m.1-23.7h0m0 16.2h0m.2-12.7h0m.2 2.1h0m0 3.8h0m.1-10.9h0m0 15.8h0m.1-13.8h0m0 0h0m0 18.7h0m.2-10.9h0m0 .1h0m.1-12.4h0m0 23.5h0m.1-24.2h0m0 23.5h0m.3-20.7h0m0 6.7h0m0 8h0m0 18h0m.1-40h0m0 19.6h0m.1-2.6h0m.1-7.4h0m.1 13.7h0m.3-18.4h0m.2 5.9h0m0 12.9h0m.2-20.9h0m0 10.9h0m.1 4h0m.1 1.2h0m.1 2.6h0m.1-6.9h0m.1-2h0m.1 3.6h0m.1-4.9h0m.1 3.2h0m.1-3.7h0m.2 11.9h0m.1-9.5h0m0 7.1h0m.1-17.5h0m0 6.1h0m0 3h0m0 .3h0m0 23.1h0m.1-26.8h0m0 14.9h0m.2-26.6h0m.1 5.4h0m0 8.1h0m0 4.9h0m.1-2.3h0m.1 1.2h0m0 6.1h0m.1-11.9h0m.1-.5h0m0 16.1h0m0 1.3h0m0 4.6h0m.1-18.3h0m0 1.5h0m.1 5.4h0m.1-9.4h0m.1-1.7h0m.1 12.5h0m.1-1h0m0 10.2h0m.1-29.9h0m0 2.9h0m0 11h0m0 6.4h0m.1-8.6h0m0 1h0m.1 17.2h0m.1-31.7h0m0 17.2h0m0 1.9h0m.1-2.5h0m0 8.3h0m.1-15.8h0m.1 5.3h0m0 15.4h0m.1-12.3h0m0 8.4h0m.1-14.4h0m.1-8.4h0m0 17.7h0m.1-12.1h0m0 4.2h0m.2-1.5h0m.1 1.8h0m0 1.4h0m0 .4h0m0 6.8h0m0 3.2h0m.1-3.7h0m.2-19.3h0m.3 .4h0m0 15.2h0m.1 15.8h0m.1-13.1h0m.1-9.9h0m.1 3.3h0m.4 2.7h0m.1-6h0m0 8h0m0 11.3h0m.1-22h0m0 1.2h0m0 13.3h0m.1-12.9h0m0 3.3h0m0 1.6h0m.1-6.5h0m0 5.2h0m0 1.6h0m.2-1.4h0m.1 7.6h0m0 9.8h0m.1-26.2h0m0 18.6h0m.1-11.3h0m0 8.1h0m0 2.4h0m.3-4.1h0m0 1h0m.1-10.4h0m0 6.3h0m0 8.4h0m0 13.6h0m.1 4.4h0m.1-29.8h0m0 6.7h0m.1-13.2h0m.1 16.9h0m.1-4.7h0m.1-5h0m0 4h0m.1-5.8h0m0 11.4h0m.1-10h0m.2-5.3h0m0 9.6h0m0 14.8h0m.2-3.1h0m.2-16.6h0m0 6.5h0m.1-6.4h0m0 14.1h0m.1-5.7h0m.1-13.2h0m0 9.4h0m.1-1.9h0m.1 5.2h0m.2-16.6h0m.2 12.8h0m.2-3.7h0m.3 17.9h0m0 12.7h0m.1-16.9h0m.1-9.1h0m.1-13.6h0m0 8h0m.2 7.7h0m0 15.2h0m.1-23.8h0m.1 2.8h0m.1 10.6h0m.1-11.1h0m0 .4h0m.1 5.2h0m.1-1.8h0m0 26.3h0m.1-33.6h0m.2 9.3h0m.1 5.6h0m.2-3h0m.1 .2h0m.4-3.5h0m.4-.6h0m.3-.5h0m.1-1.5h0m.2-7.6h0m.5 10.5h0m.1 2.6h0m.5-10.7h0m.8 10.5h0m.2 11.7h0m3.4-31.6h0m1.8 13.5h0m.4 3.8h0" stroke="#e04050" stroke-opacity="0.3" stroke-width="0.8" stroke-linecap="square" fill="none"/>
<ellipse cx="247.8" cy="314.2" rx="3.6" ry="2.4" fill="#d82020" fill-opacity="0.75" filter="url(#b10)" transform="rotate(-25 247.8 314.2)"/>
<ellipse cx="264" cy="330.5" rx="3.8" ry="2.4" fill="#e02020" fill-opacity="0.55" filter="url(#b10)"/>
<text x="0" y="0" font-family="Liberation Sans, sans-serif" font-size="9.8" font-weight="bold" text-anchor="middle" fill="#000" transform="translate(31.5 308.4) scale(0.95 1)">42</text>
<text x="0" y="0" font-family="Liberation Sans, sans-serif" font-size="9.8" font-weight="bold" text-anchor="middle" fill="#000" transform="translate(67.3 346.0) scale(0.95 1)">17</text>
<text x="0" y="0" font-family="Liberation Sans, sans-serif" font-size="9.8" font-weight="bold" text-anchor="middle" fill="#000" transform="translate(100.2 309.0) scale(0.95 1)">6</text>
<text x="0" y="0" font-family="Liberation Sans, sans-serif" font-size="9.8" font-weight="bold" text-anchor="middle" fill="#000" transform="translate(137.7 345.6) scale(0.95 1)">57</text>
<text x="0" y="0" font-family="Liberation Sans, sans-serif" font-size="9.8" font-weight="bold" text-anchor="middle" fill="#000" transform="translate(169.0 308.4) scale(0.95 1)">22</text>
<text x="0" y="0" font-family="Liberation Sans, sans-serif" font-size="9.8" font-weight="bold" text-anchor="middle" fill="#000" transform="translate(212.2 308.4) scale(0.95 1)">57</text>
<text x="0" y="0" font-family="Liberation Sans, sans-serif" font-size="9.8" font-weight="bold" text-anchor="middle" fill="#000" transform="translate(167.5 345.8) scale(0.95 1)">4</text>
<text x="0" y="0" font-family="Liberation Sans, sans-serif" font-size="9.8" font-weight="bold" text-anchor="middle" fill="#000" transform="translate(211.1 345.8) scale(0.95 1)">19</text>
<text x="0" y="0" font-family="Liberation Sans, sans-serif" font-size="9.8" font-weight="bold" text-anchor="middle" fill="#000" transform="translate(243.1 308.4) scale(0.95 1)">36</text>
<text x="0" y="0" font-family="Liberation Sans, sans-serif" font-size="9.8" font-weight="bold" text-anchor="middle" fill="#000" transform="translate(280.9 308.4) scale(0.95 1)">10</text>
<text x="0" y="0" font-family="Liberation Sans, sans-serif" font-size="9.8" font-weight="bold" text-anchor="middle" fill="#000" transform="translate(243.1 345.8) scale(0.95 1)">13</text>
<text x="0" y="0" font-family="Liberation Sans, sans-serif" font-size="9.8" font-weight="bold" text-anchor="middle" fill="#000" transform="translate(282.0 345.8) scale(0.95 1)">41</text>
<path d="M8.9 336 V363.2 H267.5" fill="none" stroke="#333" stroke-width="0.9"/>
<path d="M7.2 336.4 L8.9 332.6 L10.6 336.4 Z" fill="#111"/>
<path d="M267.2 361.4 L271 363.2 L267.2 365 Z" fill="#111"/>
<text x="0" y="0" font-family="Liberation Sans, sans-serif" font-size="9" font-weight="bold" text-anchor="middle" fill="#000" transform="translate(12.4 319.5) rotate(-90)">CD4</text>
<text x="0" y="0" font-family="Liberation Sans, sans-serif" font-size="9.4" font-weight="bold" text-anchor="middle" fill="#000" transform="translate(284.0 366.4) scale(0.93 1)">CD8</text>
<text x="326.3" y="272.2" font-family="Liberation Sans, sans-serif" font-size="15" font-weight="bold" text-anchor="start" fill="#000">G</text>
<line x1="349.5" y1="265" x2="349.5" y2="358.5" stroke="#eee" stroke-width="0.6" stroke-dasharray="1,1"/>
<line x1="349.5" y1="358.5" x2="485" y2="358.5" stroke="#ddd" stroke-width="0.6" stroke-dasharray="1,1"/>
<text x="347.8" y="360.7" font-family="Liberation Sans, sans-serif" font-size="6.4" font-weight="bold" text-anchor="end" fill="#000">0</text>
<text x="347.8" y="351.38" font-family="Liberation Sans, sans-serif" font-size="6.4" font-weight="bold" text-anchor="end" fill="#000">1</text>
<text x="347.8" y="342.06" font-family="Liberation Sans, sans-serif" font-size="6.4" font-weight="bold" text-anchor="end" fill="#000">2</text>
<text x="347.8" y="332.74" font-family="Liberation Sans, sans-serif" font-size="6.4" font-weight="bold" text-anchor="end" fill="#000">3</text>
<text x="347.8" y="323.42" font-family="Liberation Sans, sans-serif" font-size="6.4" font-weight="bold" text-anchor="end" fill="#000">4</text>
<text x="347.8" y="314.09999999999997" font-family="Liberation Sans, sans-serif" font-size="6.4" font-weight="bold" text-anchor="end" fill="#000">5</text>
<text x="347.8" y="304.78" font-family="Liberation Sans, sans-serif" font-size="6.4" font-weight="bold" text-anchor="end" fill="#000">6</text>
<text x="347.8" y="295.46" font-family="Liberation Sans, sans-serif" font-size="6.4" font-weight="bold" text-anchor="end" fill="#000">7</text>
<text x="347.8" y="286.14" font-family="Liberation Sans, sans-serif" font-size="6.4" font-weight="bold" text-anchor="end" fill="#000">8</text>
<text x="347.8" y="276.82" font-family="Liberation Sans, sans-serif" font-size="6.4" font-weight="bold" text-anchor="end" fill="#000">9</text>
<text x="347.8" y="267.5" font-family="Liberation Sans, sans-serif" font-size="6.4" font-weight="bold" text-anchor="end" fill="#000">10</text>
<text x="0" y="0" font-family="Liberation Sans, sans-serif" font-size="7.6" font-weight="bold" text-anchor="middle" fill="#000" transform="translate(336.2 309.4) rotate(-90)">p24  (ng/mL)</text>
<text x="0" y="0" font-family="Liberation Serif, serif" font-size="8.0" font-weight="bold" text-anchor="middle" fill="#000" transform="translate(370.6 373.0) scale(0.85 1)">4</text>
<text x="0" y="0" font-family="Liberation Serif, serif" font-size="8.0" font-weight="bold" text-anchor="middle" fill="#000" transform="translate(402.3 373.0) scale(0.85 1)">7</text>
<text x="0" y="0" font-family="Liberation Serif, serif" font-size="8.0" font-weight="bold" text-anchor="middle" fill="#000" transform="translate(434.8 373.0) scale(0.85 1)">12</text>
<text x="0" y="0" font-family="Liberation Serif, serif" font-size="8.0" font-weight="bold" text-anchor="middle" fill="#000" transform="translate(467.0 373.0) scale(0.85 1)">14</text>
<text x="0" y="0" font-family="Liberation Sans, sans-serif" font-size="7.8" font-weight="bold" text-anchor="middle" fill="#000" transform="translate(421.5 383.2) scale(0.97 1)">Days after coculture</text>
<polyline points="370.6,358.5 402.2,301.3 434.7,265.4 466.5,283.0" fill="none" stroke="#a07888" stroke-width="0.8"/>
<polyline points="370.6,358.8 402.2,359.2 434.7,358.4 466.5,358.5" fill="none" stroke="#a098c8" stroke-width="1.0"/>
<polyline points="370.6,358.6 402.2,358.9 434.7,358.2 466.5,358.2" fill="none" stroke="#404088" stroke-width="0.5"/>
<circle cx="402.2" cy="301.3" r="2.3" fill="#c8303a" stroke="none" stroke-width="1"/>
<circle cx="434.7" cy="265.4" r="2.3" fill="#c8303a" stroke="none" stroke-width="1"/>
<circle cx="466.5" cy="283.0" r="2.3" fill="#c8303a" stroke="none" stroke-width="1"/>
<circle cx="466.5" cy="358.2" r="1.0" fill="#202060" stroke="none" stroke-width="1"/>
<path d="M433.2 356.4 L436.2 359.4 M436.2 356.4 L433.2 359.4" stroke="#8a60b0" stroke-width="0.8"/>
<line x1="427.4" y1="314.4" x2="440" y2="314.4" stroke="#303080" stroke-width="0.8"/>
<circle cx="433.7" cy="314.4" r="1.0" fill="#202060" stroke="none" stroke-width="1"/>
<text x="443.3" y="316.8" font-family="Liberation Sans, sans-serif" font-size="6.4" font-weight="bold" text-anchor="start" fill="#000">Mock</text>
<line x1="427.4" y1="327.0" x2="440" y2="327.0" stroke="#a080c8" stroke-width="0.8"/>
<path d="M432 325.3 L435.4 328.7 M435.4 325.3 L432 328.7" stroke="#8a60b0" stroke-width="0.8"/>
<text x="443.3" y="329.4" font-family="Liberation Sans, sans-serif" font-size="6.4" font-weight="bold" text-anchor="start" fill="#000">Spleen</text>
<line x1="427.4" y1="339.2" x2="440" y2="339.2" stroke="#a07888" stroke-width="0.8"/>
<circle cx="433.7" cy="339.2" r="2.1" fill="#c8303a" stroke="none" stroke-width="1"/>
<text x="443.3" y="341.6" font-family="Liberation Sans, sans-serif" font-size="6.4" font-weight="bold" text-anchor="start" fill="#000">Thymus</text>
</svg></body></html>
